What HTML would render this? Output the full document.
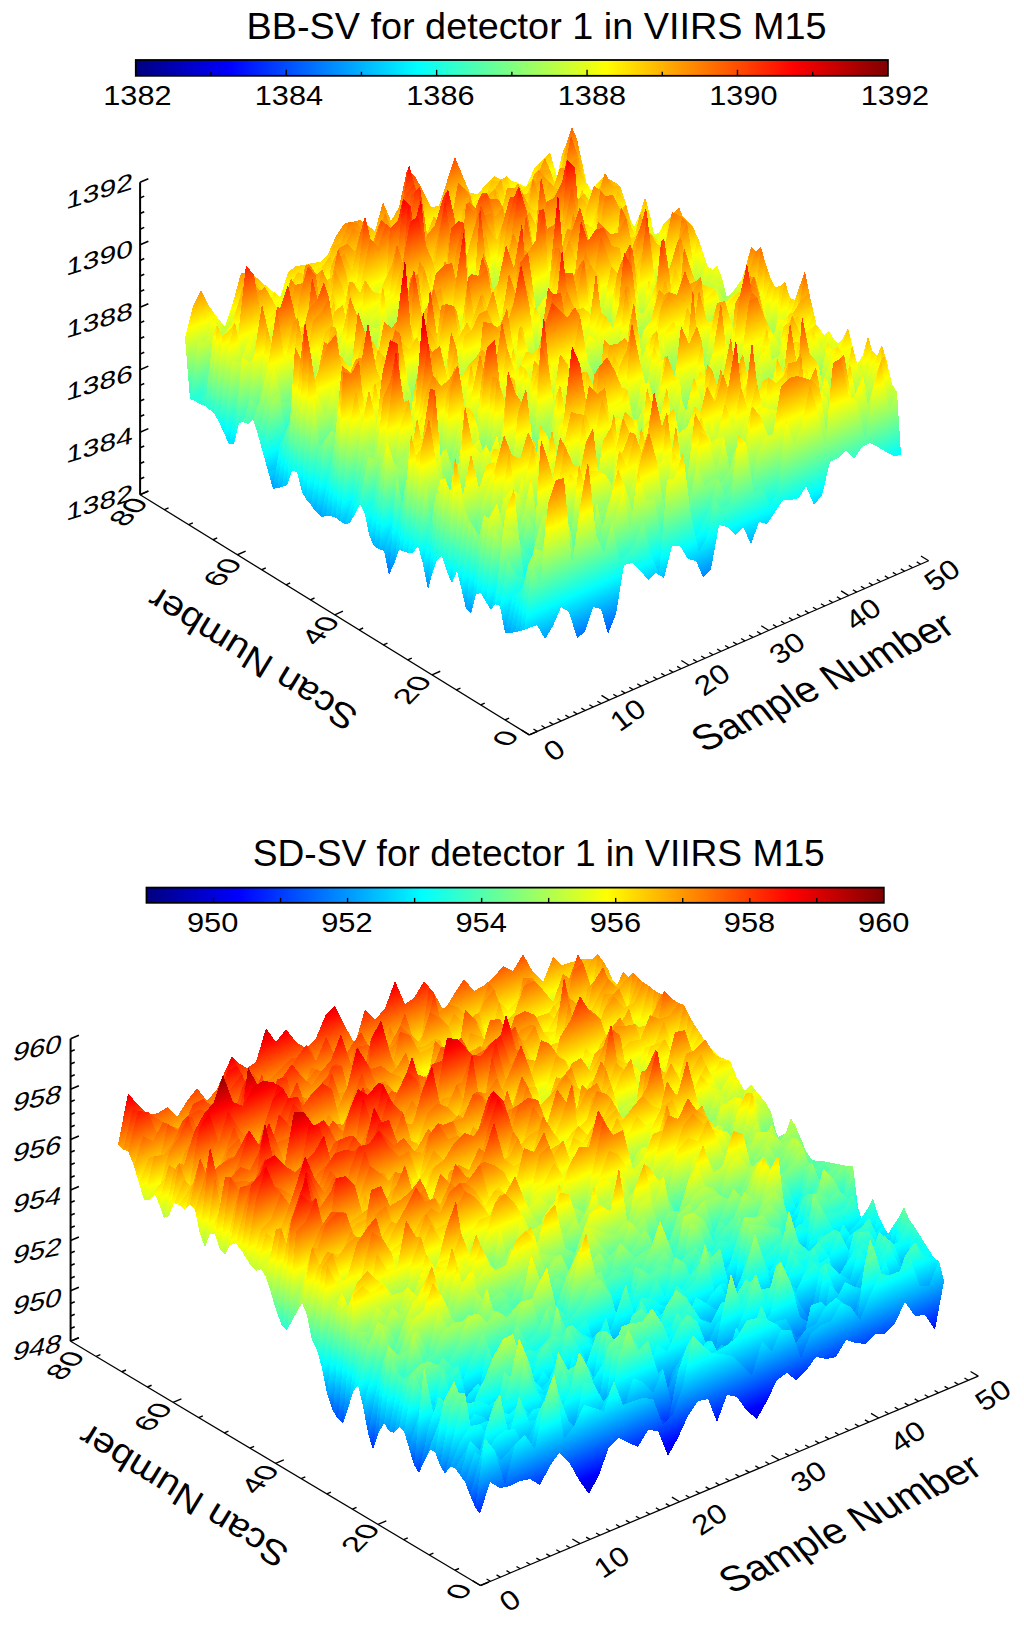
<!DOCTYPE html>
<html><head><meta charset="utf-8"><style>
html,body{margin:0;padding:0;background:#fff;overflow:hidden;width:1024px;height:1626px;}
svg{display:block;}
.s path{shape-rendering:crispEdges}
</style></head><body>
<svg width="1024" height="1626" viewBox="0 0 1024 1626">
<defs><linearGradient id="jetH1"><stop offset="0" stop-color="#000080"/><stop offset="0.125" stop-color="#0000ff"/><stop offset="0.375" stop-color="#00ffff"/><stop offset="0.625" stop-color="#ffff00"/><stop offset="0.875" stop-color="#ff0000"/><stop offset="1" stop-color="#800000"/></linearGradient>
<linearGradient id="jetH2"><stop offset="0" stop-color="#000080"/><stop offset="0.125" stop-color="#0000ff"/><stop offset="0.375" stop-color="#00ffff"/><stop offset="0.625" stop-color="#ffff00"/><stop offset="0.875" stop-color="#ff0000"/><stop offset="1" stop-color="#800000"/></linearGradient>
<linearGradient id="a70" gradientUnits="userSpaceOnUse" x1="187.8" y1="524.1" x2="73.3" y2="261.6"><stop offset="0" stop-color="#000080"/><stop offset="0.125" stop-color="#0000ff"/><stop offset="0.375" stop-color="#00ffff"/><stop offset="0.625" stop-color="#ffff00"/><stop offset="0.875" stop-color="#ff0000"/><stop offset="1" stop-color="#800000"/></linearGradient>
<linearGradient id="a69" gradientUnits="userSpaceOnUse" x1="192.6" y1="527.1" x2="78.2" y2="264.6"><stop offset="0" stop-color="#000080"/><stop offset="0.125" stop-color="#0000ff"/><stop offset="0.375" stop-color="#00ffff"/><stop offset="0.625" stop-color="#ffff00"/><stop offset="0.875" stop-color="#ff0000"/><stop offset="1" stop-color="#800000"/></linearGradient>
<linearGradient id="a68" gradientUnits="userSpaceOnUse" x1="197.5" y1="530.1" x2="83.0" y2="267.6"><stop offset="0" stop-color="#000080"/><stop offset="0.125" stop-color="#0000ff"/><stop offset="0.375" stop-color="#00ffff"/><stop offset="0.625" stop-color="#ffff00"/><stop offset="0.875" stop-color="#ff0000"/><stop offset="1" stop-color="#800000"/></linearGradient>
<linearGradient id="a67" gradientUnits="userSpaceOnUse" x1="202.3" y1="533.1" x2="87.8" y2="270.6"><stop offset="0" stop-color="#000080"/><stop offset="0.125" stop-color="#0000ff"/><stop offset="0.375" stop-color="#00ffff"/><stop offset="0.625" stop-color="#ffff00"/><stop offset="0.875" stop-color="#ff0000"/><stop offset="1" stop-color="#800000"/></linearGradient>
<linearGradient id="a66" gradientUnits="userSpaceOnUse" x1="207.1" y1="536.1" x2="92.7" y2="273.6"><stop offset="0" stop-color="#000080"/><stop offset="0.125" stop-color="#0000ff"/><stop offset="0.375" stop-color="#00ffff"/><stop offset="0.625" stop-color="#ffff00"/><stop offset="0.875" stop-color="#ff0000"/><stop offset="1" stop-color="#800000"/></linearGradient>
<linearGradient id="a65" gradientUnits="userSpaceOnUse" x1="212.0" y1="539.1" x2="97.5" y2="276.6"><stop offset="0" stop-color="#000080"/><stop offset="0.125" stop-color="#0000ff"/><stop offset="0.375" stop-color="#00ffff"/><stop offset="0.625" stop-color="#ffff00"/><stop offset="0.875" stop-color="#ff0000"/><stop offset="1" stop-color="#800000"/></linearGradient>
<linearGradient id="a64" gradientUnits="userSpaceOnUse" x1="216.8" y1="542.1" x2="102.4" y2="279.6"><stop offset="0" stop-color="#000080"/><stop offset="0.125" stop-color="#0000ff"/><stop offset="0.375" stop-color="#00ffff"/><stop offset="0.625" stop-color="#ffff00"/><stop offset="0.875" stop-color="#ff0000"/><stop offset="1" stop-color="#800000"/></linearGradient>
<linearGradient id="a63" gradientUnits="userSpaceOnUse" x1="221.7" y1="545.0" x2="107.2" y2="282.5"><stop offset="0" stop-color="#000080"/><stop offset="0.125" stop-color="#0000ff"/><stop offset="0.375" stop-color="#00ffff"/><stop offset="0.625" stop-color="#ffff00"/><stop offset="0.875" stop-color="#ff0000"/><stop offset="1" stop-color="#800000"/></linearGradient>
<linearGradient id="a62" gradientUnits="userSpaceOnUse" x1="226.5" y1="548.0" x2="112.1" y2="285.5"><stop offset="0" stop-color="#000080"/><stop offset="0.125" stop-color="#0000ff"/><stop offset="0.375" stop-color="#00ffff"/><stop offset="0.625" stop-color="#ffff00"/><stop offset="0.875" stop-color="#ff0000"/><stop offset="1" stop-color="#800000"/></linearGradient>
<linearGradient id="a61" gradientUnits="userSpaceOnUse" x1="231.4" y1="551.0" x2="116.9" y2="288.5"><stop offset="0" stop-color="#000080"/><stop offset="0.125" stop-color="#0000ff"/><stop offset="0.375" stop-color="#00ffff"/><stop offset="0.625" stop-color="#ffff00"/><stop offset="0.875" stop-color="#ff0000"/><stop offset="1" stop-color="#800000"/></linearGradient>
<linearGradient id="a60" gradientUnits="userSpaceOnUse" x1="236.2" y1="554.0" x2="121.8" y2="291.5"><stop offset="0" stop-color="#000080"/><stop offset="0.125" stop-color="#0000ff"/><stop offset="0.375" stop-color="#00ffff"/><stop offset="0.625" stop-color="#ffff00"/><stop offset="0.875" stop-color="#ff0000"/><stop offset="1" stop-color="#800000"/></linearGradient>
<linearGradient id="a59" gradientUnits="userSpaceOnUse" x1="241.1" y1="557.0" x2="126.6" y2="294.5"><stop offset="0" stop-color="#000080"/><stop offset="0.125" stop-color="#0000ff"/><stop offset="0.375" stop-color="#00ffff"/><stop offset="0.625" stop-color="#ffff00"/><stop offset="0.875" stop-color="#ff0000"/><stop offset="1" stop-color="#800000"/></linearGradient>
<linearGradient id="a58" gradientUnits="userSpaceOnUse" x1="245.9" y1="560.0" x2="131.4" y2="297.5"><stop offset="0" stop-color="#000080"/><stop offset="0.125" stop-color="#0000ff"/><stop offset="0.375" stop-color="#00ffff"/><stop offset="0.625" stop-color="#ffff00"/><stop offset="0.875" stop-color="#ff0000"/><stop offset="1" stop-color="#800000"/></linearGradient>
<linearGradient id="a57" gradientUnits="userSpaceOnUse" x1="250.7" y1="563.0" x2="136.3" y2="300.5"><stop offset="0" stop-color="#000080"/><stop offset="0.125" stop-color="#0000ff"/><stop offset="0.375" stop-color="#00ffff"/><stop offset="0.625" stop-color="#ffff00"/><stop offset="0.875" stop-color="#ff0000"/><stop offset="1" stop-color="#800000"/></linearGradient>
<linearGradient id="a56" gradientUnits="userSpaceOnUse" x1="255.6" y1="566.0" x2="141.1" y2="303.5"><stop offset="0" stop-color="#000080"/><stop offset="0.125" stop-color="#0000ff"/><stop offset="0.375" stop-color="#00ffff"/><stop offset="0.625" stop-color="#ffff00"/><stop offset="0.875" stop-color="#ff0000"/><stop offset="1" stop-color="#800000"/></linearGradient>
<linearGradient id="a55" gradientUnits="userSpaceOnUse" x1="260.4" y1="569.0" x2="146.0" y2="306.5"><stop offset="0" stop-color="#000080"/><stop offset="0.125" stop-color="#0000ff"/><stop offset="0.375" stop-color="#00ffff"/><stop offset="0.625" stop-color="#ffff00"/><stop offset="0.875" stop-color="#ff0000"/><stop offset="1" stop-color="#800000"/></linearGradient>
<linearGradient id="a54" gradientUnits="userSpaceOnUse" x1="265.3" y1="572.0" x2="150.8" y2="309.5"><stop offset="0" stop-color="#000080"/><stop offset="0.125" stop-color="#0000ff"/><stop offset="0.375" stop-color="#00ffff"/><stop offset="0.625" stop-color="#ffff00"/><stop offset="0.875" stop-color="#ff0000"/><stop offset="1" stop-color="#800000"/></linearGradient>
<linearGradient id="a53" gradientUnits="userSpaceOnUse" x1="270.1" y1="574.9" x2="155.7" y2="312.4"><stop offset="0" stop-color="#000080"/><stop offset="0.125" stop-color="#0000ff"/><stop offset="0.375" stop-color="#00ffff"/><stop offset="0.625" stop-color="#ffff00"/><stop offset="0.875" stop-color="#ff0000"/><stop offset="1" stop-color="#800000"/></linearGradient>
<linearGradient id="a52" gradientUnits="userSpaceOnUse" x1="275.0" y1="577.9" x2="160.5" y2="315.4"><stop offset="0" stop-color="#000080"/><stop offset="0.125" stop-color="#0000ff"/><stop offset="0.375" stop-color="#00ffff"/><stop offset="0.625" stop-color="#ffff00"/><stop offset="0.875" stop-color="#ff0000"/><stop offset="1" stop-color="#800000"/></linearGradient>
<linearGradient id="a51" gradientUnits="userSpaceOnUse" x1="279.8" y1="580.9" x2="165.4" y2="318.4"><stop offset="0" stop-color="#000080"/><stop offset="0.125" stop-color="#0000ff"/><stop offset="0.375" stop-color="#00ffff"/><stop offset="0.625" stop-color="#ffff00"/><stop offset="0.875" stop-color="#ff0000"/><stop offset="1" stop-color="#800000"/></linearGradient>
<linearGradient id="a50" gradientUnits="userSpaceOnUse" x1="284.7" y1="583.9" x2="170.2" y2="321.4"><stop offset="0" stop-color="#000080"/><stop offset="0.125" stop-color="#0000ff"/><stop offset="0.375" stop-color="#00ffff"/><stop offset="0.625" stop-color="#ffff00"/><stop offset="0.875" stop-color="#ff0000"/><stop offset="1" stop-color="#800000"/></linearGradient>
<linearGradient id="a49" gradientUnits="userSpaceOnUse" x1="289.5" y1="586.9" x2="175.0" y2="324.4"><stop offset="0" stop-color="#000080"/><stop offset="0.125" stop-color="#0000ff"/><stop offset="0.375" stop-color="#00ffff"/><stop offset="0.625" stop-color="#ffff00"/><stop offset="0.875" stop-color="#ff0000"/><stop offset="1" stop-color="#800000"/></linearGradient>
<linearGradient id="a48" gradientUnits="userSpaceOnUse" x1="294.3" y1="589.9" x2="179.9" y2="327.4"><stop offset="0" stop-color="#000080"/><stop offset="0.125" stop-color="#0000ff"/><stop offset="0.375" stop-color="#00ffff"/><stop offset="0.625" stop-color="#ffff00"/><stop offset="0.875" stop-color="#ff0000"/><stop offset="1" stop-color="#800000"/></linearGradient>
<linearGradient id="a47" gradientUnits="userSpaceOnUse" x1="299.2" y1="592.9" x2="184.7" y2="330.4"><stop offset="0" stop-color="#000080"/><stop offset="0.125" stop-color="#0000ff"/><stop offset="0.375" stop-color="#00ffff"/><stop offset="0.625" stop-color="#ffff00"/><stop offset="0.875" stop-color="#ff0000"/><stop offset="1" stop-color="#800000"/></linearGradient>
<linearGradient id="a46" gradientUnits="userSpaceOnUse" x1="304.0" y1="595.9" x2="189.6" y2="333.4"><stop offset="0" stop-color="#000080"/><stop offset="0.125" stop-color="#0000ff"/><stop offset="0.375" stop-color="#00ffff"/><stop offset="0.625" stop-color="#ffff00"/><stop offset="0.875" stop-color="#ff0000"/><stop offset="1" stop-color="#800000"/></linearGradient>
<linearGradient id="a45" gradientUnits="userSpaceOnUse" x1="308.9" y1="598.9" x2="194.4" y2="336.4"><stop offset="0" stop-color="#000080"/><stop offset="0.125" stop-color="#0000ff"/><stop offset="0.375" stop-color="#00ffff"/><stop offset="0.625" stop-color="#ffff00"/><stop offset="0.875" stop-color="#ff0000"/><stop offset="1" stop-color="#800000"/></linearGradient>
<linearGradient id="a44" gradientUnits="userSpaceOnUse" x1="313.7" y1="601.9" x2="199.3" y2="339.4"><stop offset="0" stop-color="#000080"/><stop offset="0.125" stop-color="#0000ff"/><stop offset="0.375" stop-color="#00ffff"/><stop offset="0.625" stop-color="#ffff00"/><stop offset="0.875" stop-color="#ff0000"/><stop offset="1" stop-color="#800000"/></linearGradient>
<linearGradient id="a43" gradientUnits="userSpaceOnUse" x1="318.6" y1="604.8" x2="204.1" y2="342.3"><stop offset="0" stop-color="#000080"/><stop offset="0.125" stop-color="#0000ff"/><stop offset="0.375" stop-color="#00ffff"/><stop offset="0.625" stop-color="#ffff00"/><stop offset="0.875" stop-color="#ff0000"/><stop offset="1" stop-color="#800000"/></linearGradient>
<linearGradient id="a42" gradientUnits="userSpaceOnUse" x1="323.4" y1="607.8" x2="209.0" y2="345.3"><stop offset="0" stop-color="#000080"/><stop offset="0.125" stop-color="#0000ff"/><stop offset="0.375" stop-color="#00ffff"/><stop offset="0.625" stop-color="#ffff00"/><stop offset="0.875" stop-color="#ff0000"/><stop offset="1" stop-color="#800000"/></linearGradient>
<linearGradient id="a41" gradientUnits="userSpaceOnUse" x1="328.3" y1="610.8" x2="213.8" y2="348.3"><stop offset="0" stop-color="#000080"/><stop offset="0.125" stop-color="#0000ff"/><stop offset="0.375" stop-color="#00ffff"/><stop offset="0.625" stop-color="#ffff00"/><stop offset="0.875" stop-color="#ff0000"/><stop offset="1" stop-color="#800000"/></linearGradient>
<linearGradient id="a40" gradientUnits="userSpaceOnUse" x1="333.1" y1="613.8" x2="218.6" y2="351.3"><stop offset="0" stop-color="#000080"/><stop offset="0.125" stop-color="#0000ff"/><stop offset="0.375" stop-color="#00ffff"/><stop offset="0.625" stop-color="#ffff00"/><stop offset="0.875" stop-color="#ff0000"/><stop offset="1" stop-color="#800000"/></linearGradient>
<linearGradient id="a39" gradientUnits="userSpaceOnUse" x1="337.9" y1="616.8" x2="223.5" y2="354.3"><stop offset="0" stop-color="#000080"/><stop offset="0.125" stop-color="#0000ff"/><stop offset="0.375" stop-color="#00ffff"/><stop offset="0.625" stop-color="#ffff00"/><stop offset="0.875" stop-color="#ff0000"/><stop offset="1" stop-color="#800000"/></linearGradient>
<linearGradient id="a38" gradientUnits="userSpaceOnUse" x1="342.8" y1="619.8" x2="228.3" y2="357.3"><stop offset="0" stop-color="#000080"/><stop offset="0.125" stop-color="#0000ff"/><stop offset="0.375" stop-color="#00ffff"/><stop offset="0.625" stop-color="#ffff00"/><stop offset="0.875" stop-color="#ff0000"/><stop offset="1" stop-color="#800000"/></linearGradient>
<linearGradient id="a37" gradientUnits="userSpaceOnUse" x1="347.6" y1="622.8" x2="233.2" y2="360.3"><stop offset="0" stop-color="#000080"/><stop offset="0.125" stop-color="#0000ff"/><stop offset="0.375" stop-color="#00ffff"/><stop offset="0.625" stop-color="#ffff00"/><stop offset="0.875" stop-color="#ff0000"/><stop offset="1" stop-color="#800000"/></linearGradient>
<linearGradient id="a36" gradientUnits="userSpaceOnUse" x1="352.5" y1="625.8" x2="238.0" y2="363.3"><stop offset="0" stop-color="#000080"/><stop offset="0.125" stop-color="#0000ff"/><stop offset="0.375" stop-color="#00ffff"/><stop offset="0.625" stop-color="#ffff00"/><stop offset="0.875" stop-color="#ff0000"/><stop offset="1" stop-color="#800000"/></linearGradient>
<linearGradient id="a35" gradientUnits="userSpaceOnUse" x1="357.3" y1="628.8" x2="242.9" y2="366.3"><stop offset="0" stop-color="#000080"/><stop offset="0.125" stop-color="#0000ff"/><stop offset="0.375" stop-color="#00ffff"/><stop offset="0.625" stop-color="#ffff00"/><stop offset="0.875" stop-color="#ff0000"/><stop offset="1" stop-color="#800000"/></linearGradient>
<linearGradient id="a34" gradientUnits="userSpaceOnUse" x1="362.2" y1="631.8" x2="247.7" y2="369.3"><stop offset="0" stop-color="#000080"/><stop offset="0.125" stop-color="#0000ff"/><stop offset="0.375" stop-color="#00ffff"/><stop offset="0.625" stop-color="#ffff00"/><stop offset="0.875" stop-color="#ff0000"/><stop offset="1" stop-color="#800000"/></linearGradient>
<linearGradient id="a33" gradientUnits="userSpaceOnUse" x1="367.0" y1="634.7" x2="252.6" y2="372.2"><stop offset="0" stop-color="#000080"/><stop offset="0.125" stop-color="#0000ff"/><stop offset="0.375" stop-color="#00ffff"/><stop offset="0.625" stop-color="#ffff00"/><stop offset="0.875" stop-color="#ff0000"/><stop offset="1" stop-color="#800000"/></linearGradient>
<linearGradient id="a32" gradientUnits="userSpaceOnUse" x1="371.9" y1="637.7" x2="257.4" y2="375.2"><stop offset="0" stop-color="#000080"/><stop offset="0.125" stop-color="#0000ff"/><stop offset="0.375" stop-color="#00ffff"/><stop offset="0.625" stop-color="#ffff00"/><stop offset="0.875" stop-color="#ff0000"/><stop offset="1" stop-color="#800000"/></linearGradient>
<linearGradient id="a31" gradientUnits="userSpaceOnUse" x1="376.7" y1="640.7" x2="262.2" y2="378.2"><stop offset="0" stop-color="#000080"/><stop offset="0.125" stop-color="#0000ff"/><stop offset="0.375" stop-color="#00ffff"/><stop offset="0.625" stop-color="#ffff00"/><stop offset="0.875" stop-color="#ff0000"/><stop offset="1" stop-color="#800000"/></linearGradient>
<linearGradient id="a30" gradientUnits="userSpaceOnUse" x1="381.5" y1="643.7" x2="267.1" y2="381.2"><stop offset="0" stop-color="#000080"/><stop offset="0.125" stop-color="#0000ff"/><stop offset="0.375" stop-color="#00ffff"/><stop offset="0.625" stop-color="#ffff00"/><stop offset="0.875" stop-color="#ff0000"/><stop offset="1" stop-color="#800000"/></linearGradient>
<linearGradient id="a29" gradientUnits="userSpaceOnUse" x1="386.4" y1="646.7" x2="271.9" y2="384.2"><stop offset="0" stop-color="#000080"/><stop offset="0.125" stop-color="#0000ff"/><stop offset="0.375" stop-color="#00ffff"/><stop offset="0.625" stop-color="#ffff00"/><stop offset="0.875" stop-color="#ff0000"/><stop offset="1" stop-color="#800000"/></linearGradient>
<linearGradient id="a28" gradientUnits="userSpaceOnUse" x1="391.2" y1="649.7" x2="276.8" y2="387.2"><stop offset="0" stop-color="#000080"/><stop offset="0.125" stop-color="#0000ff"/><stop offset="0.375" stop-color="#00ffff"/><stop offset="0.625" stop-color="#ffff00"/><stop offset="0.875" stop-color="#ff0000"/><stop offset="1" stop-color="#800000"/></linearGradient>
<linearGradient id="a27" gradientUnits="userSpaceOnUse" x1="396.1" y1="652.7" x2="281.6" y2="390.2"><stop offset="0" stop-color="#000080"/><stop offset="0.125" stop-color="#0000ff"/><stop offset="0.375" stop-color="#00ffff"/><stop offset="0.625" stop-color="#ffff00"/><stop offset="0.875" stop-color="#ff0000"/><stop offset="1" stop-color="#800000"/></linearGradient>
<linearGradient id="a26" gradientUnits="userSpaceOnUse" x1="400.9" y1="655.7" x2="286.5" y2="393.2"><stop offset="0" stop-color="#000080"/><stop offset="0.125" stop-color="#0000ff"/><stop offset="0.375" stop-color="#00ffff"/><stop offset="0.625" stop-color="#ffff00"/><stop offset="0.875" stop-color="#ff0000"/><stop offset="1" stop-color="#800000"/></linearGradient>
<linearGradient id="a25" gradientUnits="userSpaceOnUse" x1="405.8" y1="658.7" x2="291.3" y2="396.2"><stop offset="0" stop-color="#000080"/><stop offset="0.125" stop-color="#0000ff"/><stop offset="0.375" stop-color="#00ffff"/><stop offset="0.625" stop-color="#ffff00"/><stop offset="0.875" stop-color="#ff0000"/><stop offset="1" stop-color="#800000"/></linearGradient>
<linearGradient id="a24" gradientUnits="userSpaceOnUse" x1="410.6" y1="661.6" x2="296.2" y2="399.2"><stop offset="0" stop-color="#000080"/><stop offset="0.125" stop-color="#0000ff"/><stop offset="0.375" stop-color="#00ffff"/><stop offset="0.625" stop-color="#ffff00"/><stop offset="0.875" stop-color="#ff0000"/><stop offset="1" stop-color="#800000"/></linearGradient>
<linearGradient id="a23" gradientUnits="userSpaceOnUse" x1="415.5" y1="664.6" x2="301.0" y2="402.1"><stop offset="0" stop-color="#000080"/><stop offset="0.125" stop-color="#0000ff"/><stop offset="0.375" stop-color="#00ffff"/><stop offset="0.625" stop-color="#ffff00"/><stop offset="0.875" stop-color="#ff0000"/><stop offset="1" stop-color="#800000"/></linearGradient>
<linearGradient id="a22" gradientUnits="userSpaceOnUse" x1="420.3" y1="667.6" x2="305.8" y2="405.1"><stop offset="0" stop-color="#000080"/><stop offset="0.125" stop-color="#0000ff"/><stop offset="0.375" stop-color="#00ffff"/><stop offset="0.625" stop-color="#ffff00"/><stop offset="0.875" stop-color="#ff0000"/><stop offset="1" stop-color="#800000"/></linearGradient>
<linearGradient id="a21" gradientUnits="userSpaceOnUse" x1="425.1" y1="670.6" x2="310.7" y2="408.1"><stop offset="0" stop-color="#000080"/><stop offset="0.125" stop-color="#0000ff"/><stop offset="0.375" stop-color="#00ffff"/><stop offset="0.625" stop-color="#ffff00"/><stop offset="0.875" stop-color="#ff0000"/><stop offset="1" stop-color="#800000"/></linearGradient>
<linearGradient id="a20" gradientUnits="userSpaceOnUse" x1="430.0" y1="673.6" x2="315.5" y2="411.1"><stop offset="0" stop-color="#000080"/><stop offset="0.125" stop-color="#0000ff"/><stop offset="0.375" stop-color="#00ffff"/><stop offset="0.625" stop-color="#ffff00"/><stop offset="0.875" stop-color="#ff0000"/><stop offset="1" stop-color="#800000"/></linearGradient>
<linearGradient id="a19" gradientUnits="userSpaceOnUse" x1="434.8" y1="676.6" x2="320.4" y2="414.1"><stop offset="0" stop-color="#000080"/><stop offset="0.125" stop-color="#0000ff"/><stop offset="0.375" stop-color="#00ffff"/><stop offset="0.625" stop-color="#ffff00"/><stop offset="0.875" stop-color="#ff0000"/><stop offset="1" stop-color="#800000"/></linearGradient>
<linearGradient id="a18" gradientUnits="userSpaceOnUse" x1="439.7" y1="679.6" x2="325.2" y2="417.1"><stop offset="0" stop-color="#000080"/><stop offset="0.125" stop-color="#0000ff"/><stop offset="0.375" stop-color="#00ffff"/><stop offset="0.625" stop-color="#ffff00"/><stop offset="0.875" stop-color="#ff0000"/><stop offset="1" stop-color="#800000"/></linearGradient>
<linearGradient id="a17" gradientUnits="userSpaceOnUse" x1="444.5" y1="682.6" x2="330.1" y2="420.1"><stop offset="0" stop-color="#000080"/><stop offset="0.125" stop-color="#0000ff"/><stop offset="0.375" stop-color="#00ffff"/><stop offset="0.625" stop-color="#ffff00"/><stop offset="0.875" stop-color="#ff0000"/><stop offset="1" stop-color="#800000"/></linearGradient>
<linearGradient id="a16" gradientUnits="userSpaceOnUse" x1="449.4" y1="685.6" x2="334.9" y2="423.1"><stop offset="0" stop-color="#000080"/><stop offset="0.125" stop-color="#0000ff"/><stop offset="0.375" stop-color="#00ffff"/><stop offset="0.625" stop-color="#ffff00"/><stop offset="0.875" stop-color="#ff0000"/><stop offset="1" stop-color="#800000"/></linearGradient>
<linearGradient id="a15" gradientUnits="userSpaceOnUse" x1="454.2" y1="688.6" x2="339.8" y2="426.1"><stop offset="0" stop-color="#000080"/><stop offset="0.125" stop-color="#0000ff"/><stop offset="0.375" stop-color="#00ffff"/><stop offset="0.625" stop-color="#ffff00"/><stop offset="0.875" stop-color="#ff0000"/><stop offset="1" stop-color="#800000"/></linearGradient>
<linearGradient id="a14" gradientUnits="userSpaceOnUse" x1="459.1" y1="691.5" x2="344.6" y2="429.1"><stop offset="0" stop-color="#000080"/><stop offset="0.125" stop-color="#0000ff"/><stop offset="0.375" stop-color="#00ffff"/><stop offset="0.625" stop-color="#ffff00"/><stop offset="0.875" stop-color="#ff0000"/><stop offset="1" stop-color="#800000"/></linearGradient>
<linearGradient id="a13" gradientUnits="userSpaceOnUse" x1="463.9" y1="694.5" x2="349.4" y2="432.0"><stop offset="0" stop-color="#000080"/><stop offset="0.125" stop-color="#0000ff"/><stop offset="0.375" stop-color="#00ffff"/><stop offset="0.625" stop-color="#ffff00"/><stop offset="0.875" stop-color="#ff0000"/><stop offset="1" stop-color="#800000"/></linearGradient>
<linearGradient id="a12" gradientUnits="userSpaceOnUse" x1="468.7" y1="697.5" x2="354.3" y2="435.0"><stop offset="0" stop-color="#000080"/><stop offset="0.125" stop-color="#0000ff"/><stop offset="0.375" stop-color="#00ffff"/><stop offset="0.625" stop-color="#ffff00"/><stop offset="0.875" stop-color="#ff0000"/><stop offset="1" stop-color="#800000"/></linearGradient>
<linearGradient id="a11" gradientUnits="userSpaceOnUse" x1="473.6" y1="700.5" x2="359.1" y2="438.0"><stop offset="0" stop-color="#000080"/><stop offset="0.125" stop-color="#0000ff"/><stop offset="0.375" stop-color="#00ffff"/><stop offset="0.625" stop-color="#ffff00"/><stop offset="0.875" stop-color="#ff0000"/><stop offset="1" stop-color="#800000"/></linearGradient>
<linearGradient id="a10" gradientUnits="userSpaceOnUse" x1="478.4" y1="703.5" x2="364.0" y2="441.0"><stop offset="0" stop-color="#000080"/><stop offset="0.125" stop-color="#0000ff"/><stop offset="0.375" stop-color="#00ffff"/><stop offset="0.625" stop-color="#ffff00"/><stop offset="0.875" stop-color="#ff0000"/><stop offset="1" stop-color="#800000"/></linearGradient>
<linearGradient id="a9" gradientUnits="userSpaceOnUse" x1="483.3" y1="706.5" x2="368.8" y2="444.0"><stop offset="0" stop-color="#000080"/><stop offset="0.125" stop-color="#0000ff"/><stop offset="0.375" stop-color="#00ffff"/><stop offset="0.625" stop-color="#ffff00"/><stop offset="0.875" stop-color="#ff0000"/><stop offset="1" stop-color="#800000"/></linearGradient>
<linearGradient id="a8" gradientUnits="userSpaceOnUse" x1="488.1" y1="709.5" x2="373.7" y2="447.0"><stop offset="0" stop-color="#000080"/><stop offset="0.125" stop-color="#0000ff"/><stop offset="0.375" stop-color="#00ffff"/><stop offset="0.625" stop-color="#ffff00"/><stop offset="0.875" stop-color="#ff0000"/><stop offset="1" stop-color="#800000"/></linearGradient>
<linearGradient id="a7" gradientUnits="userSpaceOnUse" x1="493.0" y1="712.5" x2="378.5" y2="450.0"><stop offset="0" stop-color="#000080"/><stop offset="0.125" stop-color="#0000ff"/><stop offset="0.375" stop-color="#00ffff"/><stop offset="0.625" stop-color="#ffff00"/><stop offset="0.875" stop-color="#ff0000"/><stop offset="1" stop-color="#800000"/></linearGradient>
<linearGradient id="a6" gradientUnits="userSpaceOnUse" x1="497.8" y1="715.5" x2="383.4" y2="453.0"><stop offset="0" stop-color="#000080"/><stop offset="0.125" stop-color="#0000ff"/><stop offset="0.375" stop-color="#00ffff"/><stop offset="0.625" stop-color="#ffff00"/><stop offset="0.875" stop-color="#ff0000"/><stop offset="1" stop-color="#800000"/></linearGradient>
<linearGradient id="a5" gradientUnits="userSpaceOnUse" x1="502.7" y1="718.5" x2="388.2" y2="456.0"><stop offset="0" stop-color="#000080"/><stop offset="0.125" stop-color="#0000ff"/><stop offset="0.375" stop-color="#00ffff"/><stop offset="0.625" stop-color="#ffff00"/><stop offset="0.875" stop-color="#ff0000"/><stop offset="1" stop-color="#800000"/></linearGradient>
<linearGradient id="a4" gradientUnits="userSpaceOnUse" x1="507.5" y1="721.4" x2="393.0" y2="458.9"><stop offset="0" stop-color="#000080"/><stop offset="0.125" stop-color="#0000ff"/><stop offset="0.375" stop-color="#00ffff"/><stop offset="0.625" stop-color="#ffff00"/><stop offset="0.875" stop-color="#ff0000"/><stop offset="1" stop-color="#800000"/></linearGradient>
<linearGradient id="a3" gradientUnits="userSpaceOnUse" x1="512.3" y1="724.4" x2="397.9" y2="461.9"><stop offset="0" stop-color="#000080"/><stop offset="0.125" stop-color="#0000ff"/><stop offset="0.375" stop-color="#00ffff"/><stop offset="0.625" stop-color="#ffff00"/><stop offset="0.875" stop-color="#ff0000"/><stop offset="1" stop-color="#800000"/></linearGradient>
<linearGradient id="a2" gradientUnits="userSpaceOnUse" x1="517.2" y1="727.4" x2="402.7" y2="464.9"><stop offset="0" stop-color="#000080"/><stop offset="0.125" stop-color="#0000ff"/><stop offset="0.375" stop-color="#00ffff"/><stop offset="0.625" stop-color="#ffff00"/><stop offset="0.875" stop-color="#ff0000"/><stop offset="1" stop-color="#800000"/></linearGradient>
<linearGradient id="a1" gradientUnits="userSpaceOnUse" x1="522.0" y1="730.4" x2="407.6" y2="467.9"><stop offset="0" stop-color="#000080"/><stop offset="0.125" stop-color="#0000ff"/><stop offset="0.375" stop-color="#00ffff"/><stop offset="0.625" stop-color="#ffff00"/><stop offset="0.875" stop-color="#ff0000"/><stop offset="1" stop-color="#800000"/></linearGradient>
<linearGradient id="a0" gradientUnits="userSpaceOnUse" x1="526.9" y1="733.4" x2="412.4" y2="470.9"><stop offset="0" stop-color="#000080"/><stop offset="0.125" stop-color="#0000ff"/><stop offset="0.375" stop-color="#00ffff"/><stop offset="0.625" stop-color="#ffff00"/><stop offset="0.875" stop-color="#ff0000"/><stop offset="1" stop-color="#800000"/></linearGradient>
<linearGradient id="b70" gradientUnits="userSpaceOnUse" x1="120.8" y1="1345.9" x2="21.7" y2="1110.4"><stop offset="0" stop-color="#000080"/><stop offset="0.125" stop-color="#0000ff"/><stop offset="0.375" stop-color="#00ffff"/><stop offset="0.625" stop-color="#ffff00"/><stop offset="0.875" stop-color="#ff0000"/><stop offset="1" stop-color="#800000"/></linearGradient>
<linearGradient id="b69" gradientUnits="userSpaceOnUse" x1="125.9" y1="1349.0" x2="26.8" y2="1113.4"><stop offset="0" stop-color="#000080"/><stop offset="0.125" stop-color="#0000ff"/><stop offset="0.375" stop-color="#00ffff"/><stop offset="0.625" stop-color="#ffff00"/><stop offset="0.875" stop-color="#ff0000"/><stop offset="1" stop-color="#800000"/></linearGradient>
<linearGradient id="b68" gradientUnits="userSpaceOnUse" x1="131.0" y1="1352.0" x2="31.9" y2="1116.5"><stop offset="0" stop-color="#000080"/><stop offset="0.125" stop-color="#0000ff"/><stop offset="0.375" stop-color="#00ffff"/><stop offset="0.625" stop-color="#ffff00"/><stop offset="0.875" stop-color="#ff0000"/><stop offset="1" stop-color="#800000"/></linearGradient>
<linearGradient id="b67" gradientUnits="userSpaceOnUse" x1="136.1" y1="1355.0" x2="37.0" y2="1119.5"><stop offset="0" stop-color="#000080"/><stop offset="0.125" stop-color="#0000ff"/><stop offset="0.375" stop-color="#00ffff"/><stop offset="0.625" stop-color="#ffff00"/><stop offset="0.875" stop-color="#ff0000"/><stop offset="1" stop-color="#800000"/></linearGradient>
<linearGradient id="b66" gradientUnits="userSpaceOnUse" x1="141.2" y1="1358.1" x2="42.1" y2="1122.6"><stop offset="0" stop-color="#000080"/><stop offset="0.125" stop-color="#0000ff"/><stop offset="0.375" stop-color="#00ffff"/><stop offset="0.625" stop-color="#ffff00"/><stop offset="0.875" stop-color="#ff0000"/><stop offset="1" stop-color="#800000"/></linearGradient>
<linearGradient id="b65" gradientUnits="userSpaceOnUse" x1="146.3" y1="1361.1" x2="47.2" y2="1125.6"><stop offset="0" stop-color="#000080"/><stop offset="0.125" stop-color="#0000ff"/><stop offset="0.375" stop-color="#00ffff"/><stop offset="0.625" stop-color="#ffff00"/><stop offset="0.875" stop-color="#ff0000"/><stop offset="1" stop-color="#800000"/></linearGradient>
<linearGradient id="b64" gradientUnits="userSpaceOnUse" x1="151.4" y1="1364.2" x2="52.3" y2="1128.6"><stop offset="0" stop-color="#000080"/><stop offset="0.125" stop-color="#0000ff"/><stop offset="0.375" stop-color="#00ffff"/><stop offset="0.625" stop-color="#ffff00"/><stop offset="0.875" stop-color="#ff0000"/><stop offset="1" stop-color="#800000"/></linearGradient>
<linearGradient id="b63" gradientUnits="userSpaceOnUse" x1="156.5" y1="1367.2" x2="57.4" y2="1131.7"><stop offset="0" stop-color="#000080"/><stop offset="0.125" stop-color="#0000ff"/><stop offset="0.375" stop-color="#00ffff"/><stop offset="0.625" stop-color="#ffff00"/><stop offset="0.875" stop-color="#ff0000"/><stop offset="1" stop-color="#800000"/></linearGradient>
<linearGradient id="b62" gradientUnits="userSpaceOnUse" x1="161.6" y1="1370.2" x2="62.5" y2="1134.7"><stop offset="0" stop-color="#000080"/><stop offset="0.125" stop-color="#0000ff"/><stop offset="0.375" stop-color="#00ffff"/><stop offset="0.625" stop-color="#ffff00"/><stop offset="0.875" stop-color="#ff0000"/><stop offset="1" stop-color="#800000"/></linearGradient>
<linearGradient id="b61" gradientUnits="userSpaceOnUse" x1="166.7" y1="1373.3" x2="67.6" y2="1137.8"><stop offset="0" stop-color="#000080"/><stop offset="0.125" stop-color="#0000ff"/><stop offset="0.375" stop-color="#00ffff"/><stop offset="0.625" stop-color="#ffff00"/><stop offset="0.875" stop-color="#ff0000"/><stop offset="1" stop-color="#800000"/></linearGradient>
<linearGradient id="b60" gradientUnits="userSpaceOnUse" x1="171.8" y1="1376.3" x2="72.7" y2="1140.8"><stop offset="0" stop-color="#000080"/><stop offset="0.125" stop-color="#0000ff"/><stop offset="0.375" stop-color="#00ffff"/><stop offset="0.625" stop-color="#ffff00"/><stop offset="0.875" stop-color="#ff0000"/><stop offset="1" stop-color="#800000"/></linearGradient>
<linearGradient id="b59" gradientUnits="userSpaceOnUse" x1="176.9" y1="1379.4" x2="77.9" y2="1143.8"><stop offset="0" stop-color="#000080"/><stop offset="0.125" stop-color="#0000ff"/><stop offset="0.375" stop-color="#00ffff"/><stop offset="0.625" stop-color="#ffff00"/><stop offset="0.875" stop-color="#ff0000"/><stop offset="1" stop-color="#800000"/></linearGradient>
<linearGradient id="b58" gradientUnits="userSpaceOnUse" x1="182.0" y1="1382.4" x2="83.0" y2="1146.9"><stop offset="0" stop-color="#000080"/><stop offset="0.125" stop-color="#0000ff"/><stop offset="0.375" stop-color="#00ffff"/><stop offset="0.625" stop-color="#ffff00"/><stop offset="0.875" stop-color="#ff0000"/><stop offset="1" stop-color="#800000"/></linearGradient>
<linearGradient id="b57" gradientUnits="userSpaceOnUse" x1="187.1" y1="1385.5" x2="88.1" y2="1149.9"><stop offset="0" stop-color="#000080"/><stop offset="0.125" stop-color="#0000ff"/><stop offset="0.375" stop-color="#00ffff"/><stop offset="0.625" stop-color="#ffff00"/><stop offset="0.875" stop-color="#ff0000"/><stop offset="1" stop-color="#800000"/></linearGradient>
<linearGradient id="b56" gradientUnits="userSpaceOnUse" x1="192.2" y1="1388.5" x2="93.2" y2="1153.0"><stop offset="0" stop-color="#000080"/><stop offset="0.125" stop-color="#0000ff"/><stop offset="0.375" stop-color="#00ffff"/><stop offset="0.625" stop-color="#ffff00"/><stop offset="0.875" stop-color="#ff0000"/><stop offset="1" stop-color="#800000"/></linearGradient>
<linearGradient id="b55" gradientUnits="userSpaceOnUse" x1="197.3" y1="1391.5" x2="98.3" y2="1156.0"><stop offset="0" stop-color="#000080"/><stop offset="0.125" stop-color="#0000ff"/><stop offset="0.375" stop-color="#00ffff"/><stop offset="0.625" stop-color="#ffff00"/><stop offset="0.875" stop-color="#ff0000"/><stop offset="1" stop-color="#800000"/></linearGradient>
<linearGradient id="b54" gradientUnits="userSpaceOnUse" x1="202.4" y1="1394.6" x2="103.4" y2="1159.0"><stop offset="0" stop-color="#000080"/><stop offset="0.125" stop-color="#0000ff"/><stop offset="0.375" stop-color="#00ffff"/><stop offset="0.625" stop-color="#ffff00"/><stop offset="0.875" stop-color="#ff0000"/><stop offset="1" stop-color="#800000"/></linearGradient>
<linearGradient id="b53" gradientUnits="userSpaceOnUse" x1="207.5" y1="1397.6" x2="108.5" y2="1162.1"><stop offset="0" stop-color="#000080"/><stop offset="0.125" stop-color="#0000ff"/><stop offset="0.375" stop-color="#00ffff"/><stop offset="0.625" stop-color="#ffff00"/><stop offset="0.875" stop-color="#ff0000"/><stop offset="1" stop-color="#800000"/></linearGradient>
<linearGradient id="b52" gradientUnits="userSpaceOnUse" x1="212.6" y1="1400.7" x2="113.6" y2="1165.1"><stop offset="0" stop-color="#000080"/><stop offset="0.125" stop-color="#0000ff"/><stop offset="0.375" stop-color="#00ffff"/><stop offset="0.625" stop-color="#ffff00"/><stop offset="0.875" stop-color="#ff0000"/><stop offset="1" stop-color="#800000"/></linearGradient>
<linearGradient id="b51" gradientUnits="userSpaceOnUse" x1="217.7" y1="1403.7" x2="118.7" y2="1168.2"><stop offset="0" stop-color="#000080"/><stop offset="0.125" stop-color="#0000ff"/><stop offset="0.375" stop-color="#00ffff"/><stop offset="0.625" stop-color="#ffff00"/><stop offset="0.875" stop-color="#ff0000"/><stop offset="1" stop-color="#800000"/></linearGradient>
<linearGradient id="b50" gradientUnits="userSpaceOnUse" x1="222.8" y1="1406.7" x2="123.8" y2="1171.2"><stop offset="0" stop-color="#000080"/><stop offset="0.125" stop-color="#0000ff"/><stop offset="0.375" stop-color="#00ffff"/><stop offset="0.625" stop-color="#ffff00"/><stop offset="0.875" stop-color="#ff0000"/><stop offset="1" stop-color="#800000"/></linearGradient>
<linearGradient id="b49" gradientUnits="userSpaceOnUse" x1="227.9" y1="1409.8" x2="128.9" y2="1174.3"><stop offset="0" stop-color="#000080"/><stop offset="0.125" stop-color="#0000ff"/><stop offset="0.375" stop-color="#00ffff"/><stop offset="0.625" stop-color="#ffff00"/><stop offset="0.875" stop-color="#ff0000"/><stop offset="1" stop-color="#800000"/></linearGradient>
<linearGradient id="b48" gradientUnits="userSpaceOnUse" x1="233.0" y1="1412.8" x2="134.0" y2="1177.3"><stop offset="0" stop-color="#000080"/><stop offset="0.125" stop-color="#0000ff"/><stop offset="0.375" stop-color="#00ffff"/><stop offset="0.625" stop-color="#ffff00"/><stop offset="0.875" stop-color="#ff0000"/><stop offset="1" stop-color="#800000"/></linearGradient>
<linearGradient id="b47" gradientUnits="userSpaceOnUse" x1="238.2" y1="1415.9" x2="139.1" y2="1180.3"><stop offset="0" stop-color="#000080"/><stop offset="0.125" stop-color="#0000ff"/><stop offset="0.375" stop-color="#00ffff"/><stop offset="0.625" stop-color="#ffff00"/><stop offset="0.875" stop-color="#ff0000"/><stop offset="1" stop-color="#800000"/></linearGradient>
<linearGradient id="b46" gradientUnits="userSpaceOnUse" x1="243.3" y1="1418.9" x2="144.2" y2="1183.4"><stop offset="0" stop-color="#000080"/><stop offset="0.125" stop-color="#0000ff"/><stop offset="0.375" stop-color="#00ffff"/><stop offset="0.625" stop-color="#ffff00"/><stop offset="0.875" stop-color="#ff0000"/><stop offset="1" stop-color="#800000"/></linearGradient>
<linearGradient id="b45" gradientUnits="userSpaceOnUse" x1="248.4" y1="1421.9" x2="149.3" y2="1186.4"><stop offset="0" stop-color="#000080"/><stop offset="0.125" stop-color="#0000ff"/><stop offset="0.375" stop-color="#00ffff"/><stop offset="0.625" stop-color="#ffff00"/><stop offset="0.875" stop-color="#ff0000"/><stop offset="1" stop-color="#800000"/></linearGradient>
<linearGradient id="b44" gradientUnits="userSpaceOnUse" x1="253.5" y1="1425.0" x2="154.4" y2="1189.5"><stop offset="0" stop-color="#000080"/><stop offset="0.125" stop-color="#0000ff"/><stop offset="0.375" stop-color="#00ffff"/><stop offset="0.625" stop-color="#ffff00"/><stop offset="0.875" stop-color="#ff0000"/><stop offset="1" stop-color="#800000"/></linearGradient>
<linearGradient id="b43" gradientUnits="userSpaceOnUse" x1="258.6" y1="1428.0" x2="159.5" y2="1192.5"><stop offset="0" stop-color="#000080"/><stop offset="0.125" stop-color="#0000ff"/><stop offset="0.375" stop-color="#00ffff"/><stop offset="0.625" stop-color="#ffff00"/><stop offset="0.875" stop-color="#ff0000"/><stop offset="1" stop-color="#800000"/></linearGradient>
<linearGradient id="b42" gradientUnits="userSpaceOnUse" x1="263.7" y1="1431.1" x2="164.6" y2="1195.5"><stop offset="0" stop-color="#000080"/><stop offset="0.125" stop-color="#0000ff"/><stop offset="0.375" stop-color="#00ffff"/><stop offset="0.625" stop-color="#ffff00"/><stop offset="0.875" stop-color="#ff0000"/><stop offset="1" stop-color="#800000"/></linearGradient>
<linearGradient id="b41" gradientUnits="userSpaceOnUse" x1="268.8" y1="1434.1" x2="169.7" y2="1198.6"><stop offset="0" stop-color="#000080"/><stop offset="0.125" stop-color="#0000ff"/><stop offset="0.375" stop-color="#00ffff"/><stop offset="0.625" stop-color="#ffff00"/><stop offset="0.875" stop-color="#ff0000"/><stop offset="1" stop-color="#800000"/></linearGradient>
<linearGradient id="b40" gradientUnits="userSpaceOnUse" x1="273.9" y1="1437.1" x2="174.8" y2="1201.6"><stop offset="0" stop-color="#000080"/><stop offset="0.125" stop-color="#0000ff"/><stop offset="0.375" stop-color="#00ffff"/><stop offset="0.625" stop-color="#ffff00"/><stop offset="0.875" stop-color="#ff0000"/><stop offset="1" stop-color="#800000"/></linearGradient>
<linearGradient id="b39" gradientUnits="userSpaceOnUse" x1="279.0" y1="1440.2" x2="179.9" y2="1204.7"><stop offset="0" stop-color="#000080"/><stop offset="0.125" stop-color="#0000ff"/><stop offset="0.375" stop-color="#00ffff"/><stop offset="0.625" stop-color="#ffff00"/><stop offset="0.875" stop-color="#ff0000"/><stop offset="1" stop-color="#800000"/></linearGradient>
<linearGradient id="b38" gradientUnits="userSpaceOnUse" x1="284.1" y1="1443.2" x2="185.0" y2="1207.7"><stop offset="0" stop-color="#000080"/><stop offset="0.125" stop-color="#0000ff"/><stop offset="0.375" stop-color="#00ffff"/><stop offset="0.625" stop-color="#ffff00"/><stop offset="0.875" stop-color="#ff0000"/><stop offset="1" stop-color="#800000"/></linearGradient>
<linearGradient id="b37" gradientUnits="userSpaceOnUse" x1="289.2" y1="1446.3" x2="190.1" y2="1210.7"><stop offset="0" stop-color="#000080"/><stop offset="0.125" stop-color="#0000ff"/><stop offset="0.375" stop-color="#00ffff"/><stop offset="0.625" stop-color="#ffff00"/><stop offset="0.875" stop-color="#ff0000"/><stop offset="1" stop-color="#800000"/></linearGradient>
<linearGradient id="b36" gradientUnits="userSpaceOnUse" x1="294.3" y1="1449.3" x2="195.2" y2="1213.8"><stop offset="0" stop-color="#000080"/><stop offset="0.125" stop-color="#0000ff"/><stop offset="0.375" stop-color="#00ffff"/><stop offset="0.625" stop-color="#ffff00"/><stop offset="0.875" stop-color="#ff0000"/><stop offset="1" stop-color="#800000"/></linearGradient>
<linearGradient id="b35" gradientUnits="userSpaceOnUse" x1="299.4" y1="1452.3" x2="200.3" y2="1216.8"><stop offset="0" stop-color="#000080"/><stop offset="0.125" stop-color="#0000ff"/><stop offset="0.375" stop-color="#00ffff"/><stop offset="0.625" stop-color="#ffff00"/><stop offset="0.875" stop-color="#ff0000"/><stop offset="1" stop-color="#800000"/></linearGradient>
<linearGradient id="b34" gradientUnits="userSpaceOnUse" x1="304.5" y1="1455.4" x2="205.4" y2="1219.9"><stop offset="0" stop-color="#000080"/><stop offset="0.125" stop-color="#0000ff"/><stop offset="0.375" stop-color="#00ffff"/><stop offset="0.625" stop-color="#ffff00"/><stop offset="0.875" stop-color="#ff0000"/><stop offset="1" stop-color="#800000"/></linearGradient>
<linearGradient id="b33" gradientUnits="userSpaceOnUse" x1="309.6" y1="1458.4" x2="210.5" y2="1222.9"><stop offset="0" stop-color="#000080"/><stop offset="0.125" stop-color="#0000ff"/><stop offset="0.375" stop-color="#00ffff"/><stop offset="0.625" stop-color="#ffff00"/><stop offset="0.875" stop-color="#ff0000"/><stop offset="1" stop-color="#800000"/></linearGradient>
<linearGradient id="b32" gradientUnits="userSpaceOnUse" x1="314.7" y1="1461.5" x2="215.6" y2="1225.9"><stop offset="0" stop-color="#000080"/><stop offset="0.125" stop-color="#0000ff"/><stop offset="0.375" stop-color="#00ffff"/><stop offset="0.625" stop-color="#ffff00"/><stop offset="0.875" stop-color="#ff0000"/><stop offset="1" stop-color="#800000"/></linearGradient>
<linearGradient id="b31" gradientUnits="userSpaceOnUse" x1="319.8" y1="1464.5" x2="220.7" y2="1229.0"><stop offset="0" stop-color="#000080"/><stop offset="0.125" stop-color="#0000ff"/><stop offset="0.375" stop-color="#00ffff"/><stop offset="0.625" stop-color="#ffff00"/><stop offset="0.875" stop-color="#ff0000"/><stop offset="1" stop-color="#800000"/></linearGradient>
<linearGradient id="b30" gradientUnits="userSpaceOnUse" x1="324.9" y1="1467.6" x2="225.8" y2="1232.0"><stop offset="0" stop-color="#000080"/><stop offset="0.125" stop-color="#0000ff"/><stop offset="0.375" stop-color="#00ffff"/><stop offset="0.625" stop-color="#ffff00"/><stop offset="0.875" stop-color="#ff0000"/><stop offset="1" stop-color="#800000"/></linearGradient>
<linearGradient id="b29" gradientUnits="userSpaceOnUse" x1="330.0" y1="1470.6" x2="230.9" y2="1235.1"><stop offset="0" stop-color="#000080"/><stop offset="0.125" stop-color="#0000ff"/><stop offset="0.375" stop-color="#00ffff"/><stop offset="0.625" stop-color="#ffff00"/><stop offset="0.875" stop-color="#ff0000"/><stop offset="1" stop-color="#800000"/></linearGradient>
<linearGradient id="b28" gradientUnits="userSpaceOnUse" x1="335.1" y1="1473.6" x2="236.0" y2="1238.1"><stop offset="0" stop-color="#000080"/><stop offset="0.125" stop-color="#0000ff"/><stop offset="0.375" stop-color="#00ffff"/><stop offset="0.625" stop-color="#ffff00"/><stop offset="0.875" stop-color="#ff0000"/><stop offset="1" stop-color="#800000"/></linearGradient>
<linearGradient id="b27" gradientUnits="userSpaceOnUse" x1="340.2" y1="1476.7" x2="241.1" y2="1241.2"><stop offset="0" stop-color="#000080"/><stop offset="0.125" stop-color="#0000ff"/><stop offset="0.375" stop-color="#00ffff"/><stop offset="0.625" stop-color="#ffff00"/><stop offset="0.875" stop-color="#ff0000"/><stop offset="1" stop-color="#800000"/></linearGradient>
<linearGradient id="b26" gradientUnits="userSpaceOnUse" x1="345.3" y1="1479.7" x2="246.2" y2="1244.2"><stop offset="0" stop-color="#000080"/><stop offset="0.125" stop-color="#0000ff"/><stop offset="0.375" stop-color="#00ffff"/><stop offset="0.625" stop-color="#ffff00"/><stop offset="0.875" stop-color="#ff0000"/><stop offset="1" stop-color="#800000"/></linearGradient>
<linearGradient id="b25" gradientUnits="userSpaceOnUse" x1="350.4" y1="1482.8" x2="251.3" y2="1247.2"><stop offset="0" stop-color="#000080"/><stop offset="0.125" stop-color="#0000ff"/><stop offset="0.375" stop-color="#00ffff"/><stop offset="0.625" stop-color="#ffff00"/><stop offset="0.875" stop-color="#ff0000"/><stop offset="1" stop-color="#800000"/></linearGradient>
<linearGradient id="b24" gradientUnits="userSpaceOnUse" x1="355.5" y1="1485.8" x2="256.4" y2="1250.3"><stop offset="0" stop-color="#000080"/><stop offset="0.125" stop-color="#0000ff"/><stop offset="0.375" stop-color="#00ffff"/><stop offset="0.625" stop-color="#ffff00"/><stop offset="0.875" stop-color="#ff0000"/><stop offset="1" stop-color="#800000"/></linearGradient>
<linearGradient id="b23" gradientUnits="userSpaceOnUse" x1="360.6" y1="1488.8" x2="261.5" y2="1253.3"><stop offset="0" stop-color="#000080"/><stop offset="0.125" stop-color="#0000ff"/><stop offset="0.375" stop-color="#00ffff"/><stop offset="0.625" stop-color="#ffff00"/><stop offset="0.875" stop-color="#ff0000"/><stop offset="1" stop-color="#800000"/></linearGradient>
<linearGradient id="b22" gradientUnits="userSpaceOnUse" x1="365.7" y1="1491.9" x2="266.6" y2="1256.4"><stop offset="0" stop-color="#000080"/><stop offset="0.125" stop-color="#0000ff"/><stop offset="0.375" stop-color="#00ffff"/><stop offset="0.625" stop-color="#ffff00"/><stop offset="0.875" stop-color="#ff0000"/><stop offset="1" stop-color="#800000"/></linearGradient>
<linearGradient id="b21" gradientUnits="userSpaceOnUse" x1="370.8" y1="1494.9" x2="271.7" y2="1259.4"><stop offset="0" stop-color="#000080"/><stop offset="0.125" stop-color="#0000ff"/><stop offset="0.375" stop-color="#00ffff"/><stop offset="0.625" stop-color="#ffff00"/><stop offset="0.875" stop-color="#ff0000"/><stop offset="1" stop-color="#800000"/></linearGradient>
<linearGradient id="b20" gradientUnits="userSpaceOnUse" x1="375.9" y1="1498.0" x2="276.8" y2="1262.4"><stop offset="0" stop-color="#000080"/><stop offset="0.125" stop-color="#0000ff"/><stop offset="0.375" stop-color="#00ffff"/><stop offset="0.625" stop-color="#ffff00"/><stop offset="0.875" stop-color="#ff0000"/><stop offset="1" stop-color="#800000"/></linearGradient>
<linearGradient id="b19" gradientUnits="userSpaceOnUse" x1="381.0" y1="1501.0" x2="281.9" y2="1265.5"><stop offset="0" stop-color="#000080"/><stop offset="0.125" stop-color="#0000ff"/><stop offset="0.375" stop-color="#00ffff"/><stop offset="0.625" stop-color="#ffff00"/><stop offset="0.875" stop-color="#ff0000"/><stop offset="1" stop-color="#800000"/></linearGradient>
<linearGradient id="b18" gradientUnits="userSpaceOnUse" x1="386.1" y1="1504.0" x2="287.0" y2="1268.5"><stop offset="0" stop-color="#000080"/><stop offset="0.125" stop-color="#0000ff"/><stop offset="0.375" stop-color="#00ffff"/><stop offset="0.625" stop-color="#ffff00"/><stop offset="0.875" stop-color="#ff0000"/><stop offset="1" stop-color="#800000"/></linearGradient>
<linearGradient id="b17" gradientUnits="userSpaceOnUse" x1="391.2" y1="1507.1" x2="292.1" y2="1271.6"><stop offset="0" stop-color="#000080"/><stop offset="0.125" stop-color="#0000ff"/><stop offset="0.375" stop-color="#00ffff"/><stop offset="0.625" stop-color="#ffff00"/><stop offset="0.875" stop-color="#ff0000"/><stop offset="1" stop-color="#800000"/></linearGradient>
<linearGradient id="b16" gradientUnits="userSpaceOnUse" x1="396.3" y1="1510.1" x2="297.2" y2="1274.6"><stop offset="0" stop-color="#000080"/><stop offset="0.125" stop-color="#0000ff"/><stop offset="0.375" stop-color="#00ffff"/><stop offset="0.625" stop-color="#ffff00"/><stop offset="0.875" stop-color="#ff0000"/><stop offset="1" stop-color="#800000"/></linearGradient>
<linearGradient id="b15" gradientUnits="userSpaceOnUse" x1="401.4" y1="1513.2" x2="302.3" y2="1277.6"><stop offset="0" stop-color="#000080"/><stop offset="0.125" stop-color="#0000ff"/><stop offset="0.375" stop-color="#00ffff"/><stop offset="0.625" stop-color="#ffff00"/><stop offset="0.875" stop-color="#ff0000"/><stop offset="1" stop-color="#800000"/></linearGradient>
<linearGradient id="b14" gradientUnits="userSpaceOnUse" x1="406.5" y1="1516.2" x2="307.4" y2="1280.7"><stop offset="0" stop-color="#000080"/><stop offset="0.125" stop-color="#0000ff"/><stop offset="0.375" stop-color="#00ffff"/><stop offset="0.625" stop-color="#ffff00"/><stop offset="0.875" stop-color="#ff0000"/><stop offset="1" stop-color="#800000"/></linearGradient>
<linearGradient id="b13" gradientUnits="userSpaceOnUse" x1="411.6" y1="1519.2" x2="312.5" y2="1283.7"><stop offset="0" stop-color="#000080"/><stop offset="0.125" stop-color="#0000ff"/><stop offset="0.375" stop-color="#00ffff"/><stop offset="0.625" stop-color="#ffff00"/><stop offset="0.875" stop-color="#ff0000"/><stop offset="1" stop-color="#800000"/></linearGradient>
<linearGradient id="b12" gradientUnits="userSpaceOnUse" x1="416.7" y1="1522.3" x2="317.7" y2="1286.8"><stop offset="0" stop-color="#000080"/><stop offset="0.125" stop-color="#0000ff"/><stop offset="0.375" stop-color="#00ffff"/><stop offset="0.625" stop-color="#ffff00"/><stop offset="0.875" stop-color="#ff0000"/><stop offset="1" stop-color="#800000"/></linearGradient>
<linearGradient id="b11" gradientUnits="userSpaceOnUse" x1="421.8" y1="1525.3" x2="322.8" y2="1289.8"><stop offset="0" stop-color="#000080"/><stop offset="0.125" stop-color="#0000ff"/><stop offset="0.375" stop-color="#00ffff"/><stop offset="0.625" stop-color="#ffff00"/><stop offset="0.875" stop-color="#ff0000"/><stop offset="1" stop-color="#800000"/></linearGradient>
<linearGradient id="b10" gradientUnits="userSpaceOnUse" x1="426.9" y1="1528.4" x2="327.9" y2="1292.8"><stop offset="0" stop-color="#000080"/><stop offset="0.125" stop-color="#0000ff"/><stop offset="0.375" stop-color="#00ffff"/><stop offset="0.625" stop-color="#ffff00"/><stop offset="0.875" stop-color="#ff0000"/><stop offset="1" stop-color="#800000"/></linearGradient>
<linearGradient id="b9" gradientUnits="userSpaceOnUse" x1="432.0" y1="1531.4" x2="333.0" y2="1295.9"><stop offset="0" stop-color="#000080"/><stop offset="0.125" stop-color="#0000ff"/><stop offset="0.375" stop-color="#00ffff"/><stop offset="0.625" stop-color="#ffff00"/><stop offset="0.875" stop-color="#ff0000"/><stop offset="1" stop-color="#800000"/></linearGradient>
<linearGradient id="b8" gradientUnits="userSpaceOnUse" x1="437.1" y1="1534.5" x2="338.1" y2="1298.9"><stop offset="0" stop-color="#000080"/><stop offset="0.125" stop-color="#0000ff"/><stop offset="0.375" stop-color="#00ffff"/><stop offset="0.625" stop-color="#ffff00"/><stop offset="0.875" stop-color="#ff0000"/><stop offset="1" stop-color="#800000"/></linearGradient>
<linearGradient id="b7" gradientUnits="userSpaceOnUse" x1="442.2" y1="1537.5" x2="343.2" y2="1302.0"><stop offset="0" stop-color="#000080"/><stop offset="0.125" stop-color="#0000ff"/><stop offset="0.375" stop-color="#00ffff"/><stop offset="0.625" stop-color="#ffff00"/><stop offset="0.875" stop-color="#ff0000"/><stop offset="1" stop-color="#800000"/></linearGradient>
<linearGradient id="b6" gradientUnits="userSpaceOnUse" x1="447.3" y1="1540.5" x2="348.3" y2="1305.0"><stop offset="0" stop-color="#000080"/><stop offset="0.125" stop-color="#0000ff"/><stop offset="0.375" stop-color="#00ffff"/><stop offset="0.625" stop-color="#ffff00"/><stop offset="0.875" stop-color="#ff0000"/><stop offset="1" stop-color="#800000"/></linearGradient>
<linearGradient id="b5" gradientUnits="userSpaceOnUse" x1="452.4" y1="1543.6" x2="353.4" y2="1308.1"><stop offset="0" stop-color="#000080"/><stop offset="0.125" stop-color="#0000ff"/><stop offset="0.375" stop-color="#00ffff"/><stop offset="0.625" stop-color="#ffff00"/><stop offset="0.875" stop-color="#ff0000"/><stop offset="1" stop-color="#800000"/></linearGradient>
<linearGradient id="b4" gradientUnits="userSpaceOnUse" x1="457.5" y1="1546.6" x2="358.5" y2="1311.1"><stop offset="0" stop-color="#000080"/><stop offset="0.125" stop-color="#0000ff"/><stop offset="0.375" stop-color="#00ffff"/><stop offset="0.625" stop-color="#ffff00"/><stop offset="0.875" stop-color="#ff0000"/><stop offset="1" stop-color="#800000"/></linearGradient>
<linearGradient id="b3" gradientUnits="userSpaceOnUse" x1="462.6" y1="1549.7" x2="363.6" y2="1314.1"><stop offset="0" stop-color="#000080"/><stop offset="0.125" stop-color="#0000ff"/><stop offset="0.375" stop-color="#00ffff"/><stop offset="0.625" stop-color="#ffff00"/><stop offset="0.875" stop-color="#ff0000"/><stop offset="1" stop-color="#800000"/></linearGradient>
<linearGradient id="b2" gradientUnits="userSpaceOnUse" x1="467.7" y1="1552.7" x2="368.7" y2="1317.2"><stop offset="0" stop-color="#000080"/><stop offset="0.125" stop-color="#0000ff"/><stop offset="0.375" stop-color="#00ffff"/><stop offset="0.625" stop-color="#ffff00"/><stop offset="0.875" stop-color="#ff0000"/><stop offset="1" stop-color="#800000"/></linearGradient>
<linearGradient id="b1" gradientUnits="userSpaceOnUse" x1="472.8" y1="1555.7" x2="373.8" y2="1320.2"><stop offset="0" stop-color="#000080"/><stop offset="0.125" stop-color="#0000ff"/><stop offset="0.375" stop-color="#00ffff"/><stop offset="0.625" stop-color="#ffff00"/><stop offset="0.875" stop-color="#ff0000"/><stop offset="1" stop-color="#800000"/></linearGradient>
<linearGradient id="b0" gradientUnits="userSpaceOnUse" x1="477.9" y1="1558.8" x2="378.9" y2="1323.3"><stop offset="0" stop-color="#000080"/><stop offset="0.125" stop-color="#0000ff"/><stop offset="0.375" stop-color="#00ffff"/><stop offset="0.625" stop-color="#ffff00"/><stop offset="0.875" stop-color="#ff0000"/><stop offset="1" stop-color="#800000"/></linearGradient></defs>
<g class="s"><path fill="url(#a70)" d="M554 201l3-24 5-23zM554 201l-4-49 7 25zM547 184l3-32 4 49zM547 184l-5-24 8-8zM539 163l3-3 5 24zM539 163l3-3-8 9zM531 224l3-55 5-6zM531 224l-5-37 8-18zM523 223l3-36 5 37zM523 223l-5-40 8 4zM515 244l3-61 5 40zM515 244l-5-64 8 3zM507 176l3 4 5 64zM507 176l3 4-8 0zM499 181l8-5-5 4zM499 181l-5-5 8 4zM491 181l3-5 5 5zM491 181l-5 3 8-8zM483 210l3-26 5-3zM483 210l-5-16 8-10zM475 201l3-7 5 16zM475 201l-5-8 8 1zM467 224l3-31 5 8zM467 224l-5-50 8 19zM459 244l3-70 5 50zM459 244l-4-87 7 17zM451 215l4-58 4 87zM451 215l-4-34 8-24zM444 244l3-63 4 34zM444 244l-5-38 8-25zM436 227l3-21 5 38zM436 227l-5-20 8-1zM428 223l3-16 5 20zM428 223l-5-32 8 16zM420 251l3-60 5 32zM420 251l-5-75 8 15zM412 296l3-120 5 75zM412 296l-5-126 8 6zM404 235l3-65 5 126zM404 235l-5-28 8-37zM396 268l3-61 5 28zM396 268l-5-47 8-14zM388 267l3-46 5 47zM388 267l-5-65 8 19zM380 226l3-24 5 65zM380 226l-5 5 8-29zM372 259l3-28 5-5zM372 259l-5-34 8 6zM364 230l3-5 5 34zM364 230l-4-10 7 5zM356 223l4-3 4 10zM356 223l-4-1 8-2zM349 222l3 0 4 1zM349 222l3 0-8 2zM341 243l3-19 5-2zM341 243l-5-7 8-12zM333 246l3-10 5 7zM333 246l-5 8 8-18zM325 276l3-22 5-8zM325 276l-5-14 8-8zM317 269l3-7 5 14zM317 269l-5-6 8-1zM309 298l3-35 5 6zM309 298l-5-33 8-2zM301 304l3-39 5 33zM301 304l-5-38 8-1zM293 286l3-20 5 38zM293 286l-5-14 8-6zM285 301l3-29 5 14zM285 301l-5-3 8-26zM277 330l3-32 5 3zM277 330l-5-39 8 7zM269 300l3-9 5 39zM269 300l-4-15 7 6zM261 289l4-4 4 15zM261 289l-4-11 8 7zM254 281l3-3 4 11zM254 281l-5-9 8 6zM246 319l3-47 5 9zM246 319l-5-46 8-1zM238 303l3-30 5 46zM238 303l-5-1 8-29zM230 330l3-28 5 1zM230 330l-5-3 8-25zM222 344l3-17 5 3zM222 344l-5-27 8 10zM214 316l3 1 5 27zM214 316l-5-10 8 11zM206 342l3-36 5 10zM206 342l-5-52 8 16zM198 341l3-51 5 52zM198 341l-5-35 8-16zM190 399l3-93 5 35zM190 399l-5-61 8-32z"/>
<path fill="url(#a69)" d="M559 178l3-24 5-12zM559 178l-5 23 8-47zM551 175l8 3-5 23zM551 175l3 26-7-17zM543 192l8-17-4 9zM543 192l-4-29 8 21zM536 211l3-48 4 29zM536 211l-5 13 8-61zM528 193l8 18-5 13zM528 193l3 31-8-1zM520 185l8 8-5 30zM520 185l3 38-8 21zM512 195l8-10-5 59zM512 195l3 49-8-68zM504 188l3-12 5 19zM504 188l-5-7 8-5zM496 197l3-16 5 7zM496 197l-5-16 8 0zM488 191l3-10 5 16zM488 191l3-10-8 29zM480 199l8-8-5 19zM480 199l3 11-8-9zM472 238l3-37 5-2zM472 238l-5-14 8-23zM464 188l8 50-5-14zM464 188l3 36-8 20zM456 258l8-70-5 56zM456 258l-5-43 8 29zM448 279l3-64 5 43zM448 279l-4-35 7-29zM440 211l4 33 4 35zM440 211l4 33-8-17zM433 261l3-34 4-16zM433 261l-5-38 8 4zM425 263l3-40 5 38zM425 263l-5-12 8-28zM417 204l8 59-5-12zM417 204l3 47-8 45zM409 164l8 40-5 92zM409 164l3 132-8-61zM401 211l8-47-5 71zM401 211l3 24-8 33zM393 231l8-20-5 57zM393 231l3 37-8-1zM385 213l8 18-5 36zM385 213l3 54-8-41zM377 245l3-19 5-13zM377 245l-5 14 8-33zM369 254l8-9-5 14zM369 254l-5-24 8 29zM361 233l3-3 5 24zM361 233l-5-10 8 7zM353 228l3-5 5 10zM353 228l-4-6 7 1zM345 246l4-24 4 6zM345 246l-4-3 8-21zM338 272l3-29 4 3zM338 272l-5-26 8-3zM330 256l3-10 5 26zM330 256l3-10-8 30zM322 267l8-11-5 20zM322 267l3 9-8-7zM314 326l3-57 5-2zM314 326l-5-28 8-29zM306 275l8 51-5-28zM306 275l3 23-8 6zM298 272l8 3-5 29zM298 272l3 32-8-18zM290 285l8-13-5 14zM290 285l3 1-8 15zM282 299l8-14-5 16zM282 299l3 2-8 29zM274 292l8 7-5 31zM274 292l3 38-8-30zM266 320l3-20 5-8zM266 320l-5-31 8 11zM258 352l3-63 5 31zM258 352l-4-71 7 8zM250 289l4-8 4 71zM250 289l4-8-8 38zM243 286l7 3-4 30zM243 286l3 33-8-16zM235 323l3-20 5-17zM235 323l-5 7 8-27zM227 332l8-9-5 7zM227 332l3-2-8 14zM219 338l8-6-5 12zM219 338l-5-22 8 28zM211 361l3-45 5 22zM211 361l-5-19 8-26zM203 392l3-50 5 19zM203 392l-5-51 8 1zM195 401l3-60 5 51zM195 401l-5-2 8-58z"/>
<path fill="url(#a68)" d="M564 156l3-14 5-15zM564 156l-5 22 8-36zM556 199l3-21 5-22zM556 199l-5-24 8 3zM548 168l3 7 5 24zM548 168l3 7-8 17zM540 186l8-18-5 24zM540 186l3 6-7 19zM532 180l8 6-4 25zM532 180l4 31-8-18zM525 188l7-8-4 13zM525 188l3 5-8-8zM517 195l3-10 5 3zM517 195l-5 0 8-10zM509 216l3-21 5 0zM509 216l-5-28 8 7zM501 179l3 9 5 28zM501 179l3 9-8 9zM493 192l8-13-5 18zM493 192l3 5-8-6zM485 199l3-8 5 1zM485 199l-5 0 8-8zM477 217l3-18 5 0zM477 217l-5 21 8-39zM469 192l8 25-5 21zM469 192l3 46-8-50zM461 218l3-30 5 4zM461 218l-5 40 8-70zM453 211l8 7-5 40zM453 211l3 47-8 21zM445 209l8 2-5 68zM445 209l3 70-8-68zM437 272l3-61 5-2zM437 272l-4-11 7-50zM430 234l7 38-4-11zM430 234l3 27-8 2zM422 230l8 4-5 29zM422 230l3 33-8-59zM414 183l8 47-5-26zM414 183l3 21-8-40zM406 194l3-30 5 19zM406 194l-5 17 8-47zM398 236l3-25 5-17zM398 236l-5-5 8-20zM390 258l3-27 5 5zM390 258l-5-45 8 18zM382 236l3-23 5 45zM382 236l-5 9 8-32zM374 258l3-13 5-9zM374 258l-5-4 8-9zM366 265l3-11 5 4zM366 265l-5-32 8 21zM358 257l3-24 5 32zM358 257l-5-29 8 5zM350 277l3-49 5 29zM350 277l-5-31 8-18zM342 278l3-32 5 31zM342 278l-4-6 7-26zM334 301l4-29 4 6zM334 301l-4-45 8 16zM327 296l3-40 4 45zM327 296l-5-29 8-11zM319 307l3-40 5 29zM319 307l-5 19 8-59zM311 351l3-25 5-19zM311 351l-5-76 8 51zM303 328l3-53 5 76zM303 328l-5-56 8 3zM295 290l3-18 5 56zM295 290l-5-5 8-13zM287 293l3-8 5 5zM287 293l-5 6 8-14zM279 304l3-5 5-6zM279 304l-5-12 8 7zM271 337l3-45 5 12zM271 337l-5-17 8-28zM263 345l3-25 5 17zM263 345l-5 7 8-32zM255 291l8 54-5 7zM255 291l3 61-8-63zM247 291l3-2 5 2zM247 291l-4-5 7 3zM239 301l4-15 4 5zM239 301l4-15-8 37zM232 323l7-22-4 22zM232 323l3 0-8 9zM224 334l8-11-5 9zM224 334l3-2-8 6zM216 366l3-28 5-4zM216 366l-5-5 8-23zM208 389l3-28 5 5zM208 389l-5 3 8-31zM200 404l3-12 5-3zM200 404l-5-3 8-9z"/>
<path fill="url(#a67)" d="M569 212l3-85 5 12zM569 212l-5-56 8-29zM561 185l3-29 5 56zM561 185l-5 14 8-43zM553 203l8-18-5 14zM553 203l-5-35 8 31zM545 158l3 10 5 35zM545 158l3 10-8 18zM537 175l8-17-5 28zM537 175l3 11-8-6zM529 202l3-22 5-5zM529 202l-4-14 7-8zM521 194l4-6 4 14zM521 194l-4 1 8-7zM514 224l3-29 4-1zM514 224l-5-8 8-21zM506 221l3-5 5 8zM506 221l-5-42 8 37zM498 193l3-14 5 42zM498 193l-5-1 8-13zM490 193l3-1 5 1zM490 193l3-1-8 7zM482 206l3-7 5-6zM482 206l-5 11 8-18zM474 242l3-25 5-11zM474 242l-5-50 8 25zM466 191l3 1 5 50zM466 191l3 1-8 26zM458 183l8 8-5 27zM458 183l3 35-8-7zM450 229l3-18 5-28zM450 229l-5-20 8 2zM442 225l3-16 5 20zM442 225l3-16-8 63zM434 216l8 9-5 47zM434 216l3 56-7-38zM426 236l8-20-4 18zM426 236l-4-6 8 4zM419 199l7 37-4-6zM419 199l3 31-8-47zM411 196l3-13 5 16zM411 196l-5-2 8-11zM403 266l3-72 5 2zM403 266l-5-30 8-42zM395 294l3-58 5 30zM395 294l-5-36 8-22zM387 320l3-62 5 36zM387 320l-5-84 8 22zM379 291l3-55 5 84zM379 291l-5-33 8-22zM371 301l3-43 5 33zM371 301l-5-36 8-7zM363 259l3 6 5 36zM363 259l3 6-8-8zM355 252l8 7-5-2zM355 252l3 5-8 20zM347 244l8 8-5 25zM347 244l3 33-8 1zM339 248l8-4-5 34zM339 248l3 30-8 23zM331 266l8-18-5 53zM331 266l3 35-7-5zM323 336l4-40 4-30zM323 336l-4-29 8-11zM316 343l3-36 4 29zM316 343l-5 8 8-44zM308 371l3-20 5-8zM308 371l-5-43 8 23zM300 298l8 73-5-43zM300 298l3 30-8-38zM292 280l8 18-5-8zM292 280l3 10-8 3zM284 330l3-37 5-13zM284 330l-5-26 8-11zM276 307l3-3 5 26zM276 307l3-3-8 33zM268 300l8 7-5 30zM268 300l3 37-8 8zM260 291l8 9-5 45zM260 291l3 54-8-54zM252 282l8 9-5 0zM252 282l3 9-8 0zM244 338l3-47 5-9zM244 338l-5-37 8-10zM236 380l3-79 5 37zM236 380l-4-57 7-22zM228 407l4-84 4 57zM228 407l-4-73 8-11zM221 404l3-70 4 73zM221 404l-5-38 8-32zM213 336l8 68-5-38zM213 336l3 30-8 23zM205 406l8-70-5 53zM205 406l-5-2 8-15z"/>
<path fill="url(#a66)" d="M574 163l3-24 5 23zM574 163l3-24-8 73zM566 174l8-11-5 49zM566 174l3 38-8-27zM558 192l3-7 5-11zM558 192l-5 11 8-18zM550 170l8 22-5 11zM550 170l3 33-8-45zM542 170l3-12 5 12zM542 170l-5 5 8-17zM534 174l8-4-5 5zM534 174l3 1-8 27zM526 199l8-25-5 28zM518 183l8 16-5-5zM518 183l3 11-7 30zM510 221l8-38-4 41zM510 221l4 3-8-3zM503 226l3-5 4 0zM503 226l-5-33 8 28zM495 189l3 4 5 33zM495 189l3 4-8 0zM487 246l3-53 5-4zM487 246l-5-40 8-13zM479 254l3-48 5 40zM479 254l-5-12 8-36zM471 197l8 57-5-12zM471 197l3 45-8-51zM463 210l3-19 5 6zM463 210l-5-27 8 8zM455 251l3-68 5 27zM455 251l-5-22 8-46zM447 208l8 43-5-22zM447 208l3 21-8-4zM439 229l8-21-5 17zM439 229l-5-13 8 9zM431 239l3-23 5 13zM431 239l-5-3 8-20zM423 244l3-8 5 3zM423 244l-4-45 7 37zM415 191l4 8 4 45zM415 191l4 8-8-3zM408 234l3-38 4-5zM408 234l-5 32 8-70zM400 253l8-19-5 32zM400 253l3 13-8 28zM392 325l3-31 5-41zM392 325l-5-5 8-26zM384 281l8 44-5-5zM384 281l3 39-8-29zM376 233l8 48-5 10zM376 233l3 58-8 10zM368 260l8-27-5 68zM368 260l3 41-8-42zM360 234l8 26-5-1zM360 234l3 25-8-7zM352 271l3-19 5-18zM352 271l-5-27 8 8zM344 253l3-9 5 27zM344 253l-5-5 8-4zM336 263l3-15 5 5zM336 263l-5 3 8-18zM328 320l3-54 5-3zM328 320l-5 16 8-70zM320 287l8 33-5 16zM320 287l3 49-7 7zM313 352l7-65-4 56zM313 352l3-9-8 28zM305 266l8 86-5 19zM305 266l3 105-8-73zM297 322l3-24 5-32zM297 322l-5-42 8 18zM289 403l3-123 5 42zM289 403l-5-73 8-50zM281 349l3-19 5 73zM281 349l-5-42 8 23zM273 301l3 6 5 42zM273 301l3 6-8-7zM265 287l8 14-5-1zM265 287l3 13-8-9zM257 293l8-6-5 4zM257 293l-5-11 8 9zM249 314l3-32 5 11zM249 314l-5 24 8-56zM241 339l8-25-5 24zM241 339l3-1-8 42zM233 412l3-32 5-41zM233 412l-5-5 8-27zM225 376l8 36-5-5zM225 376l3 31-7-3zM217 325l8 51-4 28zM217 325l4 79-8-68zM210 410l3-74 4-11zM210 410l-5-4 8-70z"/>
<path fill="url(#a65)" d="M579 160l3 2 5 23zM579 160l3 2-8 1zM571 135l8 25-5 3zM571 135l3 28-8 11zM563 177l8-42-5 39zM563 177l3-3-8 18zM555 193l8-16-5 15zM555 193l-5-23 8 22zM547 184l3-14 5 23zM547 184l-5-14 8 0zM539 170l3 0 5 14zM539 170l3 0-8 4zM531 193l3-19 5-4zM531 193l-5 6 8-25zM523 194l8-1-5 6zM523 194l-5-11 8 16zM515 188l3-5 5 11zM515 188l3-5-8 38zM507 188l8 0-5 33zM507 188l3 33-7 5zM499 223l8-35-4 38zM499 223l-4-34 8 37zM492 245l3-56 4 34zM492 245l-5 1 8-57zM484 259l3-13 5-1zM484 259l-5-5 8-8zM476 260l3-6 5 5zM476 260l-5-63 8 57zM468 245l3-48 5 63zM468 245l-5-35 8-13zM460 255l3-45 5 35zM460 255l-5-4 8-41zM452 286l3-35 5 4zM452 286l-5-78 8 43zM444 285l3-77 5 78zM444 285l-5-56 8-21zM436 293l3-64 5 56zM436 293l-5-54 8-10zM428 241l3-2 5 54zM428 241l-5 3 8-5zM420 187l8 54-5 3zM420 187l3 57-8-53zM412 282l3-91 5-4zM412 282l-4-48 7-43zM404 247l4-13 4 48zM404 247l-4 6 8-19zM397 293l3-40 4-6zM397 293l-5 32 8-72zM389 269l8 24-5 32zM389 269l3 56-8-44zM381 220l8 49-5 12zM381 220l3 61-8-48zM373 249l3-16 5-13zM373 249l-5 11 8-27zM365 216l8 33-5 11zM365 216l3 44-8-26zM357 282l3-48 5-18zM357 282l-5-11 8-37zM349 284l3-13 5 11zM349 284l-5-31 8 18zM341 267l3-14 5 31zM341 267l-5-4 8-10zM333 277l3-14 5 4zM333 277l3-14-8 57zM325 281l8-4-5 43zM325 281l3 39-8-33zM317 275l8 6-5 6zM317 275l3 12-7 65zM309 264l8 11-4 77zM309 264l4 88-8-86zM302 325l3-59 4-2zM302 325l-5-3 8-56zM294 324l3-2 5 3zM294 324l3-2-8 81zM286 323l8 1-5 79zM286 323l3 80-8-54zM278 310l8 13-5 26zM278 310l3 39-8-48zM270 317l3-16 5 9zM270 317l-5-30 8 14zM262 322l3-35 5 30zM262 322l-5-29 8-6zM254 275l8 47-5-29zM254 275l3 18-8 21zM246 265l8 10-5 39zM246 265l3 49-8 25zM238 337l8-72-5 74zM238 337l3 2-8 73zM230 330l8 7-5 75zM230 330l3 82-8-36zM222 336l8-6-5 46zM222 336l3 40-8-51zM214 413l3-88 5 11zM214 413l-4-3 7-85z"/>
<path fill="url(#a64)" d="M583 177l8 13-4-5zM583 177l-4-17 8 25zM576 158l3 2 4 17zM576 158l-5-23 8 25zM568 168l3-33 5 23zM568 168l-5 9 8-42zM560 168l8 0-5 9zM560 168l3 9-8 16zM552 192l8-24-5 25zM552 192l-5-8 8 9zM544 176l8 16-5-8zM544 176l3 8-8-14zM536 183l3-13 5 6zM536 183l-5 10 8-23zM528 199l-5-5 8-1zM520 248l3-54 5 5zM520 248l-5-60 8 6zM512 197l3-9 5 60zM512 197l-5-9 8 0zM504 249l3-61 5 9zM504 249l-5-26 8-35zM496 284l3-61 5 26zM496 284l-4-39 7-22zM488 312l4-67 4 39zM488 312l-4-53 8-14zM481 292l3-33 4 53zM481 292l-5-32 8-1zM473 255l3 5 5 32zM473 255l-5-10 8 15zM465 284l3-39 5 10zM465 284l-5-29 8-10zM457 299l3-44 5 29zM457 299l-5-13 8-31zM449 251l8 48-5-13zM449 251l3 35-8-1zM441 280l8-29-5 34zM441 280l3 5-8 8zM433 260l8 20-5 13zM433 260l3 33-8-52zM425 255l3-14 5 19zM425 255l-5-68 8 54zM417 256l3-69 5 68zM417 256l-5 26 8-95zM409 299l3-17 5-26zM409 299l-5-52 8 35zM401 260l3-13 5 52zM401 260l3-13-7 46zM393 240l8 20-4 33zM393 240l4 53-8-24zM386 224l7 16-4 29zM386 224l3 45-8-49zM378 247l3-27 5 4zM378 247l-5 2 8-29zM370 238l8 9-5 2zM370 238l-5-22 8 33zM362 279l3-63 5 22zM362 279l-5 3 8-66zM354 328l3-46 5-3zM354 328l-5-44 8-2zM346 272l3 12 5 44zM346 272l3 12-8-17zM338 249l8 23-5-5zM338 249l3 18-8 10zM330 287l8-38-5 28zM330 287l-5-6 8-4zM322 269l8 18-5-6zM322 269l3 12-8-6zM314 306l3-31 5-6zM314 306l-5-42 8 11zM306 335l3-71 5 42zM306 335l-4-10 7-61zM298 298l8 37-4-10zM298 298l4 27-8-1zM291 278l7 20-4 26zM291 278l3 46-8-1zM283 307l8-29-5 45zM283 307l3 16-8-13zM275 333l3-23 5-3zM275 333l-5-16 8-7zM267 344l3-27 5 16zM267 344l-5-22 8-5zM259 359l3-37 5 22zM259 359l-5-84 8 47zM251 333l3-58 5 84zM251 333l-5-68 8 10zM243 364l3-99 5 68zM243 364l-5-27 8-72zM235 322l3 15 5 27zM235 322l3 15-8-7zM227 353l3-23 5-8zM227 353l-5-17 8-6zM219 422l3-86 5 17zM219 422l-5-9 8-77z"/>
<path fill="url(#a63)" d="M588 213l3-23 5-5zM588 213l-5-36 8 13zM580 195l3-18 5 36zM580 195l-4-37 7 19zM572 239l4-81 4 37zM572 239l-4-71 8-10zM565 200l3-32 4 71zM565 200l-5-32 8 0zM557 189l3-21 5 32zM557 189l-5 3 8-24zM549 182l8 7-5 3zM549 182l3 10-8-16zM541 203l3-27 5 6zM541 203l-5-20 8-7zM533 178l3 5 5 20zM533 178l3 5-8 16zM525 229l3-30 5-21zM525 229l-5 19 8-49zM517 230l8-1-5 19zM517 230l-5-33 8 51zM509 258l3-61 5 33zM509 258l-5-9 8-52zM501 291l3-42 5 9zM501 291l-5-7 8-35zM493 291l3-7 5 7zM493 291l3-7-8 28zM485 235l8 56-5 21zM485 235l3 77-7-20zM477 210l8 25-4 57zM477 210l4 82-8-37zM470 202l7 8-4 45zM470 202l3 53-8 29zM462 262l8-60-5 82zM462 262l3 22-8 15zM454 265l8-3-5 37zM454 265l3 34-8-48zM446 249l3 2 5 14zM446 249l3 2-8 29zM438 262l8-13-5 31zM438 262l3 18-8-20zM430 282l3-22 5 2zM430 282l-5-27 8 5zM422 243l3 12 5 27zM422 243l3 12-8 1zM414 279l3-23 5-13zM414 279l-5 20 8-43zM406 239l8 40-5 20zM406 239l3 60-8-39zM398 220l8 19-5 21zM398 220l3 40-8-20zM390 228l8-8-5 20zM390 228l3 12-7-16zM382 339l4-115 4 4zM382 339l-4-92 8-23zM375 317l3-70 4 92zM375 317l-5-79 8 9zM367 304l3-66 5 79zM367 304l-5-25 8-41zM359 345l3-66 5 25zM359 345l-5-17 8-49zM351 356l3-28 5 17zM351 356l-5-84 8 56zM343 287l3-15 5 84zM343 287l-5-38 8 23zM335 270l3-21 5 38zM335 270l-5 17 8-38zM327 330l3-43 5-17zM327 330l-5-61 8 18zM319 321l3-52 5 61zM319 321l-5-15 8-37zM311 320l3-14 5 15zM311 320l-5 15 8-29zM303 283l8 37-5 15zM303 283l3 52-8-37zM295 285l8-2-5 15zM295 285l3 13-7-20zM287 321l4-43 4 7zM287 321l-4-14 8-29zM280 329l3-22 4 14zM280 329l-5 4 8-26zM272 352l3-19 5-4zM272 352l-5-8 8-11zM264 346l3-2 5 8zM264 346l3-2-8 15zM256 356l8-10-5 13zM256 356l-5-23 8 26zM248 342l3-9 5 23zM248 342l3-9-8 31zM240 362l8-20-5 22zM240 362l-5-40 8 42zM232 361l3-39 5 40zM232 361l-5-8 8-31zM224 433l3-80 5 8zM224 433l-5-11 8-69z"/>
<path fill="url(#a62)" d="M593 201l3-16 5-6zM593 201l-5 12 8-28zM585 200l8 1-5 12zM585 200l3 13-8-18zM577 229l3-34 5 5zM577 229l-5 10 8-44zM569 235l8-6-5 10zM569 235l-4-35 7 39zM562 190l3 10 4 35zM562 190l3 10-8-11zM554 194l3-5 5 1zM554 194l-5-12 8 7zM546 206l3-24 5 12zM546 206l-5-3 8-21zM538 212l3-9 5 3zM538 212l-5-34 8 25zM530 208l3-30 5 34zM530 208l-5 21 8-51zM522 192l8 16-5 21zM522 192l3 37-8 1zM514 229l8-37-5 38zM514 229l3 1-8 28zM506 219l8 10-5 29zM506 219l3 39-8 33zM498 199l8 20-5 72zM498 199l3 92-8 0zM490 199l8 0-5 92zM490 199l3 92-8-56zM482 193l8 6-5 36zM482 193l3 42-8-25zM474 212l8-19-5 17zM474 212l-4-10 7 8zM466 204l4-2 4 10zM466 204l4-2-8 60zM459 273l7-69-4 58zM459 273l-5-8 8-3zM451 235l8 38-5-8zM451 235l3 30-8-16zM443 198l8 37-5 14zM443 198l3 51-8 13zM435 225l8-27-5 64zM435 225l3 37-8 20zM427 235l8-10-5 57zM427 235l3 47-8-39zM419 305l3-62 5-8zM419 305l-5-26 8-36zM411 206l8 99-5-26zM411 206l3 73-8-40zM403 199l8 7-5 33zM403 199l3 40-8-19zM395 282l3-62 5-21zM395 282l-5-54 8-8zM387 333l3-105 5 54zM387 333l-5 6 8-111zM379 291l8 42-5 6zM379 291l3 48-7-22zM371 302l8-11-4 26zM371 302l4 15-8-13zM364 299l7 3-4 2zM364 299l3 5-8 41zM356 295l8 4-5 46zM356 295l3 50-8 11zM348 313l8-18-5 61zM348 313l3 43-8-69zM340 312l3-25 5 26zM340 312l-5-42 8 17zM332 292l3-22 5 42zM332 292l3-22-8 60zM324 333l8-41-5 38zM324 333l-5-12 8 9zM316 276l8 57-5-12zM316 276l3 45-8-1zM308 266l8 10-5 44zM308 266l3 54-8-37zM300 294l3-11 5-17zM300 294l-5-9 8-2zM292 350l3-65 5 9zM292 350l-5-29 8-36zM284 361l3-40 5 29zM284 361l-4-32 7-8zM276 360l4-31 4 32zM276 360l-4-8 8-23zM269 391l3-39 4 8zM269 391l-5-45 8 6zM261 371l3-25 5 45zM261 371l-5-15 8-10zM253 389l3-33 5 15zM253 389l-5-47 8 14zM245 377l3-35 5 47zM245 377l-5-15 8-20zM237 399l3-37 5 15zM237 399l-5-38 8 1zM229 444l3-83 5 38zM229 444l-5-11 8-72z"/>
<path fill="url(#a61)" d="M598 208l3-29 5-2zM598 208l-5-7 8-22zM590 209l3-8 5 7zM590 209l-5-9 8 1zM582 189l8 20-5-9zM582 189l3 11-8 29zM574 218l8-29-5 40zM574 218l3 11-8 6zM566 225l8-7-5 17zM566 225l-4-35 7 45zM558 209l4-19 4 35zM558 209l-4-15 8-4zM551 258l3-64 4 15zM551 258l-5-52 8-12zM543 240l3-34 5 52zM543 240l-5-28 8-6zM535 248l3-36 5 28zM535 248l-5-40 8 4zM527 208l3 0 5 40zM527 208l-5-16 8 16zM519 255l3-63 5 16zM519 255l-5-26 8-37zM511 280l3-51 5 26zM511 280l-5-61 8 10zM503 207l3 12 5 61zM503 207l3 12-8-20zM495 217l3-18 5 8zM495 217l-5-18 8 0zM487 193l3 6 5 18zM487 193l3 6-8-6zM479 199l3-6 5 0zM479 199l3-6-8 19zM471 251l3-39 5-13zM471 251l-5-47 8 8zM463 293l3-89 5 47zM463 293l-4-20 7-69zM455 220l8 73-4-20zM455 220l4 53-8-38zM448 189l7 31-4 15zM448 189l3 46-8-37zM440 226l3-28 5-9zM440 226l-5-1 8-27zM432 262l3-37 5 1zM432 262l-5-27 8-10zM424 304l3-69 5 27zM424 304l-5 1 8-70zM416 267l8 37-5 1zM416 267l3 38-8-99zM408 205l3 1 5 61zM408 205l-5-6 8 7zM400 302l3-103 5 6zM400 302l-5-20 8-83zM392 265l8 37-5-20zM392 265l3 17-8 51zM384 282l8-17-5 68zM384 282l3 51-8-42zM376 308l3-17 5-9zM376 308l-5-6 8-11zM368 307l3-5 5 6zM368 307l-4-8 7 3zM360 293l4 6 4 8zM360 293l4 6-8-4zM353 282l7 11-4 2zM353 282l3 13-8 18zM345 305l8-23-5 31zM345 305l3 8-8-1zM337 326l3-14 5-7zM337 326l-5-34 8 20zM329 319l3-27 5 34zM329 319l-5 14 8-41zM321 322l8-3-5 14zM321 322l-5-46 8 57zM313 282l3-6 5 46zM313 282l-5-16 8 10zM305 383l3-117 5 16zM305 383l-5-89 8-28zM297 420l3-126 5 89zM297 420l-5-70 8-56zM289 387l3-37 5 70zM289 387l-5-26 8-11zM281 317l8 70-5-26zM281 317l3 44-8-1zM273 341l8-24-5 43zM273 341l3 19-7 31zM265 369l8-28-4 50zM265 369l4 22-8-20zM258 388l3-17 4-2zM258 388l-5 1 8-18zM250 362l8 26-5 1zM250 362l3 27-8-12zM242 358l8 4-5 15zM242 358l3 19-8 22zM234 444l3-45 5-41zM234 444l-5 0 8-45z"/>
<path fill="url(#a60)" d="M603 216l3-39 5 3zM603 216l-5-8 8-31zM595 282l3-74 5 8zM595 282l-5-73 8-1zM587 231l3-22 5 73zM587 231l-5-42 8 20zM579 235l3-46 5 42zM579 235l-5-17 8-29zM571 266l3-48 5 17zM571 266l-5-41 8-7zM563 230l3-5 5 41zM563 230l-5-21 8 16zM555 229l3-20 5 21zM555 229l3-20-7 49zM547 224l8 5-4 29zM547 224l4 34-8-18zM540 223l7 1-4 16zM540 223l3 17-8 8zM532 254l8-31-5 25zM532 254l-5-46 8 40zM524 268l3-60 5 46zM524 268l-5-13 8-47zM516 278l3-23 5 13zM516 278l-5 2 8-25zM508 266l8 12-5 2zM508 266l-5-59 8 73zM500 296l3-89 5 59zM500 296l-5-79 8-10zM492 213l3 4 5 79zM492 213l-5-20 8 24zM484 216l3-23 5 20zM484 216l-5-17 8-6zM476 252l3-53 5 17zM476 252l-5-1 8-52zM468 263l3-12 5 1zM468 263l3-12-8 42zM460 306l8-43-5 30zM460 306l-5-86 8 73zM452 245l3-25 5 86zM452 245l-4-56 7 31zM445 200l3-11 4 56zM445 200l3-11-8 37zM437 249l3-23 5-26zM437 249l-5 13 8-36zM429 287l3-25 5-13zM429 287l-5 17 8-42zM421 199l8 88-5 17zM421 199l3 105-8-37zM413 229l8-30-5 68zM413 229l3 38-8-62zM405 270l3-65 5 24zM405 270l-5 32 8-97zM397 244l8 26-5 32zM397 244l3 58-8-37zM389 297l3-32 5-21zM389 297l-5-15 8-17zM381 294l3-12 5 15zM381 294l-5 14 8-26zM373 292l8 2-5 14zM373 292l3 16-8-1zM365 280l8 12-5 15zM365 280l3 27-8-14zM357 359l3-66 5-13zM357 359l-4-77 7 11zM349 282l4 0 4 77zM349 282l4 0-8 23zM342 352l3-47 4-23zM342 352l-5-26 8-21zM334 301l8 51-5-26zM334 301l3 25-8-7zM326 325l8-24-5 18zM326 325l-5-3 8-3zM318 372l3-50 5 3zM318 372l-5-90 8 40zM310 355l3-73 5 90zM310 355l-5 28 8-101zM302 389l8-34-5 28zM302 389l3-6-8 37zM294 345l8 44-5 31zM294 345l3 75-8-33zM286 326l8 19-5 42zM286 326l3 61-8-70zM278 349l3-32 5 9zM278 349l-5-8 8-24zM270 340l3 1 5 8zM270 340l3 1-8 28zM262 304l8 36-5 29zM262 304l3 65-7 19zM254 356l8-52-4 84zM254 356l4 32-8-26zM247 415l3-53 4-6zM247 415l-5-57 8 4zM239 423l3-65 5 57zM239 423l-5 21 8-86z"/>
<path fill="url(#a59)" d="M608 180l3 0 5 3zM608 180l3 0-8 36zM600 187l8-7-5 36zM600 187l3 29-8 66zM592 205l8-18-5 95zM592 205l3 77-8-51zM584 193l8 12-5 26zM584 193l3 38-8 4zM576 209l8-16-5 42zM576 209l3 26-8 31zM568 208l8 1-5 57zM568 208l3 58-8-36zM560 189l8 19-5 22zM560 189l3 41-8-1zM552 264l3-35 5-40zM552 264l-5-40 8 5zM544 281l3-57 5 40zM544 281l-4-58 7 1zM536 225l4-2 4 58zM536 225l4-2-8 31zM529 211l7 14-4 29zM529 211l3 43-8 14zM521 243l8-32-5 57zM521 243l3 25-8 10zM513 279l8-36-5 35zM513 279l-5-13 8 12zM505 252l8 27-5-13zM505 252l3 14-8 30zM497 241l8 11-5 44zM497 241l3 55-8-83zM489 228l3-15 5 28zM489 228l-5-12 8-3zM481 205l8 23-5-12zM481 205l3 11-8 36zM473 232l8-27-5 47zM473 232l3 20-8 11zM465 262l8-30-5 31zM465 262l3 1-8 43zM457 328l8-66-5 44zM457 328l-5-83 8 61zM449 237l3 8 5 83zM449 237l-4-37 7 45zM441 313l4-113 4 37zM441 313l-4-64 8-49zM434 264l3-15 4 64zM434 264l-5 23 8-38zM426 246l8 18-5 23zM426 246l3 41-8-88zM418 216l3-17 5 47zM418 216l-5 13 8-30zM410 222l8-6-5 13zM410 222l3 7-8 41zM402 266l8-44-5 48zM402 266l-5-22 8 26zM394 296l3-52 5 22zM394 296l-5 1 8-53zM386 305l3-8 5-1zM386 305l-5-11 8 3zM378 311l3-17 5 11zM378 311l-5-19 8 2zM370 316l3-24 5 19zM370 316l-5-36 8 12zM362 437l3-157 5 36zM362 437l-5-78 8-79zM354 394l3-35 5 78zM354 394l-5-112 8 77zM346 363l3-81 5 112zM346 363l-4-11 7-70zM338 357l4-5 4 11zM338 357l-4-56 8 51zM331 321l3-20 4 56zM331 321l-5 4 8-24zM323 358l3-33 5-4zM323 358l-5 14 8-47zM315 330l8 28-5 14zM315 330l3 42-8-17zM307 326l8 4-5 25zM307 326l3 29-8 34zM299 328l8-2-5 63zM299 328l3 61-8-44zM291 330l8-2-5 17zM291 330l3 15-8-19zM283 329l3-3 5 4zM283 329l3-3-8 23zM275 357l8-28-5 20zM275 357l-5-17 8 9zM267 326l8 31-5-17zM267 326l3 14-8-36zM259 407l3-103 5 22zM259 407l-5-51 8-52zM251 398l3-42 5 51zM251 398l-4 17 7-59zM243 422l8-24-4 17zM243 422l-4 1 8-8z"/>
<path fill="url(#a58)" d="M613 186l3-3 4 3zM613 186l-5-6 8 3zM605 173l8 13-5-6zM605 173l3 7-8 7zM597 201l3-14 5-14zM597 201l-5 4 8-18zM589 207l8-6-5 4zM589 207l-5-14 8 12zM581 197l3-4 5 14zM581 197l3-4-8 16zM573 203l8-6-5 12zM573 203l3 6-8-1zM565 241l3-33 5-5zM565 241l-5-52 8 19zM557 269l3-80 5 52zM557 269l-5-5 8-75zM549 234l8 35-5-5zM549 234l3 30-8 17zM541 176l8 58-5 47zM541 176l3 105-8-56zM533 280l3-55 5-49zM533 280l-4-69 7 14zM525 289l4-78 4 69zM525 289l-4-46 8-32zM518 256l3-13 4 46zM518 256l3-13-8 36zM510 197l8 59-5 23zM510 197l3 82-8-27zM502 226l8-29-5 55zM502 226l3 26-8-11zM494 278l3-37 5-15zM494 278l-5-50 8 13zM486 234l3-6 5 50zM486 234l-5-29 8 23zM478 248l3-43 5 29zM478 248l-5-16 8-27zM470 310l3-78 5 16zM470 310l-5-48 8-30zM462 296l3-34 5 48zM462 296l-5 32 8-66zM454 246l8 50-5 32zM454 246l3 82-8-91zM446 287l3-50 5 9zM446 287l-5 26 8-76zM438 308l8-21-5 26zM438 308l-4-44 7 49zM430 271l4-7 4 44zM430 271l-4-25 8 18zM423 343l3-97 4 25zM423 343l-5-127 8 30zM415 323l3-107 5 127zM415 323l-5-101 8-6zM407 317l3-95 5 101zM407 317l-5-51 8-44zM399 379l3-113 5 51zM399 379l-5-83 8-30zM391 362l3-66 5 83zM391 362l-5-57 8-9zM383 286l3 19 5 57zM383 286l3 19-8 6zM375 358l3-47 5-25zM375 358l-5-42 8-5zM367 348l3-32 5 42zM367 348l3-32-8 121zM359 393l8-45-5 89zM359 393l3 44-8-43zM351 358l8 35-5 1zM351 358l3 36-8-31zM343 305l8 53-5 5zM343 305l3 58-8-6zM335 311l8-6-5 52zM335 311l3 46-7-36zM328 328l7-17-4 10zM328 328l3-7-8 37zM320 309l8 19-5 30zM320 309l3 49-8-28zM312 277l8 32-5 21zM312 277l3 53-8-4zM304 368l3-42 5-49zM304 368l-5-40 8-2zM296 319l3 9 5 40zM296 319l3 9-8 2zM288 285l8 34-5 11zM288 285l3 45-8-1zM280 308l8-23-5 44zM280 308l3 21-8 28zM272 403l3-46 5-49zM272 403l-5-77 8 31zM264 397l3-71 5 77zM264 397l-5 10 8-81zM256 415l3-8 5-10zM256 415l-5-17 8 9zM248 424l3-26 5 17zM248 424l-5-2 8-24z"/>
<path fill="url(#a57)" d="M617 190l3-4 5 14zM617 190l-4-4 7 0zM609 271l4-85 4 4zM609 271l-4-98 8 13zM602 191l3-18 4 98zM602 191l-5 10 8-28zM594 186l8 5-5 10zM594 186l3 15-8 6zM586 210l8-24-5 21zM586 210l-5-13 8 10zM578 256l3-59 5 13zM578 256l-5-53 8-6zM570 267l3-64 5 53zM570 267l-5-26 8-38zM562 182l8 85-5-26zM562 182l3 59-8 28zM554 198l8-16-5 87zM554 198l3 71-8-35zM546 202l8-4-5 36zM546 202l3 32-8-58zM538 281l3-105 5 26zM538 281l-5-1 8-104zM530 270l8 11-5-1zM530 270l3 10-8 9zM522 199l8 71-5 19zM522 199l3 90-7-33zM514 197l8 2-4 57zM514 197l4 59-8-59zM507 224l3-27 4 0zM507 224l-5 2 8-29zM499 277l3-51 5-2zM499 277l-5 1 8-52zM491 291l3-13 5-1zM491 291l-5-57 8 44zM483 301l3-67 5 57zM483 301l-5-53 8-14zM475 308l3-60 5 53zM475 308l-5 2 8-62zM467 346l3-36 5-2zM467 346l-5-50 8 14zM459 221l8 125-5-50zM459 221l3 75-8-50zM451 228l8-7-5 25zM451 228l3 18-8 41zM443 310l8-82-5 59zM443 310l-5-2 8-21zM435 331l3-23 5 2zM435 331l-5-60 8 37zM427 352l3-81 5 60zM427 352l-4-9 7-72zM419 261l8 91-4-9zM419 261l4 82-8-20zM412 352l7-91-4 62zM412 352l-5-35 8 6zM404 357l3-40 5 35zM404 357l-5 22 8-62zM396 345l8 12-5 22zM396 345l3 34-8-17zM388 324l8 21-5 17zM388 324l3 38-8-76zM380 329l3-43 5 38zM380 329l-5 29 8-72zM372 327l8 2-5 29zM372 327l3 31-8-10zM364 352l8-25-5 21zM364 352l3-4-8 45zM356 327l8 25-5 41zM356 327l3 66-8-35zM348 333l8-6-5 31zM348 333l3 25-8-53zM340 345l3-40 5 28zM340 345l-5-34 8-6zM332 338l3-27 5 34zM332 338l-4-10 7-17zM324 282l8 56-4-10zM324 282l4 46-8-19zM317 300l7-18-4 27zM317 300l-5-23 8 32zM309 308l3-31 5 23zM309 308l3-31-8 91zM301 337l8-29-5 60zM301 337l3 31-8-49zM293 322l3-3 5 18zM293 322l-5-37 8 34zM285 363l3-78 5 37zM285 363l-5-55 8-23zM277 307l3 1 5 55zM277 307l3 1-8 95zM269 359l8-52-5 96zM269 359l3 44-8-6zM261 397l8-38-5 38zM261 397l3 0-8 18zM253 419l8-22-5 18zM253 419l-5 5 8-9z"/>
<path fill="url(#a56)" d="M622 206l3-6 5 18zM622 206l-5-16 8 10zM614 224l3-34 5 16zM614 224l-5 47 8-81zM606 200l8 24-5 47zM606 200l3 71-7-80zM598 205l4-14 4 9zM598 205l-4-19 8 5zM591 231l3-45 4 19zM591 231l-5-21 8-24zM583 265l3-55 5 21zM583 265l-5-9 8-46zM575 168l8 97-5-9zM575 168l3 88-8 11zM567 159l8 9-5 99zM567 159l3 108-8-85zM559 268l3-86 5-23zM559 268l-5-70 8-16zM551 243l3-45 5 70zM551 243l-5-41 8-4zM543 261l3-59 5 41zM543 261l-5 20 8-79zM535 256l8 5-5 20zM535 256l3 25-8-11zM527 212l8 44-5 14zM527 212l3 58-8-71zM519 186l8 26-5-13zM519 186l3 13-8-2zM511 238l3-41 5-11zM511 238l-4-14 7-27zM503 276l4-52 4 14zM503 276l-4 1 8-53zM496 299l3-22 4-1zM496 299l-5-8 8-14zM488 278l8 21-5-8zM488 278l3 13-8 10zM480 206l8 72-5 23zM480 206l3 95-8 7zM472 323l8-117-5 102zM472 323l-5 23 8-38zM464 223l8 100-5 23zM464 223l3 123-8-125zM456 252l3-31 5 2zM456 252l-5-24 8-7zM448 316l3-88 5 24zM448 316l-5-6 8-82zM440 294l8 22-5-6zM440 294l3 16-8 21zM432 295l8-1-5 37zM432 295l3 36-8 21zM424 268l8 27-5 57zM424 268l3 84-8-91zM416 336l3-75 5 7zM416 336l-4 16 7-91zM408 307l8 29-4 16zM408 307l4 45-8 5zM401 320l7-13-4 50zM401 320l3 37-8-12zM393 379l3-34 5-25zM393 379l-5-55 8 21zM385 341l3-17 5 55zM385 341l-5-12 8-5zM377 370l3-41 5 12zM377 370l-5-43 8 2zM369 360l3-33 5 43zM369 360l-5-8 8-25zM361 389l3-37 5 8zM361 389l-5-62 8 25zM353 324l3 3 5 62zM353 324l3 3-8 6zM345 321l8 3-5 9zM345 321l3 12-8 12zM337 360l3-15 5-24zM337 360l-5-22 8 7zM329 298l8 62-5-22zM329 298l3 40-8-56zM321 313l3-31 5 16zM321 313l-4-13 7-18zM313 320l4-20 4 13zM313 320l-4-12 8-8zM306 359l3-51 4 12zM306 359l-5-22 8-29zM298 318l8 41-5-22zM298 318l3 19-8-15zM290 402l3-80 5-4zM290 402l-5-39 8-41zM282 402l3-39 5 39zM282 402l-5-95 8 56zM274 366l3-59 5 95zM274 366l-5-7 8-52zM266 401l3-42 5 7zM266 401l-5-4 8-38zM258 435l3-38 5 4zM258 435l-5-16 8-22z"/>
<path fill="url(#a55)" d="M627 231l3-13 5 12zM627 231l-5-25 8 12zM619 204l3 2 5 25zM619 204l3 2-8 18zM611 269l3-45 5-20zM611 269l-5-69 8 24zM603 212l3-12 5 69zM603 212l-5-7 8-5zM595 230l3-25 5 7zM595 230l-4 1 7-26zM587 224l8 6-4 1zM587 224l4 7-8 34zM580 229l7-5-4 41zM580 229l-5-61 8 97zM572 186l3-18 5 61zM572 186l-5-27 8 9zM564 227l3-68 5 27zM564 227l-5 41 8-109zM556 265l8-38-5 41zM556 265l-5-22 8 25zM548 297l3-54 5 22zM548 297l-5-36 8-18zM540 298l3-37 5 36zM540 298l-5-42 8 5zM532 296l3-40 5 42zM532 296l-5-84 8 44zM524 271l3-59 5 84zM524 271l-5-85 8 26zM516 239l3-53 5 85zM516 239l-5-1 8-52zM508 269l3-31 5 1zM508 269l-5 7 8-38zM500 272l8-3-5 7zM500 272l3 4-7 23zM492 317l8-45-4 27zM492 317l-4-39 8 21zM485 289l3-11 4 39zM485 289l-5-83 8 72zM477 344l3-138 5 83zM477 344l-5-21 8-117zM469 308l8 36-5-21zM469 308l-5-85 8 100zM461 316l3-93 5 85zM461 316l-5-64 8-29zM453 309l3-57 5 64zM453 309l-5 7 8-64zM445 259l8 50-5 7zM445 259l3 57-8-22zM437 322l3-28 5-35zM437 322l-5-27 8-1zM429 344l3-49 5 27zM429 344l-5-76 8 27zM421 311l3-43 5 76zM421 311l-5 25 8-68zM413 316l8-5-5 25zM413 316l3 20-8-29zM405 319l3-12 5 9zM405 319l-4 1 7-13zM397 340l4-20 4-1zM397 340l4-20-8 59zM390 350l7-10-4 39zM390 350l3 29-8-38zM382 318l8 32-5-9zM382 318l3 23-8 29zM374 382l8-64-5 52zM374 382l-5-22 8 10zM366 352l3 8 5 22zM366 352l3 8-8 29zM358 318l8 34-5 37zM358 318l3 71-8-65zM350 297l8 21-5 6zM350 297l3 27-8-3zM342 383l3-62 5-24zM342 383l-5-23 8-39zM334 330l8 53-5-23zM334 330l3 30-8-62zM326 331l3-33 5 32zM326 331l-5-18 8-15zM318 355l3-42 5 18zM318 355l-5-35 8-7zM310 453l3-133 5 35zM310 453l-4-94 7-39zM302 436l4-77 4 94zM302 436l-4-118 8 41zM295 450l3-132 4 118zM295 450l-5-48 8-84zM287 442l3-40 5 48zM287 442l-5-40 8 0zM279 393l3 9 5 40zM279 393l-5-27 8 36zM271 401l3-35 5 27zM271 401l-5 0 8-35zM263 453l3-52 5 0zM263 453l-5-18 8-34z"/>
<path fill="url(#a54)" d="M632 231l8-17-5 16zM632 231l-5 0 8-1zM624 229l8 2-5 0zM624 229l-5-25 8 27zM616 265l3-61 5 25zM616 265l-5 4 8-65zM608 210l8 55-5 4zM608 210l3 59-8-57zM600 191l8 19-5 2zM600 191l3 21-8 18zM592 282l3-52 5-39zM592 282l-5-58 8 6zM584 264l3-40 5 58zM584 264l-4-35 7-5zM577 236l3-7 4 35zM577 236l-5-50 8 43zM569 236l3-50 5 50zM569 236l-5-9 8-41zM561 265l3-38 5 9zM561 265l-5 0 8-38zM553 289l3-24 5 0zM553 289l-5 8 8-32zM545 234l8 55-5 8zM545 234l3 63-8 1zM537 337l3-39 5-64zM537 337l-5-41 8 2zM529 352l3-56 5 41zM529 352l-5-81 8 25zM521 251l3 20 5 81zM521 251l3 20-8-32zM513 233l3 6 5 12zM513 233l3 6-8 30zM505 268l8-35-5 36zM505 268l3 1-8 3zM497 329l3-57 5-4zM497 329l-5-12 8-45zM489 302l8 27-5-12zM489 302l3 15-7-28zM481 371l4-82 4 13zM481 371l-4-27 8-55zM474 315l7 56-4-27zM474 315l3 29-8-36zM466 315l3-7 5 7zM466 315l-5 1 8-8zM458 343l3-27 5-1zM458 343l-5-34 8 7zM450 313l3-4 5 34zM450 313l-5-54 8 50zM442 305l3-46 5 54zM442 305l-5 17 8-63zM434 353l3-31 5-17zM434 353l-5-9 8-22zM426 334l8 19-5-9zM426 334l-5-23 8 33zM418 274l8 60-5-23zM418 274l3 37-8 5zM410 278l8-4-5 42zM410 278l3 38-8 3zM402 346l3-27 5-41zM402 346l-5-6 8-21zM394 326l8 20-5-6zM394 326l3 14-7 10zM386 334l8-8-4 24zM379 335l3-17 4 16zM379 335l3-17-8 64zM371 372l8-37-5 47zM371 372l-5-20 8 30zM363 396l3-44 5 20zM363 396l-5-78 8 34zM355 337l3-19 5 78zM355 337l-5-40 8 21zM347 428l3-131 5 40zM347 428l-5-45 8-86zM339 360l3 23 5 45zM339 360l3 23-8-53zM331 326l3 4 5 30zM331 326l3 4-8 1zM323 384l3-53 5-5zM323 384l-5-29 8-24zM315 431l3-76 5 29zM315 431l-5 22 8-98zM307 436l8-5-5 22zM307 436l3 17-8-17zM299 454l3-18 5 0zM299 454l-4-4 7-14zM291 448l4 2 4 4zM291 448l-4-6 8 8zM284 447l3-5 4 6zM284 447l-5-54 8 49zM276 470l3-77 5 54zM276 470l-5-69 8-8zM268 471l3-70 5 69zM268 471l-5-18 8-52z"/>
<path fill="url(#a53)" d="M637 234l3-20 5-17zM637 234l-5-3 8-17zM629 220l8 14-5-3zM629 220l3 11-8-2zM621 211l8 9-5 9zM621 211l3 18-8 36zM613 195l8 16-5 54zM613 195l3 70-8-55zM605 196l8-1-5 15zM605 196l3 14-8-19zM597 247l3-56 5 5zM597 247l-5 35 8-91zM589 291l8-44-5 35zM589 291l-5-27 8 18zM581 246l8 45-5-27zM581 246l3 18-7-28zM573 213l8 33-4-10zM573 213l4 23-8 0zM566 269l3-33 4-23zM566 269l-5-4 8-29zM558 269l3-4 5 4zM558 269l3-4-8 24zM550 230l8 39-5 20zM550 230l3 59-8-55zM542 246l3-12 5-4zM542 246l3-12-8 103zM534 255l8-9-5 91zM534 255l3 82-8 15zM526 214l8 41-5 97zM526 214l3 138-8-101zM518 322l3-71 5-37zM518 322l-5-89 8 18zM510 299l3-66 5 89zM510 299l-5-31 8-35zM502 273l3-5 5 31zM502 273l3-5-8 61zM494 303l8-30-5 56zM494 303l3 26-8-27zM486 272l8 31-5-1zM486 272l3 30-8 69zM478 336l8-64-5 99zM478 336l3 35-7-56zM470 357l4-42 4 21zM470 357l-4-42 8 0zM463 326l3-11 4 42zM463 326l-5 17 8-28zM455 308l8 18-5 17zM455 308l3 35-8-30zM447 273l8 35-5 5zM447 273l3 40-8-8zM439 296l8-23-5 32zM439 296l3 9-8 48zM431 334l8-38-5 57zM431 334l3 19-8-19zM423 342l3-8 5 0zM423 342l-5-68 8 60zM415 298l3-24 5 68zM415 298l-5-20 8-4zM407 319l3-41 5 20zM407 319l-5 27 8-68zM399 385l3-39 5-27zM399 385l-5-59 8 20zM391 358l3-32 5 59zM391 358l-5-24 8-8zM383 338l3-4 5 24zM383 338l-4-3 7-1zM375 386l4-51 4 3zM375 386l-4-14 8-37zM368 337l7 49-4-14zM368 337l3 35-8 24zM360 332l8 5-5 59zM360 332l3 64-8-59zM352 391l3-54 5-5zM352 391l-5 37 8-91zM344 382l8 9-5 37zM344 382l3 46-8-68zM336 328l8 54-5-22zM336 328l3 32-8-34zM328 343l3-17 5 2zM328 343l3-17-8 58zM320 403l8-60-5 41zM320 403l-5 28 8-47zM312 423l8-20-5 28zM312 423l3 8-8 5zM304 452l3-16 5-13zM304 452l-5 2 8-18zM296 387l8 65-5 2zM296 387l3 67-8-6zM288 430l8-43-5 61zM288 430l3 18-7-1zM280 444l8-14-4 17zM280 444l4 3-8 23zM273 489l7-45-4 26zM273 489l-5-18 8-1z"/>
<path fill="url(#a52)" d="M642 210l3-13 5 18zM642 210l3-13-8 37zM634 234l8-24-5 24zM634 234l-5-14 8 14zM626 204l8 30-5-14zM626 204l3 16-8-9zM618 226l3-15 5-7zM618 226l-5-31 8 16zM610 241l3-46 5 31zM610 241l-5-45 8-1zM602 229l3-33 5 45zM602 229l-5 18 8-51zM594 257l8-28-5 18zM594 257l3-10-8 44zM586 272l8-15-5 34zM586 272l3 19-8-45zM578 227l8 45-5-26zM578 227l3 19-8-33zM570 265l3-52 5 14zM570 265l-4 4 7-56zM562 271l8-6-4 4zM562 271l-4-2 8 0zM555 224l7 47-4-2zM555 224l3 45-8-39zM547 229l8-5-5 6zM547 229l3 1-8 16zM539 210l8 19-5 17zM539 210l3 36-8 9zM531 305l3-50 5-45zM531 305l-5-91 8 41zM523 256l3-42 5 91zM523 256l-5 66 8-108zM515 288l8-32-5 66zM515 288l3 34-8-23zM507 251l8 37-5 11zM507 251l3 48-8-26zM499 317l3-44 5-22zM499 317l-5-14 8-30zM491 310l3-7 5 14zM491 310l-5-38 8 31zM483 253l3 19 5 38zM483 253l3 19-8 64zM475 357l8-104-5 83zM475 357l-5 0 8-21zM467 308l8 49-5 0zM467 308l3 49-7-31zM460 326l7-18-4 18zM460 326l-5-18 8 18zM452 263l8 63-5-18zM452 263l3 45-8-35zM444 265l8-2-5 10zM444 265l3 8-8 23zM436 273l8-8-5 31zM436 273l3 23-8 38zM428 313l8-40-5 61zM428 313l3 21-8 8zM420 359l8-46-5 29zM420 359l-5-61 8 44zM412 347l3-49 5 61zM412 347l-5-28 8-21zM404 372l3-53 5 28zM404 372l-5 13 8-66zM396 337l8 35-5 13zM396 337l3 48-8-27zM388 354l8-17-5 21zM388 354l-5-16 8 20zM380 340l3-2 5 16zM380 340l3-2-8 48zM372 378l8-38-5 46zM372 378l-4-41 7 49zM364 405l4-68 4 41zM364 405l-4-73 8 5zM357 412l3-80 4 73zM357 412l-5-21 8-59zM349 381l3 10 5 21zM349 381l3 10-8-9zM341 371l8 10-5 1zM341 371l-5-43 8 54zM333 348l3-20 5 43zM333 348l-5-5 8-15zM325 385l3-42 5 5zM325 385l-5 18 8-60zM317 370l8 15-5 18zM317 370l3 33-8 20zM309 420l8-50-5 53zM309 420l3 3-8 29zM301 425l8-5-5 32zM301 425l3 27-8-65zM293 445l3-58 5 38zM293 445l-5-15 8-43zM285 434l3-4 5 15zM285 434l3-4-8 14zM277 488l3-44 5-10zM277 488l-4 1 7-45z"/>
<path fill="url(#a51)" d="M646 241l4-26 4 19zM646 241l-4-31 8 5zM639 234l3-24 4 31zM639 234l-5 0 8-24zM631 228l8 6-5 0zM631 228l-5-24 8 30zM623 257l3-53 5 24zM623 257l-5-31 8-22zM615 290l3-64 5 31zM615 290l-5-49 8-15zM607 269l3-28 5 49zM607 269l-5-40 8 12zM599 275l3-46 5 40zM599 275l-5-18 8-28zM591 269l3-12 5 18zM591 269l-5 3 8-15zM583 261l8 8-5 3zM583 261l-5-34 8 45zM575 261l3-34 5 34zM575 261l-5 4 8-38zM567 229l8 32-5 4zM567 229l3 36-8 6zM559 257l8-28-5 42zM559 257l-4-33 7 47zM551 312l4-88 4 33zM551 312l-4-83 8-5zM544 209l3 20 4 83zM544 209l3 20-8-19zM536 240l3-30 5-1zM536 240l3-30-8 95zM528 252l8-12-5 65zM528 252l3 53-8-49zM520 248l8 4-5 4zM520 248l3 8-8 32zM512 304l8-56-5 40zM512 304l-5-53 8 37zM504 363l3-112 5 53zM504 363l-5-46 8-66zM496 304l3 13 5 46zM496 304l3 13-8-7zM488 266l8 38-5 6zM488 266l3 44-8-57zM480 351l3-98 5 13zM480 351l-5 6 8-104zM472 352l8-1-5 6zM472 352l-5-44 8 49zM464 230l8 122-5-44zM464 230l3 78-7 18zM456 280l8-50-4 96zM456 280l4 46-8-63zM449 340l3-77 4 17zM449 340l-5-75 8-2zM441 288l3-23 5 75zM441 288l-5-15 8-8zM433 295l3-22 5 15zM433 295l-5 18 8-40zM425 328l3-15 5-18zM425 328l3-15-8 46zM417 317l8 11-5 31zM417 317l3 42-8-12zM409 289l8 28-5 30zM409 289l3 58-8 25zM401 407l8-118-5 83zM401 407l-5-70 8 35zM393 398l3-61 5 70zM393 398l-5-44 8-17zM385 345l3 9 5 44zM385 345l3 9-8-14zM377 380l3-40 5 5zM377 380l-5-2 8-38zM369 408l3-30 5 2zM369 408l-5-3 8-27zM361 366l8 42-5-3zM361 366l3 39-7 7zM353 383l8-17-4 46zM353 383l4 29-8-31zM346 394l3-13 4 2zM346 394l-5-23 8 10zM338 427l3-56 5 23zM338 427l-5-79 8 23zM330 422l3-74 5 79zM330 422l-5-37 8-37zM322 368l3 17 5 37zM322 368l3 17-8-15zM314 386l3-16 5-2zM314 386l3-16-8 50zM306 348l8 38-5 34zM306 348l3 72-8 5zM298 464l8-116-5 77zM298 464l-5-19 8-20zM290 421l8 43-5-19zM290 421l3 24-8-11zM282 487l3-53 5-13zM282 487l-5 1 8-54z"/>
<path fill="url(#a50)" d="M651 284l3-50 5-1zM651 284l-5-43 8-7zM643 220l3 21 5 43zM643 220l3 21-7-7zM635 235l8-15-4 14zM635 235l-4-7 8 6zM628 220l7 15-4-7zM628 220l3 8-8 29zM620 208l8 12-5 37zM620 208l3 49-8 33zM612 322l8-114-5 82zM612 322l-5-53 8 21zM604 287l3-18 5 53zM604 287l-5-12 8-6zM596 268l3 7 5 12zM596 268l3 7-8-6zM588 237l8 31-5 1zM588 237l3 32-8-8zM580 207l8 30-5 24zM580 207l3 54-8 0zM572 230l8-23-5 54zM572 230l3 31-8-32zM564 297l3-68 5 1zM564 297l-5-40 8-28zM556 289l3-32 5 40zM556 289l-5 23 8-55zM548 293l8-4-5 23zM548 293l-4-84 7 103zM540 343l4-134 4 84zM540 343l-4-103 8-31zM533 321l3-81 4 103zM533 321l-5-69 8-12zM525 274l3-22 5 69zM525 274l-5-26 8 4zM517 260l3-12 5 26zM517 260l3-12-8 56zM509 338l3-34 5-44zM509 338l-5 25 8-59zM501 278l8 60-5 25zM501 278l3 85-8-59zM493 292l8-14-5 26zM493 292l-5-26 8 38zM485 341l3-75 5 26zM485 341l-5 10 8-85zM477 338l8 3-5 10zM477 338l3 13-8 1zM469 315l8 23-5 14zM469 315l-5-85 8 122zM461 352l3-122 5 85zM461 352l-5-72 8-50zM453 357l3-77 5 72zM453 357l-4-17 7-60zM445 316l8 41-4-17zM445 316l-4-28 8 52zM438 325l3-37 4 28zM438 325l-5-30 8-7zM430 315l3-20 5 30zM430 315l-5 13 8-33zM422 315l8 0-5 13zM422 315l3 13-8-11zM414 269l8 46-5 2zM414 269l3 48-8-28zM406 420l3-131 5-20zM406 420l-5-13 8-118zM398 417l3-10 5 13zM398 417l-5-19 8 9zM390 423l3-25 5 19zM390 423l-5-78 8 53zM382 376l3-31 5 78zM382 376l-5 4 8-35zM374 343l8 33-5 4zM374 343l3 37-8 28zM366 336l8 7-5 65zM366 336l3 72-8-42zM358 311l8 25-5 30zM358 311l3 55-8 17zM350 379l8-68-5 72zM350 379l3 4-7 11zM343 385l7-6-4 15zM343 385l3 9-8 33zM335 372l8 13-5 42zM335 372l3 55-8-5zM327 414l8-42-5 50zM327 414l-5-46 8 54zM319 378l3-10 5 46zM319 378l-5 8 8-18zM311 389l8-11-5 8zM311 389l-5-41 8 38zM303 363l3-15 5 41zM303 363l3-15-8 116zM295 347l8 16-5 101zM295 347l3 117-8-43zM287 485l3-64 5-74zM287 485l-5 2 8-66z"/>
<path fill="url(#a49)" d="M656 246l3-13 5-10zM656 246l3-13-8 51zM648 233l8 13-5 38zM648 233l3 51-8-64zM640 213l3 7 5 13zM640 213l3 7-8 15zM632 253l3-18 5-22zM632 253l-4-33 7 15zM624 224l4-4 4 33zM624 224l-4-16 8 12zM617 248l3-40 4 16zM617 248l3-40-8 114zM609 282l8-34-5 74zM609 282l3 40-8-35zM601 314l3-27 5-5zM601 314l-5-46 8 19zM593 264l3 4 5 46zM593 264l-5-27 8 31zM585 238l3-1 5 27zM585 238l-5-31 8 30zM577 263l3-56 5 31zM577 263l-5-33 8-23zM569 240l3-10 5 33zM569 240l3-10-8 67zM561 264l8-24-5 57zM561 264l3 33-8-8zM553 282l8-18-5 25zM553 282l3 7-8 4zM545 385l3-92 5-11zM545 385l-5-42 8-50zM537 366l3-23 5 42zM537 366l-4-45 7 22zM529 321l4 0 4 45zM529 321l-4-47 8 47zM522 222l7 99-4-47zM522 222l3 52-8-14zM514 268l8-46-5 38zM514 268l3-8-8 78zM506 245l8 23-5 70zM506 245l3 93-8-60zM498 283l8-38-5 33zM498 283l3-5-8 14zM490 339l3-47 5-9zM490 339l-5 2 8-49zM482 257l8 82-5 2zM482 257l3 84-8-3zM474 299l8-42-5 81zM474 299l3 39-8-23zM466 338l3-23 5-16zM466 338l-5 14 8-37zM458 346l8-8-5 14zM458 346l3 6-8 5zM450 373l3-16 5-11zM450 373l-5-57 8 41zM442 318l3-2 5 57zM442 318l3-2-7 9zM434 288l8 30-4 7zM434 288l4 37-8-10zM427 307l7-19-4 27zM427 307l3 8-8 0zM419 328l3-13 5-8zM419 328l-5-59 8 46zM411 357l3-88 5 59zM411 357l-5 63 8-151zM403 397l8-40-5 63zM403 397l3 23-8-3zM395 394l8 3-5 20zM395 394l3 23-8 6zM387 356l8 38-5 29zM387 356l3 67-8-47zM379 352l8 4-5 20zM379 352l3 24-8-33zM371 340l3 3 5 9zM371 340l3 3-8-7zM363 339l3-3 5 4zM363 339l-5-28 8 25zM355 368l3-57 5 28zM355 368l-5 11 8-68zM347 364l8 4-5 11zM347 364l3 15-7 6zM339 354l8 10-4 21zM339 354l4 31-8-13zM332 414l3-42 4-18zM332 414l-5 0 8-42zM324 342l8 72-5 0zM324 342l3 72-8-36zM316 383l8-41-5 36zM316 383l-5 6 8-11zM308 404l3-15 5-6zM308 404l-5-41 8 26zM300 364l3-1 5 41zM300 364l-5-17 8 16zM292 471l3-124 5 17zM292 471l-5 14 8-138z"/>
<path fill="url(#a48)" d="M661 263l3-40 5-5zM661 263l-5-17 8-23zM653 239l3 7 5 17zM653 239l3 7-8-13zM645 278l3-45 5 6zM645 278l-5-65 8 20zM637 235l3-22 5 65zM637 235l-5 18 8-40zM629 240l8-5-5 18zM629 240l3 13-8-29zM621 207l8 33-5-16zM621 207l3 17-7 24zM613 271l8-64-4 41zM613 271l-4 11 8-34zM606 249l7 22-4 11zM606 249l3 33-8 32zM598 221l8 28-5 65zM598 221l3 93-8-50zM590 263l8-42-5 43zM590 263l-5-25 8 26zM582 281l3-43 5 25zM582 281l-5-18 8-25zM574 316l3-53 5 18zM574 316l-5-76 8 23zM566 288l3-48 5 76zM566 288l-5-24 8-24zM558 192l8 96-5-24zM558 192l3 72-8 18zM550 276l8-84-5 90zM550 276l3 6-8 103zM542 359l8-83-5 109zM542 359l3 26-8-19zM534 401l3-35 5-7zM534 401l-5-80 8 45zM526 274l3 47 5 80zM526 274l3 47-7-99zM518 261l4-39 4 52zM518 261l-4 7 8-46zM511 328l3-60 4-7zM511 328l-5-83 8 23zM503 297l3-52 5 83zM503 297l-5-14 8-38zM495 313l3-30 5 14zM495 313l-5 26 8-56zM487 268l8 45-5 26zM487 268l3 71-8-82zM479 276l3-19 5 11zM479 276l-5 23 8-42zM471 274l8 2-5 23zM471 274l3 25-8 39zM463 317l8-43-5 64zM463 317l3 21-8 8zM455 356l8-39-5 29zM455 356l3-10-8 27zM447 360l8-4-5 17zM447 360l-5-42 8 55zM439 370l3-52 5 42zM439 370l-5-82 8 30zM431 365l3-77 5 82zM431 365l-4-58 7-19zM423 354l4-47 4 58zM423 354l-4-26 8-21zM416 348l3-20 4 26zM416 348l-5 9 8-29zM408 315l8 33-5 9zM408 315l3 42-8 40zM400 334l8-19-5 82zM400 334l3 63-8-3zM392 328l8 6-5 60zM392 328l3 66-8-38zM384 322l8 6-5 28zM384 322l3 34-8-4zM376 366l8-44-5 30zM376 366l-5-26 8 12zM368 382l3-42 5 26zM368 382l-5-43 8 1zM360 410l3-71 5 43zM360 410l-5-42 8-29zM352 406l3-38 5 42zM352 406l-5-42 8 4zM344 381l3-17 5 42zM344 381l-5-27 8 10zM336 334l8 47-5-27zM336 334l3 20-7 60zM328 344l8-10-4 80zM328 344l4 70-8-72zM321 363l3-21 4 2zM321 363l-5 20 8-41zM313 386l8-23-5 20zM313 386l3-3-8 21zM305 321l8 65-5 18zM305 321l3 83-8-40zM297 472l3-108 5-43zM297 472l-5-1 8-107z"/>
<path fill="url(#a47)" d="M666 270l3-52 5-5zM666 270l-5-7 8-45zM658 241l8 29-5-7zM658 241l3 22-8-24zM650 232l8 9-5-2zM650 232l3 7-8 39zM642 240l8-8-5 46zM642 240l3 38-8-43zM634 253l3-18 5 5zM634 253l-5-13 8-5zM626 217l8 36-5-13zM626 217l3 23-8-33zM618 233l3-26 5 10zM618 233l-5 38 8-64zM610 234l8-1-5 38zM610 234l3 37-7-22zM602 226l8 8-4 15zM602 226l4 23-8-28zM595 278l3-57 4 5zM595 278l-5-15 8-42zM587 289l3-26 5 15zM587 289l-5-8 8-18zM579 310l3-29 5 8zM579 310l-5 6 8-35zM571 319l8-9-5 6zM571 319l-5-31 8 28zM563 300l3-12 5 31zM563 300l-5-108 8 96zM555 248l3-56 5 108zM555 248l-5 28 8-84zM547 300l3-24 5-28zM547 300l3-24-8 83zM539 347l8-47-5 59zM539 347l3 12-8 42zM531 297l8 50-5 54zM531 297l3 104-8-127zM523 341l3-67 5 23zM523 341l-5-80 8 13zM515 314l3-53 5 80zM515 314l-4 14 7-67zM507 319l8-5-4 14zM507 319l-4-22 8 31zM500 329l3-32 4 22zM500 329l-5-16 8-16zM492 326l3-13 5 16zM492 326l-5-58 8 45zM484 297l3-29 5 58zM484 297l-5-21 8-8zM476 329l3-53 5 21zM476 329l-5-55 8 2zM468 277l3-3 5 55zM468 277l3-3-8 43zM460 384l3-67 5-40zM460 384l-5-28 8-39zM452 349l3 7 5 28zM452 349l3 7-8 4zM444 330l8 19-5 11zM444 330l3 30-8 10zM436 384l8-54-5 40zM436 384l-5-19 8 5zM428 411l3-46 5 19zM428 411l-5-57 8 11zM420 380l3-26 5 57zM420 380l-4-32 7 6zM412 343l4 5 4 32zM412 343l-4-28 8 33zM405 258l7 85-4-28zM405 258l3 57-8 19zM397 321l8-63-5 76zM397 321l3 13-8-6zM389 351l3-23 5-7zM389 351l-5-29 8 6zM381 370l3-48 5 29zM381 370l-5-4 8-44zM373 376l3-10 5 4zM373 376l-5 6 8-16zM365 372l8 4-5 6zM365 372l3 10-8 28zM357 413l8-41-5 38zM357 413l-5-7 8 4zM349 454l3-48 5 7zM349 454l-5-73 8 25zM341 413l3-32 5 73zM341 413l-5-79 8 47zM333 387l3-53 5 79zM333 387l-5-43 8-10zM325 416l3-72 5 43zM325 416l-4-53 7-19zM317 394l4-31 4 53zM317 394l-4-8 8-23zM310 350l7 44-4-8zM310 350l3 36-8-65zM302 492l3-171 5 29zM302 492l-5-20 8-151z"/>
<path fill="url(#a46)" d="M671 218l3-5 5-6zM671 218l3-5-8 57zM663 251l8-33-5 52zM663 251l3 19-8-29zM655 262l3-21 5 10zM655 262l-5-30 8 9zM647 259l3-27 5 30zM647 259l-5-19 8-8zM639 233l3 7 5 19zM639 233l3 7-8 13zM631 271l3-18 5-20zM631 271l-5-54 8 36zM623 322l3-105 5 54zM623 322l-5-89 8-16zM615 281l3-48 5 89zM615 281l-5-47 8-1zM607 248l3-14 5 47zM607 248l-5-22 8 8zM599 283l3-57 5 22zM599 283l-4-5 7-52zM592 322l3-44 4 5zM592 322l-5-33 8-11zM584 283l3 6 5 33zM584 283l3 6-8 21zM576 321l8-38-5 27zM576 321l-5-2 8-9zM568 306l8 15-5-2zM568 306l3 13-8-19zM560 248l8 58-5-6zM560 248l3 52-8-52zM552 287l3-39 5 0zM552 287l-5 13 8-52zM544 298l8-11-5 13zM544 298l3 2-8 47zM536 310l8-12-5 49zM536 310l3 37-8-50zM528 252l8 58-5-13zM528 252l3 45-8 44zM520 263l8-11-5 89zM520 263l3 78-8-27zM512 322l8-59-5 51zM512 322l-5-3 8-5zM504 305l8 17-5-3zM504 305l3 14-7 10zM496 348l8-43-4 24zM496 348l-4-22 8 3zM489 340l3-14 4 22zM489 340l-5-43 8 29zM481 294l3 3 5 43zM481 294l3 3-8 32zM473 319l8-25-5 35zM473 319l-5-42 8 52zM465 354l3-77 5 42zM465 354l-5 30 8-107zM457 312l8 42-5 30zM457 312l3 72-8-35zM449 328l8-16-5 37zM449 328l3 21-8-19zM441 306l8 22-5 2zM441 306l3 24-8 54zM433 369l8-63-5 78zM433 369l3 15-8 27zM425 360l8 9-5 42zM425 360l3 51-8-31zM417 337l8 23-5 20zM417 337l3 43-8-37zM409 350l3-7 5-6zM409 350l-4-92 7 85zM401 341l4-83 4 92zM401 341l-4-20 8-63zM394 422l3-101 4 20zM394 422l-5-71 8-30zM386 412l3-61 5 71zM386 412l-5-42 8-19zM378 349l3 21 5 42zM378 349l3 21-8 6zM370 384l8-35-5 27zM370 384l-5-12 8 4zM362 364l8 20-5-12zM362 364l3 8-8 41zM354 401l8-37-5 49zM354 401l3 12-8 41zM346 388l8 13-5 53zM346 388l3 66-8-41zM338 399l8-11-5 25zM338 399l3 14-8-26zM330 440l3-53 5 12zM330 440l-5-24 8-29zM322 466l3-50 5 24zM322 466l-5-72 8 22zM314 398l3-4 5 72zM314 398l-4-48 7 44zM306 499l4-149 4 48zM306 499l-4-7 8-142z"/>
<path fill="url(#a45)" d="M676 231l3-24 4 10zM676 231l-5-13 8-11zM668 262l3-44 5 13zM668 262l-5-11 8-33zM660 278l3-27 5 11zM660 278l-5-16 8-11zM652 235l8 43-5-16zM652 235l3 27-8-3zM644 228l8 7-5 24zM644 228l3 31-8-26zM636 288l3-55 5-5zM636 288l-5-17 8-38zM628 312l3-41 5 17zM628 312l-5 10 8-51zM620 248l8 64-5 10zM620 248l3 74-8-41zM612 246l8 2-5 33zM612 246l3 35-8-33zM604 228l8 18-5 2zM604 228l3 20-8 35zM596 229l8-1-5 55zM596 229l3 54-7 39zM588 241l8-12-4 93zM588 241l4 81-8-39zM581 220l7 21-4 42zM581 220l3 63-8 38zM573 291l8-71-5 101zM573 291l3 30-8-15zM565 290l8 1-5 15zM565 290l-5-42 8 58zM557 326l3-78 5 42zM557 326l-5-39 8-39zM549 317l3-30 5 39zM549 317l-5-19 8-11zM541 338l3-40 5 19zM541 338l-5-28 8-12zM533 303l3 7 5 28zM533 303l-5-51 8 58zM525 284l3-32 5 51zM525 284l-5-21 8-11zM517 298l3-35 5 21zM517 298l-5 24 8-59zM509 273l8 25-5 24zM509 273l3 49-8-17zM501 323l8-50-5 32zM501 323l-5 25 8-43zM493 290l8 33-5 25zM493 290l3 58-7-8zM485 315l8-25-4 50zM485 315l4 25-8-46zM478 341l3-47 4 21zM478 341l-5-22 8-25zM470 328l3-9 5 22zM470 328l3-9-8 35zM462 360l8-32-5 26zM462 360l-5-48 8 42zM454 306l3 6 5 48zM454 306l3 6-8 16zM446 304l8 2-5 22zM446 304l3 24-8-22zM438 343l3-37 5-2zM438 343l-5 26 8-63zM430 288l8 55-5 26zM430 288l3 81-8-9zM422 369l8-81-5 72zM422 369l-5-32 8 23zM414 435l3-98 5 32zM414 435l-5-85 8-13zM406 364l3-14 5 85zM406 364l-5-23 8 9zM398 395l3-54 5 23zM398 395l-4 27 7-81zM390 375l8 20-4 27zM390 375l4 47-8-10zM383 356l7 19-4 37zM383 356l3 56-8-63zM375 376l3-27 5 7zM375 376l-5 8 8-35zM367 393l3-9 5-8zM367 393l-5-29 8 20zM359 364l3 0 5 29zM359 364l3 0-8 37zM351 370l8-6-5 37zM351 370l3 31-8-13zM343 406l3-18 5-18zM343 406l-5-7 8-11zM335 491l3-92 5 7zM335 491l-5-51 8-41zM327 439l3 1 5 51zM327 439l3 1-8 26zM319 448l8-9-5 27zM319 448l-5-50 8 68zM311 505l3-107 5 50zM311 505l-5-6 8-101z"/>
<path fill="url(#a44)" d="M680 216l3 1 5 5zM680 216l3 1-7 14zM672 212l8 4-4 15zM672 212l4 19-8 31zM665 247l7-35-4 50zM665 247l3 15-8 16zM657 244l8 3-5 31zM657 244l3 34-8-43zM649 233l3 2 5 9zM649 233l-5-5 8 7zM641 225l3 3-8 60zM633 245l8-20-5 63zM633 245l3 43-8 24zM625 301l8-56-5 67zM625 301l-5-53 8 64zM617 279l3-31 5 53zM617 279l-5-33 8 2zM609 260l3-14 5 33zM609 260l-5-32 8 18zM601 235l3-7 5 32zM601 235l-5-6 8-1zM593 280l3-51 5 6zM593 280l-5-39 8-12zM585 251l3-10 5 39zM585 251l-4-31 7 21zM577 340l4-120 4 31zM577 340l-4-49 8-71zM570 323l3-32 4 49zM570 323l-5-33 8 1zM562 287l3 3 5 33zM562 287l3 3-8 36zM554 310l8-23-5 39zM554 310l3 16-8-9zM546 356l3-39 5-7zM546 356l-5-18 8-21zM538 371l3-33 5 18zM538 371l-5-68 8 35zM530 325l3-22 5 68zM530 325l-5-41 8 19zM522 311l3-27 5 41zM522 311l-5-13 8-14zM514 311l3-13 5 13zM514 311l-5-38 8 25zM506 312l3-39 5 38zM506 312l-5 11 8-50zM498 327l8-15-5 11zM498 327l-5-37 8 33zM490 347l3-57 5 37zM490 347l-5-32 8-25zM482 394l3-79 5 32zM482 394l-4-53 7-26zM475 387l3-46 4 53zM475 387l-5-59 8 13zM467 322l3 6 5 59zM467 322l3 6-8 32zM459 337l8-15-5 38zM459 337l3 23-8-54zM451 344l3-38 5 31zM451 344l-5-40 8 2zM443 356l3-52 5 40zM443 356l-5-13 8-39zM435 341l3 2 5 13zM435 341l-5-53 8 55zM427 325l3-37 5 53zM427 325l-5 44 8-81zM419 378l8-53-5 44zM419 378l3-9-8 66zM411 446l8-68-5 57zM411 446l-5-82 8 71zM403 425l3-61 5 82zM403 425l-5-30 8-31zM395 330l8 95-5-30zM395 330l3 65-8-20zM387 360l8-30-5 45zM387 360l3 15-7-19zM379 417l4-61 4 4zM379 417l-4-41 8-20zM372 392l3-16 4 41zM372 392l-5 1 8-17zM364 357l8 35-5 1zM364 357l3 36-8-29zM356 359l8-2-5 7zM356 359l3 5-8 6zM348 393l3-23 5-11zM348 393l-5 13 8-36zM340 461l3-55 5-13zM340 461l-5 30 8-85zM332 430l8 31-5 30zM332 430l3 61-8-52zM324 441l8-11-5 9zM324 441l3-2-8 9zM316 512l3-64 5-7zM316 512l-5-7 8-57z"/>
<path fill="url(#a43)" d="M685 220l3 2 5 5zM685 220l-5-4 8 6zM677 248l3-32 5 4zM677 248l-5-36 8 4zM669 271l3-59 5 36zM669 271l-4-24 7-35zM661 323l4-76 4 24zM661 323l-4-79 8 3zM654 270l3-26 4 79zM654 270l-5-37 8 11zM646 207l8 63-5-37zM646 207l3 26-8-8zM638 235l8-28-5 18zM638 235l-5 10 8-20zM630 285l3-40 5-10zM630 285l-5 16 8-56zM622 302l8-17-5 16zM622 302l-5-23 8 22zM614 284l3-5 5 23zM614 284l-5-24 8 19zM606 322l3-62 5 24zM606 322l-5-87 8 25zM598 276l3-41 5 87zM598 276l-5 4 8-45zM590 264l8 12-5 4zM590 264l3 16-8-29zM582 283l3-32 5 13zM582 283l3-32-8 89zM574 275l8 8-5 57zM574 275l3 65-7-17zM566 281l8-6-4 48zM566 281l4 42-8-36zM559 323l3-36 4-6zM559 323l-5-13 8-23zM551 333l3-23 5 13zM551 333l-5 23 8-46zM543 343l8-10-5 23zM543 343l3 13-8 15zM535 306l8 37-5 28zM535 306l3 65-8-46zM527 362l3-37 5-19zM527 362l-5-51 8 14zM519 377l3-66 5 51zM519 377l-5-66 8 0zM511 309l3 2 5 66zM511 309l3 2-8 1zM503 369l3-57 5-3zM503 369l-5-42 8-15zM495 329l3-2 5 42zM495 329l3-2-8 20zM487 310l8 19-5 18zM487 310l3 37-8 47zM479 314l8-4-5 84zM479 314l3 80-7-7zM471 331l8-17-4 73zM471 331l4 56-8-65zM464 336l3-14 4 9zM464 336l-5 1 8-15zM456 411l3-74 5-1zM456 411l-5-67 8-7zM448 384l3-40 5 67zM448 384l-5-28 8-12zM440 393l3-37 5 28zM440 393l-5-52 8 15zM432 391l3-50 5 52zM432 391l-5-66 8 16zM424 355l3-30 5 66zM424 355l-5 23 8-53zM416 433l3-55 5-23zM416 433l-5 13 8-68zM408 383l8 50-5 13zM408 383l3 63-8-21zM400 333l8 50-5 42zM400 333l3 92-8-95zM392 415l3-85 5 3zM392 415l-5-55 8-30zM384 441l3-81 5 55zM384 441l-5-24 8-57zM376 368l8 73-5-24zM376 368l3 49-7-25zM368 322l8 46-4 24zM368 322l4 70-8-35zM361 364l7-42-4 35zM361 364l-5-5 8-2zM353 408l3-49 5 5zM353 408l-5-15 8-34zM345 454l3-61 5 15zM345 454l-5 7 8-68zM337 436l8 18-5 7zM337 436l3 25-8-31zM329 473l3-43 5 6zM329 473l-5-32 8-11zM321 517l3-76 5 32zM321 517l-5-5 8-71z"/>
<path fill="url(#a42)" d="M690 270l3-43 5 11zM690 270l-5-50 8 7zM682 218l3 2 5 50zM682 218l3 2-8 28zM674 276l3-28 5-30zM674 276l-5-5 8-23zM666 316l3-45 5 5zM666 316l-5 7 8-52zM658 292l8 24-5 7zM658 292l3 31-7-53zM650 286l4-16 4 22zM650 286l-4-79 8 63zM643 252l3-45 4 79zM643 252l-5-17 8-28zM635 269l3-34 5 17zM635 269l-5 16 8-50zM627 281l8-12-5 16zM627 281l3 4-8 17zM619 274l8 7-5 21zM619 274l3 28-8-18zM611 267l8 7-5 10zM611 267l3 17-8 38zM603 309l8-42-5 55zM603 309l-5-33 8 46zM595 314l3-38 5 33zM595 314l-5-50 8 12zM587 279l3-15 5 50zM587 279l-5 4 8-19zM579 266l8 13-5 4zM579 266l3 17-8-8zM571 299l3-24 5-9zM571 299l-5-18 8-6zM563 281l3 0 5 18zM563 281l3 0-7 42zM555 326l8-45-4 42zM555 326l4-3-8 10zM548 350l3-17 4-7zM548 350l-5-7 8-10zM540 316l8 34-5-7zM540 316l3 27-8-37zM532 385l3-79 5 10zM532 385l-5-23 8-56zM524 349l3 13 5 23zM524 349l3 13-8 15zM516 299l8 50-5 28zM516 299l3 78-8-68zM508 326l3-17 5-10zM508 326l3-17-8 60zM500 373l8-47-5 43zM500 373l-5-44 8 40zM492 365l3-36 5 44zM492 365l-5-55 8 19zM484 336l3-26 5 55zM484 336l-5-22 8-4zM476 370l3-56 5 22zM476 370l-5-39 8-17zM468 384l3-53 5 39zM468 384l-4-48 7-5zM460 382l4-46 4 48zM460 382l-4 29 8-75zM453 385l7-3-4 29zM453 385l3 26-8-27zM445 396l3-12 5 1zM445 396l-5-3 8-9zM437 354l8 42-5-3zM437 354l3 39-8-2zM429 390l8-36-5 37zM429 390l-5-35 8 36zM421 403l3-48 5 35zM421 403l-5 30 8-78zM413 401l8 2-5 30zM413 401l3 32-8-50zM405 446l3-63 5 18zM405 446l-5-113 8 50zM397 443l3-110 5 113zM397 443l-5-28 8-82zM389 437l3-22 5 28zM389 437l-5 4 8-26zM381 380l8 57-5 4zM381 380l3 61-8-73zM373 385l3-17 5 12zM373 385l-5-63 8 46zM365 416l3-94 5 63zM365 416l-4-52 7-42zM358 397l3-33 4 52zM358 397l-5 11 8-44zM350 372l8 25-5 11zM350 372l3 36-8 46zM342 366l8 6-5 82zM342 366l3 88-8-18zM334 448l8-82-5 70zM334 448l3-12-8 37zM326 516l3-43 5-25zM326 516l-5 1 8-44z"/>
<path fill="url(#a41)" d="M695 275l3-37 5 14zM695 275l-5-5 8-32zM687 223l8 52-5-5zM687 223l3 47-8-52zM679 239l3-21 5 5zM679 239l3-21-8 58zM671 290l8-51-5 37zM671 290l3-14-8 40zM663 323l8-33-5 26zM663 323l-5-31 8 24zM655 281l3 11 5 31zM655 281l3 11-8-6zM647 214l8 67-5 5zM647 214l3 72-7-34zM639 281l8-67-4 38zM639 281l-4-12 8-17zM632 253l7 28-4-12zM632 253l3 16-8 12zM624 306l3-25 5-28zM624 306l-5-32 8 7zM616 317l3-43 5 32zM616 317l-5-50 8 7zM608 347l3-80 5 50zM608 347l-5-38 8-42zM600 418l3-109 5 38zM600 418l-5-104 8-5zM592 331l3-17 5 104zM592 331l-5-52 8 35zM584 259l3 20 5 52zM584 259l3 20-8-13zM576 299l3-33 5-7zM576 299l-5 0 8-33zM568 275l8 24-5 0zM568 275l3 24-8-18zM560 296l3-15 5-6zM560 296l3-15-8 45zM552 355l3-29 5-30zM552 355l-4-5 7-24zM544 378l4-28 4 5zM544 378l-4-62 8 34zM537 366l3-50 4 62zM537 366l-5 19 8-69zM529 303l8 63-5 19zM529 303l3 82-8-36zM521 264l8 39-5 46zM521 264l3 85-8-50zM513 306l8-42-5 35zM513 306l3-7-8 27zM505 330l8-24-5 20zM505 330l3-4-8 47zM497 352l8-22-5 43zM497 352l3 21-8-8zM489 331l8 21-5 13zM489 331l3 34-8-29zM481 394l3-58 5-5zM481 394l-5-24 8-34zM473 446l3-76 5 24zM473 446l-5-62 8-14zM465 424l3-40 5 62zM465 424l-5-42 8 2zM457 418l3-36 5 42zM457 418l-4-33 7-3zM449 424l4-39 4 33zM449 424l-4-28 8-11zM442 403l3-7 4 28zM442 403l-5-49 8 42zM434 415l3-61 5 49zM434 415l-5-25 8-36zM426 384l3 6 5 25zM426 384l3 6-8 13zM418 428l3-25 5-19zM418 428l-5-27 8 2zM410 486l3-85 5 27zM410 486l-5-40 8-45zM402 470l3-24 5 40zM402 470l-5-27 8 3zM394 392l8 78-5-27zM394 392l3 51-8-6zM386 466l3-29 5-45zM386 466l-5-86 8 57zM378 448l3-68 5 86zM378 448l-5-63 8-5zM370 423l3-38 5 63zM370 423l-5-7 8-31zM362 391l8 32-5-7zM362 391l3 25-7-19zM354 378l8 13-4 6zM354 378l4 19-8-25zM347 373l3-1 4 6zM347 373l-5-7 8 6zM339 419l3-53 5 7zM339 419l-5 29 8-82zM331 516l3-68 5-29zM331 516l-5 0 8-68z"/>
<path fill="url(#a40)" d="M700 281l3-29 5 15zM700 281l-5-6 8-23zM692 316l3-41 5 6zM692 316l-5-93 8 52zM684 291l3-68 5 93zM684 291l-5-52 8-16zM676 262l3-23 5 52zM676 262l-5 28 8-51zM668 338l3-48 5-28zM668 338l-5-15 8-33zM660 349l3-26 5 15zM660 349l-5-68 8 42zM652 293l3-12 5 68zM652 293l-5-79 8 67zM644 295l3-81 5 79zM644 295l-5-14 8-67zM636 307l3-26 5 14zM636 307l-4-54 7 28zM628 324l4-71 4 54zM628 324l-4-18 8-53zM621 263l7 61-4-18zM621 263l3 43-8 11zM613 297l8-34-5 54zM613 297l3 20-8 30zM605 378l3-31 5-50zM605 378l-5 40 8-71zM597 306l8 72-5 40zM597 306l3 112-8-87zM589 325l8-19-5 25zM589 325l-5-66 8 72zM581 315l3-56 5 66zM581 315l-5-16 8-40zM573 273l8 42-5-16zM573 273l3 26-8-24zM565 273l8 0-5 2zM565 273l3 2-8 21zM557 295l8-22-5 23zM557 295l3 1-8 59zM549 346l8-51-5 60zM549 346l3 9-8 23zM541 430l3-52 5-32zM541 430l-4-64 7 12zM533 388l4-22 4 64zM533 388l-4-85 8 63zM526 403l3-100 4 85zM526 403l-5-139 8 39zM518 339l3-75 5 139zM518 339l-5-33 8-42zM510 353l3-47 5 33zM510 353l-5-23 8-24zM502 324l3 6 5 23zM502 324l3 6-8 22zM494 329l8-5-5 28zM494 329l3 23-8-21zM486 379l3-48 5-2zM486 379l-5 15 8-63zM478 416l3-22 5-15zM478 416l-5 30 8-52zM470 427l8-11-5 30zM470 427l3 19-8-22zM462 422l8 5-5-3zM462 422l-5-4 8 6zM454 378l8 44-5-4zM454 378l3 40-8 6zM446 371l8 7-5 46zM446 371l3 53-7-21zM438 394l8-23-4 32zM438 394l4 9-8 12zM431 388l7 6-4 21zM431 388l3 27-8-31zM423 356l8 32-5-4zM423 356l3 28-8 44zM415 447l8-91-5 72zM415 447l3-19-8 58zM407 513l3-27 5-39zM407 513l-5-43 8 16zM399 398l8 115-5-43zM399 398l3 72-8-78zM391 450l3-58 5 6zM391 450l-5 16 8-74zM383 421l8 29-5 16zM383 421l3 45-8-18zM375 381l8 40-5 27zM375 381l3 67-8-25zM367 439l8-58-5 42zM367 439l-5-48 8 32zM359 360l8 79-5-48zM359 360l3 31-8-13zM351 374l8-14-5 18zM351 374l3 4-7-5zM343 372l4 1-8 46zM336 518l3-99 4-47zM336 518l-5-2 8-97z"/>
<path fill="url(#a39)" d="M705 265l8 5-5-3zM705 265l3 2-8 14zM697 320l3-39 5-16zM697 320l-5-4 8-35zM689 279l8 41-5-4zM689 279l3 37-8-25zM681 237l8 42-5 12zM681 237l3 54-8-29zM673 303l3-41 5-25zM673 303l-5 35 8-76zM665 319l8-16-5 35zM665 319l3 19-8 11zM657 341l8-22-5 30zM657 341l-5-48 8 56zM649 279l3 14 5 48zM649 279l3 14-8 2zM641 322l3-27 5-16zM641 322l-5-15 8-12zM633 251l8 71-5-15zM633 251l3 56-8 17zM625 254l8-3-5 73zM625 254l3 70-7-61zM617 274l4-11 4-9zM617 274l4-11-8 34zM610 359l3-62 4-23zM610 359l-5 19 8-81zM602 325l8 34-5 19zM602 325l3 53-8-72zM594 369l3-63 5 19zM594 369l-5-44 8-19zM586 391l3-66 5 44zM586 391l-5-76 8 10zM578 322l3-7 5 76zM578 322l-5-49 8 42zM570 338l3-65 5 49zM570 338l-5-65 8 0zM562 248l3 25 5 65zM562 248l3 25-8 22zM554 339l3-44 5-47zM554 339l-5 7 8-51zM546 354l3-8 5-7zM546 354l3-8-8 84zM538 362l8-8-5 76zM538 362l3 68-8-42zM530 363l8-1-5 26zM530 363l3 25-7 15zM522 326l8 37-4 40zM522 326l4 77-8-64zM515 361l3-22 4-13zM515 361l-5-8 8-14zM507 308l8 53-5-8zM507 308l3 45-8-29zM499 329l8-21-5 16zM499 329l-5 0 8-5zM491 323l8 6-5 0zM491 323l3 6-8 50zM483 322l8 1-5 56zM483 322l3 57-8 37zM475 407l8-85-5 94zM475 407l3 9-8 11zM467 421l8-14-5 20zM467 421l3 6-8-5zM459 385l8 36-5 1zM459 385l3 37-8-44zM451 332l8 53-5-7zM451 332l3 46-8-7zM443 423l3-52 5-39zM443 423l-5-29 8-23zM435 380l3 14 5 29zM435 380l3 14-7-6zM427 341l8 39-4 8zM427 341l4 47-8-32zM420 387l3-31 4-15zM420 387l3-31-8 91zM412 414l8-27-5 60zM412 414l3 33-8 66zM404 435l8-21-5 99zM404 435l3 78-8-115zM396 399l3-1 5 37zM396 399l3-1-8 52zM388 482l3-32 5-51zM388 482l-5-61 8 29zM380 455l3-34 5 61zM380 455l-5-74 8 40zM372 448l3-67 5 74zM372 448l-5-9 8-58zM364 435l3 4 5 9zM364 435l-5-75 8 79zM356 390l3-30 5 75zM356 390l-5-16 8-14zM348 435l3-61 5 16zM348 435l-5-63 8 2zM340 521l3-149 5 63zM340 521l-4-3 7-146z"/>
<path fill="url(#a38)" d="M709 284l4-14 4-5zM709 284l-4-19 8 5zM702 306l3-41 4 19zM702 306l-5 14 8-55zM694 329l3-9 5-14zM694 329l-5-50 8 41zM686 312l3-33 5 50zM686 312l-5-75 8 42zM678 240l3-3 5 75zM678 240l3-3-8 66zM670 267l8-27-5 63zM670 267l3 36-8 16zM662 289l8-22-5 52zM662 289l3 30-8 22zM654 303l8-14-5 52zM654 303l3 38-8-62zM646 315l3-36 5 24zM646 315l-5 7 8-43zM638 340l3-18 5-7zM638 340l-5-89 8 71zM630 244l3 7 5 89zM630 244l3 7-8 3zM622 340l3-86 5-10zM622 340l-5-66 8-20zM614 348l3-74 5 66zM614 348l-4 11 7-85zM607 322l7 26-4 11zM607 322l3 37-8-34zM599 308l8 14-5 3zM599 308l3 17-8 44zM591 314l8-6-5 61zM591 314l3 55-8 22zM583 308l8 6-5 77zM583 308l3 83-8-69zM575 310l8-2-5 14zM575 310l3 12-8 16zM567 291l8 19-5 28zM567 291l3 47-8-90zM559 318l3-70 5 43zM559 318l-5 21 8-91zM551 337l8-19-5 21zM551 337l3 2-8 15zM543 336l8 1-5 17zM543 336l3 18-8 8zM535 391l3-29 5-26zM535 391l-5-28 8-1zM527 347l3 16 5 28zM527 347l3 16-8-37zM519 328l3-2 5 21zM519 328l3-2-7 35zM511 420l4-59 4-33zM511 420l-4-112 8 53zM504 461l3-153 4 112zM504 461l-5-132 8-21zM496 369l3-40 5 132zM496 369l-5-46 8 6zM488 374l3-51 5 46zM488 374l-5-52 8 1zM480 387l3-65 5 52zM480 387l-5 20 8-85zM472 377l8 10-5 20zM472 377l3 30-8 14zM464 421l8-44-5 44zM464 421l-5-36 8 36zM456 346l8 75-5-36zM456 346l3 39-8-53zM448 381l3-49 5 14zM448 381l-5 42 8-91zM440 346l8 35-5 42zM440 346l3 77-8-43zM432 352l8-6-5 34zM432 352l3 28-8-39zM424 415l3-74 5 11zM424 415l-4-28 7-46zM416 419l4-32 4 28zM416 419l-4-5 8-27zM409 436l3-22 4 5zM409 436l-5-1 8-21zM401 454l3-19 5 1zM401 454l-5-55 8 36zM393 480l3-81 5 55zM393 480l-5 2 8-83zM385 423l8 57-5 2zM385 423l3 59-8-27zM377 424l8-1-5 32zM377 424l3 31-8-7zM369 390l8 34-5 24zM369 390l3 58-8-13zM361 429l8-39-5 45zM361 429l-5-39 8 45zM353 498l3-108 5 39zM353 498l-5-63 8-45zM345 524l3-89 5 63zM345 524l-5-3 8-86z"/>
<path fill="url(#a37)" d="M714 284l3-19 5 13zM714 284l-5 0 8-19zM706 330l3-46 5 0zM706 330l-4-24 7-22zM698 341l4-35 4 24zM698 341l-4-12 8-23zM691 385l3-56 4 12zM691 385l-5-73 8 17zM683 288l3 24 5 73zM683 288l-5-48 8 72zM675 268l3-28 5 48zM675 268l-5-1 8-27zM667 302l3-35 5 1zM667 302l-5-13 8-22zM659 275l8 27-5-13zM659 275l3 14-8 14zM651 298l8-23-5 28zM651 298l3 5-8 12zM643 314l8-16-5 17zM643 314l3 1-8 25zM635 311l8 3-5 26zM635 311l-5-67 8 96zM627 273l3-29 5 67zM627 273l3-29-8 96zM619 323l8-50-5 67zM619 323l3 17-8 8zM611 346l8-23-5 25zM611 346l-4-24 7 26zM603 327l4-5 4 24zM603 327l-4-19 8 14zM596 272l7 55-4-19zM596 272l3 36-8 6zM588 335l8-63-5 42zM588 335l-5-27 8 6zM580 330l3-22 5 27zM580 330l-5-20 8-2zM572 308l3 2 5 20zM572 308l-5-17 8 19zM564 329l3-38 5 17zM564 329l-5-11 8-27zM556 300l8 29-5-11zM556 300l3 18-8 19zM548 287l8 13-5 37zM548 287l3 50-8-1zM540 350l8-63-5 49zM540 350l3-14-8 55zM532 363l8-13-5 41zM532 363l3 28-8-44zM524 366l3-19 5 16zM524 366l-5-38 8 19zM516 413l3-85 5 38zM516 413l-5 7 8-92zM508 447l3-27 5-7zM508 447l-4 14 7-41zM500 387l8 60-4 14zM500 387l4 74-8-92zM493 357l3 12 4 18zM493 357l3 12-8 5zM485 379l8-22-5 17zM485 379l-5 8 8-13zM477 356l8 23-5 8zM477 356l3 31-8-10zM469 364l8-8-5 21zM469 364l3 13-8 44zM461 379l8-15-5 57zM461 379l3 42-8-75zM453 417l3-71 5 33zM453 417l-5-36 8-35zM445 420l3-39 5 36zM445 420l-5-74 8 35zM437 373l3-27 5 74zM437 373l-5-21 8-6zM429 395l3-43 5 21zM429 395l-5 20 8-63zM421 356l8 39-5 20zM421 356l3 59-8 4zM413 397l8-41-5 63zM413 397l3 22-7 17zM405 464l8-67-4 39zM405 464l-4-10 8-18zM398 344l7 120-4-10zM398 344l3 110-8 26zM390 340l8 4-5 136zM390 340l3 140-8-57zM382 375l8-35-5 83zM382 375l3 48-8 1zM374 452l8-77-5 49zM374 452l-5-62 8 34zM366 449l3-59 5 62zM366 449l-5-20 8-39zM358 490l3-61 5 20zM358 490l-5 8 8-69zM350 523l3-25 5-8zM350 523l-5 1 8-26z"/>
<path fill="url(#a36)" d="M719 307l3-29 5 20zM719 307l-5-23 8-6zM711 338l3-54 5 23zM711 338l-5-8 8-46zM703 293l8 45-5-8zM703 293l3 37-8 11zM695 295l8-2-5 48zM695 295l3 46-7 44zM687 298l8-3-4 90zM687 298l4 87-8-97zM680 290l3-2 4 10zM680 290l-5-22 8 20zM672 323l3-55 5 22zM672 323l-5-21 8-34zM664 238l8 85-5-21zM664 238l3 64-8-27zM656 290l8-52-5 37zM656 290l-5 8 8-23zM648 347l3-49 5-8zM648 347l-5-33 8-16zM640 338l3-24 5 33zM640 338l-5-27 8 3zM632 267l8 71-5-27zM632 267l3 44-8-38zM624 252l8 15-5 6zM624 252l3 21-8 50zM616 332l8-80-5 71zM616 332l-5 14 8-23zM608 347l8-15-5 14zM608 347l-5-20 8 19zM600 312l8 35-5-20zM600 312l-4-40 7 55zM592 337l4-65 4 40zM592 337l-4-2 8-63zM585 348l3-13 4 2zM585 348l-5-18 8 5zM577 322l3 8 5 18zM577 322l-5-14 8 22zM569 341l3-33 5 14zM569 341l-5-12 8-21zM561 293l8 48-5-12zM561 293l3 36-8-29zM553 294l8-1-5 7zM553 294l3 6-8-13zM545 330l3-43 5 7zM545 330l-5 20 8-63zM537 391l3-41 5-20zM537 391l-5-28 8-13zM529 372l3-9 5 28zM529 372l-5-6 8-3zM521 397l3-31 5 6zM521 397l-5 16 8-47zM513 347l8 50-5 16zM513 347l3 66-8 34zM505 408l8-61-5 100zM505 408l3 39-8-60zM497 390l3-3 5 21zM497 390l-4-33 7 30zM490 360l3-3 4 33zM490 360l3-3-8 22zM482 349l8 11-5 19zM482 349l3 30-8-23zM474 380l3-24 5-7zM474 380l-5-16 8-8zM466 393l3-29 5 16zM466 393l-5-14 8-15zM458 405l3-26 5 14zM458 405l-5 12 8-38zM450 392l8 13-5 12zM450 392l3 25-8 3zM442 409l8-17-5 28zM442 409l-5-36 8 47zM434 413l3-40 5 36zM434 413l-5-18 8-22zM426 410l3-15 5 18zM426 410l-5-54 8 39zM418 406l3-50 5 54zM418 406l-5-9 8-41zM410 443l3-46 5 9zM410 443l-5 21 8-67zM402 460l8-17-5 21zM402 460l-4-116 7 120zM394 455l4-111 4 116zM394 455l-4-115 8 4zM387 414l3-74 4 115zM387 414l-5-39 8-35zM379 443l3-68 5 39zM379 443l-5 9 8-77zM371 463l3-11 5-9zM371 463l-5-14 8 3zM363 481l3-32 5 14zM363 481l-5 9 8-41zM355 514l3-24 5-9zM355 514l-5 9 8-33z"/>
<path fill="url(#a35)" d="M724 299l8-6-5 5zM724 299l3-1-8 9zM716 288l8 11-5 8zM716 288l3 19-8 31zM708 305l8-17-5 50zM708 305l3 33-8-45zM700 291l3 2 5 12zM700 291l3 2-8 2zM692 273l8 18-5 4zM692 273l3 22-8 3zM684 247l8 26-5 25zM684 247l3 51-7-8zM676 354l4-64 4-43zM676 354l-4-31 8-33zM669 271l7 83-4-31zM669 271l3 52-8-85zM661 242l3-4 5 33zM661 242l3-4-8 52zM653 334l3-44 5-48zM653 334l-5 13 8-57zM645 359l3-12 5-13zM645 359l-5-21 8 9zM637 333l3 5 5 21zM637 333l-5-66 8 71zM629 287l3-20 5 66zM629 287l-5-35 8 15zM621 298l3-46 5 35zM621 298l-5 34 8-80zM613 328l8-30-5 34zM613 328l3 4-8 15zM605 315l8 13-5 19zM605 315l3 32-8-35zM597 341l3-29 5 3zM597 341l-5-4 8-25zM589 335l3 2 5 4zM589 335l3 2-7 11zM581 351l8-16-4 13zM581 351l-4-29 8 26zM574 413l3-91 4 29zM574 413l-5-72 8-19zM566 389l3-48 5 72zM566 389l-5-96 8 48zM558 315l3-22 5 96zM558 315l-5-21 8-1zM550 379l3-85 5 21zM550 379l-5-49 8-36zM542 390l3-60 5 49zM542 390l-5 1 8-61zM534 353l8 37-5 1zM534 353l3 38-8-19zM526 352l8 1-5 19zM526 352l3 20-8 25zM518 371l8-19-5 45zM518 371l3 26-8-50zM510 370l3-23 5 24zM510 370l-5 38 8-61zM502 321l8 49-5 38zM502 321l3 87-8-18zM494 376l8-55-5 69zM494 376l3 14-7-30zM486 431l4-71 4 16zM486 431l-4-82 8 11zM479 403l3-54 4 82zM479 403l-5-23 8-31zM471 364l8 39-5-23zM471 364l3 16-8 13zM463 417l3-24 5-29zM463 417l-5-12 8-12zM455 366l8 51-5-12zM455 366l3 39-8-13zM447 394l8-28-5 26zM447 394l3-2-8 17zM439 464l3-55 5-15zM439 464l-5-51 8-4zM431 393l3 20 5 51zM431 393l3 20-8-3zM423 310l8 83-5 17zM423 310l3 100-8-4zM415 409l8-99-5 96zM415 409l3-3-8 37zM407 461l8-52-5 34zM407 461l-5-1 8-17zM399 454l8 7-5-1zM399 454l3 6-8-5zM391 379l8 75-5 1zM391 379l3 76-7-41zM383 398l8-19-4 35zM383 398l4 16-8 29zM376 459l7-61-4 45zM376 459l-5 4 8-20zM368 457l8 2-5 4zM368 457l3 6-8 18zM360 504l3-23 5-24zM360 504l-5 10 8-33z"/>
<path fill="url(#a34)" d="M729 355l3-62 5-7zM729 355l-5-56 8-6zM721 340l3-41 5 56zM721 340l-5-52 8 11zM713 313l3-25 5 52zM713 313l-5-8 8-17zM705 288l8 25-5-8zM705 288l3 17-8-14zM697 307l3-16 5-3zM697 307l-5-34 8 18zM689 300l3-27 5 34zM689 300l-5-53 8 26zM681 318l3-71 5 53zM681 318l-5 36 8-107zM673 306l8 12-5 36zM673 306l3 48-7-83zM665 280l4-9 4 35zM665 280l-4-38 8 29zM658 309l3-67 4 38zM658 309l-5 25 8-92zM650 358l3-24 5-25zM650 358l-5 1 8-25zM642 339l8 19-5 1zM642 339l3 20-8-26zM634 337l3-4 5 6zM634 337l-5-50 8 46zM626 286l3 1 5 50zM626 286l3 1-8 11zM618 357l3-59 5-12zM618 357l-5-29 8-30zM610 341l3-13 5 29zM610 341l-5-26 8 13zM602 372l3-57 5 26zM602 372l-5-31 8-26zM594 387l3-46 5 31zM594 387l-5-52 8 6zM586 388l3-53 5 52zM586 388l-5-37 8-16zM578 395l3-44 5 37zM578 395l-4 18 7-62zM570 374l8 21-4 18zM570 374l4 39-8-24zM563 387l7-13-4 15zM563 387l-5-72 8 74zM555 361l3-46 5 72zM555 361l-5 18 8-64zM547 367l8-6-5 18zM547 367l3 12-8 11zM539 347l8 20-5 23zM539 347l3 43-8-37zM531 378l3-25 5-6zM531 378l-5-26 8 1zM523 367l3-15 5 26zM523 367l-5 4 8-19zM515 373l8-6-5 4zM515 373l-5-3 8 1zM507 347l8 26-5-3zM507 347l3 23-8-49zM499 403l3-82 5 26zM499 403l-5-27 8-55zM491 450l3-74 5 27zM491 450l-5-19 8-55zM483 411l8 39-5-19zM483 411l3 20-7-28zM475 392l8 19-4-8zM475 392l-4-28 8 39zM468 399l3-35 4 28zM468 399l-5 18 8-53zM460 416l8-17-5 18zM460 416l-5-50 8 51zM452 426l3-60 5 50zM452 426l-5-32 8-28zM444 433l3-39 5 32zM444 433l-5 31 8-70zM436 423l8 10-5 31zM436 423l3 41-8-71zM428 340l8 83-5-30zM428 340l3 53-8-83zM420 407l3-97 5 30zM420 407l-5 2 8-99zM412 452l3-43 5-2zM412 452l-5 9 8-52zM404 402l8 50-5 9zM404 402l3 59-8-7zM396 350l8 52-5 52zM396 350l3 104-8-75zM388 423l3-44 5-29zM388 423l-5-25 8-19zM380 461l3-63 5 25zM380 461l-4-2 7-61zM373 504l3-45 4 2zM373 504l-5-47 8 2zM365 514l3-57 5 47zM365 514l-5-10 8-47z"/>
<path fill="url(#a33)" d="M734 336l3-50 5-7zM734 336l-5 19 8-69zM726 380l3-25 5-19zM726 380l-5-40 8 15zM718 325l3 15 5 40zM718 325l3 15-8-27zM710 288l8 37-5-12zM710 288l3 25-8-25zM702 284l8 4-5 0zM702 284l3 4-8 19zM694 302l8-18-5 23zM694 302l3 5-8-7zM686 337l3-37 5 2zM686 337l-5-19 8-18zM678 373l3-55 5 19zM678 373l-5-67 8 12zM670 357l3-51 5 67zM670 357l-5-77 8 26zM662 323l3-43 5 77zM662 323l-4-14 7-29zM654 356l4-47 4 14zM654 356l-4 2 8-49zM647 345l7 11-4 2zM647 345l3 13-8-19zM639 349l3-10 5 6zM639 349l-5-12 8 2zM631 372l3-35 5 12zM631 372l-5-86 8 51zM623 365l3-79 5 86zM623 365l-5-8 8-71zM615 368l3-11 5 8zM615 368l-5-27 8 16zM607 396l3-55 5 27zM607 396l-5-24 8-31zM599 383l3-11 5 24zM599 383l-5 4 8-15zM591 419l3-32 5-4zM591 419l-5-31 8-1zM583 361l8 58-5-31zM583 361l3 27-8 7zM575 307l8 54-5 34zM575 307l3 88-8-21zM567 318l8-11-5 67zM567 318l3 56-7 13zM559 310l8 8-4 69zM559 310l4 77-8-26zM552 303l7 7-4 51zM552 303l3 58-8 6zM544 326l8-23-5 64zM544 326l3 41-8-20zM536 394l3-47 5-21zM536 394l-5-16 8-31zM528 412l3-34 5 16zM528 412l-5-45 8 11zM520 365l3 2 5 45zM520 365l3 2-8 6zM512 406l3-33 5-8zM512 406l-5-59 8 26zM504 437l3-90 5 59zM504 437l-5-34 8-56zM496 451l3-48 5 34zM496 451l-5-1 8-47zM488 388l8 63-5-1zM488 388l3 62-8-39zM480 354l8 34-5 23zM480 354l3 57-8-19zM472 393l8-39-5 38zM472 393l3-1-7 7zM464 414l4-15 4-6zM464 414l-4 2 8-17zM457 381l7 33-4 2zM457 381l3 35-8 10zM449 380l8 1-5 45zM449 380l3 46-8 7zM441 386l8-6-5 53zM441 386l3 47-8-10zM433 375l8 11-5 37zM433 375l3 48-8-83zM425 396l3-56 5 35zM425 396l-5 11 8-67zM417 467l3-60 5-11zM417 467l-5-15 8-45zM409 400l8 67-5-15zM409 400l3 52-8-50zM401 423l3-21 5-2zM401 423l-5-73 8 52zM393 473l3-123 5 73zM393 473l-5-50 8-73zM385 518l3-95 5 50zM385 518l-5-57 8-38zM377 492l3-31 5 57zM377 492l-4 12 7-43zM369 535l4-31 4-12zM369 535l-4-21 8-10z"/>
<path fill="url(#a32)" d="M739 296l3-17 4-13zM739 296l3-17-8 57zM731 358l8-62-5 40zM731 358l-5 22 8-44zM723 348l8 10-5 22zM723 348l3 32-8-55zM715 289l8 59-5-23zM715 289l3 36-8-37zM707 298l3-10 5 1zM707 298l-5-14 8 4zM699 303l3-19 5 14zM699 303l-5-1 8-18zM691 322l3-20 5 1zM691 322l-5 15 8-35zM683 379l3-42 5-15zM683 379l-5-6 8-36zM675 362l8 17-5-6zM675 362l3 11-8-16zM667 323l8 39-5-5zM667 323l3 34-8-34zM659 289l8 34-5 0zM659 289l3 34-8 33zM651 320l8-31-5 67zM651 320l3 36-7-11zM643 331l8-11-4 25zM643 331l4 14-8 4zM636 399l3-50 4-18zM636 399l-5-27 8-23zM628 372l3 0 5 27zM628 372l-5-7 8 7zM620 343l8 29-5-7zM620 343l3 22-8 3zM612 384l3-16 5-25zM612 384l-5 12 8-28zM604 356l8 28-5 12zM604 356l3 40-8-13zM596 379l8-23-5 27zM596 379l3 4-8 36zM588 362l8 17-5 40zM588 362l3 57-8-58zM580 316l8 46-5-1zM580 316l3 45-8-54zM572 361l3-54 5 9zM572 361l-5-43 8-11zM564 358l3-40 5 43zM564 358l-5-48 8 8zM556 376l3-66 5 48zM556 376l-4-73 7 7zM548 360l4-57 4 73zM548 360l-4-34 8-23zM541 361l3-35 4 34zM541 361l-5 33 8-68zM533 385l8-24-5 33zM533 385l3 9-8 18zM525 368l8 17-5 27zM525 368l3 44-8-47zM517 422l3-57 5 3zM517 422l-5-16 8-41zM509 421l3-15 5 16zM509 421l-5 16 8-31zM501 445l8-24-5 16zM501 445l-5 6 8-14zM493 401l8 44-5 6zM493 401l3 50-8-63zM485 396l3-8 5 13zM485 396l-5-42 8 34zM477 445l3-91 5 42zM477 445l-5-52 8-39zM469 435l3-42 5 52zM469 435l-5-21 8-21zM461 445l3-31 5 21zM461 445l-4-64 7 33zM453 373l4 8 4 64zM453 373l4 8-8-1zM446 397l3-17 4-7zM446 397l-5-11 8-6zM438 491l3-105 5 11zM438 491l-5-116 8 11zM430 445l3-70 5 116zM430 445l-5-49 8-21zM422 416l3-20 5 49zM422 416l3-20-8 71zM414 432l8-16-5 51zM414 432l3 35-8-67zM406 456l3-56 5 32zM406 456l-5-33 8-23zM398 462l3-39 5 33zM398 462l-5 11 8-50zM390 494l3-21 5-11zM390 494l-5 24 8-45zM382 465l8 29-5 24zM382 465l3 53-8-26zM374 546l3-54 5-27zM374 546l-5-11 8-43z"/>
<path fill="url(#a31)" d="M743 292l3-26 5-19zM743 292l-4 4 7-30zM735 309l4-13 4-4zM735 309l4-13-8 62zM728 353l7-44-4 49zM728 353l3 5-8-10zM720 301l8 52-5-5zM720 301l3 47-8-59zM712 323l3-34 5 12zM712 323l-5-25 8-9zM704 325l3-27 5 25zM704 325l-5-22 8-5zM696 281l8 44-5-22zM696 281l3 22-8 19zM688 285l8-4-5 41zM688 285l3 37-8 57zM680 328l8-43-5 94zM680 328l3 51-8-17zM672 346l8-18-5 34zM672 346l3 16-8-39zM664 295l8 51-5-23zM664 295l3 28-8-34zM656 326l3-37 5 6zM656 326l-5-6 8-31zM648 332l3-12 5 6zM648 332l-5-1 8-11zM640 379l3-48 5 1zM640 379l-4 20 7-68zM632 379l8 0-4 20zM632 379l4 20-8-27zM625 360l7 19-4-7zM625 360l3 12-8-29zM617 403l3-60 5 17zM617 403l-5-19 8-41zM609 361l8 42-5-19zM609 361l3 23-8-28zM601 364l3-8 5 5zM601 364l3-8-8 23zM593 415l3-36 5-15zM593 415l-5-53 8 17zM585 389l3-27 5 53zM585 389l-5-73 8 46zM577 394l3-78 5 73zM577 394l-5-33 8-45zM569 428l3-67 5 33zM569 428l-5-70 8 3zM561 389l3-31 5 70zM561 389l-5-13 8-18zM553 377l3-1 5 13zM553 377l-5-17 8 16zM545 361l3-1 5 17zM545 361l-4 0 7-1zM537 370l4-9 4 0zM537 370l4-9-8 24zM530 400l3-15 4-15zM530 400l-5-32 8 17zM522 456l3-88 5 32zM522 456l-5-34 8-54zM514 418l3 4 5 34zM514 418l3 4-8-1zM506 412l8 6-5 3zM506 412l3 9-8 24zM498 405l8 7-5 33zM498 405l3 40-8-44zM490 384l8 21-5-4zM490 384l3 17-8-5zM482 377l8 7-5 12zM482 377l3 19-8 49zM474 449l8-72-5 68zM474 449l-5-14 8 10zM466 414l8 35-5-14zM466 414l3 21-8 10zM458 365l8 49-5 31zM458 365l3 80-8-72zM450 389l3-16 5-8zM450 389l-4 8 7-24zM442 492l4-95 4-8zM442 492l-4-1 8-94zM435 426l7 66-4-1zM435 426l3 65-8-46zM427 448l8-22-5 19zM427 448l-5-32 8 29zM419 505l3-89 5 32zM419 505l-5-73 8-16zM411 446l3-14 5 73zM411 446l-5 10 8-24zM403 469l3-13 5-10zM403 469l-5-7 8-6zM395 466l3-4 5 7zM395 466l3-4-8 32zM387 441l8 25-5 28zM387 441l3 53-8-29zM379 549l3-84 5-24zM379 549l-5-3 8-81z"/>
<path fill="url(#a30)" d="M748 275l3-28 5 4zM748 275l-5 17 8-45zM740 312l3-20 5-17zM740 312l-5-3 8-17zM732 295l8 17-5-3zM732 295l3 14-7 44zM724 305l8-10-4 58zM724 305l4 48-8-52zM717 310l3-9 4 4zM717 310l-5 13 8-22zM709 345l3-22 5-13zM709 345l-5-20 8-2zM701 277l8 68-5-20zM701 277l3 48-8-44zM693 292l3-11 5-4zM693 292l-5-7 8-4zM685 271l8 21-5-7zM685 271l3 14-8 43zM677 295l8-24-5 57zM677 295l3 33-8 18zM669 292l8 3-5 51zM669 292l3 54-8-51zM661 307l3-12 5-3zM661 307l-5 19 8-31zM653 358l3-32 5-19zM653 358l-5-26 8-6zM645 361l3-29 5 26zM645 361l-5 18 8-47zM637 403l3-24 5-18zM637 403l-5-24 8 0zM629 327l8 76-5-24zM629 327l3 52-7-19zM622 400l3-40 4-33zM622 400l-5 3 8-43zM614 420l3-17 5-3zM614 420l-5-59 8 42zM606 380l3-19 5 59zM606 380l-5-16 8-3zM598 421l3-57 5 16zM598 421l-5-6 8-51zM590 450l3-35 5 6zM590 450l-5-61 8 26zM582 418l3-29 5 61zM582 418l-5-24 8-5zM574 406l3-12 5 24zM574 406l3-12-8 34zM566 409l8-3-5 22zM566 409l3 19-8-39zM558 412l3-23 5 20zM558 412l-5-35 8 12zM550 399l3-22 5 35zM550 399l-5-38 8 16zM542 414l3-53 5 38zM542 414l-5-44 8-9zM534 361l3 9 5 44zM534 361l3 9-7 30zM526 417l8-56-4 39zM526 417l4-17-8 56zM519 401l7 16-4 39zM519 401l3 55-8-38zM511 376l8 25-5 17zM511 376l3 42-8-6zM503 413l8-37-5 36zM503 413l-5-8 8 7zM495 340l8 73-5-8zM495 340l3 65-8-21zM487 347l8-7-5 44zM487 347l3 37-8-7zM479 427l3-50 5-30zM479 427l-5 22 8-72zM471 434l8-7-5 22zM471 434l3 15-8-35zM463 406l3 8 5 20zM463 406l-5-41 8 49zM455 443l3-78 5 41zM455 443l-5-54 8-24zM447 474l3-85 5 54zM447 474l-5 18 8-103zM439 496l8-22-5 18zM439 496l-4-70 7 66zM431 504l4-78 4 70zM431 504l-4-56 8-22zM424 489l3-41 4 56zM424 489l-5 16 8-57zM416 514l8-25-5 16zM416 514l-5-68 8 59zM408 478l3-32 5 68zM408 478l-5-9 8-23zM400 542l3-73 5 9zM400 542l-5-76 8 3zM392 526l3-60 5 76zM392 526l-5-85 8 25zM384 551l3-110 5 85zM384 551l-5-2 8-108z"/>
<path fill="url(#a29)" d="M753 317l3-66 5-4zM753 317l-5-42 8-24zM745 289l3-14 5 42zM745 289l-5 23 8-37zM737 293l8-4-5 23zM737 293l3 19-8-17zM729 302l3-7 5-2zM729 302l-5 3 8-10zM721 317l3-12 5-3zM721 317l-4-7 7-5zM713 347l4-37 4 7zM713 347l-4-2 8-35zM706 349l3-4 4 2zM706 349l-5-72 8 68zM698 357l3-80 5 72zM698 357l-5-65 8-15zM690 350l3-58 5 65zM690 350l-5-79 8 21zM682 346l3-75 5 79zM682 346l-5-51 8-24zM674 321l3-26 5 51zM674 321l-5-29 8 3zM666 331l3-39 5 29zM666 331l-5-24 8-15zM658 348l3-41 5 24zM658 348l-5 10 8-51zM650 401l3-43 5-10zM650 401l-5-40 8-3zM642 359l3 2 5 40zM642 359l3 2-8 42zM634 302l8 57-5 44zM634 302l3 101-8-76zM626 358l3-31 5-25zM626 358l3-31-7 73zM618 412l8-54-4 42zM618 412l-4 8 8-20zM611 395l7 17-4 8zM611 395l3 25-8-40zM603 370l8 25-5-15zM603 370l3 10-8 41zM595 422l8-52-5 51zM595 422l3-1-8 29zM587 466l8-44-5 28zM587 466l-5-48 8 32zM579 446l3-28 5 48zM579 446l-5-40 8 12zM571 388l3 18 5 40zM571 388l3 18-8 3zM563 384l8 4-5 21zM563 384l3 25-8 3zM555 417l8-33-5 28zM555 417l-5-18 8 13zM547 432l3-33 5 18zM547 432l-5-18 8-15zM539 365l8 67-5-18zM539 365l3 49-8-53zM531 391l3-30 5 4zM531 391l-5 26 8-56zM523 452l3-35 5-26zM523 452l-4-51 7 16zM515 381l4 20 4 51zM515 381l4 20-8-25zM508 456l3-80 4 5zM508 456l-5-43 8-37zM500 392l3 21 5 43zM500 392l-5-52 8 73zM492 377l3-37 5 52zM492 377l-5-30 8-7zM484 470l3-123 5 30zM484 470l-5-43 8-80zM476 468l3-41 5 43zM476 468l-5-34 8-7zM468 408l8 60-5-34zM468 408l3 26-8-28zM460 433l3-27 5 2zM460 433l-5 10 8-37zM452 488l3-45 5-10zM452 488l-5-14 8-31zM444 447l8 41-5-14zM444 447l3 27-8 22zM436 482l8-35-5 49zM436 482l3 14-8 8zM428 481l8 1-5 22zM428 481l3 23-7-15zM420 465l8 16-4 8zM420 465l4 24-8 25zM413 452l7 13-4 49zM413 452l3 62-8-36zM405 551l3-73 5-26zM405 551l-5-9 8-64zM397 475l8 76-5-9zM397 475l3 67-8-16zM389 575l3-49 5-51zM389 575l-5-24 8-25z"/>
<path fill="url(#a28)" d="M758 343l3-96 5 18zM758 343l-5-26 8-70zM750 339l3-22 5 26zM750 339l-5-50 8 28zM742 319l3-30 5 50zM742 319l-5-26 8-4zM734 357l3-64 5 26zM734 357l-5-55 8-9zM726 442l3-140 5 55zM726 442l-5-125 8-15zM718 437l3-120 5 125zM718 437l-5-90 8-30zM710 430l3-83 5 90zM710 430l-4-81 7-2zM702 404l4-55 4 81zM702 404l-4-47 8-8zM695 322l3 35 4 47zM695 322l3 35-8-7zM687 307l8 15-5 28zM687 307l3 43-8-4zM679 350l8-43-5 39zM679 350l-5-29 8 25zM671 379l3-58 5 29zM671 379l-5-48 8-10zM663 339l3-8 5 48zM663 339l-5 9 8-17zM655 404l3-56 5-9zM655 404l-5-3 8-53zM647 344l8 60-5-3zM647 344l3 57-8-42zM639 365l8-21-5 15zM639 365l-5-63 8 57zM631 329l3-27 5 63zM631 329l-5 29 8-56zM623 367l8-38-5 29zM623 367l3-9-8 54zM615 354l8 13-5 45zM615 354l3 58-7-17zM607 359l8-5-4 41zM607 359l4 36-8-25zM600 382l3-12 4-11zM600 382l3-12-8 52zM592 419l8-37-5 40zM592 419l3 3-8 44zM584 475l8-56-5 47zM584 475l-5-29 8 20zM576 425l8 50-5-29zM576 425l-5-37 8 58zM568 365l8 60-5-37zM568 365l3 23-8-4zM560 354l8 11-5 19zM560 354l3 30-8 33zM552 409l8-55-5 63zM552 409l3 8-8 15zM544 315l8 94-5 23zM544 315l3 117-8-67zM536 404l3-39 5-50zM536 404l-5-13 8-26zM528 457l3-66 5 13zM528 457l-5-5 8-61zM520 459l3-7 5 5zM520 459l-5-78 8 71zM512 388l3-7 5 78zM512 388l3-7-7 75zM505 402l7-14-4 68zM505 402l3 54-8-64zM497 377l8 25-5-10zM497 377l3 15-8-15zM489 475l3-98 5 0zM489 475l-5-5 8-93zM481 463l8 12-5-5zM481 463l3 7-8-2zM473 412l8 51-5 5zM473 412l3 56-8-60zM465 434l3-26 5 4zM465 434l-5-1 8-25zM457 470l3-37 5 1zM457 470l-5 18 8-55zM449 494l8-24-5 18zM449 494l-5-47 8 41zM441 477l3-30 5 47zM441 477l-5 5 8-35zM433 493l3-11 5-5zM433 493l-5-12 8 1zM425 456l8 37-5-12zM425 456l3 25-8-16zM417 418l8 38-5 9zM417 418l3 47-7-13zM409 466l8-48-4 34zM409 466l4-14-8 99zM402 504l7-38-4 85zM402 504l3 47-8-76zM394 564l3-89 5 29zM394 564l-5 11 8-100z"/>
<path fill="url(#a27)" d="M763 304l3-39 5 14zM763 304l-5 39 8-78zM755 277l8 27-5 39zM755 277l3 66-8-4zM747 276l8 1-5 62zM747 276l3 63-8-20zM739 353l3-34 5-43zM739 353l-5 4 8-38zM731 385l3-28 5-4zM731 385l3-28-8 85zM723 420l8-35-5 57zM723 420l3 22-8-5zM715 395l8 25-5 17zM715 395l3 42-8-7zM707 321l8 74-5 35zM707 321l3 109-8-26zM699 290l8 31-5 83zM699 290l3 114-7-82zM691 343l8-53-4 32zM691 343l-4-36 8 15zM684 376l3-69 4 36zM684 376l-5-26 8-43zM676 422l3-72 5 26zM676 422l-5-43 8-29zM668 417l3-38 5 43zM668 417l-5-78 8 40zM660 374l3-35 5 78zM660 374l-5 30 8-65zM652 336l8 38-5 30zM652 336l3 68-8-60zM644 369l3-25 5-8zM644 369l-5-4 8-21zM636 410l3-45 5 4zM636 410l-5-81 8 36zM628 398l3-69 5 81zM628 398l-5-31 8-38zM620 359l3 8 5 31zM620 359l3 8-8-13zM612 408l3-54 5 5zM612 408l-5-49 8-5zM604 339l3 20 5 49zM604 339l3 20-7 23zM596 420l8-81-4 43zM596 420l-4-1 8-37zM589 442l3-23 4 1zM589 442l-5 33 8-56zM581 402l8 40-5 33zM581 402l3 73-8-50zM573 408l8-6-5 23zM573 408l-5-43 8 60zM565 402l3-37 5 43zM565 402l-5-48 8 11zM557 422l3-68 5 48zM557 422l-5-13 8-55zM549 370l8 52-5-13zM549 370l3 39-8-94zM541 342l3-27 5 55zM541 342l3-27-8 89zM533 464l3-60 5-62zM533 464l-5-7 8-53zM525 463l3-6 5 7zM525 463l-5-4 8-2zM517 486l3-27 5 4zM517 486l-5-98 8 71zM509 452l3-64 5 98zM509 452l-4-50 7-14zM501 446l4-44 4 50zM501 446l-4-69 8 25zM494 483l3-106 4 69zM494 483l-5-8 8-98zM486 501l3-26 5 8zM486 501l-5-38 8 12zM478 427l8 74-5-38zM478 427l3 36-8-51zM470 474l3-62 5 15zM470 474l-5-40 8-22zM462 474l3-40 5 40zM462 474l-5-4 8-36zM454 472l3-2 5 4zM454 472l3-2-8 24zM446 448l8 24-5 22zM446 448l3 46-8-17zM438 458l8-10-5 29zM438 458l3 19-8 16zM430 389l8 69-5 35zM430 389l3 104-8-37zM422 442l8-53-5 67zM422 442l-5-24 8 38zM414 447l3-29 5 24zM414 447l-5 19 8-48zM406 485l3-19 5-19zM406 485l-4 19 7-38zM399 550l3-46 4-19zM399 550l-5 14 8-60z"/>
<path fill="url(#a26)" d="M768 317l3-38 4 8zM768 317l-5-13 8-25zM760 300l3 4 5 13zM760 300l-5-23 8 27zM752 279l3-2 5 23zM752 279l-5-3 8 1zM744 314l3-38 5 3zM744 314l-5 39 8-77zM736 327l8-13-5 39zM736 327l3 26-8 32zM728 343l8-16-5 58zM728 343l3 42-8 35zM720 328l8 15-5 77zM720 328l3 92-8-25zM712 322l8 6-5 67zM712 322l3 73-8-74zM704 364l3-43 5 1zM704 364l-5-74 8 31zM696 380l3-90 5 74zM696 380l-5-37 8-53zM688 370l3-27 5 37zM688 370l-4 6 7-33zM680 378l8-8-4 6zM680 378l4-2-8 46zM673 413l7-35-4 44zM673 413l3 9-8-5zM665 384l8 29-5 4zM665 384l3 33-8-43zM657 330l8 54-5-10zM657 330l3 44-8-38zM649 388l3-52 5-6zM649 388l-5-19 8-33zM641 415l3-46 5 19zM641 415l-5-5 8-41zM633 350l8 65-5-5zM633 350l3 60-8-12zM625 338l8 12-5 48zM625 338l3 60-8-39zM617 344l8-6-5 21zM617 344l3 15-8 49zM609 345l8-1-5 64zM609 345l3 63-8-69zM601 428l3-89 5 6zM601 428l-5-8 8-81zM593 400l8 28-5-8zM593 400l3 20-7 22zM585 410l8-10-4 42zM585 410l4 32-8-40zM578 398l3 4 4 8zM578 398l3 4-8 6zM570 428l3-20 5-10zM570 428l-5-26 8 6zM562 392l3 10 5 26zM562 392l3 10-8 20zM554 412l8-20-5 30zM554 412l-5-42 8 52zM546 433l3-63 5 42zM546 433l-5-91 8 28zM538 471l3-129 5 91zM538 471l-5-7 8-122zM530 450l8 21-5-7zM530 450l3 14-8-1zM522 480l3-17 5-13zM522 480l-5 6 8-23zM514 457l8 23-5 6zM514 457l3 29-8-34zM506 497l3-45 5 5zM506 497l-5-51 8 6zM498 482l3-36 5 51zM498 482l-4 1 7-37zM490 459l8 23-4 1zM490 459l4 24-8 18zM483 473l7-14-4 42zM483 473l3 28-8-74zM475 507l3-80 5 46zM475 507l-5-33 8-47zM467 512l3-38 5 33zM467 512l-5-38 8 0zM459 547l3-73 5 38zM459 547l-5-75 8 2zM451 504l3-32 5 75zM451 504l-5-56 8 24zM443 486l3-38 5 56zM443 486l-5-28 8-10zM435 390l8 96-5-28zM435 390l3 68-8-69zM427 476l3-87 5 1zM427 476l-5-34 8-53zM419 500l3-58 5 34zM419 500l-5-53 8-5zM411 434l3 13 5 53zM411 434l3 13-8 38zM403 551l3-66 5-51zM403 551l-4-1 7-65z"/>
<path fill="url(#a25)" d="M772 364l3-77 5-1zM772 364l-4-47 7-30zM765 321l3-4 4 47zM765 321l-5-21 8 17zM757 310l3-10 5 21zM757 310l-5-31 8 21zM749 290l3-11 5 31zM749 290l3-11-8 35zM741 325l8-35-5 24zM741 325l-5 2 8-13zM733 329l3-2 5-2zM733 329l3-2-8 16zM725 301l8 28-5 14zM725 301l3 42-8-15zM717 303l8-2-5 27zM717 303l3 25-8-6zM709 343l3-21 5-19zM709 343l-5 21 8-42zM701 391l3-27 5-21zM701 391l-5-11 8-16zM693 287l8 104-5-11zM693 287l3 93-8-10zM685 374l8-87-5 83zM685 374l-5 4 8-8zM677 397l3-19 5-4zM677 397l-4 16 7-35zM669 432l4-19 4-16zM669 432l-4-48 8 29zM662 369l3 15 4 48zM662 369l-5-39 8 54zM654 345l3-15 5 39zM654 345l3-15-8 58zM646 388l8-43-5 43zM646 388l3 0-8 27zM638 379l8 9-5 27zM638 379l3 36-8-65zM630 416l3-66 5 29zM630 416l-5-78 8 12zM622 380l3-42 5 78zM622 380l-5-36 8-6zM614 355l3-11 5 36zM614 355l-5-10 8-1zM606 391l3-46 5 10zM606 391l-5 37 8-83zM598 393l8-2-5 37zM598 393l3 35-8-28zM590 394l8-1-5 7zM590 394l3 6-8 10zM582 372l8 22-5 16zM582 372l3 38-7-12zM574 415l8-43-4 26zM574 415l-4 13 8-30zM567 424l7-9-4 13zM567 424l-5-32 8 36zM559 417l3-25 5 32zM559 417l-5-5 8-20zM551 493l3-81 5 5zM551 493l-5-60 8-21zM543 484l3-51 5 60zM543 484l-5-13 8-38zM535 489l3-18 5 13zM535 489l-5-39 8 21zM527 432l3 18 5 39zM527 432l3 18-8 30zM519 464l8-32-5 48zM519 464l3 16-8-23zM511 430l8 34-5-7zM511 430l3 27-8 40zM503 425l8 5-5 67zM503 425l3 72-8-15zM495 473l8-48-5 57zM495 473l3 9-8-23zM487 461l3-2 5 14zM487 461l3-2-7 14zM479 439l8 22-4 12zM479 439l4 34-8 34zM472 447l7-8-4 68zM472 447l3 60-8 5zM464 469l8-22-5 65zM464 469l3 43-8 35zM456 481l8-12-5 78zM456 481l3 66-8-43zM448 513l8-32-5 23zM448 513l-5-27 8 18zM440 457l8 56-5-27zM440 457l-5-67 8 96zM432 466l3-76 5 67zM432 466l-5 10 8-86zM424 526l3-50 5-10zM424 526l-5-26 8-24zM416 456l8 70-5-26zM416 456l3 44-8-66zM408 553l3-119 5 22zM408 553l-5-2 8-117z"/>
<path fill="url(#a24)" d="M777 321l3-35 5-5zM777 321l-5 43 8-78zM769 357l8-36-5 43zM769 357l-4-36 7 43zM761 336l4-15 4 36zM761 336l-4-26 8 11zM754 276l7 60-4-26zM754 276l3 34-8-20zM746 298l8-22-5 14zM746 298l3-8-8 35zM738 327l8-29-5 27zM738 327l-5 2 8-4zM730 355l3-26 5-2zM730 355l-5-54 8 28zM722 363l3-62 5 54zM722 363l-5-60 8-2zM714 344l3-41 5 60zM714 344l-5-1 8-40zM706 380l3-37 5 1zM706 380l-5 11 8-48zM698 414l3-23 5-11zM698 414l-5-127 8 104zM690 368l3-81 5 127zM690 368l-5 6 8-87zM682 385l3-11 5-6zM682 385l-5 12 8-23zM674 388l8-3-5 12zM674 388l3 9-8 35zM666 360l8 28-5 44zM666 360l3 72-7-63zM658 360l8 0-4 9zM658 360l-4-15 8 24zM651 423l3-78 4 15zM651 423l-5-35 8-43zM643 448l3-60 5 35zM643 448l-5-69 8 9zM635 414l3-35 5 69zM635 414l-5 2 8-37zM627 350l8 64-5 2zM627 350l3 66-8-36zM619 367l8-17-5 30zM619 367l3 13-8-25zM611 439l3-84 5 12zM611 439l-5-48 8-36zM603 434l3-43 5 48zM603 434l-5-41 8-2zM595 390l3 3 5 41zM595 390l3 3-8 1zM587 372l8 18-5 4zM587 372l3 22-8-22zM579 440l3-68 5 0zM579 440l-5-25 8-43zM571 478l3-63 5 25zM571 478l-4-54 7-9zM563 464l4-40 4 54zM563 464l-4-47 8 7zM556 397l3 20 4 47zM556 397l3 20-8 76zM548 452l8-55-5 96zM548 452l3 41-8-9zM540 469l8-17-5 32zM540 469l3 15-8 5zM532 469l8 0-5 20zM532 469l-5-37 8 57zM524 406l8 63-5-37zM524 406l3 26-8 32zM516 394l8 12-5 58zM516 394l3 70-8-34zM508 370l8 24-5 36zM508 370l3 60-8-5zM500 480l3-55 5-55zM500 480l-5-7 8-48zM492 511l3-38 5 7zM492 511l-5-50 8 12zM484 485l3-24 5 50zM484 485l-5-46 8 22zM476 464l3-25 5 46zM476 464l-4-17 7-8zM468 463l4-16 4 17zM468 463l-4 6 8-22zM461 446l7 17-4 6zM461 446l3 23-8 12zM453 500l8-54-5 35zM453 500l-5 13 8-32zM445 491l8 9-5 13zM445 491l3 22-8-56zM437 467l3-10 5 34zM437 467l-5-1 8-9zM429 418l8 49-5-1zM429 418l3 48-8 60zM421 449l8-31-5 108zM421 449l3 77-8-70zM413 553l3-97 5-7zM413 553l-5 0 8-97z"/>
<path fill="url(#a23)" d="M782 339l3-58 5 17zM782 339l-5-18 8-40zM774 352l3-31 5 18zM774 352l-5 5 8-36zM766 322l8 30-5 5zM766 322l3 35-8-21zM758 290l8 32-5 14zM758 290l3 46-7-60zM750 284l4-8 4 14zM750 284l4-8-8 22zM743 289l7-5-4 14zM743 289l3 9-8 29zM735 304l8-15-5 38zM735 304l3 23-8 28zM727 403l3-48 5-51zM727 403l-5-40 8-8zM719 449l3-86 5 40zM719 449l-5-105 8 19zM711 390l3-46 5 105zM711 390l-5-10 8-36zM703 414l3-34 5 10zM703 414l-5 0 8-34zM695 390l8 24-5 0zM695 390l3 24-8-46zM687 386l3-18 5 22zM687 386l-5-1 8-17zM679 368l8 18-5-1zM679 368l3 17-8 3zM671 403l3-15 5-20zM671 403l-5-43 8 28zM663 384l3-24 5 43zM663 384l-5-24 8 0zM655 438l3-78 5 24zM655 438l-4-15 7-63zM648 394l7 44-4-15zM648 394l3 29-8 25zM640 362l8 32-5 54zM640 362l3 86-8-34zM632 322l8 40-5 52zM632 322l3 92-8-64zM624 410l3-60 5-28zM624 410l-5-43 8-17zM616 404l3-37 5 43zM616 404l-5 35 8-72zM608 439l8-35-5 35zM608 439l-5-5 8 5zM600 445l3-11 5 5zM600 445l-5-55 8 44zM592 385l3 5 5 55zM592 385l-5-13 8 18zM584 435l3-63 5 13zM584 435l-5 5 8-68zM576 468l3-28 5-5zM576 468l-5 10 8-38zM568 424l8 44-5 10zM568 424l3 54-8-14zM560 385l8 39-5 40zM560 385l3 79-7-67zM552 443l4-46 4-12zM552 443l-4 9 8-55zM545 471l3-19 4-9zM545 471l-5-2 8-17zM537 482l3-13 5 2zM537 482l-5-13 8 0zM529 481l3-12 5 13zM529 481l-5-75 8 63zM521 434l3-28 5 75zM521 434l-5-40 8 12zM513 457l3-63 5 40zM513 457l-5-87 8 24zM505 489l3-119 5 87zM505 489l-5-9 8-110zM497 435l8 54-5-9zM497 435l3 45-8 31zM489 455l8-20-5 76zM489 455l3 56-8-26zM481 454l8 1-5 30zM481 454l3 31-8-21zM473 446l8 8-5 10zM473 446l3 18-8-1zM465 405l8 41-5 17zM465 405l3 58-7-17zM457 521l4-75 4-41zM457 521l-4-21 8-54zM450 528l3-28 4 21zM450 528l-5-37 8 9zM442 541l3-50 5 37zM442 541l-5-74 8 24zM434 559l3-92 5 74zM434 559l-5-141 8 49zM426 480l3-62 5 141zM426 480l-5-31 8-31zM418 546l3-97 5 31zM418 546l-5 7 8-104z"/>
<path fill="url(#a22)" d="M787 327l3-29 5 2zM787 327l-5 12 8-41zM779 319l8 8-5 12zM779 319l3 20-8 13zM771 343l8-24-5 33zM771 343l-5-21 8 30zM763 389l3-67 5 21zM763 389l-5-99 8 32zM755 344l3-54 5 99zM755 344l-5-60 8 6zM747 263l3 21 5 60zM747 263l3 21-7 5zM739 300l8-37-4 26zM739 300l-4 4 8-15zM732 356l3-52 4-4zM732 356l-5 47 8-99zM724 337l8 19-5 47zM724 337l3 66-8 46zM716 380l8-43-5 112zM716 380l3 69-8-59zM708 383l8-3-5 10zM708 383l3 7-8 24zM700 376l8 7-5 31zM700 376l3 38-8-24zM692 397l8-21-5 14zM692 397l-5-11 8 4zM684 351l8 46-5-11zM684 351l3 35-8-18zM676 389l3-21 5-17zM676 389l-5 14 8-35zM668 404l8-15-5 14zM668 404l-5-20 8 19zM660 380l3 4 5 20zM660 380l3 4-8 54zM652 406l8-26-5 58zM652 406l3 32-7-44zM644 385l4 9 4 12zM644 385l-4-23 8 32zM637 408l3-46 4 23zM637 408l-5-86 8 40zM629 412l3-90 5 86zM629 412l-5-2 8-88zM621 442l3-32 5 2zM621 442l-5-38 8 6zM613 516l3-112 5 38zM613 516l-5-77 8-35zM605 438l3 1 5 77zM605 438l3 1-8 6zM597 440l8-2-5 7zM597 440l-5-55 8 60zM589 421l3-36 5 55zM589 421l-5 14 8-50zM581 475l3-40 5-14zM581 475l-5-7 8-33zM573 438l8 37-5-7zM573 438l3 30-8-44zM565 478l3-54 5 14zM565 478l-5-93 8 39zM557 422l3-37 5 93zM557 422l-5 21 8-58zM549 448l8-26-5 21zM549 448l3-5-7 28zM541 472l8-24-4 23zM541 472l4-1-8 11zM534 452l7 20-4 10zM534 452l3 30-8-1zM526 388l8 64-5 29zM526 388l3 93-8-47zM518 413l8-25-5 46zM518 413l3 21-8 23zM510 495l3-38 5-44zM510 495l-5-6 8-32zM502 457l8 38-5-6zM502 457l3 32-8-54zM494 463l3-28 5 22zM494 463l-5-8 8-20zM486 444l8 19-5-8zM486 444l3 11-8-1zM478 481l3-27 5-10zM478 481l-5-35 8 8zM470 475l3-29 5 35zM470 475l-5-70 8 41zM462 493l3-88 5 70zM462 493l-5 28 8-116zM454 520l8-27-5 28zM454 520l3 1-7 7zM446 551l4-23 4-8zM446 551l-4-10 8-13zM439 555l3-14 4 10zM439 555l-5 4 8-18zM431 525l8 30-5 4zM431 525l3 34-8-79zM423 564l3-84 5 45zM423 564l-5-18 8-66z"/>
<path fill="url(#a21)" d="M792 359l3-59 5-15zM792 359l-5-32 8-27zM784 320l3 7 5 32zM784 320l3 7-8-8zM776 354l3-35 5 1zM776 354l-5-11 8-24zM768 365l3-22 5 11zM768 365l-5 24 8-46zM760 379l8-14-5 24zM760 379l-5-35 8 45zM752 293l8 86-5-35zM752 293l3 51-8-81zM744 369l3-106 5 30zM744 369l-5-69 8-37zM736 350l3-50 5 69zM736 350l-4 6 7-56zM728 368l4-12 4-6zM728 368l-4-31 8 19zM721 302l7 66-4-31zM721 302l3 35-8 43zM713 352l8-50-5 78zM713 352l3 28-8 3zM705 377l8-25-5 31zM705 377l3 6-8-7zM697 326l8 51-5-1zM697 326l3 50-8 21zM689 344l8-18-5 71zM689 344l3 53-8-46zM681 326l8 18-5 7zM681 326l3 25-8 38zM673 392l8-66-5 63zM673 392l3-3-8 15zM665 354l8 38-5 12zM665 354l3 50-8-24zM657 412l3-32 5-26zM657 412l-5-6 8-26zM649 382l8 30-5-6zM649 382l3 24-8-21zM641 384l8-2-5 3zM641 384l3 1-7 23zM633 432l-4-20 8-4zM626 505l3-93 4 20zM626 505l-5-63 8-30zM618 440l3 2 5 63zM618 440l3 2-8 74zM610 394l8 46-5 76zM610 394l3 122-8-78zM602 396l8-2-5 44zM602 396l3 42-8 2zM594 375l8 21-5 44zM594 375l3 65-8-19zM586 478l3-57 5-46zM586 478l-5-3 8-54zM578 469l8 9-5-3zM578 469l-5-31 8 37zM570 499l3-61 5 31zM570 499l-5-21 8-40zM562 432l8 67-5-21zM562 432l3 46-8-56zM554 461l3-39 5 10zM554 461l-5-13 8-26zM546 507l3-59 5 13zM546 507l-5-35 8-24zM538 457l3 15 5 35zM538 457l3 15-7-20zM531 500l3-48 4 5zM531 500l-5-112 8 64zM523 499l3-111 5 112zM523 499l-5-86 8-25zM515 512l3-99 5 86zM515 512l-5-17 8-82zM507 492l3 3 5 17zM507 492l-5-35 8 38zM499 465l3-8 5 35zM499 465l-5-2 8-6zM491 473l3-10 5 2zM491 473l-5-29 8 19zM483 540l3-96 5 29zM483 540l-5-59 8-37zM475 554l3-73 5 59zM475 554l-5-79 8 6zM467 522l3-47 5 79zM467 522l-5-29 8-18zM459 517l3-24 5 29zM459 517l-5 3 8-27zM451 490l8 27-5 3zM451 490l3 30-8 31zM443 545l8-55-5 61zM443 545l3 6-7 4zM435 498l8 47-4 10zM435 498l4 57-8-30zM428 590l3-65 4-27zM428 590l-5-26 8-39z"/>
<path fill="url(#a20)" d="M797 319l3-34 5-14zM797 319l-5 40 8-74zM789 314l8 5-5 40zM789 314l3 45-8-39zM781 347l3-27 5-6zM781 347l-5 7 8-34zM773 334l8 13-5 7zM773 334l3 20-8 11zM765 318l8 16-5 31zM765 318l3 47-8 14zM757 297l8 21-5 61zM757 297l3 82-8-86zM749 301l3-8 5 4zM749 301l3-8-8 76zM741 361l8-60-5 68zM741 361l3 8-8-19zM733 358l3-8 5 11zM733 358l-5 10 8-18zM725 353l8 5-5 10zM725 353l-4-51 7 66zM717 393l4-91 4 51zM717 393l-4-41 8-50zM710 420l3-68 4 41zM710 420l-5-43 8-25zM702 342l8 78-5-43zM702 342l3 35-8-51zM694 382l3-56 5 16zM694 382l-5-38 8-18zM686 424l3-80 5 38zM686 424l-5-98 8 18zM678 459l3-133 5 98zM678 459l-5-67 8-66zM670 390l3 2 5 67zM670 390l-5-36 8 38zM662 381l3-27 5 36zM662 381l-5 31 8-58zM654 411l8-30-5 31zM654 411l-5-29 8 30zM646 388l3-6 5 29zM646 388l-5-4 8-2zM638 424l3-40 5 4zM638 424l-5 8 8-48zM630 448l3-16 5-8zM630 448l3-16-7 73zM622 388l8 60-4 57zM622 388l4 117-8-65zM615 371l7 17-4 52zM615 371l3 69-8-46zM607 357l8 14-5 23zM607 357l3 37-8 2zM599 367l8-10-5 39zM599 367l3 29-8-21zM591 445l3-70 5-8zM591 445l-5 33 8-103zM583 430l8 15-5 33zM583 430l3 48-8-9zM575 391l8 39-5 39zM575 391l3 78-8 30zM567 440l8-49-5 108zM567 440l3 59-8-67zM559 425l8 15-5-8zM559 425l3 7-8 29zM551 474l8-49-5 36zM551 474l3-13-8 46zM543 480l8-6-5 33zM543 480l3 27-8-50zM535 482l3-25 5 23zM535 482l-4 18 7-43zM527 530l4-30 4-18zM527 530l-4-31 8 1zM520 538l3-39 4 31zM520 538l-5-26 8-13zM512 471l8 67-5-26zM512 471l3 41-8-20zM504 462l8 9-5 21zM504 462l3 30-8-27zM496 463l8-1-5 3zM496 463l3 2-8 8zM488 533l3-60 5-10zM488 533l-5 7 8-67zM480 527l8 6-5 7zM480 527l3 13-8 14zM472 563l8-36-5 27zM472 563l-5-41 8 32zM464 525l3-3 5 41zM464 525l-5-8 8 5zM456 503l8 22-5-8zM456 503l3 14-8-27zM448 539l3-49 5 13zM448 539l-5 6 8-55zM440 480l8 59-5 6zM440 480l3 65-8-47zM432 574l3-76 5-18zM432 574l-4 16 7-92z"/>
<path fill="url(#a19)" d="M801 300l4-29 4 21zM801 300l-4 19 8-48zM794 312l7-12-4 19zM794 312l3 7-8-5zM786 337l3-23 5-2zM786 337l-5 10 8-33zM778 380l3-33 5-10zM778 380l-5-46 8 13zM770 356l3-22 5 46zM770 356l-5-38 8 16zM762 342l3-24 5 38zM762 342l-5-45 8 21zM754 351l3-54 5 45zM754 351l-5-50 8-4zM746 425l3-124 5 50zM746 425l-5-64 8-60zM738 385l3-24 5 64zM738 385l-5-27 8 3zM730 356l3 2 5 27zM730 356l3 2-8-5zM722 403l3-50 5 3zM722 403l-5-10 8-40zM714 387l3 6-7 27zM706 380l8 7-4 33zM706 380l4 40-8-78zM699 415l3-73 4 38zM699 415l-5-33 8-40zM691 426l3-44 5 33zM691 426l-5-2 8-42zM683 454l3-30 5 2zM683 454l-5 5 8-35zM675 376l8 78-5 5zM675 376l3 83-8-69zM667 355l8 21-5 14zM667 355l3 35-8-9zM659 393l8-38-5 26zM659 393l-5 18 8-30zM651 414l8-21-5 18zM651 414l-5-26 8 23zM643 425l3-37 5 26zM643 425l-5-1 8-36zM635 428l3-4 5 1zM635 428l3-4-8 24zM627 389l8 39-5 20zM627 389l3 59-8-60zM619 406l3-18 5 1zM619 406l-4-35 7 17zM611 408l4-37 4 35zM611 408l-4-51 8 14zM604 474l3-117 4 51zM604 474l-5-107 8-10zM596 469l3-102 5 107zM596 469l-5-24 8-78zM588 414l8 55-5-24zM588 414l3 31-8-15zM580 364l8 50-5 16zM580 364l3 66-8-39zM572 346l8 18-5 27zM572 346l3 45-8 49zM564 417l8-71-5 94zM564 417l3 23-8-15zM556 475l3-50 5-8zM556 475l-5-1 8-49zM548 437l8 38-5-1zM548 437l3 37-8 6zM540 425l8 12-5 43zM540 425l3 55-8 2zM532 501l8-76-5 57zM532 501l-5 29 8-48zM524 490l8 11-5 29zM524 490l3 40-7 8zM516 531l8-41-4 48zM516 531l-4-60 8 67zM509 488l3-17 4 60zM509 488l-5-26 8 9zM501 450l3 12 5 26zM501 450l3 12-8 1zM493 449l8 1-5 13zM493 449l3 14-8 70zM485 501l8-52-5 84zM485 501l3 32-8-6zM477 521l8-20-5 26zM477 521l3 6-8 36zM469 501l8 20-5 42zM469 501l3 62-8-38zM461 523l8-22-5 24zM461 523l-5-20 8 22zM453 499l3 4 5 20zM453 499l3 4-8 36zM445 478l8 21-5 40zM445 478l3 61-8-59zM437 560l3-80 5-2zM437 560l-5 14 8-94z"/>
<path fill="url(#a18)" d="M806 330l3-38 5 22zM806 330l-5-30 8-8zM798 316l3-16 5 30zM798 316l-4-4 7-12zM790 322l4-10 4 4zM790 322l4-10-8 25zM783 327l7-5-4 15zM783 327l3 10-8 43zM775 388l8-61-5 53zM775 388l-5-32 8 24zM767 328l8 60-5-32zM767 328l3 28-8-14zM759 363l3-21 5-14zM759 363l-5-12 8-9zM751 433l3-82 5 12zM751 433l-5-8 8-74zM743 408l8 25-5-8zM743 408l3 17-8-40zM735 405l3-20 5 23zM735 405l-5-49 8 29zM727 404l3-48 5 49zM727 404l-5-1 8-47zM719 392l8 12-5-1zM719 392l3 11-8-16zM711 381l8 11-5-5zM711 381l3 6-8-7zM703 446l3-66 5 1zM703 446l-4-31 7-35zM695 403l4 12 4 31zM695 403l4 12-8 11zM688 454l3-28 4-23zM688 454l-5 0 8-28zM680 381l8 73-5 0zM680 381l3 73-8-78zM672 402l3-26 5 5zM672 402l-5-47 8 21zM664 459l3-104 5 47zM664 459l-5-66 8-38zM656 400l3-7 5 66zM656 400l3-7-8 21zM648 397l8 3-5 14zM648 397l3 17-8 11zM640 415l8-18-5 28zM640 415l3 10-8 3zM632 431l8-16-5 13zM632 431l-5-42 8 39zM624 428l3-39 5 42zM624 428l-5-22 8-17zM616 461l3-55 5 22zM616 461l-5-53 8-2zM608 506l3-98 5 53zM608 506l-4-32 7-66zM600 423l8 83-4-32zM600 423l4 51-8-5zM593 433l7-10-4 46zM593 433l3 36-8-55zM585 481l3-67 5 19zM585 481l-5-117 8 50zM577 432l3-68 5 117zM577 432l-5-86 8 18zM569 458l3-112 5 86zM569 458l-5-41 8-71zM561 453l3-36 5 41zM561 453l-5 22 8-58zM553 482l8-29-5 22zM553 482l-5-45 8 38zM545 439l3-2 5 45zM545 439l-5-14 8 12zM537 499l3-74 5 14zM537 499l-5 2 8-76zM529 524l3-23 5-2zM529 524l-5-34 8 11zM521 565l3-75 5 34zM521 565l-5-34 8-41zM513 487l8 78-5-34zM513 487l3 44-7-43zM505 466l8 21-4 1zM505 466l4 22-8-38zM498 462l3-12 4 16zM498 462l-5-13 8 1zM490 515l3-66 5 13zM490 515l-5-14 8-52zM482 538l3-37 5 14zM482 538l-5-17 8-20zM474 511l3 10 5 17zM474 511l3 10-8-20zM466 479l8 32-5-10zM466 479l3 22-8 22zM458 527l8-48-5 44zM458 527l-5-28 8 24zM450 493l3 6 5 28zM450 493l-5-15 8 21zM442 556l3-78 5 15zM442 556l-5 4 8-82z"/>
<path fill="url(#a17)" d="M811 328l3-14 5 21zM811 328l-5 2 8-16zM803 335l3-5 5-2zM803 335l-5-19 8 14zM795 341l3-25 5 19zM795 341l-5-19 8-6zM787 332l3-10 5 19zM787 332l-4-5 7-5zM780 355l3-28 4 5zM780 355l-5 33 8-61zM772 360l8-5-5 33zM772 360l3 28-8-60zM764 347l3-19 5 32zM764 347l-5 16 8-35zM756 365l8-18-5 16zM756 365l3-2-8 70zM748 453l8-88-5 68zM748 453l-5-45 8 25zM740 470l3-62 5 45zM740 470l-5-65 8 3zM732 394l3 11 5 65zM732 394l3 11-8-1zM724 399l8-5-5 10zM724 399l3 5-8-12zM716 391l3 1 5 7zM716 391l-5-10 8 11zM708 377l3 4 5 10zM708 377l3 4-8 65zM700 372l8 5-5 69zM700 372l3 74-8-43zM692 391l8-19-5 31zM692 391l3 12-7 51zM684 418l8-27-4 63zM684 418l-4-37 8 73zM677 462l3-81 4 37zM677 462l-5-60 8-21zM669 471l3-69 5 60zM669 471l-5-12 8-57zM661 474l3-15 5 12zM661 474l-5-74 8 59zM653 394l3 6 5 74zM653 394l3 6-8-3zM645 433l3-36 5-3zM645 433l-5-18 8-18zM637 437l3-22 5 18zM637 437l-5-6 8-16zM629 460l3-29 5 6zM629 460l-5-32 8 3zM621 481l3-53 5 32zM621 481l-5-20 8-33zM613 445l8 36-5-20zM613 445l3 16-8 45zM605 388l8 57-5 61zM605 388l3 118-8-83zM597 394l8-6-5 35zM597 394l3 29-7 10zM589 385l8 9-4 39zM589 385l4 48-8 48zM582 425l7-40-4 96zM582 425l3 56-8-49zM574 431l8-6-5 7zM574 431l3 1-8 26zM566 456l8-25-5 27zM566 456l3 2-8-5zM558 514l3-61 5 3zM558 514l-5-32 8-29zM550 525l3-43 5 32zM550 525l-5-86 8 43zM542 514l3-75 5 86zM542 514l-5-15 8-60zM534 438l8 76-5-15zM534 438l3 61-8 25zM526 495l8-57-5 86zM526 495l3 29-8 41zM518 510l8-15-5 70zM518 510l3 55-8-78zM510 530l3-43 5 23zM510 530l-5-64 8 21zM502 510l3-44 5 64zM502 510l-4-48 7 4zM494 462l4 0 4 48zM494 462l4 0-8 53zM487 465l7-3-4 53zM487 465l3 50-8 23zM479 488l8-23-5 73zM479 488l3 50-8-27zM471 454l8 34-5 23zM471 454l3 57-8-32zM463 495l3-16 5-25zM463 495l3-16-8 48zM455 457l8 38-5 32zM455 457l3 70-8-34zM447 572l3-79 5-36zM447 572l-5-16 8-63z"/>
<path fill="url(#a16)" d="M816 324l8 11-5 0zM816 324l3 11-8-7zM808 332l3-4 5-4zM808 332l-5 3 8-7zM800 333l8-1-5 3zM800 333l3 2-8 6zM792 315l8 18-5 8zM792 315l3 26-8-9zM784 359l3-27 5-17zM784 359l-4-4 7-23zM776 402l4-47 4 4zM776 402l-4-42 8-5zM769 404l3-44 4 42zM769 404l-5-57 8 13zM761 368l3-21 5 57zM761 368l-5-3 8-18zM753 399l3-34 5 3zM753 399l-5 54 8-88zM745 419l8-20-5 54zM745 419l3 34-8 17zM737 382l8 37-5 51zM737 382l3 88-8-76zM729 455l3-61 5-12zM729 455l-5-56 8-5zM721 411l3-12 5 56zM721 411l-5-20 8 8zM713 378l8 33-5-20zM713 378l3 13-8-14zM705 419l3-42 5 1zM705 419l-5-47 8 5zM697 489l3-117 5 47zM697 489l-5-98 8-19zM689 441l3-50 5 98zM689 441l-5-23 8-27zM681 398l8 43-5-23zM681 398l3 20-7 44zM673 438l8-40-4 64zM673 438l4 24-8 9zM666 492l7-54-4 33zM666 492l-5-18 8-3zM658 406l8 86-5-18zM658 406l3 68-8-80zM650 400l3-6 5 12zM650 400l3-6-8 39zM642 438l8-38-5 33zM642 438l-5-1 8-4zM634 456l3-19 5 1zM634 456l-5 4 8-23zM626 429l8 27-5 4zM626 429l3 31-8 21zM618 416l8 13-5 52zM618 416l3 65-8-36zM610 422l8-6-5 29zM610 422l3 23-8-57zM602 399l3-11 5 34zM602 399l-5-5 8-6zM594 441l3-47 5 5zM594 441l-5-56 8 9zM586 415l3-30 5 56zM586 415l-4 10 7-40zM578 414l8 1-4 10zM578 414l4 11-8 6zM571 412l7 2-4 17zM571 412l3 19-8 25zM563 448l8-36-5 44zM563 448l3 8-8 58zM555 511l8-63-5 66zM555 511l3 3-8 11zM547 527l8-16-5 14zM547 527l-5-13 8 11zM539 465l8 62-5-13zM539 465l3 49-8-76zM531 460l3-22 5 27zM531 460l-5 35 8-57zM523 452l8 8-5 35zM523 452l3 43-8 15zM515 525l8-73-5 58zM515 525l-5 5 8-20zM507 521l8 4-5 5zM507 521l3 9-8-20zM499 479l8 42-5-11zM499 479l3 31-8-48zM491 478l3-16 5 17zM491 478l-4-13 7-3zM483 500l4-35 4 13zM483 500l-4-12 8-23zM476 535l3-47 4 12zM476 535l-5-81 8 34zM468 523l3-69 5 81zM468 523l-5-28 8-41zM460 488l3 7 5 28zM460 488l-5-31 8 38zM452 583l3-126 5 31zM452 583l-5-11 8-115z"/>
<path fill="url(#a15)" d="M821 350l3-15 5-4zM821 350l-5-26 8 11zM813 329l3-5 5 26zM813 329l-5 3 8-8zM805 377l3-45 5-3zM805 377l-5-44 8-1zM797 363l3-30 5 44zM797 363l-5-48 8 18zM789 351l3-36 5 48zM789 351l-5 8 8-44zM781 399l3-40 5-8zM781 399l-5 3 8-43zM773 385l8 14-5 3zM773 385l3 17-7 2zM765 386l8-1-4 19zM758 381l3-13 4 18zM758 381l-5 18 8-31zM750 373l8 8-5 18zM750 373l3 26-8 20zM742 369l8 4-5 46zM742 369l3 50-8-37zM734 373l8-4-5 13zM734 373l3 9-8 73zM726 425l8-52-5 82zM726 425l3 30-8-44zM718 433l3-22 5 14zM718 433l-5-55 8 33zM710 451l3-73 5 55zM710 451l-5-32 8-41zM702 403l3 16 5 32zM702 403l3 16-8 70zM694 377l8 26-5 86zM694 377l3 112-8-48zM686 411l8-34-5 64zM686 411l3 30-8-43zM678 445l3-47 5 13zM678 445l-5-7 8-40zM670 449l3-11 5 7zM670 449l3-11-7 54zM663 448l7 1-4 43zM663 448l3 44-8-86zM655 431l3-25 5 42zM655 431l-5-31 8 6zM647 387l3 13 5 31zM647 387l3 13-8 38zM639 461l8-74-5 51zM639 461l-5-5 8-18zM631 445l8 16-5-5zM631 445l3 11-8-27zM623 422l3 7 5 16zM623 422l3 7-8-13zM615 465l3-49 5 6zM615 465l-5-43 8-6zM607 449l3-27 5 43zM607 449l-5-50 8 23zM599 462l3-63 5 50zM599 462l-5-21 8-42zM591 477l3-36 5 21zM591 477l-5-62 8 26zM583 415l3 0 5 62zM583 415l-5-1 8 1zM575 489l3-75 5 1zM575 489l-4-77 7 2zM567 442l4-30 4 77zM567 442l-4 6 8-36zM560 478l3-30 4-6zM560 478l-5 33 8-63zM552 429l8 49-5 33zM552 429l3 82-8 16zM544 479l8-50-5 98zM544 479l3 48-8-62zM536 449l8 30-5-14zM536 449l3 16-8-5zM528 432l8 17-5 11zM528 432l3 28-8-8zM520 459l8-27-5 20zM520 459l3-7-8 73zM512 455l8 4-5 66zM512 455l3 70-8-4zM504 435l8 20-5 66zM504 435l3 86-8-42zM496 465l8-30-5 44zM496 465l3 14-8-1zM488 534l3-56 5-13zM488 534l-5-34 8-22zM480 559l3-59 5 34zM480 559l-4-24 7-35zM472 547l4-12 4 24zM472 547l-4-24 8 12zM465 510l3 13 4 24zM465 510l-5-22 8 35zM457 571l3-83 5 22zM457 571l-5 12 8-95z"/>
<path fill="url(#a14)" d="M826 369l3-38 5 8zM826 369l-5-19 8-19zM818 394l3-44 5 19zM818 394l-5-65 8 21zM810 416l3-87 5 65zM810 416l-5-39 8-48zM802 397l3-20 5 39zM802 397l-5-34 8 14zM794 342l8 55-5-34zM794 342l3 21-8-12zM786 395l3-44 5-9zM786 395l-5 4 8-48zM778 420l3-21 5-4zM778 420l-5-35 8 14zM770 381l3 4 5 35zM770 381l3 4-8 1zM762 390l3-4 5-5zM762 390l-4-9 7 5zM754 425l4-44 4 9zM754 425l-4-52 8 8zM747 436l3-63 4 52zM747 436l-5-67 8 4zM739 412l3-43 5 67zM739 412l-5-39 8-4zM731 337l8 75-5-39zM731 337l3 36-8 52zM723 377l8-40-5 88zM723 377l3 48-8 8zM715 429l8-52-5 56zM715 429l3 4-8 18zM707 365l8 64-5 22zM707 365l3 86-8-48zM699 446l3-43 5-38zM699 446l-5-69 8 26zM691 444l3-67 5 69zM691 444l-5-33 8-34zM683 454l3-43 5 33zM683 454l-5-9 8-34zM675 446l3-1 5 9zM675 446l3-1-8 4zM667 387l8 59-5 3zM667 387l3 62-7-1zM659 420l8-33-4 61zM659 420l4 28-8-17zM652 407l7 13-4 11zM652 407l3 24-8-44zM644 456l3-69 5 20zM644 456l-5 5 8-74zM636 418l8 38-5 5zM636 418l3 43-8-16zM628 434l8-16-5 27zM628 434l3 11-8-23zM620 459l3-37 5 12zM620 459l-5 6 8-43zM612 439l8 20-5 6zM612 439l3 26-8-16zM604 457l3-8 5-10zM604 457l-5 5 8-13zM596 474l3-12 5-5zM596 474l-5 3 8-15zM588 447l8 27-5 3zM588 447l3 30-8-62zM580 454l3-39 5 32zM580 454l-5 35 8-74zM572 528l3-39 5-35zM572 528l-5-86 8 47zM564 459l3-17 5 86zM564 459l-4 19 7-36zM556 469l8-10-4 19zM556 469l-4-40 8 49zM549 465l3-36 4 40zM549 465l-5 14 8-50zM541 497l3-18 5-14zM541 497l-5-48 8 30zM533 444l3 5 5 48zM533 444l-5-12 8 17zM525 481l3-49 5 12zM525 481l-5-22 8-27zM517 505l3-46 5 22zM517 505l-5-50 8 4zM509 451l3 4 5 50zM509 451l-5-16 8 20zM501 508l3-73 5 16zM501 508l-5-43 8-30zM493 532l3-67 5 43zM493 532l-5 2 8-69zM485 581l3-47 5-2zM485 581l-5-22 8-25zM477 533l8 48-5-22zM477 533l3 26-8-12zM469 520l8 13-5 14zM469 520l3 27-7-37zM461 587l4-77 4 10zM461 587l-4-16 8-61z"/>
<path fill="url(#a13)" d="M831 368l3-29 4 5zM831 368l-5 1 8-30zM823 408l3-39 5-1zM823 408l-5-14 8-25zM815 377l8 31-5-14zM815 377l3 17-8 22zM807 351l8 26-5 39zM807 351l3 65-8-19zM799 342l8 9-5 46zM799 342l3 55-8-55zM791 371l3-29 5 0zM791 371l-5 24 8-53zM783 407l8-36-5 24zM783 407l-5 13 8-25zM775 373l8 34-5 13zM775 373l3 47-8-39zM767 405l3-24 5-8zM767 405l-5-15 8-9zM759 404l3-14 5 15zM759 404l-5 21 8-35zM751 396l8 8-5 21zM751 396l3 29-7 11zM743 354l8 42-4 40zM743 354l4 82-8-24zM736 382l7-28-4 58zM736 382l3 30-8-75zM728 400l3-63 5 45zM728 400l-5-23 8-40zM720 409l3-32 5 23zM720 409l-5 20 8-52zM712 369l8 40-5 20zM712 369l3 60-8-64zM704 407l3-42 5 4zM704 407l-5 39 8-81zM696 439l8-32-5 39zM696 439l3 7-8-2zM688 485l3-41 5-5zM688 485l-5-31 8-10zM680 496l3-42 5 31zM680 496l-5-50 8 8zM672 425l3 21 5 50zM672 425l-5-38 8 59zM664 443l3-56 5 38zM664 443l-5-23 8-33zM656 455l3-35 5 23zM656 455l-4-48 7 13zM648 456l4-49 4 48zM648 456l-4 0 8-49zM641 450l7 6-4 0zM641 450l-5-32 8 38zM633 419l3-1 5 32zM633 419l3-1-8 16zM625 412l8 7-5 15zM625 412l3 22-8 25zM617 435l8-23-5 47zM617 435l3 24-8-20zM609 450l3-11 5-4zM609 450l-5 7 8-18zM601 492l3-35 5-7zM601 492l-5-18 8-17zM593 440l8 52-5-18zM593 440l3 34-8-27zM585 471l3-24 5-7zM585 471l-5-17 8-7zM577 519l3-65 5 17zM577 519l-5 9 8-74zM569 497l8 22-5 9zM569 497l3 31-8-69zM561 472l3-13 5 38zM561 472l-5-3 8-10zM553 512l3-43 5 3zM553 512l-4-47 7 4zM546 530l3-65 4 47zM546 530l-5-33 8-32zM538 517l3-20 5 33zM538 517l-5-73 8 53zM530 554l3-110 5 73zM530 554l-5-73 8-37zM522 476l3 5 5 73zM522 476l3 5-8 24zM514 519l8-43-5 29zM514 519l-5-68 8 54zM506 562l3-111 5 68zM506 562l-5-54 8-57zM498 579l3-71 5 54zM498 579l-5-47 8-24zM490 524l3 8 5 47zM490 524l3 8-8 49zM482 556l8-32-5 57zM482 556l3 25-8-48zM474 527l3 6 5 23zM474 527l3 6-8-13zM466 609l3-89 5 7zM466 609l-5-22 8-67z"/>
<path fill="url(#a12)" d="M835 356l3-12 5-6zM835 356l-4 12 7-24zM827 342l8 14-4 12zM827 342l4 26-8 40zM820 383l7-41-4 66zM820 383l3 25-8-31zM812 389l3-12 5 6zM812 389l-5-38 8 26zM804 356l3-5 5 38zM804 356l-5-14 8 9zM796 363l3-21 5 14zM796 363l-5 8 8-29zM788 347l8 16-5 8zM788 347l3 24-8 36zM780 392l8-45-5 60zM780 392l3 15-8-34zM772 387l3-14 5 19zM772 387l-5 18 8-32zM764 408l8-21-5 18zM764 408l-5-4 8 1zM756 423l3-19 5 4zM756 423l-5-27 8 8zM748 421l3-25 5 27zM748 421l-5-67 8 42zM740 360l3-6 5 67zM740 360l3-6-7 28zM732 405l4-23 4-22zM732 405l-4-5 8-18zM725 401l3-1 4 5zM725 401l3-1-8 9zM717 386l8 15-5 8zM717 386l3 23-8-40zM709 414l3-45 5 17zM709 414l-5-7 8-38zM701 488l3-81 5 7zM701 488l-5-49 8-32zM693 445l3-6 5 49zM693 445l3-6-8 46zM685 486l8-41-5 40zM685 486l3-1-8 11zM677 438l8 48-5 10zM677 438l3 58-8-71zM669 462l3-37 5 13zM669 462l-5-19 8-18zM661 481l3-38 5 19zM661 481l-5-26 8-12zM653 413l8 68-5-26zM653 413l3 42-8 1zM645 425l8-12-5 43zM645 425l3 31-7-6zM637 474l8-49-4 25zM637 474l-4-55 8 31zM630 484l3-65 4 55zM630 484l-5-72 8 7zM622 494l3-82 5 72zM622 494l-5-59 8-23zM614 413l3 22 5 59zM614 413l3 22-8 15zM606 494l3-44 5-37zM606 494l-5-2 8-42zM598 484l8 10-5-2zM598 484l-5-44 8 52zM590 523l3-83 5 44zM590 523l-5-52 8-31zM582 501l3-30 5 52zM582 501l-5 18 8-48zM574 473l8 28-5 18zM574 473l3 46-8-22zM566 451l8 22-5 24zM566 451l3 46-8-25zM558 484l8-33-5 21zM558 484l3-12-8 40zM550 556l3-44 5-28zM550 556l-4-26 7-18zM542 583l4-53 4 26zM542 583l-4-66 8 13zM535 554l3-37 4 66zM535 554l-5 0 8-37zM527 530l8 24-5 0zM527 530l-5-54 8 78zM519 494l3-18 5 54zM519 494l-5 25 8-43zM511 489l8 5-5 25zM511 489l3 30-8 43zM503 500l8-11-5 73zM503 500l3 62-8 17zM495 543l8-43-5 79zM495 543l3 36-8-55zM487 562l3-38 5 19zM487 562l-5-6 8-32zM479 536l8 26-5-6zM479 536l3 20-8-29zM471 614l3-87 5 9zM471 614l-5-5 8-82z"/>
<path fill="url(#a11)" d="M840 350l3-12 5-10zM840 350l-5 6 8-18zM832 350l8 0-5 6zM832 350l3 6-8-14zM824 390l3-48 5 8zM824 390l-4-7 7-41zM816 422l4-39 4 7zM816 422l-4-33 8-6zM809 430l3-41 4 33zM809 430l-5-74 8 33zM801 423l3-67 5 74zM801 423l-5-60 8-7zM793 404l3-41 5 60zM793 404l-5-57 8 16zM785 377l3-30 5 57zM785 377l-5 15 8-45zM777 358l8 19-5 15zM777 358l3 34-8-5zM769 471l3-84 5-29zM769 471l-5-63 8-21zM761 435l3-27 5 63zM761 435l-5-12 8-15zM753 406l8 29-5-12zM753 406l3 17-8-2zM745 404l8 2-5 15zM745 404l-5-44 8 61zM737 430l3-70 5 44zM737 430l-5-25 8-45zM729 411l3-6 5 25zM729 411l-4-10 7 4zM721 368l8 43-4-10zM721 368l4 33-8-15zM714 400l3-14 4-18zM714 400l-5 14 8-28zM706 438l3-24 5-14zM706 438l3-24-8 74zM698 445l8-7-5 50zM698 445l3 43-8-43zM690 427l8 18-5 0zM690 427l3 18-8 41zM682 461l8-34-5 59zM682 461l3 25-8-48zM674 408l8 53-5-23zM674 408l3 30-8 24zM666 418l8-10-5 54zM666 418l3 44-8 19zM658 489l8-71-5 63zM658 489l-5-76 8 68zM650 527l3-114 5 76zM650 527l-5-102 8-12zM642 523l3-98 5 102zM642 523l-5-49 8-49zM634 509l3-35 5 49zM634 509l-4-25 7-10zM626 447l8 62-4-25zM626 447l4 37-8 10zM619 459l7-12-4 47zM619 459l3 35-8-81zM611 427l3-14 5 46zM611 427l3-14-8 81zM603 441l8-14-5 67zM603 441l3 53-8-10zM595 493l8-52-5 43zM595 493l3-9-8 39zM587 479l8 14-5 30zM587 479l3 44-8-22zM579 510l8-31-5 22zM579 510l-5-37 8 28zM571 508l3-35 5 37zM571 508l-5-57 8 22zM563 530l3-79 5 57zM563 530l-5-46 8-33zM555 465l3 19 5 46zM555 465l3 19-8 72zM547 527l8-62-5 91zM547 527l3 29-8 27zM539 535l8-8-5 56zM539 535l3 48-7-29zM531 476l8 59-4 19zM531 476l4 78-8-24zM524 512l7-36-4 54zM524 512l3 18-8-36zM516 537l3-43 5 18zM516 537l-5-48 8 5zM508 504l3-15 5 48zM508 504l-5-4 8-11zM500 565l3-65 5 4zM500 565l-5-22 8-43zM492 564l3-21 5 22zM492 564l-5-2 8-19zM484 515l8 49-5-2zM484 515l3 47-8-26zM476 594l3-58 5-21zM476 594l-5 20 8-78z"/>
<path fill="url(#a10)" d="M845 354l3-26 5 20zM845 354l-5-4 8-22zM837 347l8 7-5-4zM837 347l3 3-8 0zM829 365l3-15 5-3zM821 385l8-20-5 25zM821 385l3 5-8 32zM813 442l8-57-5 37zM813 442l-4-12 7-8zM805 378l8 64-4-12zM805 378l4 52-8-7zM798 371l7 7-4 45zM798 371l3 52-8-19zM790 322l8 49-5 33zM790 322l3 82-8-27zM782 387l8-65-5 55zM782 387l-5-29 8 19zM774 424l3-66 5 29zM774 424l-5 47 8-113zM766 413l8 11-5 47zM766 413l3 58-8-36zM758 405l8 8-5 22zM758 405l3 30-8-29zM750 403l8 2-5 1zM750 403l3 3-8-2zM742 398l8 5-5 1zM742 398l3 6-8 26zM734 446l8-48-5 32zM734 446l-5-35 8 19zM726 462l3-51 5 35zM726 462l-5-94 8 43zM718 427l3-59 5 94zM718 427l-4-27 7-32zM710 442l4-42 4 27zM710 442l-4-4 8-38zM703 415l7 27-4-4zM703 415l3 23-8 7zM695 406l8 9-5 30zM695 406l3 39-8-18zM687 427l8-21-5 21zM687 427l3 0-8 34zM679 433l8-6-5 34zM679 433l3 28-8-53zM671 423l3-15 5 25zM671 423l-5-5 8-10zM663 535l3-117 5 5zM663 535l-5-46 8-71zM655 551l3-62 5 46zM655 551l-5-24 8-38zM647 567l3-40 5 24zM647 567l-5-44 8 4zM639 508l3 15 5 44zM639 508l3 15-8-14zM631 436l8 72-5 1zM631 436l3 73-8-62zM623 418l8 18-5 11zM623 418l3 29-7 12zM615 453l8-35-4 41zM615 453l-4-26 8 32zM608 531l3-104 4 26zM608 531l-5-90 8-14zM600 511l3-70 5 90zM600 511l-5-18 8-52zM592 541l3-48 5 18zM592 541l-5-62 8 14zM584 525l3-46 5 62zM584 525l-5-15 8-31zM576 572l3-62 5 15zM576 572l-5-64 8 2zM568 512l3-4 5 64zM568 512l3-4-8 22zM560 437l8 75-5 18zM560 437l3 93-8-65zM552 480l8-43-5 28zM552 480l3-15-8 62zM544 537l8-57-5 47zM544 537l-5-2 8-8zM536 532l8 5-5-2zM536 532l-5-56 8 59zM528 516l3-40 5 56zM528 516l-4-4 7-36zM520 549l4-37 4 4zM520 549l-4-12 8-25zM513 525l7 24-4-12zM513 525l-5-21 8 33zM505 536l3-32 5 21zM505 536l-5 29 8-61zM497 503l8 33-5 29zM497 503l3 62-8-1zM489 518l8-15-5 61zM489 518l3 46-8-49zM481 593l3-78 5 3zM481 593l-5 1 8-79z"/>
<path fill="url(#a9)" d="M850 389l3-41 5 19zM850 389l-5-35 8-6zM842 354l3 0 5 35zM842 354l-5-7 8 7zM834 395l3-48 5 7zM834 395l-5-30 8-18zM826 404l3-39 5 30zM826 404l-5-19 8-20zM818 362l8 42-5-19zM818 362l3 23-8 57zM810 355l8 7-5 80zM810 355l3 87-8-64zM802 315l8 40-5 23zM802 315l3 63-7-7zM795 424l3-53 4-56zM795 424l-5-102 8 49zM787 446l3-124 5 102zM787 446l-5-59 8-65zM779 406l3-19 5 59zM779 406l-5 18 8-37zM771 379l8 27-5 18zM771 379l3 45-8-11zM763 381l8-2-5 34zM763 381l3 32-8-8zM755 403l8-22-5 24zM755 403l3 2-8-2zM747 383l8 20-5 0zM747 383l3 20-8-5zM739 454l3-56 5-15zM739 454l-5-8 8-48zM731 444l3 2 5 8zM731 444l3 2-8 16zM723 373l8 71-5 18zM723 373l3 89-8-35zM715 402l8-29-5 54zM715 402l3 25-8 15zM707 386l8 16-5 40zM707 386l3 56-7-27zM699 418l8-32-4 29zM699 418l-4-12 8 9zM692 438l3-32 4 12zM692 438l-5-11 8-21zM684 456l3-29 5 11zM684 456l-5-23 8-6zM676 510l3-77 5 23zM676 510l-5-87 8 10zM668 456l3-33 5 87zM668 456l3-33-8 112zM660 474l8-18-5 79zM660 474l3 61-8 16zM652 522l8-48-5 77zM652 522l3 29-8 16zM644 467l8 55-5 45zM644 467l3 100-8-59zM636 478l8-11-5 41zM636 478l3 30-8-72zM628 488l3-52 5 42zM628 488l-5-70 8 18zM620 514l3-96 5 70zM620 514l-5-61 8-35zM612 489l3-36 5 61zM612 489l-4 42 7-78zM604 529l8-40-4 42zM604 529l-4-18 8 20zM597 562l3-51 4 18zM597 562l-5-21 8-30zM589 493l8 69-5-21zM589 493l3 48-8-16zM581 467l8 26-5 32zM581 467l3 58-8 47zM573 464l8 3-5 105zM573 464l3 108-8-60zM565 446l8 18-5 48zM565 446l3 66-8-75zM557 493l3-56 5 9zM557 493l-5-13 8-43zM549 464l8 29-5-13zM549 464l3 16-8 57zM541 439l8 25-5 73zM541 439l3 98-8-5zM533 558l8-119-5 93zM533 558l-5-42 8 16zM525 552l3-36 5 42zM525 552l-5-3 8-33zM517 538l8 14-5-3zM517 538l3 11-7-24zM509 504l8 34-4-13zM509 504l4 21-8 11zM502 542l7-38-4 32zM502 542l-5-39 8 33zM494 529l3-26 5 39zM494 529l-5-11 8-15zM486 602l3-84 5 11zM486 602l-5-9 8-75z"/>
<path fill="url(#a8)" d="M855 368l8-13-5 12zM855 368l3-1-8 22zM847 371l8-3-5 21zM847 371l3 18-8-35zM839 360l3-6 5 17zM839 360l3-6-8 41zM831 431l3-36 5-35zM831 431l-5-27 8-9zM823 408l3-4 5 27zM823 408l-5-46 8 42zM815 440l3-78 5 46zM815 440l-5-85 8 7zM807 367l3-12 5 85zM807 367l-5-52 8 40zM799 411l3-96 5 52zM799 411l-4 13 7-109zM791 411l8 0-4 13zM791 411l4 13-8 22zM784 376l7 35-4 35zM784 376l3 70-8-40zM776 383l8-7-5 30zM776 383l3 23-8-27zM768 378l3 1 5 4zM768 378l3 1-8 2zM760 468l3-87 5-3zM760 468l-5-65 8-22zM752 341l8 127-5-65zM752 341l3 62-8-20zM744 420l3-37 5-42zM744 420l-5 34 8-71zM736 339l8 81-5 34zM736 339l3 115-8-10zM728 389l8-50-5 105zM728 389l3 55-8-71zM720 441l3-68 5 16zM720 441l-5-39 8-29zM712 421l3-19 5 39zM712 421l-5-35 8 16zM704 450l3-64 5 35zM704 450l-5-32 8-32zM696 476l3-58 5 32zM696 476l-4-38 7-20zM688 462l4-24 4 38zM688 462l-4-6 8-18zM681 459l3-3 4 6zM681 459l3-3-8 54zM673 471l8-12-5 51zM673 471l3 39-8-54zM665 492l3-36 5 15zM665 492l-5-18 8-18zM657 433l8 59-5-18zM657 433l3 41-8 48zM649 456l8-23-5 89zM649 456l3 66-8-55zM641 427l8 29-5 11zM641 427l3 40-8 11zM633 493l8-66-5 51zM633 493l-5-5 8-10zM625 447l8 46-5-5zM625 447l3 41-8 26zM617 461l8-14-5 67zM617 461l3 53-8-25zM609 497l8-36-5 28zM609 497l3-8-8 40zM601 508l8-11-5 32zM601 508l3 21-7 33zM593 428l8 80-4 54zM593 428l4 134-8-69zM586 442l7-14-4 65zM586 442l3 51-8-26zM578 484l3-17 5-25zM578 484l-5-20 8 3zM570 473l3-9 5 20zM570 473l-5-27 8 18zM562 506l3-60 5 27zM562 506l-5-13 8-47zM554 516l3-23 5 13zM554 516l-5-52 8 29zM546 513l3-49 5 52zM546 513l-5-74 8 25zM538 531l3-92 5 74zM538 531l-5 27 8-119zM530 601l3-43 5-27zM530 601l-5-49 8 6zM522 618l3-66 5 49zM522 618l-5-80 8 14zM514 489l8 129-5-80zM514 489l3 49-8-34zM506 510l8-21-5 15zM506 510l3-6-7 38zM498 581l4-39 4-32zM498 581l-4-52 8 13zM491 610l3-81 4 52zM491 610l-5-8 8-73z"/>
<path fill="url(#a7)" d="M860 374l3-19 5-19zM860 374l-5-6 8-13zM852 345l8 29-5-6zM852 345l3 23-8 3zM844 391l3-20 5-26zM844 391l-5-31 8 11zM836 440l3-80 5 31zM836 440l-5-9 8-71zM828 436l3-5 5 9zM828 436l-5-28 8 23zM820 417l3-9 5 28zM820 417l3-9-8 32zM812 423l8-6-5 23zM812 423l-5-56 8 73zM804 399l3-32 5 56zM804 399l-5 12 8-44zM796 362l8 37-5 12zM796 362l3 49-8 0zM788 363l8-1-5 49zM788 363l3 48-7-35zM780 480l4-104 4-13zM780 480l-4-97 8-7zM773 428l3-45 4 97zM773 428l-5-50 8 5zM765 418l3-40 5 50zM765 418l-5 50 8-90zM757 383l8 35-5 50zM757 383l3 85-8-127zM749 413l3-72 5 42zM749 413l-5 7 8-79zM741 387l8 26-5 7zM741 387l3 33-8-81zM733 429l3-90 5 48zM733 429l-5-40 8-50zM725 403l3-14 5 40zM725 403l3-14-8 52zM717 437l8-34-5 38zM717 437l-5-16 8 20zM709 444l3-23 5 16zM709 444l-5 6 8-29zM701 416l8 28-5 6zM701 416l3 34-8 26zM693 470l8-54-5 60zM693 470l3 6-8-14zM685 470l3-8 5 8zM685 470l-4-11 7 3zM678 479l3-20 4 11zM678 479l-5-8 8-12zM670 473l3-2 5 8zM670 473l3-2-8 21zM662 427l8 46-5 19zM662 427l3 65-8-59zM654 391l8 36-5 6zM654 391l3 42-8 23zM646 445l8-54-5 65zM646 445l3 11-8-29zM638 484l3-57 5 18zM638 484l-5 9 8-66zM630 432l8 52-5 9zM630 432l3 61-8-46zM622 454l8-22-5 15zM622 454l-5 7 8-14zM614 489l3-28 5-7zM614 489l-5 8 8-36zM606 475l8 14-5 8zM606 475l3 22-8 11zM598 471l8 4-5 33zM598 471l3 37-8-80zM590 471l3-43 5 43zM590 471l-4-29 7-14zM582 509l4-67 4 29zM582 509l-4-25 8-42zM575 522l3-38 4 25zM575 522l-5-49 8 11zM567 578l3-105 5 49zM567 578l-5-72 8-33zM559 570l3-64 5 72zM559 570l-5-54 8-10zM551 517l3-1 5 54zM551 517l-5-4 8 3zM543 515l3-2 5 4zM543 515l3-2-8 18zM535 568l3-37 5-16zM535 568l-5 33 8-70zM527 625l3-24 5-33zM527 625l-5-7 8-17zM519 536l8 89-5-7zM519 536l3 82-8-129zM511 531l3-42 5 47zM511 531l-5-21 8-21zM503 530l3-20 5 21zM503 530l3-20-8 71zM495 604l8-74-5 51zM495 604l-4 6 7-29z"/>
<path fill="url(#a6)" d="M864 388l4-52 4 14zM864 388l-4-14 8-38zM857 386l3-12 4 14zM857 386l-5-41 8 29zM849 444l3-99 5 41zM849 444l-5-53 8-46zM841 420l3-29 5 53zM841 420l-5 20 8-49zM833 395l8 25-5 20zM833 395l3 45-8-4zM825 375l8 20-5 41zM825 375l3 61-8-19zM817 406l8-31-5 42zM817 406l3 11-8 6zM809 437l3-14 5-17zM809 437l-5-38 8 24zM801 353l8 84-5-38zM801 353l3 46-8-37zM793 445l3-83 5-9zM793 445l-5-82 8-1zM785 459l3-96 5 82zM785 459l-5 21 8-117zM777 410l8 49-5 21zM777 410l3 70-7-52zM769 409l8 1-4 18zM769 409l4 19-8-10zM762 406l7 3-4 9zM762 406l-5-23 8 35zM754 431l3-48 5 23zM754 431l-5-18 8-30zM746 419l3-6 5 18zM746 419l-5-32 8 26zM738 445l3-58 5 32zM738 445l-5-16 8-42zM730 457l3-28 5 16zM730 457l-5-54 8 26zM722 455l3-52 5 54zM722 455l-5-18 8-34zM714 446l3-9 5 18zM714 446l-5-2 8-7zM706 432l8 14-5-2zM706 432l3 12-8-28zM698 483l3-67 5 16zM698 483l-5-13 8-54zM690 467l3 3 5 13zM690 467l3 3-8 0zM682 490l3-20 5-3zM682 490l-4-11 7-9zM674 466l8 24-4-11zM674 466l4 13-8-6zM667 411l7 55-4 7zM667 411l3 62-8-46zM659 494l3-67 5-16zM659 494l-5-103 8 36zM651 451l3-60 5 103zM651 451l-5-6 8-54zM643 456l3-11 5 6zM643 456l3-11-8 39zM635 434l8 22-5 28zM635 434l3 50-8-52zM627 467l3-35 5 2zM627 467l-5-13 8-22zM619 451l3 3 5 13zM619 451l3 3-8 35zM611 500l8-49-5 38zM611 500l-5-25 8 14zM603 510l3-35 5 25zM603 510l-5-39 8 4zM595 514l3-43 5 39zM595 514l-5-43 8 0zM587 571l3-100 5 43zM587 571l-5-62 8-38zM579 464l8 107-5-62zM579 464l3 45-7 13zM571 535l8-71-4 58zM571 535l4-13-8 56zM564 503l7 32-4 43zM564 503l3 75-8-8zM556 513l8-10-5 67zM556 513l3 57-8-53zM548 551l3-34 5-4zM548 551l-5-36 8 2zM540 527l3-12 5 36zM540 527l3-12-8 53zM532 619l3-51 5-41zM532 619l-5 6 8-57zM524 577l8 42-5 6zM524 577l3 48-8-89zM516 575l3-39 5 41zM516 575l-5-44 8 5zM508 559l3-28 5 44zM508 559l-5-29 8 1zM500 606l3-76 5 29zM500 606l-5-2 8-74z"/>
<path fill="url(#a5)" d="M869 385l3-35 5 6zM869 385l-5 3 8-38zM861 392l3-4 5-3zM861 392l-4-6 7 2zM853 410l4-24 4 6zM853 410l4-24-8 58zM846 375l7 35-4 34zM846 375l3 69-8-24zM838 366l8 9-5 45zM838 366l3 54-8-25zM830 432l3-37 5-29zM830 432l-5-57 8 20zM822 425l3-50 5 57zM822 425l-5-19 8-31zM814 387l8 38-5-19zM814 387l3 19-8 31zM806 443l8-56-5 50zM806 443l-5-90 8 84zM798 473l3-120 5 90zM798 473l-5-28 8-92zM790 473l3-28 5 28zM790 473l-5-14 8-14zM782 492l3-33 5 14zM782 492l-5-82 8 49zM774 453l3-43 5 82zM774 453l-5-44 8 1zM766 473l3-64 5 44zM766 473l-4-67 7 3zM758 498l4-92 4 67zM758 498l-4-67 8-25zM751 452l3-21 4 67zM751 452l-5-33 8 12zM743 474l3-55 5 33zM743 474l-5-29 8-26zM735 524l3-79 5 29zM735 524l-5-67 8-12zM727 476l3-19 5 67zM727 476l-5-21 8 2zM719 438l8 38-5-21zM719 438l3 17-8-9zM711 442l8-4-5 8zM711 442l-5-10 8 14zM703 428l3 4 5 10zM703 428l3 4-8 51zM695 413l8 15-5 55zM695 413l3 70-8-16zM687 481l8-68-5 54zM687 481l-5 9 8-23zM679 524l3-34 5-9zM679 524l-5-58 8 24zM671 456l3 10 5 58zM671 456l-4-45 7 55zM663 461l4-50 4 45zM663 461l-4 33 8-83zM656 465l7-4-4 33zM656 465l3 29-8-43zM648 433l8 32-5-14zM648 433l3 18-8 5zM640 456l8-23-5 23zM640 456l-5-22 8 22zM632 485l3-51 5 22zM632 485l-5-18 8-33zM624 515l3-48 5 18zM624 515l-5-64 8 16zM616 542l3-91 5 64zM616 542l-5-42 8-49zM608 530l3-30 5 42zM608 530l-5-20 8-10zM600 521l3-11 5 20zM600 521l-5-7 8-4zM592 564l3-50 5 7zM592 564l-5 7 8-57zM584 484l8 80-5 7zM584 484l3 87-8-107zM576 563l3-99 5 20zM576 563l-5-28 8-71zM568 550l3-15 5 28zM568 550l-4-47 7 32zM561 544l3-41 4 47zM561 544l-5-31 8-10zM553 546l3-33 5 31zM553 546l-5 5 8-38zM545 547l8-1-5 5zM545 547l-5-20 8 24zM537 536l3-9 5 20zM537 536l3-9-8 92zM529 572l8-36-5 83zM529 572l3 47-8-42zM521 590l3-13 5-5zM521 590l-5-15 8 2zM513 595l3-20 5 15zM513 595l-5-36 8 16zM505 633l3-74 5 36zM505 633l-5-27 8-47z"/>
<path fill="url(#a4)" d="M874 440l3-84 5-11zM874 440l-5-55 8-29zM866 424l3-39 5 55zM866 424l-5-32 8-7zM858 407l3-15 5 32zM858 407l-5 3 8-18zM850 364l8 43-5 3zM850 364l3 46-7-35zM842 410l4-35 4-11zM842 410l-4-44 8 9zM835 434l3-68 4 44zM835 434l-5-2 8-66zM827 399l8 35-5-2zM827 399l3 33-8-7zM819 389l8 10-5 26zM819 389l3 36-8-38zM811 491l3-104 5 2zM811 491l-5-48 8-56zM803 427l3 16 5 48zM803 427l3 16-8 30zM795 430l8-3-5 46zM795 430l3 43-8 0zM787 483l8-53-5 43zM787 483l-5 9 8-19zM779 495l8-12-5 9zM779 495l-5-42 8 39zM771 499l3-46 5 42zM771 499l-5-26 8-20zM763 467l3 6 5 26zM763 467l3 6-8 25zM755 420l8 47-5 31zM755 420l3 78-7-46zM747 427l8-7-4 32zM747 427l4 25-8 22zM740 525l3-51 4-47zM740 525l-5-1 8-50zM732 483l8 42-5-1zM732 483l3 41-8-48zM724 437l8 46-5-7zM724 437l3 39-8-38zM716 470l3-32 5-1zM716 470l-5-28 8-4zM708 437l3 5 5 28zM708 437l-5-9 8 14zM700 432l3-4 5 9zM700 432l-5-19 8 15zM692 492l3-79 5 19zM692 492l-5-11 8-68zM684 482l3-1 5 11zM684 482l3-1-8 43zM676 425l8 57-5 42zM676 425l3 99-8-68zM668 478l3-22 5-31zM668 478l-5-17 8-5zM660 515l3-54 5 17zM660 515l-4-50 7-4zM652 485l4-20 4 50zM652 485l-4-52 8 32zM645 521l3-88 4 52zM645 521l-5-65 8-23zM637 526l3-70 5 65zM637 526l-5-41 8-29zM629 503l3-18 5 41zM629 503l-5 12 8-30zM621 505l8-2-5 12zM621 505l3 10-8 27zM613 507l8-2-5 37zM613 507l3 35-8-12zM605 549l3-19 5-23zM605 549l-5-28 8 9zM597 501l8 48-5-28zM597 501l3 20-8 43zM589 571l8-70-5 63zM589 571l-5-87 8 80zM581 613l3-129 5 87zM581 613l-5-50 8-79zM573 545l3 18 5 50zM573 545l3 18-8-13zM565 552l8-7-5 5zM565 552l-4-8 7 6zM557 526l8 26-4-8zM557 526l4 18-8 2zM550 550l7-24-4 20zM550 550l-5-3 8-1zM542 552l3-5 5 3zM542 552l-5-16 8 11zM534 548l3-12 5 16zM534 548l3-12-8 36zM526 602l3-30 5-24zM526 602l-5-12 8-18zM518 593l3-3 5 12zM518 593l-5 2 8-5zM510 633l3-38 5-2zM510 633l-5 0 8-38z"/>
<path fill="url(#a3)" d="M879 384l3-39 5 17zM879 384l-5 56 8-95zM871 441l8-57-5 56zM871 441l-5-17 8 16zM863 374l8 67-5-17zM863 374l3 50-8-17zM855 398l8-24-5 33zM855 398l-5-34 8 43zM847 401l3-37 5 34zM847 401l-5 9 8-46zM839 394l8 7-5 9zM839 394l3 16-7 24zM831 440l8-46-4 40zM831 440l-4-41 8 35zM824 463l3-64 4 41zM824 463l-5-74 8 10zM816 367l3 22 5 74zM816 367l3 22-8 102zM808 384l8-17-5 124zM808 384l3 107-8-64zM800 393l8-9-5 43zM800 393l3 34-8 3zM792 447l8-54-5 37zM792 447l3-17-8 53zM784 384l8 63-5 36zM784 384l3 99-8 12zM776 476l8-92-5 111zM776 476l3 19-8 4zM768 435l8 41-5 23zM768 435l3 64-8-32zM760 416l8 19-5 32zM760 416l3 51-8-47zM752 406l8 10-5 4zM752 406l3 14-8 7zM744 476l3-49 5-21zM744 476l-4 49 7-98zM736 449l8 27-4 49zM736 449l4 76-8-42zM729 471l7-22-4 34zM729 471l-5-34 8 46zM721 483l3-46 5 34zM721 483l-5-13 8-33zM713 478l3-8 5 13zM713 478l-5-41 8 33zM705 487l3-50 5 41zM705 487l-5-55 8 5zM697 466l3-34 5 55zM697 466l-5 26 8-60zM689 502l8-36-5 26zM689 502l-5-20 8 10zM681 462l8 40-5-20zM681 462l-5-37 8 57zM673 453l3-28 5 37zM673 453l-5 25 8-53zM665 516l3-38 5-25zM665 516l-5-1 8-37zM657 462l8 54-5-1zM657 462l3 53-8-30zM649 432l8 30-5 23zM649 432l3 53-7 36zM641 458l8-26-4 89zM641 458l4 63-8 5zM634 517l7-59-4 68zM634 517l3 9-8-23zM626 490l8 27-5-14zM626 490l3 13-8 2zM618 469l8 21-5 15zM618 469l3 36-8 2zM610 500l8-31-5 38zM610 500l3 7-8 42zM602 527l8-27-5 49zM602 527l3 22-8-48zM594 579l3-78 5 26zM594 579l-5-8 8-70zM586 560l8 19-5-8zM586 560l3 11-8 42zM578 594l8-34-5 53zM578 594l-5-49 8 68zM570 528l3 17 5 49zM570 528l3 17-8 7zM562 504l8 24-5 24zM562 504l3 48-8-26zM554 544l3-18 5-22zM554 544l-4 6 7-24zM546 530l8 14-4 6zM546 530l4 20-8 2zM539 575l3-23 4-22zM539 575l-5-27 8 4zM531 606l3-58 5 27zM531 606l-5-4 8-54zM523 586l8 20-5-4zM523 586l3 16-8-9zM515 632l3-39 5-7zM515 632l-5 1 8-40z"/>
<path fill="url(#a2)" d="M884 356l3 6 5 22zM884 356l3 6-8 22zM876 376l8-20-5 28zM876 376l3 8-8 57zM868 405l8-29-5 65zM868 405l3 36-8-67zM860 382l3-8 5 31zM860 382l3-8-8 24zM852 402l8-20-5 16zM852 402l-5-1 8-3zM844 354l8 48-5-1zM844 354l3 47-8-7zM836 403l8-49-5 40zM836 403l3-9-8 46zM828 445l8-42-5 37zM828 445l3-5-7 23zM820 390l8 55-4 18zM820 390l4 73-8-96zM813 381l3-14 4 23zM813 381l-5 3 8-17zM805 378l8 3-5 3zM805 378l3 6-8 9zM797 376l8 2-5 15zM797 376l3 17-8 54zM789 378l8-2-5 71zM789 378l3 69-8-63zM781 386l8-8-5 6zM781 386l3-2-8 92zM773 434l8-48-5 90zM773 434l3 42-8-41zM765 437l3-2 5-1zM765 437l-5-21 8 19zM757 454l3-38 5 21zM757 454l-5-48 8 10zM749 505l3-99 5 48zM749 505l-5-29 8-70zM741 503l3-27 5 29zM741 503l-5-54 8 27zM733 482l3-33 5 54zM733 482l-4-11 7-22zM725 495l4-24 4 11zM725 495l-4-12 8-12zM718 478l3 5 4 12zM718 478l3 5-8-5zM710 508l3-30 5 0zM710 508l-5-21 8-9zM702 525l3-38 5 21zM702 525l-5-59 8 21zM694 540l3-74 5 59zM694 540l-5-38 8-36zM686 500l3 2 5 38zM686 500l-5-38 8 40zM678 472l3-10 5 38zM678 472l-5-19 8 9zM670 518l3-65 5 19zM670 518l-5-2 8-63zM662 538l3-22 5 2zM662 538l-5-76 8 54zM654 499l3-37 5 76zM654 499l-5-67 8 30zM646 501l3-69 5 67zM646 501l-5-43 8-26zM638 470l3-12 5 43zM638 470l3-12-7 59zM630 529l8-59-4 47zM630 529l-4-39 8 27zM623 487l3 3 4 39zM623 487l-5-18 8 21zM615 520l3-51 5 18zM615 520l-5-20 8-31zM607 570l3-70 5 20zM607 570l-5-43 8-27zM599 579l3-52 5 43zM599 579l-5 0 8-52zM591 536l8 43-5 0zM591 536l3 43-8-19zM583 488l8 48-5 24zM583 488l3 72-8 34zM575 572l8-84-5 106zM575 572l-5-44 8 66zM567 549l3-21 5 44zM567 549l-5-45 8 24zM559 524l3-20 5 45zM559 524l-5 20 8-40zM551 522l8 2-5 20zM551 522l3 22-8-14zM543 551l3-21 5-8zM543 551l-4 24 7-45zM535 549l8 2-4 24zM535 549l4 26-8 31zM528 565l7-16-4 57zM528 565l3 41-8-20zM520 631l3-45 5-21zM520 631l-5 1 8-46z"/>
<path fill="url(#a1)" d="M889 409l3-25 5 8zM889 409l-5-53 8 28zM881 361l3-5 5 53zM881 361l3-5-8 20zM873 389l3-13 5-15zM873 389l-5 16 8-29zM865 439l3-34 5-16zM865 439l-5-57 8 23zM857 401l3-19 5 57zM857 401l-5 1 8-20zM849 396l8 5-5 1zM849 396l-5-42 8 48zM841 358l3-4 5 42zM841 358l3-4-8 49zM833 363l8-5-5 45zM833 363l3 40-8 42zM825 445l8-82-5 82zM825 445l-5-55 8 55zM817 409l3-19 5 55zM817 409l-4-28 7 9zM810 384l3-3 4 28zM810 384l-5-6 8 3zM802 425l3-47 5 6zM802 425l-5-49 8 2zM794 444l3-68 5 49zM794 444l-5-66 8-2zM786 418l3-40 5 66zM786 418l-5-32 8-8zM778 491l3-105 5 32zM778 491l-5-57 8-48zM770 506l3-72 5 57zM770 506l-5-69 8-3zM762 487l3-50 5 69zM762 487l-5-33 8-17zM754 493l3-39 5 33zM754 493l-5 12 8-51zM746 443l8 50-5 12zM746 443l3 62-8-2zM738 434l8 9-5 60zM738 434l3 69-8-21zM730 504l8-70-5 48zM730 504l-5-9 8-13zM722 509l3-14 5 9zM722 509l-4-31 7 17zM714 499l4-21 4 31zM714 499l-4 9 8-30zM707 537l3-29 4-9zM707 537l-5-12 8-17zM699 552l3-27 5 12zM699 552l-5-12 8-15zM691 516l8 36-5-12zM691 516l3 24-8-40zM683 452l8 64-5-16zM683 452l3 48-8-28zM675 478l8-26-5 20zM675 478l3-6-8 46zM667 480l8-2-5 40zM667 480l3 38-8 20zM659 574l3-36 5-58zM659 574l-5-75 8 39zM651 555l3-56 5 75zM651 555l-5-54 8-2zM643 521l3-20 5 54zM643 521l-5-51 8 31zM635 543l3-73 5 51zM635 543l-5-14 8-59zM627 555l3-26 5 14zM627 555l-4-68 7 42zM619 561l4-74 4 68zM619 561l-4-41 8-33zM612 521l3-1 4 41zM612 521l3-1-8 50zM604 552l8-31-5 49zM604 552l3 18-8 9zM596 535l8 17-5 27zM596 535l3 44-8-43zM588 461l8 74-5 1zM588 461l3 75-8-48zM580 507l3-19 5-27zM580 507l3-19-8 84zM572 564l8-57-5 65zM572 564l-5-15 8 23zM564 478l8 86-5-15zM564 478l3 71-8-25zM556 480l8-2-5 46zM556 480l3 44-8-2zM548 504l8-24-5 42zM548 504l3 18-8 29zM540 585l3-34 5-47zM540 585l-5-36 8 2zM532 564l3-15 5 36zM532 564l-4 1 7-16zM524 630l4-65 4-1zM524 630l-4 1 8-66z"/>
<path fill="url(#a0)" d="M894 456l3-64 4 63zM894 456l-5-47 8-17zM886 452l3-43 5 47zM886 452l-5-91 8 48zM878 447l3-86 5 91zM878 447l-5-58 8-28zM870 443l3-54 5 58zM870 443l-5-4 8-50zM862 447l3-8 5 4zM862 447l-5-46 8 38zM854 459l3-58 5 46zM854 459l-5-63 8 5zM846 450l3-54 5 63zM846 450l-5-92 8 38zM838 458l3-100 5 92zM838 458l-5-95 8-5zM830 462l3-99 5 95zM830 462l-5-17 8-82zM822 495l3-50 5 17zM822 495l-5-86 8 36zM814 505l3-96 5 86zM814 505l-4-121 7 25zM806 486l4-102 4 121zM806 486l-4-61 8-41zM799 498l3-73 4 61zM799 498l-5-54 8-19zM791 500l3-56 5 54zM791 500l-5-82 8 26zM783 500l3-82 5 82zM783 500l-5-9 8-73zM775 512l3-21 5 9zM775 512l-5-6 8-15zM767 524l3-18 5 6zM767 524l-5-37 8 19zM759 522l3-35 5 37zM759 522l-5-29 8-6zM751 544l3-51 5 29zM751 544l-5-101 8 50zM743 527l3-84 5 101zM743 527l-5-93 8 9zM735 535l3-101 5 93zM735 535l-5-31 8-70zM727 527l3-23 5 31zM727 527l-5-18 8-5zM719 525l3-16 5 18zM719 525l-5-26 8 10zM711 569l3-70 5 26zM711 569l-4-32 7-38zM703 577l4-40 4 32zM703 577l-4-25 8-15zM696 561l3-9 4 25zM696 561l-5-45 8 36zM688 559l3-43 5 45zM688 559l-5-107 8 64zM680 546l3-94 5 107zM680 546l-5-68 8-26zM672 546l3-68 5 68zM672 546l-5-66 8-2zM664 578l3-98 5 66zM664 578l-5-4 8-94zM656 573l3 1 5 4zM656 573l-5-18 8 19zM648 580l3-25 5 18zM648 580l-5-59 8 34zM640 570l3-49 5 59zM640 570l-5-27 8-22zM632 563l3-20 5 27zM632 563l-5-8 8-12zM624 565l3-10 5 8zM624 565l-5-4 8-6zM616 614l3-53 5 4zM616 614l-4-93 7 40zM608 634l4-113 4 93zM608 634l-4-82 8-31zM601 609l3-57 4 82zM601 609l-5-74 8 17zM593 607l3-72 5 74zM593 607l-5-146 8 74zM585 632l3-171 5 146zM585 632l-5-125 8-46zM577 638l3-131 5 125zM577 638l-5-74 8-57zM569 612l3-48 5 74zM569 612l-5-134 8 86zM561 607l3-129 5 134zM561 607l-5-127 8-2zM553 626l3-146 5 127zM553 626l-5-122 8-24zM545 639l3-135 5 122zM545 639l-5-54 8-81zM537 625l3-40 5 54zM537 625l-5-61 8 21zM529 628l3-64 5 61zM529 628l-5 2 8-66z"/>
<path fill="url(#b70)" d="M577 969l5-10 5 0zM577 969l-5-7 10-3zM568 978l4-16 5 7zM568 978l-6-13 10-3zM558 1018l4-53 6 13zM558 1018l-5-61 9 8zM548 1012l5-55 5 61zM548 1012l-5-30 10-25zM538 996l5-14 5 30zM538 996l-5-24 10 10zM528 1003l5-31 5 24zM528 1003l-5-49 10 18zM518 1000l5-46 5 49zM518 1000l-5-29 10-17zM508 1011l5-40 5 29zM508 1011l-5-45 10 5zM498 1001l5-35 5 45zM498 1001l-5-23 10-12zM489 983l4-5 5 23zM489 983l-6 3 10-8zM479 1012l4-26 6-3zM479 1012l-5-21 9-5zM469 1020l5-29 5 21zM469 1020l-5-41 10 12zM459 1008l5-29 5 41zM459 1008l-5-14 10-15zM449 1004l5-10 5 14zM449 1004l-5 7 10-17zM439 1012l10-8-5 7zM439 1012l-5-19 10 18zM429 988l5 5 5 19zM429 988l-5-7 10 12zM419 1055l5-74 5 7zM419 1055l-5-57 10-17zM410 1059l4-61 5 57zM410 1059l-5-55 9-6zM400 1050l5-46 5 55zM400 1050l-5-69 10 23zM390 1026l5-45 5 69zM390 1026l-5-18 10-27zM380 1067l5-59 5 18zM380 1067l-5-47 10-12zM370 1100l5-80 5 47zM370 1100l-5-91 10 11zM360 1096l5-87 5 91zM360 1096l-5-52 10-35zM350 1069l5-25 5 52zM350 1069l-5-43 10 18zM341 1050l4-24 5 43zM341 1050l-6-44 10 20zM331 1099l4-93 6 44zM331 1099l-5-85 9-8zM321 1107l5-93 5 85zM321 1107l-5-69 10-24zM311 1050l5-12 5 69zM311 1050l-5-2 10-10zM301 1058l5-10 5 2zM301 1058l-5-16 10 6zM291 1058l5-16 5 16zM291 1058l-5-29 10 13zM281 1068l5-39 5 29zM281 1068l-5-26 10-13zM271 1079l5-37 5 26zM271 1079l-5-51 10 14zM262 1082l4-54 5 51zM262 1082l-6-20 10-34zM252 1073l4-11 6 20zM252 1073l-5-5 9-6zM242 1095l5-27 5 5zM242 1095l-5-33 10 6zM232 1056l5 6 5 33zM232 1056l5 6-10 5zM222 1091l5-24 5-11zM222 1091l-5-2 10-22zM212 1104l5-15 5 2zM212 1104l-5-3 10-12zM202 1104l5-3 5 3zM202 1104l-5-16 10 13zM192 1142l5-54 5 16zM192 1142l-5-41 10-13zM183 1148l4-47 5 41zM183 1148l-6-31 10-16zM173 1128l4-11 6 31zM173 1128l-5-21 9 10zM163 1122l5-15 5 21zM163 1122l-5-9 10-6zM153 1116l5-3 5 9zM153 1116l-5-1 10-2zM143 1125l5-10 5 1zM143 1125l-5-20 10 10zM133 1109l5-4 5 20zM133 1109l-5-16 10 12zM123 1150l5-57 5 16zM123 1150l-5-5 10-52z"/>
<path fill="url(#b69)" d="M583 977l4-18 5 0zM583 977l-6-8 10-10zM573 987l4-18 6 8zM573 987l-5-9 9-9zM563 1021l5-43 5 9zM563 1021l-5-3 10-40zM553 1040l5-22 5 3zM553 1040l-5-28 10 6zM543 1000l5 12 5 28zM543 1000l5 12-10-16zM533 978l10 22-5-4zM533 978l5 18-10 7zM523 978l10 0-5 25zM523 978l5 25-10-3zM513 1056l5-56 5-22zM513 1056l-5-45 10-11zM504 1043l4-32 5 45zM504 1043l-6-42 10 10zM494 989l4 12 6 42zM494 989l4 12-9-18zM484 1002l5-19 5 6zM484 1002l-5 10 10-29zM474 1039l5-27 5-10zM474 1039l-5-19 10-8zM464 1023l5-3 5 19zM464 1023l-5-15 10 12zM454 1014l5-6 5 15zM454 1014l-5-10 10 4zM444 1035l5-31 5 10zM444 1035l-5-23 10-8zM434 993l5 19 5 23zM434 993l5 19-10-24zM425 1033l4-45 5 5zM425 1033l-6 22 10-67zM415 1045l10-12-6 22zM415 1045l4 10-9 4zM405 1013l10 32-5 14zM405 1013l5 46-10-9zM395 1068l10-55-5 37zM395 1068l-5-42 10 24zM385 1077l5-51 5 42zM385 1077l-5-10 10-41zM375 1090l5-23 5 10zM375 1090l-5 10 10-33zM365 1075l10 15-5 10zM365 1075l5 25-10-4zM355 1053l10 22-5 21zM355 1053l5 43-10-27zM346 1080l9-27-5 16zM346 1080l-5-30 9 19zM336 1058l5-8 5 30zM336 1058l5-8-10 49zM326 1037l10 21-5 41zM326 1037l5 62-10 8zM316 1061l10-24-5 70zM316 1061l5 46-10-57zM306 1045l5 5 5 11zM306 1045l5 5-10 8zM296 1059l10-14-5 13zM296 1059l-5-1 10 0zM286 1077l5-19 5 1zM286 1077l-5-9 10-10zM277 1101l4-33 5 9zM277 1101l-6-22 10-11zM267 1116l4-37 6 22zM267 1116l-5-34 9-3zM257 1113l5-31 5 34zM257 1113l-5-40 10 9zM247 1095l5-22 5 40zM247 1095l-5 0 10-22zM237 1066l10 29-5 0zM237 1066l5 29-10-39zM227 1071l5-15 5 10zM227 1071l5-15-10 35zM217 1109l10-38-5 20zM217 1109l-5-5 10-13zM207 1129l5-25 5 5zM207 1129l-5-25 10 0zM198 1113l4-9 5 25zM198 1113l4-9-10 38zM188 1118l10-5-6 29zM188 1118l4 24-9 6zM178 1128l10-10-5 30zM178 1128l5 20-10-20zM168 1125l10 3-5 0zM158 1136l5-14 5 3zM158 1136l-5-20 10 6zM148 1112l5 4 5 20zM148 1112l5 4-10 9zM138 1111l10 1-5 13zM138 1111l5 14-10-16zM128 1151l5-42 5 2zM128 1151l-5-1 10-41z"/>
<path fill="url(#b68)" d="M588 1013l4-54 6-5zM588 1013l-5-36 9-18zM578 973l5 4 5 36zM578 973l5 4-10 10zM568 1001l5-14-10 34zM558 1031l10-30-5 20zM558 1031l-5 9 10-19zM548 996l10 35-5 9zM548 996l5 44-10-40zM538 995l10 1-5 4zM538 995l-5-17 10 22zM528 980l5-2 5 17zM528 980l-5-2 10 0zM519 1008l4-30 5 2zM519 1008l4-30-10 78zM509 1030l10-22-6 48zM509 1030l4 26-9-13zM499 1002l10 28-5 13zM499 1002l5 41-10-54zM489 1047l5-58 5 13zM489 1047l-5-45 10-13zM479 1013l5-11 5 45zM479 1013l5-11-10 37zM469 1027l10-14-5 26zM469 1027l5 12-10-16zM459 1059l5-36 5 4zM459 1059l-5-45 10 9zM449 1027l5-13 5 45zM449 1027l-5 8 10-21zM440 1018l9 9-5 8zM440 1018l4 17-10-42zM430 1012l4-19 6 25zM430 1012l-5 21 9-40zM420 1044l10-32-5 21zM420 1044l-5 1 10-12zM410 1034l10 10-5 1zM410 1034l-5-21 10 32zM400 1026l5-13 5 21zM400 1026l5-13-10 55zM390 1045l10-19-5 42zM390 1045l5 23-10 9zM380 1047l10-2-5 32zM380 1047l5 30-10 13zM370 1049l10-2-5 43zM370 1049l5 41-10-15zM361 1032l9 17-5 26zM361 1032l4 43-10-22zM351 1046l10-14-6 21zM351 1046l4 7-9 27zM341 1064l10-18-5 34zM341 1064l5 16-10-22zM331 1068l5-10 5 6zM331 1068l-5-31 10 21zM321 1078l5-41 5 31zM321 1078l-5-17 10-24zM311 1068l5-7 5 17zM311 1068l-5-23 10 16zM301 1100l5-55 5 23zM301 1100l-5-41 10-14zM291 1067l5-8 5 41zM291 1067l5-8-10 18zM282 1112l4-35 5-10zM282 1112l-5-11 9-24zM272 1115l5-14 5 11zM272 1115l-5 1 10-15zM262 1074l10 41-5 1zM262 1074l5 42-10-3zM252 1098l10-24-5 39zM252 1098l5 15-10-18zM242 1074l10 24-5-3zM242 1074l5 21-10-29zM232 1087l5-21 5 8zM232 1087l-5-16 10-5zM222 1098l5-27 5 16zM222 1098l-5 11 10-38zM213 1107l9-9-5 11zM213 1107l4 2-10 20zM203 1099l10 8-6 22zM203 1099l4 30-9-16zM193 1104l10-5-5 14zM193 1104l5 9-10 5zM183 1148l5-30 5-14zM183 1148l-5-20 10-10zM173 1143l5-15 5 20zM173 1143l-5-18 10 3zM163 1122l5 3 5 18zM163 1122l5 3-10 11zM153 1141l10-19-5 14zM153 1141l-5-29 10 24zM143 1136l5-24 5 29zM143 1136l-5-25 10 1zM134 1166l4-55 5 25zM134 1166l-6-15 10-40z"/>
<path fill="url(#b67)" d="M593 1001l5-47 5 7zM593 1001l-5 12 10-59zM583 964l10 37-5 12zM583 964l5 49-10-40zM573 981l10-17-5 9zM573 981l5-8-10 28zM563 974l10 7-5 20zM563 974l5 27-10 30zM553 1002l10-28-5 57zM553 1002l5 29-10-35zM543 990l5 6-10-1zM534 981l9 9-5 5zM534 981l4 14-10-15zM524 986l4-6 6 1zM524 986l4-6-9 28zM514 1014l10-28-5 22zM514 1014l5-6-10 22zM504 1024l10-10-5 16zM504 1024l-5-22 10 28zM494 1065l5-63 5 22zM494 1065l-5-18 10-45zM484 1033l5 14 5 18zM484 1033l-5-20 10 34zM474 1015l5-2 5 20zM474 1015l5-2-10 14zM464 1052l5-25 5-12zM464 1052l-5 7 10-32zM455 1046l9 6-5 7zM455 1046l4 13-10-32zM445 1054l4-27 6 19zM445 1054l-5-36 9 9zM435 1039l5-21 5 36zM435 1039l-5-27 10 6zM425 1046l5-34 5 27zM425 1046l-5-2 10-32zM415 1048l5-4 5 2zM415 1048l-5-14 10 10zM405 1033l5 1 5 14zM405 1033l-5-7 10 8zM395 1043l5-17 5 7zM395 1043l-5 2 10-19zM385 1055l5-10 5-2zM385 1055l-5-8 10-2zM376 1053l4-6 5 8zM376 1053l-6-4 10-2zM366 1045l10 8-6-4zM366 1045l-5-13 9 17zM356 1047l5-15 5 13zM356 1047l-5-1 10-14zM346 1091l5-45 5 1zM346 1091l-5-27 10-18zM336 1101l5-37 5 27zM336 1101l-5-33 10-4zM326 1074l5-6 5 33zM326 1074l-5 4 10-10zM316 1069l10 5-5 4zM316 1069l5 9-10-10zM306 1083l5-15 5 1zM306 1083l5-15-10 32zM297 1081l9 2-5 17zM297 1081l4 19-10-33zM287 1097l4-30 6 14zM287 1097l-5 15 9-45zM277 1117l10-20-5 15zM277 1117l-5-2 10-3zM267 1098l10 19-5-2zM267 1098l-5-24 10 41zM257 1101l5-27 5 24zM257 1101l-5-3 10-24zM247 1103l5-5 5 3zM247 1103l-5-29 10 24zM237 1107l5-33 5 29zM237 1107l-5-20 10-13zM228 1093l4-6 5 20zM228 1093l-6 5 10-11zM218 1100l10-7-6 5zM218 1100l4-2-9 9zM208 1111l10-11-5 7zM208 1111l-5-12 10 8zM198 1110l5-11 5 12zM198 1110l-5-6 10-5zM188 1116l5-12 5 6zM188 1116l5-12-10 44zM178 1130l10-14-5 32zM178 1130l5 18-10-5zM168 1124l10 6-5 13zM168 1124l5 19-10-21zM158 1166l5-44 5 2zM158 1166l-5-25 10-19zM149 1158l4-17 5 25zM149 1158l-6-22 10 5zM139 1183l4-47 6 22zM139 1183l-5-17 9-30z"/>
<path fill="url(#b66)" d="M598 1011l5-50 5 8zM598 1011l-5-10 10-40zM588 993l5 8 5 10zM588 993l-5-29 10 37zM578 954l5 10 5 29zM578 954l5 10-10 17zM568 982l10-28-5 27zM568 982l-5-8 10 7zM558 1002l5-28 5 8zM558 1002l-5 0 10-28zM548 1016l5-14 5 0zM548 1016l-5-26 10 12zM539 1033l4-43 5 26zM539 1033l-5-52 9 9zM529 1017l5-36 5 52zM529 1017l-5-31 10-5zM519 1014l5-28 5 31zM519 1014l-5 0 10-28zM509 1018l5-4 5 0zM509 1018l5-4-10 10zM499 1034l5-10 5-6zM499 1034l5-10-10 41zM489 1068l10-34-5 31zM489 1068l-5-35 10 32zM479 1048l5-15 5 35zM479 1048l-5-33 10 18zM470 1069l4-54 5 33zM470 1069l-6-17 10-37zM460 1049l4 3 6 17zM460 1049l4 3-9-6zM450 1065l5-19 5 3zM450 1065l-5-11 10-8zM440 1040l10 25-5-11zM440 1040l5 14-10-15zM430 1048l5-9 5 1zM430 1048l-5-2 10-7zM420 1053l5-7 5 2zM420 1053l-5-5 10-2zM410 1035l10 18-5-5zM410 1035l5 13-10-15zM400 1032l5 1 5 2zM400 1032l5 1-10 10zM391 1072l4-29 5-11zM391 1072l-6-17 10-12zM381 1076l4-21 6 17zM381 1076l-5-23 9 2zM371 1046l5 7 5 23zM371 1046l5 7-10-8zM361 1093l5-48 5 1zM361 1093l-5-46 10-2zM351 1064l5-17 5 46zM351 1064l5-17-10 44zM341 1034l10 30-5 27zM341 1034l5 57-10 10zM331 1060l10-26-5 67zM331 1060l5 41-10-27zM321 1072l10-12-5 14zM321 1072l-5-3 10 5zM312 1085l4-16 5 3zM312 1085l-6-2 10-14zM302 1077l10 8-6-2zM302 1077l4 6-9-2zM292 1064l10 13-5 4zM292 1064l5 17-10 16zM282 1078l10-14-5 33zM282 1078l5 19-10 20zM272 1098l10-20-5 39zM272 1098l5 19-10-19zM262 1098l5 0-10 3zM252 1098l10 0-5 3zM252 1098l5 3-10 2zM242 1088l10 10-5 5zM242 1088l5 15-10 4zM233 1117l9-29-5 19zM233 1117l-5-24 9 14zM223 1110l5-17 5 24zM223 1110l-5-10 10-7zM213 1131l5-31 5 10zM213 1131l-5-20 10-11zM203 1151l5-40 5 20zM203 1151l-5-41 10 1zM193 1118l5-8 5 41zM193 1118l-5-2 10-6zM183 1120l5-4 5 2zM183 1120l5-4-10 14zM173 1143l5-13 5-10zM173 1143l-5-19 10 6zM164 1155l4-31 5 19zM164 1155l-6 11 10-42zM154 1156l10-1-6 11zM154 1156l4 10-9-8zM144 1200l5-42 5-2zM144 1200l-5-17 10-25z"/>
<path fill="url(#b65)" d="M603 1011l5-42 5 12zM603 1011l-5 0 10-42zM593 992l10 19-5 0zM593 992l5 19-10-18zM583 963l10 29-5 1zM583 963l5 30-10-39zM573 970l5-16 5 9zM573 970l-5 12 10-28zM563 1022l5-40 5-12zM563 1022l-5-20 10-20zM554 1005l4-3 5 20zM554 1005l4-3-10 14zM544 1035l4-19 6-11zM544 1035l-5-2 9-17zM534 1034l5-1 5 2zM534 1034l-5-17 10 16zM524 1037l5-20 5 17zM524 1037l-5-23 10 3zM514 1030l5-16 5 23zM514 1030l-5-12 10-4zM504 1060l5-42 5 12zM504 1060l-5-26 10-16zM494 1051l5-17 5 26zM484 1039l10 12-5 17zM484 1039l5 29-10-20zM475 1019l9 20-5 9zM475 1019l4 29-9 21zM465 1010l10 9-5 50zM465 1010l5 59-10-20zM455 1072l10-62-5 39zM455 1072l-5-7 10-16zM445 1059l5 6 5 7zM445 1059l-5-19 10 25zM435 1070l5-30 5 19zM435 1070l-5-22 10-8zM425 1074l5-26 5 22zM425 1074l-5-21 10-5zM415 1067l5-14 5 21zM415 1067l-5-32 10 18zM406 1063l4-28 5 32zM406 1063l-6-31 10 3zM396 1065l4-33 6 31zM396 1065l-5 7 9-40zM386 1068l10-3-5 7zM386 1068l5 4-10 4zM376 1035l10 33-5 8zM376 1035l5 41-10-30zM366 1062l5-16 5-11zM366 1062l5-16-10 47zM356 1102l10-40-5 31zM356 1102l-5-38 10 29zM346 1091l5-27 5 38zM346 1091l-5-57 10 30zM336 1064l5-30 5 57zM336 1064l-5-4 10-26zM327 1086l4-26 5 4zM327 1086l-6-14 10-12zM317 1092l4-20 6 14zM317 1092l-5-7 9-13zM307 1130l5-45 5 7zM307 1130l-5-53 10 8zM297 1127l5-50 5 53zM297 1127l-5-63 10 13zM287 1077l5-13 5 63zM287 1077l-5 1 10-14zM277 1079l5-1-10 20zM267 1159l5-61 5-19zM267 1159l-5-61 10 0zM257 1122l5-24 5 61zM257 1122l-5-24 10 0zM248 1076l9 46-5-24zM248 1076l4 22-10-10zM238 1111l4-23 6-12zM238 1111l-5 6 9-29zM228 1105l10 6-5 6zM228 1105l5 12-10-7zM218 1169l5-59 5-5zM218 1169l-5-38 10-21zM208 1159l5-28 5 38zM208 1159l-5-8 10-20zM198 1144l5 7 5 8zM198 1144l-5-26 10 33zM188 1116l5 2 5 26zM188 1116l5 2-10 2zM178 1138l5-18 5-4zM178 1138l-5 5 10-23zM169 1152l4-9 5-5zM169 1152l-5 3 9-12zM159 1190l5-35 5-3zM159 1190l-5-34 10-1zM149 1200l5-44 5 34zM149 1200l-5 0 10-44z"/>
<path fill="url(#b64)" d="M608 1021l5-40 5 4zM608 1021l-5-10 10-30zM598 979l10 42-5-10zM598 979l5 32-10-19zM588 987l10-8-5 13zM588 987l-5-24 10 29zM578 1031l5-68 5 24zM578 1031l-5-61 10-7zM569 1040l4-70 5 61zM569 1040l-6-18 10-52zM559 1025l4-3 6 18zM559 1025l-5-20 9 17zM549 1013l5-8 5 20zM549 1013l5-8-10 30zM539 1016l10-3-5 22zM539 1016l5 19-10-1zM529 1020l10-4-5 18zM529 1020l5 14-10 3zM519 1028l10-8-5 17zM519 1028l5 9-10-7zM509 1056l5-26 5-2zM509 1056l-5 4 10-30zM499 1074l5-14 5-4zM499 1074l-5-23 10 9zM490 1044l4 7 5 23zM490 1044l4 7-10-12zM480 1036l4 3 6 5zM480 1036l-5-17 9 20zM470 1033l5-14 5 17zM470 1033l-5-23 10 9zM460 1083l5-73 5 23zM460 1083l-5-11 10-62zM450 1072l5 0 5 11zM450 1072l-5-13 10 13zM440 1062l5-3 5 13zM440 1062l5-3-10 11zM430 1093l5-23 5-8zM430 1093l-5-19 10-4zM420 1107l5-33 5 19zM420 1107l-5-40 10 7zM411 1093l4-26 5 40zM411 1093l-5-30 9 4zM401 1094l5-31 5 30zM401 1094l-5-29 10-2zM391 1056l5 9 5 29zM391 1056l5 9-10 3zM381 1020l10 36-5 12zM381 1020l5 48-10-33zM371 1039l10-19-5 15zM371 1039l5-4-10 27zM361 1136l5-74 5-23zM361 1136l-5-34 10-40zM351 1103l5-1 5 34zM351 1103l-5-12 10 11zM342 1066l9 37-5-12zM342 1066l4 25-10-27zM332 1066l4-2 6 2zM332 1066l4-2-9 22zM322 1093l10-27-5 20zM322 1093l-5-1 10-6zM312 1100l5-8 5 1zM312 1100l5-8-10 38zM302 1097l10 3-5 30zM302 1097l5 33-10-3zM292 1109l10-12-5 30zM292 1109l-5-32 10 50zM282 1108l5-31 5 32zM282 1108l-5-29 10-2zM272 1120l5-41 5 29zM272 1120l-5 39 10-80zM263 1125l9-5-5 39zM263 1125l4 34-10-37zM253 1108l10 17-6-3zM253 1108l-5-32 9 46zM243 1133l5-57 5 32zM243 1133l-5-22 10-35zM233 1152l5-41 5 22zM233 1152l-5-47 10 6zM223 1150l5-45 5 47zM223 1150l-5 19 10-64zM213 1138l10 12-5 19zM213 1138l5 31-10-10zM203 1136l10 2-5 21zM203 1136l5 23-10-15zM193 1139l10-3-5 8zM193 1139l-5-23 10 28zM184 1154l4-38 5 23zM184 1154l-6-16 10-22zM174 1187l4-49 6 16zM174 1187l-5-35 9-14zM164 1179l5-27 5 35zM164 1179l-5 11 10-38zM154 1192l10-13-5 11zM154 1192l5-2-10 10z"/>
<path fill="url(#b63)" d="M613 994l10-22-5 13zM613 994l5-9-10 36zM603 967l10 27-5 27zM603 967l5 54-10-42zM593 983l10-16-5 12zM584 1021l4-34 5-4zM584 1021l-6 10 10-44zM574 1021l10 0-6 10zM574 1021l4 10-9 9zM564 997l10 24-5 19zM564 997l5 43-10-15zM554 1019l10-22-5 28zM544 1040l5-27 5 6zM544 1040l-5-24 10-3zM534 1022l5-6 5 24zM534 1022l-5-2 10-4zM524 1055l5-35 5 2zM524 1055l-5-27 10-8zM514 1044l5-16 5 27zM514 1044l-5 12 10-28zM505 1045l9-1-5 12zM505 1045l4 11-10 18zM495 1060l10-15-6 29zM495 1060l4 14-9-30zM485 1043l5 1 5 16zM485 1043l-5-7 10 8zM475 1059l5-23 5 7zM475 1059l-5-26 10 3zM465 1093l5-60 5 26zM465 1093l-5-10 10-50zM455 1058l10 35-5-10zM455 1058l5 25-10-11zM445 1050l10 8-5 14zM445 1050l5 22-10-10zM435 1041l10 9-5 12zM435 1041l5 21-10 31zM426 1087l9-46-5 52zM426 1087l4 6-10 14zM416 1085l10 2-6 20zM416 1085l4 22-9-14zM406 1052l10 33-5 8zM406 1052l5 41-10 1zM396 1069l10-17-5 42zM396 1069l5 25-10-38zM386 1081l5-25 5 13zM386 1081l-5-61 10 36zM376 1070l5-50 5 61zM376 1070l-5-31 10-19zM366 1134l5-95 5 31zM366 1134l-5 2 10-97zM356 1129l10 5-5 2zM356 1129l-5-26 10 33zM347 1092l4 11 5 26zM347 1092l-5-26 9 37zM337 1093l5-27 5 26zM337 1093l-5-27 10 0zM327 1077l5-11 5 27zM327 1077l5-11-10 27zM317 1089l10-12-5 16zM317 1089l5 4-10 7zM307 1109l10-20-5 11zM307 1109l-5-12 10 3zM297 1082l10 27-5-12zM297 1082l5 15-10 12zM287 1104l10-22-5 27zM287 1104l5 5-10-1zM278 1095l9 9-5 4zM278 1095l4 13-10 12zM268 1107l10-12-6 25zM268 1107l4 13-9 5zM258 1086l10 21-5 18zM258 1086l5 39-10-17zM248 1067l10 19-5 22zM248 1067l5 41-10 25zM238 1146l10-79-5 66zM238 1146l-5 6 10-19zM228 1107l10 39-5 6zM228 1107l5 45-10-2zM218 1106l10 1-5 43zM218 1106l5 44-10-12zM208 1119l10-13-5 32zM208 1119l5 19-10-2zM199 1135l9-16-5 17zM199 1135l4 1-10 3zM189 1160l4-21 6-4zM189 1160l-5-6 9-15zM179 1171l5-17 5 6zM179 1171l-5 16 10-33zM169 1165l10 6-5 16zM169 1165l5 22-10-8zM159 1204l5-25 5-14zM159 1204l-5-12 10-13z"/>
<path fill="url(#b62)" d="M618 989l5-17 5 5zM618 989l-5 5 10-22zM608 978l10 11-5 5zM608 978l5 16-10-27zM599 995l4-28 5 11zM599 995l-6-12 10-16zM589 1015l4-32 6 12zM589 1015l-5 6 9-38zM579 1005l10 10-5 6zM579 1005l5 16-10 0zM569 998l10 7-5 16zM569 998l5 23-10-24zM559 1031l5-34 5 1zM559 1031l-5-12 10-22zM549 1032l5-13 5 12zM549 1032l-5 8 10-21zM539 1032l10 0-5 8zM539 1032l-5-10 10 18zM529 1030l5-8 5 10zM529 1030l5-8-10 33zM520 1039l9-9-5 25zM520 1039l4 16-10-11zM510 1040l10-1-6 5zM510 1040l4 4-9 1zM500 1019l10 21-5 5zM500 1019l5 26-10 15zM490 1020l10-1-5 41zM490 1020l5 40-10-17zM480 1054l10-34-5 23zM480 1054l-5 5 10-16zM470 1080l5-21 5-5zM470 1080l-5 13 10-34zM460 1080l10 0-5 13zM460 1080l-5-22 10 35zM450 1053l5 5 5 22zM450 1053l5 5-10-8zM441 1062l4-12 5 3zM441 1062l-6-21 10 9zM431 1076l4-35 6 21zM431 1076l-5 11 9-46zM421 1086l10-10-5 11zM411 1102l5-17 5 1zM411 1102l-5-50 10 33zM401 1077l5-25 5 50zM401 1077l-5-8 10-17zM391 1073l5-4 5 8zM391 1073l5-4-10 12zM381 1066l10 7-5 8zM381 1066l5 15-10-11zM371 1069l10-3-5 4zM371 1069l5 1-10 64zM362 1072l9-3-5 65zM362 1072l4 62-10-5zM352 1106l10-34-6 57zM352 1106l4 23-9-37zM342 1103l5-11 5 14zM342 1103l-5-10 10-1zM332 1073l10 30-5-10zM332 1073l5 20-10-16zM322 1106l5-29 5-4zM322 1106l-5-17 10-12zM312 1118l5-29 5 17zM312 1118l-5-9 10-20zM302 1099l10 19-5-9zM302 1099l-5-17 10 27zM292 1159l5-77 5 17zM292 1159l-5-55 10-22zM283 1103l4 1 5 55zM283 1103l-5-8 9 9zM273 1082l10 21-5-8zM273 1082l5 13-10 12zM263 1081l10 1-5 25zM263 1081l5 26-10-21zM253 1087l10-6-5 5zM253 1087l-5-20 10 19zM243 1106l5-39 5 20zM243 1106l5-39-10 79zM233 1102l10 4-5 40zM233 1102l5 44-10-39zM223 1075l10 27-5 5zM223 1075l5 32-10-1zM214 1102l9-27-5 31zM214 1102l4 4-10 13zM204 1114l10-12-6 17zM204 1114l4 5-9 16zM194 1132l10-18-5 21zM194 1132l5 3-10 25zM184 1165l10-33-5 28zM184 1165l5-5-10 11zM174 1171l10-6-5 6zM174 1171l-5-6 10 6zM164 1218l5-53 5 6zM164 1218l-5-14 10-39z"/>
<path fill="url(#b61)" d="M623 1043l5-66 5-5zM623 1043l-5-54 10-12zM613 994l5-5 5 54zM613 994l-5-16 10 11zM604 994l4-16 5 16zM604 994l-5 1 9-17zM594 1030l5-35 5-1zM594 1030l-5-15 10-20zM584 1035l5-20 5 15zM584 1035l-5-30 10 10zM574 1027l5-22 5 30zM574 1027l-5-29 10 7zM564 977l5 21 5 29zM564 977l5 21-10 33zM554 1045l10-68-5 54zM554 1045l-5-13 10-1zM544 1033l5-1 5 13zM544 1033l-5-1 10 0zM535 1015l9 18-5-1zM535 1015l4 17-10-2zM525 1011l10 4-6 15zM525 1011l4 19-9 9zM515 1016l10-5-5 28zM515 1016l5 23-10 1zM505 1046l10-30-5 24zM505 1046l-5-27 10 21zM495 1049l5-30 5 27zM495 1049l-5-29 10-1zM485 1048l5-28 5 29zM485 1048l-5 6 10-34zM475 1049l10-1-5 6zM475 1049l5 5-10 26zM465 1054l10-5-5 31zM465 1054l5 26-10 0zM456 1048l9 6-5 26zM456 1048l4 32-10-27zM446 1056l10-8-6 5zM446 1056l4-3-9 9zM436 1090l5-28 5-6zM436 1090l-5-14 10-14zM426 1076l5 0 5 14zM426 1076l5 0-10 10zM416 1079l10-3-5 10zM416 1079l5 7-10 16zM406 1086l10-7-5 23zM406 1086l5 16-10-25zM396 1095l5-18 5 9zM396 1095l-5-22 10 4zM386 1081l5-8 5 22zM386 1081l-5-15 10 7zM377 1086l4-20 5 15zM377 1086l-6-17 10-3zM367 1063l4 6 6 17zM367 1063l4 6-9 3zM357 1047l10 16-5 9zM357 1047l5 25-10 34zM347 1088l10-41-5 59zM347 1088l5 18-10-3zM337 1109l10-21-5 15zM337 1109l-5-36 10 30zM327 1124l5-51 5 36zM327 1124l-5-18 10-33zM317 1094l5 12 5 18zM317 1094l5 12-10 12zM307 1112l10-18-5 24zM307 1112l-5-13 10 19zM298 1114l4-15 5 13zM298 1114l4-15-10 60zM288 1108l10 6-6 45zM288 1108l4 51-9-56zM278 1085l10 23-5-5zM278 1085l5 18-10-21zM268 1115l5-33 5 3zM268 1115l-5-34 10 1zM258 1142l5-61 5 34zM258 1142l-5-55 10-6zM248 1141l5-54 5 55zM248 1141l-5-35 10-19zM238 1127l5-21 5 35zM238 1127l-5-25 10 4zM228 1111l5-9 5 25zM228 1111l-5-36 10 27zM219 1142l4-67 5 36zM219 1142l-5-40 9-27zM209 1112l5-10 5 40zM209 1112l-5 2 10-12zM199 1128l5-14 5-2zM199 1128l-5 4 10-18zM189 1189l5-57 5-4zM189 1189l-5-24 10-33zM179 1163l5 2 5 24zM179 1163l5 2-10 6zM169 1216l5-45 5-8zM169 1216l-5 2 10-47z"/>
<path fill="url(#b60)" d="M628 1009l5-37 5 6zM628 1009l-5 34 10-71zM619 988l9 21-5 34zM619 988l4 55-10-49zM609 998l-5-4 9 0zM599 1025l5-31 5 4zM599 1025l-5 5 10-36zM589 1047l5-17 5-5zM589 1047l-5-12 10-5zM579 1044l5-9 5 12zM579 1044l-5-17 10 8zM569 1002l10 42-5-17zM559 1058l5-81 5 25zM559 1058l-5-13 10-68zM549 1055l5-10 5 13zM549 1055l-5-22 10 12zM540 1051l4-18 5 22zM540 1051l-5-36 9 18zM530 1025l5-10 5 36zM530 1025l-5-14 10 4zM520 1030l5-19 5 14zM520 1030l-5-14 10-5zM510 1073l5-57 5 14zM510 1073l-5-27 10-30zM500 1072l5-26 5 27zM500 1072l-5-23 10-3zM490 1079l5-30 5 23zM490 1079l-5-31 10 1zM480 1046l5 2 5 31zM480 1046l5 2-10 1zM471 1057l4-8 5-3zM471 1057l-6-3 10-5zM461 1037l10 20-6-3zM461 1037l4 17-9-6zM451 1047l10-10-5 11zM451 1047l5 1-10 8zM441 1047l10 0-5 9zM441 1047l5 9-10 34zM431 1073l10-26-5 43zM431 1073l5 17-10-14zM421 1089l5-13 5-3zM421 1089l-5-10 10-3zM411 1082l5-3 5 10zM411 1082l5-3-10 7zM401 1085l10-3-5 4zM401 1085l5 1-10 9zM392 1099l9-14-5 10zM392 1099l-6-18 10 14zM382 1082l4-1 6 18zM382 1082l4-1-9 5zM372 1103l5-17 5-4zM372 1103l-5-40 10 23zM362 1073l5-10 5 40zM362 1073l-5-26 10 16zM352 1099l5-52 5 26zM352 1099l-5-11 10-41zM342 1129l5-41 5 11zM342 1129l-5-20 10-21zM332 1089l5 20-10 15zM322 1083l10 6-5 35zM322 1083l5 41-10-30zM313 1092l9-9-5 11zM313 1092l4 2-10 18zM303 1106l10-14-6 20zM303 1106l4 6-9 2zM293 1106l10 0-5 8zM293 1106l5 8-10-6zM283 1088l10 18-5 2zM283 1088l5 20-10-23zM273 1099l5-14 5 3zM273 1099l5-14-10 30zM263 1128l10-29-5 16zM263 1128l5-13-10 27zM253 1162l5-20 5-14zM253 1162l-5-21 10 1zM243 1153l5-12 5 21zM243 1153l-5-26 10 14zM234 1127l4 0 5 26zM234 1127l-6-16 10 16zM224 1155l4-44 6 16zM224 1155l-5-13 9-31zM214 1178l5-36 5 13zM214 1178l-5-66 10 30zM204 1165l5-53 5 66zM204 1165l-5-37 10-16zM194 1189l5-61 5 37zM194 1189l-5 0 10-61zM184 1180l10 9-5 0zM184 1180l-5-17 10 26zM174 1203l5-40 5 17zM174 1203l-5 13 10-53z"/>
<path fill="url(#b59)" d="M634 1003l4-25 5 4zM634 1003l-6 6 10-31zM624 1008l10-5-6 6zM624 1008l-5-20 9 21zM614 996l5-8 5 20zM614 996l-5 2 10-10zM604 1010l5-12 5-2zM604 1010l5-12-10 27zM594 1051l5-26 5-15zM594 1051l-5-4 10-22zM584 1073l5-26 5 4zM584 1073l-5-29 10 3zM574 1053l5-9 5 29zM574 1053l-5-51 10 42zM564 1055l5-53 5 51zM564 1055l-5 3 10-56zM555 1063l4-5 5-3zM555 1063l-6-8 10 3zM545 1057l4-2 6 8zM545 1057l-5-6 9 4zM535 1025l10 32-5-6zM535 1025l5 26-10-26zM525 1041l5-16 5 0zM525 1041l-5-11 10-5zM515 1073l5-43 5 11zM515 1073l-5 0 10-43zM505 1076l5-3 5 0zM505 1076l-5-4 10 1zM495 1106l5-34 5 4zM495 1106l-5-27 10-7zM485 1056l5 23 5 27zM485 1056l5 23-10-33zM476 1069l4-23 5 10zM476 1069l-5-12 9-11zM466 1046l5 11 5 12zM466 1046l5 11-10-20zM456 1076l5-39 5 9zM456 1076l-5-29 10-10zM446 1079l5-32 5 29zM446 1079l-5-32 10 0zM436 1088l5-41 5 32zM436 1088l-5-15 10-26zM426 1110l5-37 5 15zM426 1110l-5-21 10-16zM416 1075l5 14 5 21zM416 1075l5 14-10-7zM407 1091l4-9 5-7zM407 1091l-6-6 10-3zM397 1095l4-10 6 6zM397 1095l-5 4 9-14zM387 1085l10 10-5 4zM387 1085l5 14-10-17zM377 1114l5-32 5 3zM377 1114l-5-11 10-21zM367 1088l10 26-5-11zM357 1095l5-22 5 15zM357 1095l-5 4 10-26zM347 1124l5-25 5-4zM347 1124l-5 5 10-30zM337 1125l10-1-5 5zM337 1125l-5-36 10 40zM328 1114l4-25 5 36zM328 1114l-6-31 10 6zM318 1148l4-65 6 31zM318 1148l-5-56 9-9zM308 1127l5-35 5 56zM308 1127l-5-21 10-14zM298 1097l5 9 5 21zM298 1097l5 9-10 0zM288 1098l10-1-5 9zM288 1098l-5-10 10 18zM278 1121l5-33 5 10zM278 1121l-5-22 10-11zM268 1149l5-50 5 22zM268 1149l-5-21 10-29zM258 1150l5-22 5 21zM258 1150l-5 12 10-34zM249 1164l9-14-5 12zM249 1164l-6-11 10 9zM239 1138l10 26-6-11zM239 1138l4 15-9-26zM229 1148l5-21 5 11zM229 1148l-5 7 10-28zM219 1173l5-18 5-7zM219 1173l-5 5 10-23zM209 1180l10-7-5 5zM209 1180l-5-15 10 13zM199 1199l5-34 5 15zM199 1199l-5-10 10-24zM189 1190l5-1 5 10zM189 1190l-5-10 10 9zM179 1205l5-25 5 10zM179 1205l-5-2 10-23z"/>
<path fill="url(#b58)" d="M639 1024l4-42 6 4zM639 1024l-5-21 9-21zM629 1043l5-40 5 21zM629 1043l-5-35 10-5zM619 1041l5-33 5 35zM619 1041l-5-45 10 12zM609 1036l5-40 5 45zM609 1036l-5-26 10-14zM599 1027l5-17 5 26zM599 1027l5-17-10 41zM589 1056l10-29-5 24zM589 1056l5-5-10 22zM579 1051l10 5-5 17zM579 1051l5 22-10-20zM570 1045l9 6-5 2zM570 1045l4 8-10 2zM560 1042l10 3-6 10zM560 1042l4 13-9 8zM550 1045l10-3-5 21zM550 1045l5 18-10-6zM540 1070l5-13 5-12zM540 1070l-5-45 10 32zM530 1058l5-33 5 45zM530 1058l-5-17 10-16zM520 1038l5 3 5 17zM520 1038l5 3-10 32zM510 1051l10-13-5 35zM510 1051l5 22-10 3zM500 1043l10 8-5 25zM500 1043l5 33-10 30zM491 1042l9 1-5 63zM491 1042l4 64-10-50zM481 1054l10-12-6 14zM481 1054l4 2-9 13zM471 1070l10-16-5 15zM471 1070l-5-24 10 23zM461 1048l5-2 5 24zM461 1048l5-2-10 30zM451 1079l10-31-5 28zM451 1079l-5 0 10-3zM441 1111l5-32 5 0zM441 1111l-5-23 10-9zM431 1104l5-16 5 23zM431 1104l-5 6 10-22zM421 1088l10 16-5 6zM421 1088l5 22-10-35zM412 1107l4-32 5 13zM412 1107l-5-16 9-16zM402 1090l5 1 5 16zM402 1090l5 1-10 4zM392 1106l5-11 5-5zM392 1106l-5-21 10 10zM382 1129l5-44 5 21zM382 1129l-5-15 10-29zM372 1093l10 36-5-15zM372 1093l5 21-10-26zM362 1116l5-28 5 5zM362 1116l-5-21 10-7zM352 1129l5-34 5 21zM352 1129l-5-5 10-29zM343 1155l4-31 5 5zM343 1155l-6-30 10-1zM333 1166l4-41 6 30zM333 1166l-5-52 9 11zM323 1143l5-29 5 52zM323 1143l-5 5 10-34zM313 1139l10 4-5 5zM313 1139l-5-12 10 21zM303 1114l10 25-5-12zM303 1114l-5-17 10 30zM293 1104l5-7 5 17zM293 1104l-5-6 10-1zM283 1133l5-35 5 6zM283 1133l-5-12 10-23zM273 1137l5-16 5 12zM273 1137l-5 12 10-28zM264 1128l9 9-5 12zM264 1128l4 21-10 1zM254 1161l10-33-6 22zM254 1161l-5 3 9-14zM244 1168l5-4 5-3zM244 1168l-5-30 10 26zM234 1166l5-28 5 30zM234 1166l-5-18 10-10zM224 1173l5-25 5 18zM224 1173l-5 0 10-25zM214 1200l5-27 5 0zM214 1200l-5-20 10-7zM204 1181l5-1 5 20zM204 1181l5-1-10 19zM194 1181l10 0-5 18zM194 1181l5 18-10-9zM185 1210l4-20 5-9zM185 1210l-6-5 10-15z"/>
<path fill="url(#b57)" d="M644 1089l5-103 5 4zM644 1089l-5-65 10-38zM634 1076l5-52 5 65zM634 1076l-5-33 10-19zM624 1062l5-19 5 33zM624 1062l-5-21 10 2zM614 1058l5-17 5 21zM614 1058l-5-22 10 5zM604 1030l5 6 5 22zM604 1030l5 6-10-9zM594 1013l10 17-5-3zM594 1013l5 14-10 29zM585 1006l9 7-5 43zM585 1006l4 50-10-5zM575 1009l10-3-6 45zM575 1009l4 42-9-6zM565 1036l10-27-5 36zM565 1036l5 9-10-3zM555 1070l5-28 5-6zM555 1070l-5-25 10-3zM545 1083l5-38 5 25zM545 1083l-5-13 10-25zM535 1082l5-12 5 13zM535 1082l-5-24 10 12zM525 1073l5-15 5 24zM525 1073l-5-35 10 20zM515 1026l5 12 5 35zM515 1026l5 12-10 13zM506 1048l9-22-5 25zM506 1048l-6-5 10 8zM496 1055l4-12 6 5zM496 1055l-5-13 9 1zM486 1049l5-7 5 13zM486 1049l-5 5 10-12zM476 1055l10-6-5 5zM476 1055l5-1-10 16zM466 1083l10-28-5 15zM466 1083l-5-35 10 22zM456 1097l5-49 5 35zM456 1097l-5-18 10-31zM446 1110l5-31 5 18zM446 1110l-5 1 10-32zM436 1090l10 20-5 1zM436 1090l5 21-10-7zM427 1078l9 12-5 14zM427 1078l4 26-10-16zM417 1074l10 4-6 10zM417 1074l4 14-9 19zM407 1098l10-24-5 33zM407 1098l5 9-10-17zM397 1102l5-12 5 8zM397 1102l-5 4 10-16zM387 1121l5-15 5-4zM387 1121l-5 8 10-23zM377 1089l10 32-5 8zM377 1089l5 40-10-36zM367 1114l5-21 5-4zM367 1114l-5 2 10-23zM357 1098l10 16-5 2zM357 1098l5 18-10 13zM348 1144l9-46-5 31zM348 1144l-5 11 9-26zM338 1133l10 11-5 11zM338 1133l5 22-10 11zM328 1139l10-6-5 33zM328 1139l5 27-10-23zM318 1136l10 3-5 4zM318 1136l5 7-10-4zM308 1123l10 13-5 3zM308 1123l5 16-10-25zM298 1135l5-21 5 9zM298 1135l-5-31 10 10zM288 1124l5-20 5 31zM288 1124l-5 9 10-29zM279 1114l9 10-5 9zM279 1114l4 19-10 4zM269 1157l4-20 6-23zM269 1157l-5-29 9 9zM259 1192l5-64 5 29zM259 1192l-5-31 10-33zM249 1157l5 4 5 31zM249 1157l5 4-10 7zM239 1155l10 2-5 11zM239 1155l5 13-10-2zM229 1158l10-3-5 11zM229 1158l5 8-10 7zM219 1168l10-10-5 15zM219 1168l5 5-10 27zM209 1181l10-13-5 32zM209 1181l5 19-10-19zM200 1158l9 23-5 0zM200 1158l4 23-10 0zM190 1204l4-23 6-23zM190 1204l-5 6 9-29z"/>
<path fill="url(#b56)" d="M649 1043l5-53 5 3zM649 1043l-5 46 10-99zM639 1080l10-37-5 46zM639 1080l5 9-10-13zM629 1008l10 72-5-4zM629 1008l5 68-10-14zM619 1027l10-19-5 54zM619 1027l5 35-10-4zM609 1044l10-17-5 31zM600 1018l9 26-5-14zM600 1018l4 12-10-17zM590 1012l4 1 6 5zM590 1012l-5-6 9 7zM580 996l10 16-5-6zM580 996l5 10-10 3zM570 1021l10-25-5 13zM570 1021l5-12-10 27zM560 1037l10-16-5 15zM560 1037l5-1-10 34zM550 1083l10-46-5 33zM550 1083l-5 0 10-13zM540 1093l5-10 5 0zM540 1093l-5-11 10 1zM530 1063l10 30-5-11zM530 1063l5 19-10-9zM521 1064l9-1-5 10zM521 1064l-6-38 10 47zM511 1030l4-4 6 38zM511 1030l4-4-9 22zM501 1043l10-13-5 18zM501 1043l5 5-10 7zM491 1088l5-33 5-12zM491 1088l-5-39 10 6zM481 1113l5-64 5 39zM481 1113l-5-58 10-6zM471 1120l5-65 5 58zM471 1120l-5-37 10-28zM461 1098l5-15 5 37zM461 1098l-5-1 10-14zM451 1064l10 34-5-1zM451 1064l5 33-10 13zM442 1061l9 3-5 46zM442 1061l4 49-10-20zM432 1064l10-3-6 29zM432 1064l4 26-9-12zM422 1089l10-25-5 14zM422 1089l-5-15 10 4zM412 1056l10 33-5-15zM412 1056l5 18-10 24zM402 1097l10-41-5 42zM402 1097l5 1-10 4zM392 1091l10 6-5 5zM392 1091l5 11-10 19zM382 1100l10-9-5 30zM382 1100l5 21-10-32zM372 1107l5-18 5 11zM372 1107l-5 7 10-25zM363 1087l9 20-5 7zM363 1087l4 27-10-16zM353 1106l4-8 6-11zM353 1106l4-8-9 46zM343 1125l10-19-5 38zM343 1125l5 19-10-11zM333 1123l10 2-5 8zM333 1123l5 10-10 6zM323 1133l10-10-5 16zM323 1133l5 6-10-3zM313 1129l10 4-5 3zM313 1129l5 7-10-13zM303 1152l5-29 5 6zM303 1152l-5-17 10-12zM293 1135l5 0 5 17zM293 1135l-5-11 10 11zM284 1140l4-16 5 11zM284 1140l-5-26 9 10zM274 1143l5-29 5 26zM274 1143l-5 14 10-43zM264 1197l5-40 5-14zM264 1197l-5-5 10-35zM254 1158l10 39-5-5zM254 1158l5 34-10-35zM244 1139l10 19-5-1zM244 1139l5 18-10-2zM234 1158l10-19-5 16zM234 1158l-5 0 10-3zM224 1162l5-4 5 0zM224 1162l5-4-10 10zM215 1169l9-7-5 6zM215 1169l4-1-10 13zM205 1177l10-8-6 12zM205 1177l-5-19 9 23zM195 1210l5-52 5 19zM195 1210l-5-6 10-46z"/>
<path fill="url(#b55)" d="M654 1011l5-18 5 2zM654 1011l5-18-10 50zM644 1034l10-23-5 32zM644 1034l5 9-10 37zM634 1025l10 9-5 46zM634 1025l5 55-10-72zM624 1039l5-31 5 17zM624 1039l-5-12 10-19zM614 1044l5-17 5 12zM614 1044l-5 0 10-17zM605 1038l9 6-5 0zM605 1038l-5-20 9 26zM595 1058l5-40 5 20zM595 1058l-5-46 10 6zM585 1048l5-36 5 46zM585 1048l-5-52 10 16zM575 1100l5-104 5 52zM575 1100l-5-79 10-25zM565 1061l5-40 5 79zM565 1061l-5-24 10-16zM555 1084l5-47 5 24zM555 1084l-5-1 10-46zM545 1048l10 36-5-1zM545 1048l5 35-10 10zM536 1061l9-13-5 45zM536 1061l4 32-10-30zM526 1059l10 2-6 2zM526 1059l4 4-9 1zM516 1051l10 8-5 5zM516 1051l-5-21 10 34zM506 1014l5 16 5 21zM506 1014l5 16-10 13zM496 1054l10-40-5 29zM496 1054l5-11-10 45zM486 1108l10-54-5 34zM486 1108l-5 5 10-25zM476 1100l10 8-5 5zM476 1100l5 13-10 7zM466 1048l10 52-5 20zM466 1048l5 72-10-22zM457 1039l9 9-5 50zM457 1039l4 59-10-34zM447 1038l10 1-6 25zM447 1038l4 26-9-3zM437 1093l5-32 5-23zM437 1093l-5-29 10-3zM427 1115l5-51 5 29zM427 1115l-5-26 10-25zM417 1079l5 10 5 26zM417 1079l-5-23 10 33zM407 1072l5-16 5 23zM407 1072l5-16-10 41zM397 1093l10-21-5 25zM397 1093l5 4-10-6zM387 1121l5-30 5 2zM387 1121l-5-21 10-9zM378 1137l4-37 5 21zM378 1137l-6-30 10-7zM368 1135l4-28 6 30zM368 1135l-5-48 9 20zM358 1128l5-41 5 48zM358 1128l-5-22 10-19zM348 1132l5-26 5 22zM348 1132l-5-7 10-19zM338 1171l5-46 5 7zM338 1171l-5-48 10 2zM328 1139l5-16 5 48zM328 1139l-5-6 10-10zM318 1123l10 16-5-6zM318 1123l5 10-10-4zM308 1163l5-34 5-6zM308 1163l-5-11 10-23zM299 1164l4-12 5 11zM299 1164l-6-29 10 17zM289 1174l4-39 6 29zM289 1174l-5-34 9-5zM279 1148l5-8 5 34zM279 1148l-5-5 10-3zM269 1123l10 25-5-5zM269 1123l5 20-10 54zM259 1145l10-22-5 74zM259 1145l5 52-10-39zM249 1130l10 15-5 13zM249 1130l5 28-10-19zM239 1163l5-24 5-9zM239 1163l-5-5 10-19zM229 1182l5-24 5 5zM229 1182l-5-20 10-4zM220 1188l4-26 5 20zM220 1188l-5-19 9-7zM210 1147l10 41-5-19zM210 1147l5 22-10 8zM200 1234l5-57 5-30zM200 1234l-5-24 10-33z"/>
<path fill="url(#b54)" d="M659 1000l5-5 5 3zM659 1000l5-5-10 16zM649 1025l5-14 5-11zM649 1025l-5 9 10-23zM639 1027l10-2-5 9zM639 1027l5 7-10-9zM629 1044l5-19 5 2zM629 1044l-5-5 10-14zM620 1017l9 27-5-5zM620 1017l4 22-10 5zM610 1030l10-13-6 27zM610 1030l4 14-9-6zM600 1045l10-15-5 8zM600 1045l5-7-10 20zM590 1086l5-28 5-13zM590 1086l-5-38 10 10zM580 1082l5-34 5 38zM580 1082l-5 18 10-52zM570 1068l10 14-5 18zM570 1068l5 32-10-39zM560 1058l5 3 5 7zM560 1058l5 3-10 23zM550 1044l10 14-5 26zM550 1044l5 40-10-36zM541 1040l9 4-5 4zM541 1040l4 8-9 13zM531 1077l10-37-5 21zM531 1077l-5-18 10 2zM521 1049l5 10 5 18zM521 1049l5 10-10-8zM511 1065l5-14 5-2zM511 1065l-5-51 10 37zM501 1035l5-21 5 51zM501 1035l-5 19 10-40zM491 1043l10-8-5 19zM491 1043l5 11-10 54zM481 1056l10-13-5 65zM481 1056l5 52-10-8zM472 1055l9 1-5 44zM472 1055l4 45-10-52zM462 1082l4-34 6 7zM462 1082l-5-43 9 9zM452 1096l5-57 5 43zM452 1096l-5-58 10 1zM442 1099l5-61 5 58zM442 1099l-5-6 10-55zM432 1119l5-26 5 6zM432 1119l-5-4 10-22zM422 1113l5 2 5 4zM422 1113l-5-34 10 36zM412 1100l5-21 5 34zM412 1100l-5-28 10 7zM402 1119l5-47 5 28zM402 1119l-5-26 10-21zM393 1117l4-24 5 26zM393 1117l-6 4 10-28zM383 1137l4-16 6-4zM383 1137l-5 0 9-16zM373 1112l10 25-5 0zM373 1112l5 25-10-2zM363 1127l10-15-5 23zM363 1127l5 8-10-7zM353 1101l10 26-5 1zM353 1101l5 27-10 4zM343 1132l10-31-5 31zM343 1132l5 0-10 39zM333 1120l10 12-5 39zM333 1120l5 51-10-32zM323 1167l5-28 5-19zM323 1167l-5-44 10 16zM314 1143l4-20 5 44zM314 1143l-6 20 10-40zM304 1161l10-18-6 20zM304 1161l4 2-9 1zM294 1166l10-5-5 3zM294 1166l5-2-10 10zM284 1202l5-28 5-8zM284 1202l-5-54 10 26zM274 1149l5-1 5 54zM274 1149l-5-26 10 25zM264 1157l5-34 5 26zM264 1157l-5-12 10-22zM254 1180l5-35 5 12zM254 1180l-5-50 10 15zM244 1173l5-43 5 50zM244 1173l-5-10 10-33zM235 1188l4-25 5 10zM235 1188l-6-6 10-19zM225 1227l4-45 6 6zM225 1227l-5-39 9-6zM215 1177l5 11 5 39zM215 1177l-5-30 10 41zM205 1247l5-100 5 30zM205 1247l-5-13 10-87z"/>
<path fill="url(#b53)" d="M664 991l10 9-5-2zM664 991l5 7-10 2zM654 1041l5-41 5-9zM654 1041l-5-16 10-25zM644 1048l5-23 5 16zM644 1048l-5-21 10-2zM635 1024l4 3 5 21zM635 1024l4 3-10 17zM625 1026l10-2-6 20zM625 1026l4 18-9-27zM615 1026l5-9 5 9zM615 1026l-5 4 10-13zM605 1057l5-27 5-4zM605 1057l-5-12 10-15zM595 1111l5-66 5 12zM595 1111l-5-25 10-41zM585 1132l5-46 5 25zM585 1132l-5-50 10 4zM575 1086l5-4 5 50zM575 1086l-5-18 10 14zM565 1060l5 8 5 18zM565 1060l5 8-10-10zM556 1056l9 4-5-2zM556 1056l-6-12 10 14zM546 1090l4-46 6 12zM546 1090l-5-50 9 4zM536 1097l5-57 5 50zM536 1097l-5-20 10-37zM526 1075l5 2 5 20zM526 1075l-5-26 10 28zM516 1066l5-17 5 26zM516 1066l-5-1 10-16zM506 1081l5-16 5 1zM506 1081l-5-46 10 30zM496 1042l5-7 5 46zM496 1042l-5 1 10-8zM486 1091l5-48 5-1zM486 1091l-5-35 10-13zM477 1127l4-71 5 35zM477 1127l-5-72 9 1zM467 1109l5-54 5 72zM467 1109l-5-27 10-27zM457 1084l5-2 5 27zM457 1084l5-2-10 14zM447 1107l10-23-5 12zM447 1107l-5-8 10-3zM437 1114l5-15 5 8zM437 1114l-5 5 10-20zM427 1117l10-3-5 5zM427 1117l-5-4 10 6zM417 1114l5-1 5 4zM417 1114l-5-14 10 13zM408 1131l4-31 5 14zM408 1131l-6-12 10-19zM398 1123l4-4 6 12zM398 1123l-5-6 9 2zM388 1133l5-16 5 6zM388 1133l-5 4 10-20zM378 1083l10 50-5 4zM378 1083l5 54-10-25zM368 1095l10-12-5 29zM368 1095l5 17-10 15zM358 1089l10 6-5 32zM358 1089l5 38-10-26zM348 1114l5-13 5-12zM348 1114l5-13-10 31zM338 1157l5-25 5-18zM338 1157l-5-37 10 12zM329 1127l4-7 5 37zM329 1127l4-7-10 47zM319 1135l10-8-6 40zM319 1135l4 32-9-24zM309 1120l10 15-5 8zM309 1120l5 23-10 18zM299 1159l10-39-5 41zM299 1159l5 2-10 5zM289 1188l5-22 5-7zM289 1188l-5 14 10-36zM279 1172l10 16-5 14zM279 1172l5 30-10-53zM269 1162l5-13 5 23zM269 1162l-5-5 10-8zM259 1152l5 5-10 23zM250 1170l9-18-5 28zM250 1170l4 10-10-7zM240 1167l10 3-6 3zM240 1167l4 6-9 15zM230 1179l10-12-5 21zM230 1179l5 9-10 39zM220 1209l10-30-5 48zM220 1209l-5-32 10 50zM210 1234l5-57 5 32zM210 1234l-5 13 10-70z"/>
<path fill="url(#b52)" d="M669 1016l5-16 5 3zM669 1016l-5-25 10 9zM659 1019l5-28 5 25zM659 1019l-5 22 10-50zM650 1015l9 4-5 22zM650 1015l4 26-10 7zM640 1040l10-25-6 33zM640 1040l-5-16 9 24zM630 1041l5-17 5 16zM630 1041l-5-15 10-2zM620 1051l5-25 5 15zM620 1051l-5-25 10 0zM610 1093l5-67 5 25zM610 1093l-5-36 10-31zM600 1077l5-20 5 36zM600 1077l5-20-10 54zM590 1071l10 6-5 34zM590 1071l5 40-10 21zM580 1093l10-22-5 61zM580 1093l5 39-10-46zM571 1075l9 18-5-7zM571 1075l4 11-10-26zM561 1077l4-17 6 15zM561 1077l-5-21 9 4zM551 1096l5-40 5 21zM551 1096l-5-6 10-34zM541 1121l5-31 5 6zM541 1121l-5-24 10-7zM531 1072l10 49-5-24zM531 1072l5 25-10-22zM521 1045l10 27-5 3zM521 1045l5 30-10-9zM511 1069l10-24-5 21zM511 1069l5-3-10 15zM501 1092l10-23-5 12zM501 1092l-5-50 10 39zM492 1056l4-14 5 50zM492 1056l4-14-10 49zM482 1116l4-25 6-35zM482 1116l-5 11 9-36zM472 1053l10 63-5 11zM472 1053l5 74-10-18zM462 1106l10-53-5 56zM462 1106l-5-22 10 25zM452 1138l5-54 5 22zM452 1138l-5-31 10-23zM442 1113l5-6 5 31zM442 1113l-5 1 10-7zM432 1066l10 47-5 1zM432 1066l5 48-10 3zM422 1091l10-25-5 51zM422 1091l5 26-10-3zM413 1124l9-33-5 23zM413 1124l-5 7 9-17zM403 1123l10 1-5 7zM403 1123l5 8-10-8zM393 1104l10 19-5 0zM393 1104l5 19-10 10zM383 1084l10 20-5 29zM383 1084l5 49-10-50zM373 1128l5-45 5 1zM373 1128l-5-33 10-12zM363 1097l5-2 5 33zM363 1097l-5-8 10 6zM353 1157l5-68 5 8zM353 1157l-5-43 10-25zM344 1160l4-46 5 43zM344 1160l-6-3 10-43zM334 1137l10 23-6-3zM334 1137l4 20-9-30zM324 1120l5 7 5 10zM324 1120l5 7-10 8zM314 1126l10-6-5 15zM314 1126l5 9-10-15zM304 1112l10 14-5-6zM304 1112l5 8-10 39zM294 1112l10 0-5 47zM294 1112l5 47-10 29zM284 1168l10-56-5 76zM284 1168l5 20-10-16zM274 1162l10 6-5 4zM274 1162l5 10-10-10zM265 1123l9 39-5 0zM265 1123l4 39-10-10zM255 1183l4-31 6-29zM255 1183l-5-13 9-18zM245 1181l5-11 5 13zM245 1181l-5-14 10 3zM235 1182l5-15 5 14zM235 1182l-5-3 10-12zM225 1177l5 2 5 3zM225 1177l5 2-10 30zM215 1234l10-57-5 32zM215 1234l-5 0 10-25z"/>
<path fill="url(#b51)" d="M674 1051l5-48 5 2zM674 1051l-5-35 10-13zM664 1021l5-5 5 35zM664 1021l-5-2 10-3zM655 1044l4-25 5 2zM655 1044l-5-29 9 4zM645 1048l5-33 5 29zM645 1048l-5-8 10-25zM635 1074l5-34 5 8zM635 1074l-5-33 10-1zM625 1087l5-46 5 33zM625 1087l-5-36 10-10zM615 1064l5-13 5 36zM615 1064l5-13-10 42zM605 1045l10 19-5 29zM605 1045l5 48-10-16zM595 1053l10-8-5 32zM595 1053l5 24-10-6zM586 1080l9-27-5 18zM586 1080l-6 13 10-22zM576 1075l10 5-6 13zM576 1075l4 18-9-18zM566 1083l5-8 5 0zM566 1083l-5-6 10-2zM556 1112l5-35 5 6zM556 1112l-5-16 10-19zM546 1116l5-20 5 16zM546 1116l-5 5 10-25zM536 1087l10 29-5 5zM536 1087l5 34-10-49zM526 1087l5-15 5 15zM526 1087l-5-42 10 27zM516 1125l5-80 5 42zM516 1125l-5-56 10-24zM507 1100l4-31 5 56zM507 1100l-6-8 10-23zM497 1078l10 22-6-8zM497 1078l-5-22 9 36zM487 1093l5-37 5 22zM487 1093l-5 23 10-60zM477 1092l10 1-5 23zM477 1092l-5-39 10 63zM467 1107l5-54 5 39zM467 1107l-5-1 10-53zM457 1117l5-11 5 1zM457 1117l5-11-10 32zM447 1107l10 10-5 21zM447 1107l5 31-10-25zM437 1103l10 4-5 6zM437 1103l-5-37 10 47zM428 1112l4-46 5 37zM428 1112l-6-21 10-25zM418 1142l4-51 6 21zM418 1142l-5-18 9-33zM408 1143l5-19 5 18zM408 1143l-5-20 10 1zM398 1109l5 14 5 20zM398 1109l5 14-10-19zM388 1097l10 12-5-5zM388 1097l-5-13 10 20zM378 1133l5-49 5 13zM378 1133l-5-5 10-44zM368 1129l5-1 5 5zM368 1129l-5-32 10 31zM358 1151l5-54 5 32zM358 1151l-5 6 10-60zM349 1167l4-10 5-6zM349 1167l-5-7 9-3zM339 1156l5 4 5 7zM339 1156l-5-19 10 23zM329 1154l5-17 5 19zM329 1154l-5-34 10 17zM319 1126l5-6 5 34zM319 1126l-5 0 10-6zM309 1124l10 2-5 0zM309 1124l-5-12 10 14zM299 1177l5-65 5 12zM299 1177l-5-65 10 0zM289 1171l5-59 5 65zM289 1171l-5-3 10-56zM280 1166l4 2 5 3zM280 1166l-6-4 10 6zM270 1177l4-15 6 4zM270 1177l-5-54 9 39zM260 1180l5-57 5 54zM260 1180l-5 3 10-60zM250 1182l10-2-5 3zM240 1191l5-10 5 1zM240 1191l-5-9 10-1zM230 1177l5 5 5 9zM230 1177l5 5-10-5zM220 1249l5-72 5 0zM220 1249l-5-15 10-57z"/>
<path fill="url(#b50)" d="M679 1072l5-67 5 10zM679 1072l-5-21 10-46zM670 1076l4-25 5 21zM670 1076l-6-55 10 30zM660 1042l4-21 6 55zM660 1042l-5 2 9-23zM650 1047l5-3 5-2zM650 1047l-5 1 10-4zM640 1082l5-34 5-1zM640 1082l-5-8 10-26zM630 1091l5-17 5 8zM630 1091l-5-4 10-13zM620 1035l10 56-5-4zM620 1035l5 52-10-23zM610 1028l10 7-5 29zM610 1028l5 36-10-19zM601 1053l9-25-5 17zM601 1053l-6 0 10-8zM591 1072l4-19 6 0zM591 1072l-5 8 9-27zM581 1058l10 14-5 8zM581 1058l5 22-10-5zM571 1064l10-6-5 17zM571 1064l5 11-10 8zM561 1116l5-33 5-19zM561 1116l-5-4 10-29zM551 1095l10 21-5-4zM551 1095l5 17-10 4zM541 1102l10-7-5 21zM541 1102l-5-15 10 29zM531 1124l5-37 5 15zM531 1124l-5-37 10 0zM522 1110l4-23 5 37zM522 1110l-6 15 10-38zM512 1107l10 3-6 15zM512 1107l4 18-9-25zM502 1103l5-3 5 7zM502 1103l-5-25 10 22zM492 1117l5-39 5 25zM492 1117l-5-24 10-15zM482 1093l5 0 5 24zM482 1093l-5-1 10 1zM472 1114l5-22 5 1zM472 1114l-5-7 10-15zM462 1118l5-11 5 7zM462 1118l-5-1 10-10zM452 1132l5-15 5 1zM452 1132l-5-25 10 10zM443 1136l4-29 5 25zM443 1136l-6-33 10 4zM433 1134l4-31 6 33zM433 1134l-5-22 9-9zM423 1173l5-61 5 22zM423 1173l-5-31 10-30zM413 1146l5-4 5 31zM413 1146l-5-3 10-1zM403 1112l10 34-5-3zM403 1112l5 31-10-34zM393 1138l5-29 5 3zM393 1138l-5-41 10 12zM383 1157l5-60 5 41zM383 1157l-5-24 10-36zM373 1136l5-3 5 24zM373 1136l-5-7 10 4zM364 1150l4-21 5 7zM364 1150l-6 1 10-22zM354 1155l4-4 6-1zM354 1155l4-4-9 16zM344 1153l10 2-5 12zM344 1153l5 14-10-11zM334 1143l10 10-5 3zM334 1143l5 13-10-2zM324 1162l10-19-5 11zM324 1162l-5-36 10 28zM314 1152l5-26 5 36zM314 1152l-5-28 10 2zM304 1206l5-82 5 28zM304 1206l-5-29 10-53zM294 1191l5-14 5 29zM294 1191l-5-20 10 6zM285 1193l4-22 5 20zM285 1193l-5-27 9 5zM275 1196l5-30 5 27zM275 1196l-5-19 10-11zM265 1159l5 18 5 19zM265 1159l5 18-10 3zM255 1180l10-21-5 21zM255 1180l5 0-10 2zM245 1187l5-5 5-2zM245 1187l-5 4 10-9zM235 1206l5-15 5-4zM235 1206l-5-29 10 14zM225 1255l5-78 5 29zM225 1255l-5-6 10-72z"/>
<path fill="url(#b49)" d="M685 1051l4-36 5 9zM685 1051l-6 21 10-57zM675 1059l10-8-6 21zM675 1059l4 13-9 4zM665 1039l10 20-5 17zM665 1039l5 37-10-34zM655 1053l5-11 5-3zM655 1053l-5-6 10-5zM645 1094l5-47 5 6zM645 1094l-5-12 10-35zM635 1065l10 29-5-12zM635 1065l5 17-10 9zM625 1063l10 2-5 26zM615 1058l5-23 5 28zM615 1058l-5-30 10 7zM606 1070l4-42 5 30zM606 1070l-5-17 9-25zM596 1108l5-55 5 17zM596 1108l-5-36 10-19zM586 1091l5-19 5 36zM586 1091l-5-33 10 14zM576 1103l5-45 5 33zM576 1103l-5-39 10-6zM566 1096l5-32 5 39zM566 1096l-5 20 10-52zM556 1077l10 19-5 20zM556 1077l5 39-10-21zM546 1108l10-31-5 18zM546 1108l-5-6 10-7zM537 1129l4-27 5 6zM537 1129l-6-5 10-22zM527 1110l10 19-6-5zM527 1110l4 14-9-14zM517 1091l10 19-5 0zM517 1091l5 19-10-3zM507 1122l10-31-5 16zM507 1122l-5-19 10 4zM497 1120l5-17 5 19zM497 1120l-5-3 10-14zM487 1102l10 18-5-3zM487 1102l5 15-10-24zM477 1092l5 1 5 9zM477 1092l5 1-10 21zM467 1120l10-28-5 22zM467 1120l-5-2 10-4zM458 1115l9 5-5-2zM458 1115l4 3-10 14zM448 1125l10-10-6 17zM448 1125l4 7-9 4zM438 1142l10-17-5 11zM438 1142l-5-8 10 2zM428 1166l5-32 5 8zM428 1166l-5 7 10-39zM418 1144l10 22-5 7zM418 1144l5 29-10-27zM408 1139l10 5-5 2zM408 1139l-5-27 10 34zM398 1150l5-38 5 27zM398 1150l-5-12 10-26zM388 1155l5-17 5 12zM388 1155l-5 2 10-19zM379 1143l9 12-5 2zM379 1143l4 14-10-21zM369 1152l4-16 6 7zM369 1152l-5-2 9-14zM359 1195l5-45 5 2zM359 1195l-5-40 10-5zM349 1136l5 19 5 40zM349 1136l5 19-10-2zM339 1140l10-4-5 17zM339 1140l5 13-10-10zM329 1175l5-32 5-3zM329 1175l-5-13 10-19zM319 1165l5-3 5 13zM319 1165l-5-13 10 10zM309 1205l5-53 5 13zM309 1205l-5 1 10-54zM300 1184l9 21-5 1zM300 1184l4 22-10-15zM290 1178l10 6-6 7zM290 1178l4 13-9 2zM280 1179l10-1-5 15zM280 1179l5 14-10 3zM270 1162l10 17-5 17zM270 1162l5 34-10-37zM260 1184l5-25 5 3zM260 1184l-5-4 10-21zM250 1185l5-5 5 4zM250 1185l-5 2 10-7zM240 1187l10-2-5 2zM240 1187l5 0-10 19zM230 1245l5-39 5-19zM230 1245l-5 10 10-49z"/>
<path fill="url(#b48)" d="M690 1052l4-28 6 9zM690 1052l-5-1 9-27zM680 1047l10 5-5-1zM680 1047l5 4-10 8zM670 1057l10-10-5 12zM670 1057l-5-18 10 20zM660 1063l5-24 5 18zM660 1063l-5-10 10-14zM650 1115l5-62 5 10zM650 1115l-5-21 10-41zM640 1072l10 43-5-21zM640 1072l5 22-10-29zM630 1100l5-35 5 7zM630 1100l-5-37 10 2zM621 1084l4-21 5 37zM621 1084l-6-26 10 5zM611 1023l10 61-6-26zM611 1023l4 35-9 12zM601 1081l10-58-5 47zM601 1081l5-11-10 38zM591 1081l10 0-5 27zM591 1081l5 27-10-17zM581 1096l10-15-5 10zM581 1096l5-5-10 12zM571 1067l10 29-5 7zM571 1067l5 36-10-7zM561 1079l10-12-5 29zM561 1079l5 17-10-19zM551 1095l5-18 5 2zM551 1095l-5 13 10-31zM542 1127l4-19 5-13zM542 1127l-5 2 9-21zM532 1097l10 30-5 2zM532 1097l5 32-10-19zM522 1076l10 21-5 13zM522 1076l5 34-10-19zM512 1113l5-22 5-15zM512 1113l-5 9 10-31zM502 1118l10-5-5 9zM502 1118l5 4-10-2zM492 1120l10-2-5 2zM492 1120l-5-18 10 18zM482 1096l5 6 5 18zM482 1096l5 6-10-10zM473 1094l4-2 5 4zM473 1094l4-2-10 28zM463 1118l10-24-6 26zM463 1118l-5-3 9 5zM453 1121l5-6 5 3zM453 1121l-5 4 10-10zM443 1168l5-43 5-4zM443 1168l-5-26 10-17zM433 1159l5-17 5 26zM433 1159l-5 7 10-24zM423 1173l-5-29 10 22zM413 1175l5-31 5 29zM413 1175l-5-36 10 5zM403 1153l5-14 5 36zM403 1153l-5-3 10-11zM394 1146l9 7-5-3zM394 1146l4 4-10 5zM384 1127l10 19-6 9zM384 1127l4 28-9-12zM374 1107l10 20-5 16zM374 1107l5 36-10 9zM364 1149l10-42-5 45zM364 1149l5 3-10 43zM354 1136l10 13-5 46zM354 1136l5 59-10-59zM344 1156l5-20 5 0zM344 1156l-5-16 10-4zM334 1173l5-33 5 16zM334 1173l-5 2 10-35zM324 1135l10 38-5 2zM324 1135l5 40-10-10zM315 1151l9-16-5 30zM315 1151l4 14-10 40zM305 1162l10-11-6 54zM305 1162l4 43-9-21zM295 1172l10-10-5 22zM295 1172l5 12-10-6zM285 1166l10 6-5 6zM285 1166l5 12-10 1zM275 1155l10 11-5 13zM275 1155l5 24-10-17zM265 1161l10-6-5 7zM265 1161l5 1-10 22zM255 1201l10-40-5 23zM255 1201l-5-16 10-1zM245 1205l5-20 5 16zM245 1205l-5-18 10-2zM236 1243l4-56 5 18zM236 1243l-6 2 10-58z"/>
<path fill="url(#b47)" d="M695 1065l5-32 5 8zM695 1065l-5-13 10-19zM685 1061l5-9 5 13zM685 1061l-5-14 10 5zM675 1075l5-28 5 14zM675 1075l-5-18 10-10zM665 1114l5-57 5 18zM665 1114l-5-51 10-6zM655 1070l5-7 5 51zM655 1070l5-7-10 52zM645 1071l10-1-5 45zM645 1071l5 44-10-43zM636 1095l4-23 5-1zM636 1095l-6 5 10-28zM626 1071l10 24-6 5zM626 1071l4 29-9-16zM616 1063l10 8-5 13zM616 1063l-5-40 10 61zM606 1091l5-68 5 40zM606 1091l-5-10 10-58zM596 1087l5-6 5 10zM596 1087l-5-6 10 0zM586 1090l5-9 5 6zM586 1090l-5 6 10-15zM576 1088l10 2-5 6zM576 1088l-5-21 10 29zM566 1074l5-7 5 21zM566 1074l-5 5 10-12zM557 1087l4-8 5-5zM557 1087l-6 8 10-16zM547 1099l10-12-6 8zM547 1099l4-4-9 32zM537 1108l10-9-5 28zM537 1108l5 19-10-30zM527 1085l10 23-5-11zM527 1085l5 12-10-21zM517 1118l5-42 5 9zM517 1118l-5-5 10-37zM507 1090l10 28-5-5zM507 1090l5 23-10 5zM497 1130l10-40-5 28zM497 1130l-5-10 10-2zM487 1136l5-16 5 10zM487 1136l-5-40 10 24zM478 1142l4-46 5 40zM478 1142l-5-48 9 2zM468 1138l5-44 5 48zM468 1138l-5-20 10-24zM458 1131l5-13 5 20zM458 1131l-5-10 10-3zM448 1161l5-40 5 10zM448 1161l-5 7 10-47zM438 1137l10 24-5 7zM438 1137l5 31-10-9zM428 1129l10 8-5 22zM428 1129l5 30-10 14zM418 1147l10-18-5 44zM418 1147l5 26-10 2zM409 1166l9-19-5 28zM409 1166l4 9-10-22zM399 1147l4 6 6 13zM399 1147l4 6-9-7zM389 1120l10 27-5-1zM389 1120l5 26-10-19zM379 1123l10-3-5 7zM379 1123l-5-16 10 20zM369 1149l5-42 5 16zM369 1149l-5 0 10-42zM359 1167l5-18 5 0zM359 1167l-5-31 10 13zM349 1195l5-59 5 31zM349 1195l-5-39 10-20zM339 1163l5-7 5 39zM339 1163l5-7-10 17zM330 1163l9 0-5 10zM330 1163l-6-28 10 38zM320 1171l4-36 6 28zM320 1171l-5-20 9-16zM310 1184l5-33 5 20zM310 1184l-5-22 10-11zM300 1203l5-41 5 22zM300 1203l-5-31 10-10zM290 1194l5-22 5 31zM290 1194l-5-28 10 6zM280 1188l5-22 5 28zM280 1188l-5-33 10 11zM270 1185l5-30 5 33zM270 1185l-5-24 10-6zM260 1174l5-13 5 24zM260 1174l5-13-10 40zM251 1185l9-11-5 27zM251 1185l4 16-10 4zM241 1250l4-45 6-20zM241 1250l-5-7 9-38z"/>
<path fill="url(#b46)" d="M700 1083l5-42 5 6zM700 1083l-5-18 10-24zM690 1087l5-22 5 18zM690 1087l-5-26 10 4zM680 1082l5-21 5 26zM680 1082l-5-7 10-14zM670 1074l5 1 5 7zM670 1074l5 1-10 39zM660 1083l10-9-5 40zM660 1083l5 31-10-44zM651 1099l4-29 5 13zM651 1099l-6-28 10-1zM641 1101l4-30 6 28zM641 1101l-5-6 9-24zM631 1058l10 43-5-6zM631 1058l5 37-10-24zM621 1075l10-17-5 13zM621 1075l-5-12 10 8zM611 1099l5-36 5 12zM611 1099l-5-8 10-28zM601 1061l10 38-5-8zM601 1061l5 30-10-4zM591 1087l10-26-5 26zM591 1087l5 0-10 3zM581 1133l5-43 5-3zM581 1133l-5-45 10 2zM572 1120l4-32 5 45zM572 1120l-6-46 10 14zM562 1104l4-30 6 46zM562 1104l-5-17 9-13zM552 1109l5-22 5 17zM552 1109l-5-10 10-12zM542 1149l5-50 5 10zM542 1149l-5-41 10-9zM532 1130l5-22 5 41zM532 1130l-5-45 10 23zM522 1139l5-54 5 45zM522 1139l-5-21 10-33zM512 1168l5-50 5 21zM512 1168l-5-78 10 28zM502 1158l5-68 5 78zM502 1158l-5-28 10-40zM493 1149l4-19 5 28zM493 1149l-6-13 10-6zM483 1143l4-7 6 13zM483 1143l-5-1 9-6zM473 1127l10 16-5-1zM473 1127l5 15-10-4zM463 1155l5-17 5-11zM463 1155l-5-24 10 7zM453 1121l5 10 5 24zM453 1121l5 10-10 30zM443 1125l10-4-5 40zM443 1125l5 36-10-24zM433 1142l10-17-5 12zM433 1142l-5-13 10 8zM423 1153l5-24 5 13zM423 1153l-5-6 10-18zM414 1151l4-4 5 6zM414 1151l4-4-9 19zM404 1138l10 13-5 15zM404 1138l5 28-10-19zM394 1145l10-7-5 9zM394 1145l-5-25 10 27zM384 1136l5-16 5 25zM384 1136l-5-13 10-3zM374 1137l5-14 5 13zM374 1137l-5 12 10-26zM364 1162l5-13 5-12zM364 1162l-5 5 10-18zM354 1151l10 11-5 5zM354 1151l5 16-10 28zM345 1150l9 1-5 44zM345 1150l4 45-10-32zM335 1153l10-3-6 13zM335 1153l4 10-9 0zM325 1168l10-15-5 10zM325 1168l-5 3 10-8zM315 1199l5-28 5-3zM315 1199l-5-15 10-13zM305 1233l5-49 5 15zM305 1233l-5-30 10-19zM295 1202l5 1 5 30zM295 1202l-5-8 10 9zM285 1218l5-24 5 8zM285 1218l-5-30 10 6zM275 1187l5 1 5 30zM275 1187l-5-2 10 3zM266 1166l9 21-5-2zM266 1166l4 19-10-11zM256 1199l4-25 6-8zM256 1199l-5-14 9-11zM246 1258l5-73 5 14zM246 1258l-5-8 10-65z"/>
<path fill="url(#b45)" d="M705 1063l5-16 5 6zM705 1063l5-16-10 36zM695 1060l10 3-5 20zM695 1060l5 23-10 4zM685 1030l10 30-5 27zM685 1030l5 57-10-5zM675 1032l10-2-5 52zM675 1032l5 50-10-8zM665 1073l10-41-5 42zM665 1073l5 1-10 9zM656 1130l4-47 5-10zM656 1130l-5-31 9-16zM646 1135l5-36 5 31zM646 1135l-5-34 10-2zM636 1101l5 0 5 34zM636 1101l-5-43 10 43zM626 1105l5-47 5 43zM626 1105l-5-30 10-17zM616 1115l5-40 5 30zM616 1115l-5-16 10-24zM606 1069l10 46-5-16zM606 1069l5 30-10-38zM596 1117l5-56 5 8zM596 1117l-5-30 10-26zM587 1161l4-74 5 30zM587 1161l-6-28 10-46zM577 1150l4-17 6 28zM577 1150l-5-30 9 13zM567 1133l5-13 5 30zM567 1133l-5-29 10 16zM557 1115l5-11 5 29zM557 1115l-5-6 10-5zM547 1136l5-27 5 6zM547 1136l-5 13 10-40zM537 1125l10 11-5 13zM537 1125l5 24-10-19zM527 1126l10-1-5 5zM527 1126l5 4-10 9zM517 1155l5-16 5-13zM517 1155l-5 13 10-29zM508 1110l9 45-5 13zM508 1110l4 58-10-10zM498 1158l10-48-6 48zM498 1158l-5-9 9 9zM488 1149l5 0 5 9zM488 1149l-5-6 10 6zM478 1130l10 19-5-6zM478 1130l5 13-10-16zM468 1143l5-16 5 3zM468 1143l-5 12 10-28zM458 1136l10 7-5 12zM458 1136l5 19-10-34zM448 1139l5-18 5 15zM448 1139l-5-14 10-4zM438 1123l5 2 5 14zM438 1123l5 2-10 17zM429 1135l9-12-5 19zM429 1135l4 7-10 11zM419 1180l4-27 6-18zM419 1180l-5-29 9 2zM409 1151l5 0 5 29zM409 1151l-5-13 10 13zM399 1157l5-19 5 13zM399 1157l-5-12 10-7zM389 1147l5-2 5 12zM389 1147l-5-11 10 9zM379 1130l5 6 5 11zM379 1130l5 6-10 1zM369 1144l5-7-10 25zM359 1146l10-2-5 18zM359 1146l5 16-10-11zM350 1169l4-18 5-5zM350 1169l-5-19 9 1zM340 1213l5-63 5 19zM340 1213l-5-60 10-3zM330 1171l5-18 5 60zM330 1171l-5-3 10-15zM320 1196l5-28 5 3zM320 1196l-5 3 10-31zM310 1228l5-29 5-3zM310 1228l-5 5 10-34zM300 1219l10 9-5 5zM300 1219l-5-17 10 31zM290 1205l5-3 5 17zM290 1205l5-3-10 16zM281 1193l9 12-5 13zM281 1193l4 25-10-31zM271 1219l4-32 6 6zM271 1219l-5-53 9 21zM261 1230l5-64 5 53zM261 1230l-5-31 10-33zM251 1266l5-67 5 31zM251 1266l-5-8 10-59z"/>
<path fill="url(#b44)" d="M710 1055l5-2 5 4zM710 1055l5-2-10 10zM700 1055l10 0-5 8zM700 1055l5 8-10-3zM690 1056l10-1-5 5zM690 1056l-5-26 10 30zM680 1074l5-44 5 26zM680 1074l-5-42 10-2zM671 1068l4-36 5 42zM671 1068l-6 5 10-41zM661 1126l4-53 6-5zM661 1126l-5 4 9-57zM651 1135l5-5 5-4zM651 1135l-5 0 10-5zM641 1087l10 48-5 0zM641 1087l5 48-10-34zM631 1120l5-19 5-14zM631 1120l-5-15 10-4zM621 1117l5-12 5 15zM621 1117l-5-2 10-10zM611 1084l10 33-5-2zM611 1084l5 31-10-46zM602 1100l4-31 5 15zM602 1100l-6 17 10-48zM592 1104l10-4-6 17zM592 1104l4 13-9 44zM582 1084l10 20-5 57zM582 1084l5 77-10-11zM572 1134l10-50-5 66zM572 1134l5 16-10-17zM562 1106l10 28-5-1zM562 1106l5 27-10-18zM552 1120l10-14-5 9zM552 1120l5-5-10 21zM542 1157l5-21 5-16zM542 1157l-5-32 10 11zM532 1147l5-22 5 32zM532 1147l-5-21 10-1zM523 1132l4-6 5 21zM523 1132l4-6-10 29zM513 1108l10 24-6 23zM513 1108l4 47-9-45zM503 1147l5-37 5-2zM503 1147l-5 11 10-48zM493 1142l10 5-5 11zM493 1142l5 16-10-9zM483 1137l10 5-5 7zM483 1137l5 12-10-19zM473 1156l5-26 5 7zM473 1156l-5-13 10-13zM463 1169l5-26 5 13zM463 1169l-5-33 10 7zM453 1149l5-13 5 33zM453 1149l-5-10 10-3zM444 1161l4-22 5 10zM444 1161l-6-38 10 16zM434 1150l4-27 6 38zM434 1150l-5-15 9-12zM424 1172l5-37 5 15zM424 1172l-5 8 10-45zM414 1185l10-13-5 8zM414 1185l-5-34 10 29zM404 1165l5-14 5 34zM404 1165l-5-8 10-6zM394 1206l5-49 5 8zM394 1206l-5-59 10 10zM384 1173l5-26 5 59zM384 1173l-5-43 10 17zM374 1180l5-50 5 43zM374 1180l-5-36 10-14zM365 1150l4-6 5 36zM365 1150l-6-4 10-2zM355 1186l4-40 6 4zM355 1186l-5-17 9-23zM345 1222l5-53 5 17zM345 1222l-5-9 10-44zM335 1175l10 47-5-9zM335 1175l5 38-10-42zM325 1193l5-22 5 4zM325 1193l-5 3 10-25zM315 1179l10 14-5 3zM315 1179l5 17-10 32zM305 1156l10 23-5 49zM305 1156l5 72-10-9zM295 1189l10-33-5 63zM295 1189l5 30-10-14zM286 1215l9-26-5 16zM286 1215l-5-22 9 12zM276 1240l5-47 5 22zM276 1240l-5-21 10-26zM266 1233l5-14 5 21zM266 1233l-5-3 10-11zM256 1271l5-41 5 3zM256 1271l-5-5 10-36z"/>
<path fill="url(#b43)" d="M715 1055l5 2-10-2zM705 1039l10 16-5 0zM705 1039l5 16-10 0zM695 1050l10-11-5 16zM695 1050l5 5-10 1zM686 1054l9-4-5 6zM686 1054l4 2-10 18zM676 1090l4-16 6-20zM676 1090l-5-22 9 6zM666 1073l5-5 5 22zM666 1073l5-5-10 58zM656 1067l10 6-5 53zM656 1067l5 59-10 9zM646 1103l10-36-5 68zM646 1103l5 32-10-48zM636 1119l5-32 5 16zM636 1119l-5 1 10-33zM626 1132l5-12 5-1zM626 1132l-5-15 10 3zM616 1116l5 1 5 15zM616 1116l-5-32 10 33zM607 1104l4-20 5 32zM607 1104l-5-4 9-16zM597 1083l10 21-5-4zM597 1083l5 17-10 4zM587 1090l10-7-5 21zM587 1090l5 14-10-20zM577 1111l5-27 5 6zM577 1111l-5 23 10-50zM567 1103l10 8-5 23zM567 1103l5 31-10-28zM557 1089l10 14-5 3zM557 1089l5 17-10 14zM547 1124l10-35-5 31zM547 1124l5-4-10 37zM538 1100l9 24-5 33zM538 1100l4 57-10-10zM528 1098l10 2-6 47zM528 1098l4 49-9-15zM518 1105l10-7-5 34zM518 1105l5 27-10-24zM508 1143l5-35 5-3zM508 1143l-5 4 10-39zM498 1105l10 38-5 4zM498 1105l5 42-10-5zM488 1098l10 7-5 37zM488 1098l5 44-10-5zM478 1131l10-33-5 39zM478 1131l5 6-10 19zM468 1144l10-13-5 25zM468 1144l5 12-10 13zM459 1165l9-21-5 25zM459 1165l-6-16 10 20zM449 1172l4-23 6 16zM449 1172l-5-11 9-12zM439 1175l5-14 5 11zM439 1175l-5-25 10 11zM429 1174l5-24 5 25zM429 1174l-5-2 10-22zM419 1221l5-49 5 2zM419 1221l-5-36 10-13zM409 1209l5-24 5 36zM409 1209l-5-44 10 20zM399 1187l5-22 5 44zM399 1187l-5 19 10-41zM389 1181l10 6-5 19zM389 1181l5 25-10-33zM380 1173l4 0 5 8zM380 1173l4 0-10 7zM370 1166l10 7-6 7zM370 1166l4 14-9-30zM360 1196l5-46 5 16zM360 1196l-5-10 10-36zM350 1219l5-33 5 10zM350 1219l-5 3 10-36zM340 1208l10 11-5 3zM340 1208l-5-33 10 47zM330 1218l5-43 5 33zM330 1218l-5-25 10-18zM320 1198l5-5 5 25zM320 1198l-5-19 10 14zM310 1176l5 3 5 19zM310 1176l-5-20 10 23zM301 1205l4-49 5 20zM301 1205l-6-16 10-33zM291 1217l4-28 6 16zM291 1217l-5-2 9-26zM281 1250l5-35 5 2zM281 1250l-5-10 10-25zM271 1256l5-16 5 10zM271 1256l-5-23 10 7zM261 1269l5-36 5 23zM261 1269l-5 2 10-38z"/>
<path fill="url(#b42)" d="M720 1061l5-2 5 2zM720 1061l-5-6 10 4zM710 1080l5-25 5 6zM710 1080l-5-41 10 16zM701 1054l4-15 5 41zM701 1054l-6-4 10-11zM691 1072l4-22 6 4zM691 1072l-5-18 9-4zM681 1082l5-28 5 18zM681 1082l-5 8 10-36zM671 1063l10 19-5 8zM671 1063l5 27-10-17zM661 1085l5-12 5-10zM661 1085l-5-18 10 6zM651 1076l5-9 5 18zM651 1076l5-9-10 36zM641 1072l10 4-5 27zM641 1072l5 31-10 16zM631 1136l10-64-5 47zM631 1136l-5-4 10-13zM622 1145l4-13 5 4zM622 1145l-6-29 10 16zM612 1141l4-25 6 29zM612 1141l-5-37 9 12zM602 1106l5-2 5 37zM602 1106l-5-23 10 21zM592 1099l5-16 5 23zM592 1099l-5-9 10-7zM582 1162l5-72 5 9zM582 1162l-5-51 10-21zM572 1083l5 28 5 51zM572 1083l5 28-10-8zM562 1117l10-34-5 20zM562 1117l-5-28 10 14zM552 1142l5-53 5 28zM552 1142l-5-18 10-35zM543 1121l4 3 5 18zM543 1121l-5-21 9 24zM533 1106l5-6 5 21zM533 1106l-5-8 10 2zM523 1144l5-46 5 8zM523 1144l-5-39 10-7zM513 1140l5-35 5 39zM513 1140l-5 3 10-38zM503 1100l10 40-5 3zM503 1100l5 43-10-38zM493 1091l10 9-5 5zM493 1091l5 14-10-7zM483 1122l5-24 5-7zM483 1122l-5 9 10-33zM474 1136l9-14-5 9zM474 1136l4-5-10 13zM464 1133l10 3-6 8zM464 1133l4 11-9 21zM454 1143l10-10-5 32zM454 1143l5 22-10 7zM444 1160l10-17-5 29zM444 1160l5 12-10 3zM434 1167l10-7-5 15zM434 1167l5 8-10-1zM424 1194l5-20 5-7zM424 1194l5-20-10 47zM414 1201l10-7-5 27zM414 1201l5 20-10-12zM404 1174l10 27-5 8zM404 1174l5 35-10-22zM395 1172l9 2-5 13zM395 1172l4 15-10-6zM385 1210l4-29 6-9zM385 1210l-5-37 9 8zM375 1214l5-41 5 37zM375 1214l-5-48 10 7zM365 1195l5-29 5 48zM365 1195l-5 1 10-30zM355 1232l5-36 5-1zM355 1232l-5-13 10-23zM345 1254l5-35 5 13zM345 1254l-5-46 10 11zM335 1238l5-30 5 46zM335 1238l-5-20 10-10zM325 1217l5 1 5 20zM325 1217l-5-19 10 20zM316 1203l4-5 5 19zM316 1203l-6-27 10 22zM306 1171l4 5 6 27zM306 1171l4 5-9 29zM296 1221l10-50-5 34zM296 1221l-5-4 10-12zM286 1257l5-40 5 4zM286 1257l-5-7 10-33zM276 1229l10 28-5-7zM276 1229l5 21-10 6zM266 1277l10-48-5 27zM266 1277l-5-8 10-13z"/>
<path fill="url(#b41)" d="M725 1103l5-42 5 11zM725 1103l-5-42 10 0zM716 1085l4-24 5 42zM716 1085l-6-5 10-19zM706 1065l10 20-6-5zM706 1065l4 15-9-26zM696 1084l5-30 5 11zM696 1084l-5-12 10-18zM686 1075l5-3 5 12zM686 1075l5-3-10 10zM676 1092l5-10 5-7zM676 1092l-5-29 10 19zM666 1120l5-57 5 29zM666 1120l-5-35 10-22zM656 1049l10 71-5-35zM656 1049l5 36-10-9zM646 1070l10-21-5 27zM646 1070l5 6-10-4zM637 1132l4-60 5-2zM637 1132l-6 4 10-64zM627 1179l4-43 6-4zM627 1179l-5-34 9-9zM617 1161l5-16 5 34zM617 1161l-5-20 10 4zM607 1094l10 67-5-20zM607 1094l5 47-10-35zM597 1091l10 3-5 12zM597 1091l5 15-10-7zM587 1119l5-20 5-8zM587 1119l5-20-10 63zM577 1130l10-11-5 43zM577 1130l-5-47 10 79zM567 1160l5-77 5 47zM567 1160l-5-43 10-34zM558 1138l4-21 5 43zM558 1138l-6 4 10-25zM548 1134l10 4-6 4zM548 1134l-5-13 9 21zM538 1130l5-9 5 13zM538 1130l-5-24 10 15zM528 1136l5-30 5 24zM528 1136l-5 8 10-38zM518 1148l10-12-5 8zM518 1148l-5-8 10 4zM508 1114l10 34-5-8zM508 1114l5 26-10-40zM498 1098l5 2 5 14zM498 1098l-5-7 10 9zM488 1128l5-37 5 7zM488 1128l-5-6 10-31zM479 1169l4-47 5 6zM479 1169l-5-33 9-14zM469 1176l5-40 5 33zM469 1176l-5-43 10 3zM459 1190l5-57 5 43zM459 1190l-5-47 10-10zM449 1180l5-37 5 47zM449 1180l-5-20 10-17zM439 1210l5-50 5 20zM439 1210l-5-43 10-7zM429 1200l5-33 5 43zM429 1200l-5-6 10-27zM419 1187l10 13-5-6zM419 1187l5 7-10 7zM410 1219l4-18 5-14zM410 1219l-6-45 10 27zM400 1180l4-6 6 45zM400 1180l-5-8 9 2zM390 1193l5-21 5 8zM390 1193l-5 17 10-38zM380 1210l10-17-5 17zM380 1210l5 0-10 4zM370 1220l5-6 5-4zM370 1220l-5-25 10 19zM360 1226l5-31 5 25zM360 1226l-5 6 10-37zM350 1207l10 19-5 6zM350 1207l5 25-10 22zM340 1211l10-4-5 47zM340 1211l5 43-10-16zM331 1191l9 20-5 27zM331 1191l4 47-10-21zM321 1206l10-15-6 26zM321 1206l4 11-9-14zM311 1216l5-13 5 3zM311 1216l-5-45 10 32zM301 1198l5-27 5 45zM301 1198l-5 23 10-50zM291 1257l5-36 5-23zM291 1257l-5 0 10-36zM281 1228l10 29-5 0zM281 1228l5 29-10-28zM271 1293l5-64 5-1zM271 1293l-5-16 10-48z"/>
<path fill="url(#b40)" d="M730 1074l5-2 5 20zM730 1074l5-2-10 31zM721 1091l9-17-5 29zM721 1091l4 12-9-18zM711 1087l5-2 5 6zM711 1087l-5-22 10 20zM701 1075l5-10 5 22zM701 1075l-5 9 10-19zM691 1096l5-12 5-9zM691 1096l-5-21 10 9zM681 1105l5-30 5 21zM681 1105l-5-13 10-17zM671 1119l5-27 5 13zM671 1119l-5 1 10-28zM661 1090l10 29-5 1zM661 1090l-5-41 10 71zM652 1083l4-34 5 41zM652 1083l-6-13 10-21zM642 1113l4-43 6 13zM642 1113l-5 19 9-62zM632 1129l10-16-5 19zM632 1129l5 3-10 47zM622 1167l10-38-5 50zM622 1167l5 12-10-18zM612 1100l10 67-5-6zM612 1100l5 61-10-67zM602 1120l5-26 5 6zM602 1120l-5-29 10 3zM592 1167l5-76 5 29zM592 1167l-5-48 10-28zM582 1138l5-19 5 48zM582 1138l-5-8 10-11zM573 1131l4-1 5 8zM573 1131l4-1-10 30zM563 1146l10-15-6 29zM563 1146l4 14-9-22zM553 1132l5 6 5 8zM553 1132l5 6-10-4zM543 1116l10 16-5 2zM543 1116l5 18-10-4zM533 1152l5-22 5-14zM533 1152l-5-16 10-6zM523 1163l5-27 5 16zM523 1163l-5-15 10-12zM513 1131l10 32-5-15zM503 1174l5-60 5 17zM503 1174l-5-76 10 16zM494 1180l4-82 5 76zM494 1180l-6-52 10-30zM484 1185l4-57 6 52zM484 1185l-5-16 9-41zM474 1187l5-18 5 16zM474 1187l-5-11 10-7zM464 1200l5-24 5 11zM464 1200l-5-10 10-14zM454 1189l5 1 5 10zM454 1189l-5-9 10 10zM444 1195l5-15 5 9zM434 1234l5-24 5-15zM434 1234l-5-34 10 10zM424 1221l5-21 5 34zM424 1221l-5-34 10 13zM415 1200l4-13 5 34zM415 1200l4-13-9 32zM405 1165l10 35-5 19zM405 1165l5 54-10-39zM395 1188l10-23-5 15zM395 1188l-5 5 10-13zM385 1218l5-25 5-5zM385 1218l-5-8 10-17zM375 1229l5-19 5 8zM375 1229l-5-9 10-10zM365 1223l5-3 5 9zM355 1186l10 37-5 3zM355 1186l5 40-10-19zM346 1176l9 10-5 21zM346 1176l4 31-10 4zM336 1178l10-2-6 35zM336 1178l4 33-9-20zM326 1255l5-64 5-13zM326 1255l-5-49 10-15zM316 1218l5-12 5 49zM316 1218l-5-2 10-10zM306 1177l10 41-5-2zM306 1177l5 39-10-18zM296 1205l10-28-5 21zM296 1205l5-7-10 59zM286 1246l10-41-5 52zM286 1246l-5-18 10 29zM276 1310l5-82 5 18zM276 1310l-5-17 10-65z"/>
<path fill="url(#b39)" d="M736 1076l9 15-5 1zM736 1076l4 16-10-18zM726 1098l4-24 6 2zM726 1098l-5-7 9-17zM716 1094l5-3 5 7zM716 1094l-5-7 10 4zM706 1124l5-37 5 7zM706 1124l-5-49 10 12zM696 1121l5-46 5 49zM696 1121l-5-25 10-21zM686 1103l5-7 5 25zM686 1103l-5 2 10-9zM676 1126l5-21 5-2zM676 1126l-5-7 10-14zM666 1098l10 28-5-7zM666 1098l5 21-10-29zM657 1049l9 49-5-8zM657 1049l4 41-9-7zM647 1087l10-38-5 34zM647 1087l5-4-10 30zM637 1123l10-36-5 26zM637 1123l-5 6 10-16zM627 1126l10-3-5 6zM627 1126l5 3-10 38zM617 1109l10 17-5 41zM617 1109l5 58-10-67zM607 1118l5-18 5 9zM607 1118l-5 2 10-20zM597 1158l5-38 5-2zM597 1158l-5 9 10-47zM588 1136l9 22-5 9zM588 1136l4 31-10-29zM578 1126l10 10-6 2zM578 1126l4 12-9-7zM568 1153l5-22 5-5zM568 1153l-5-7 10-15zM558 1164l5-18 5 7zM558 1164l-5-32 10 14zM548 1153l5-21 5 32zM548 1153l-5-37 10 16zM538 1183l5-67 5 37zM538 1183l-5-31 10-36zM528 1161l5-9 5 31zM528 1161l-5 2 10-11zM518 1138l10 23-5 2zM518 1138l5 25-10-32zM509 1157l4-26 5 7zM509 1157l-6 17 10-43zM499 1166l10-9-6 17zM499 1166l4 8-9 6zM489 1155l10 11-5 14zM489 1155l5 25-10 5zM479 1148l10 7-5 30zM479 1148l5 37-10 2zM469 1170l10-22-5 39zM469 1170l5 17-10 13zM459 1165l10 5-5 30zM459 1165l5 35-10-11zM449 1172l10-7-5 24zM449 1172l5 17-10 6zM439 1224l5-29 5-23zM439 1224l-5 10 10-39zM430 1211l9 13-5 10zM430 1211l4 23-10-13zM420 1177l10 34-6 10zM420 1177l4 44-9-21zM410 1216l10-39-5 23zM410 1216l-5-51 10 35zM400 1241l5-76 5 51zM400 1241l-5-53 10-23zM390 1210l5-22 5 53zM390 1210l-5 8 10-30zM380 1219l10-9-5 8zM380 1219l5-1-10 11zM370 1207l10 12-5 10zM370 1207l5 22-10-6zM360 1215l10-8-5 16zM360 1215l-5-29 10 37zM351 1221l4-35 5 29zM351 1221l-5-45 9 10zM341 1234l5-58 5 45zM341 1234l-5-56 10-2zM331 1252l5-74 5 56zM331 1252l-5 3 10-77zM321 1217l10 35-5 3zM321 1217l5 38-10-37zM311 1202l10 15-5 1zM311 1202l-5-25 10 41zM301 1195l5-18 5 25zM301 1195l-5 10 10-28zM291 1221l5-16 5-10zM291 1221l5-16-10 41zM282 1326l4-80 5-25zM282 1326l-6-16 10-64z"/>
<path fill="url(#b38)" d="M741 1104l4-13 6-7zM741 1104l-5-28 9 15zM731 1114l5-38 5 28zM731 1114l-5-16 10-22zM721 1101l5-3 5 16zM721 1101l-5-7 10 4zM711 1152l5-58 5 7zM711 1152l-5-28 10-30zM701 1133l5-9 5 28zM701 1133l-5-12 10 3zM691 1101l10 32-5-12zM691 1101l5 20-10-18zM681 1095l10 6-5 2zM681 1095l5 8-10 23zM672 1093l9 2-5 31zM672 1093l4 33-10-28zM662 1109l4-11 6-5zM662 1109l-5-60 9 49zM652 1106l5-57 5 60zM652 1106l-5-19 10-38zM642 1096l5-9 5 19zM642 1096l5-9-10 36zM632 1108l10-12-5 27zM632 1108l5 15-10 3zM622 1121l10-13-5 18zM622 1121l-5-12 10 17zM612 1133l5-24 5 12zM612 1133l-5-15 10-9zM603 1126l4-8 5 15zM603 1126l4-8-10 40zM593 1126l10 0-6 32zM593 1126l4 32-9-22zM583 1143l10-17-5 10zM583 1143l-5-17 10 10zM573 1137l5-11 5 17zM573 1137l5-11-10 27zM563 1169l-5-5 10-11zM553 1176l5-12 5 5zM553 1176l-5-23 10 11zM543 1165l5-12 5 23zM543 1165l5-12-10 30zM533 1169l10-4-5 18zM533 1169l5 14-10-22zM524 1161l4 0 5 8zM524 1161l-6-23 10 23zM514 1166l4-28 6 23zM514 1166l-5-9 9-19zM504 1159l5-2 5 9zM504 1159l5-2-10 9zM494 1122l10 37-5 7zM494 1122l5 44-10-11zM484 1154l10-32-5 33zM484 1154l-5-6 10 7zM474 1178l5-30 5 6zM474 1178l-5-8 10-22zM464 1190l5-20 5 8zM464 1190l-5-25 10 5zM454 1170l5-5 5 25zM454 1170l-5 2 10-7zM445 1206l4-34 5-2zM445 1206l-6 18 10-52zM435 1204l10 2-6 18zM435 1204l4 20-9-13zM425 1204l10 0-5 7zM425 1204l-5-27 10 34zM415 1204l5-27 5 27zM415 1204l-5 12 10-39zM405 1244l5-28 5-12zM405 1244l-5-3 10-25zM395 1222l10 22-5-3zM395 1222l5 19-10-31zM385 1211l5-1 5 12zM385 1211l5-1-10 9zM375 1198l10 13-5 8zM375 1198l5 21-10-12zM366 1219l4-12 5-9zM366 1219l-6-4 10-8zM356 1224l4-9 6 4zM356 1224l-5-3 9-6zM346 1235l5-14 5 3zM346 1235l-5-1 10-13zM336 1240l5-6 5 1zM336 1240l5-6-10 18zM326 1241l10-1-5 12zM326 1241l-5-24 10 35zM316 1197l5 20 5 24zM316 1197l5 20-10-15zM306 1221l5-19 5-5zM306 1221l-5-26 10 7zM296 1232l5-37 5 26zM296 1232l-5-11 10-26zM287 1330l4-109 5 11zM287 1330l-5-4 9-105z"/>
<path fill="url(#b37)" d="M746 1090l5-6 5 7zM746 1090l5-6-10 20zM736 1118l-5-4 10-10zM726 1104l10 14-5-4zM726 1104l5 10-10-13zM716 1117l5-16 5 3zM716 1117l5-16-10 51zM706 1127l10-10-5 35zM706 1127l5 25-10-19zM696 1095l10 32-5 6zM696 1095l5 38-10-32zM687 1060l9 35-5 6zM687 1060l4 41-10-6zM677 1097l10-37-6 35zM677 1097l-5-4 9 2zM667 1081l10 16-5-4zM667 1081l5 12-10 16zM657 1124l10-43-5 28zM657 1124l-5-18 10 3zM647 1127l5-21 5 18zM647 1127l-5-31 10 10zM637 1116l5-20 5 31zM637 1116l-5-8 10-12zM627 1137l5-29 5 8zM627 1137l-5-16 10-13zM617 1118l5 3 5 16zM617 1118l5 3-10 12zM608 1139l9-21-5 15zM608 1139l-5-13 9 7zM598 1146l5-20 5 13zM598 1146l-5-20 10 0zM588 1175l5-49 5 20zM588 1175l-5-32 10-17zM578 1164l5-21 5 32zM578 1164l-5-27 10 6zM568 1174l5-37 5 27zM568 1174l-5-5 10-32zM558 1145l10 29-5-5zM558 1145l5 24-10 7zM548 1151l10-6-5 31zM548 1151l5 25-10-11zM539 1163l9-12-5 14zM539 1163l4 2-10 4zM529 1178l4-9 6-6zM529 1178l-5-17 9 8zM519 1168l5-7 5 17zM519 1168l-5-2 10-5zM509 1204l5-38 5 2zM509 1204l-5-45 10 7zM499 1186l5-27 5 45zM499 1186l-5-64 10 37zM489 1180l5-58 5 64zM489 1180l-5-26 10-32zM479 1194l5-40 5 26zM479 1194l-5-16 10-24zM469 1182l5-4 5 16zM469 1182l5-4-10 12zM460 1168l9 14-5 8zM460 1168l4 22-10-20zM450 1183l4-13 6-2zM450 1183l4-13-9 36zM440 1174l10 9-5 23zM440 1174l5 32-10-2zM430 1206l10-32-5 30zM430 1206l-5-2 10 0zM420 1179l10 27-5-2zM420 1179l5 25-10 0zM410 1192l10-13-5 25zM410 1192l5 12-10 40zM400 1200l10-8-5 52zM400 1200l5 44-10-22zM390 1206l10-6-5 22zM390 1206l5 16-10-11zM381 1186l9 20-5 5zM381 1186l4 25-10-13zM371 1190l10-4-6 12zM371 1190l4 8-9 21zM361 1256l5-37 5-29zM361 1256l-5-32 10-5zM351 1246l5-22 5 32zM351 1246l-5-11 10-11zM341 1212l10 34-5-11zM341 1212l5 23-10 5zM331 1212l10 0-5 28zM331 1212l5 28-10 1zM321 1227l10-15-5 29zM321 1227l-5-30 10 44zM311 1251l5-54 5 30zM311 1251l-5-30 10-24zM302 1284l4-63 5 30zM302 1284l-6-52 10-11zM292 1321l4-89 6 52zM292 1321l-5 9 9-98z"/>
<path fill="url(#b36)" d="M751 1099l5-8 5 6zM751 1099l-5-9 10 1zM741 1123l5-33 5 9zM741 1123l-5-5 10-28zM731 1100l10 23-5-5zM731 1100l5 18-10-14zM721 1106l10-6-5 4zM721 1106l5-2-10 13zM711 1153l5-36 5-11zM711 1153l-5-26 10-10zM702 1126l4 1 5 26zM702 1126l-6-31 10 32zM692 1107l4-12 6 31zM692 1107l-5-47 9 35zM682 1121l5-61 5 47zM682 1121l-5-24 10-37zM672 1100l5-3 5 24zM672 1100l-5-19 10 16zM662 1107l5-26 5 19zM662 1107l-5 17 10-43zM652 1127l10-20-5 17zM652 1127l-5 0 10-3zM642 1168l5-41 5 0zM642 1168l-5-52 10 11zM632 1178l5-62 5 52zM632 1178l-5-41 10-21zM623 1154l4-17 5 41zM623 1154l-6-36 10 19zM613 1154l4-36 6 36zM613 1154l-5-15 9-21zM603 1138l5 1 5 15zM603 1138l5 1-10 7zM593 1131l10 7-5 8zM593 1131l5 15-10 29zM583 1155l10-24-5 44zM583 1155l5 20-10-11zM573 1169l10-14-5 9zM563 1140l10 29-5 5zM563 1140l5 34-10-29zM553 1156l5-11 5-5zM553 1156l-5-5 10-6zM544 1132l9 24-5-5zM544 1132l4 19-9 12zM534 1152l10-20-5 31zM534 1152l5 11-10 15zM524 1148l10 4-5 26zM524 1148l5 30-10-10zM514 1191l5-23 5-20zM514 1191l-5 13 10-36zM504 1172l10 19-5 13zM504 1172l5 32-10-18zM494 1165l10 7-5 14zM494 1165l5 21-10-6zM484 1162l10 3-5 15zM484 1162l5 18-10 14zM475 1199l9-37-5 32zM475 1199l-6-17 10 12zM465 1176l4 6 6 17zM465 1176l-5-8 9 14zM455 1164l5 4 5 8zM455 1164l5 4-10 15zM445 1204l5-21 5-19zM445 1204l-5-30 10 9zM435 1213l5-39 5 30zM435 1213l-5-7 10-32zM425 1188l10 25-5-7zM425 1188l5 18-10-27zM415 1215l5-36 5 9zM415 1215l-5-23 10-13zM405 1260l5-68 5 23zM405 1260l-5-60 10-8zM396 1233l4-33 5 60zM396 1233l-6-27 10-6zM386 1206l4 0 6 27zM386 1206l-5-20 9 20zM376 1214l5-28 5 20zM376 1214l-5-24 10-4zM366 1243l5-53 5 24zM366 1243l-5 13 10-66zM356 1241l10 2-5 13zM356 1241l5 15-10-10zM346 1213l10 28-5 5zM346 1213l5 33-10-34zM336 1213l5-1 5 1zM336 1213l-5-1 10 0zM326 1223l5-11 5 1zM326 1223l-5 4 10-15zM317 1249l4-22 5-4zM317 1249l-6 2 10-24zM307 1270l4-19 6-2zM307 1270l-5 14 9-33zM297 1312l5-28 5-14zM297 1312l-5 9 10-37z"/>
<path fill="url(#b35)" d="M756 1091l5 6-10 2zM746 1100l10-9-5 8zM746 1100l5-1-10 24zM736 1097l10 3-5 23zM736 1097l5 26-10-23zM726 1154l5-54 5-3zM726 1154l-5-48 10-6zM717 1163l4-57 5 48zM717 1163l-6-10 10-47zM707 1131l10 32-6-10zM707 1131l4 22-9-27zM697 1133l5-7 5 5zM697 1133l-5-26 10 19zM687 1128l5-21 5 26zM687 1128l-5-7 10-14zM677 1149l5-28 5 7zM677 1149l-5-49 10 21zM667 1131l5-31 5 49zM667 1131l-5-24 10-7zM657 1146l5-39 5 24zM657 1146l-5-19 10-20zM647 1156l5-29 5 19zM647 1156l-5 12 10-41zM638 1151l9 5-5 12zM638 1151l4 17-10 10zM628 1173l10-22-6 27zM628 1173l-5-19 9 24zM618 1150l5 4 5 19zM618 1150l5 4-10 0zM608 1134l10 16-5 4zM608 1134l5 20-10-16zM598 1128l10 6-5 4zM598 1128l5 10-10-7zM588 1158l5-27 5-3zM588 1158l-5-3 10-24zM578 1198l5-43 5 3zM578 1198l-5-29 10-14zM568 1181l5-12 5 29zM568 1181l-5-41 10 29zM559 1169l4-29 5 41zM559 1169l-6-13 10-16zM549 1145l10 24-6-13zM549 1145l4 11-9-24zM539 1156l5-24 5 13zM539 1156l-5-4 10-20zM529 1201l5-49 5 4zM529 1201l-5-53 10 4zM519 1197l5-49 5 53zM519 1197l-5-6 10-43zM509 1199l5-8 5 6zM509 1199l-5-27 10 19zM499 1187l5-15 5 27zM499 1187l-5-22 10 7zM489 1198l5-33 5 22zM489 1198l-5-36 10 3zM480 1164l4-2 5 36zM480 1164l4-2-9 37zM470 1178l10-14-5 35zM470 1178l5 21-10-23zM460 1192l5-16 5 2zM460 1192l-5-28 10 12zM450 1183l5-19 5 28zM450 1183l5-19-10 40zM440 1205l10-22-5 21zM440 1205l5-1-10 9zM430 1201l10 4-5 8zM430 1201l-5-13 10 25zM420 1193l5-5 5 13zM420 1193l5-5-10 27zM411 1209l9-16-5 22zM411 1209l4 6-10 45zM401 1224l10-15-6 51zM401 1224l4 36-9-27zM391 1222l10 2-5 9zM391 1222l-5-16 10 27zM381 1238l5-32 5 16zM381 1238l-5-24 10-8zM371 1251l5-37 5 24zM371 1251l-5-8 10-29zM361 1258l5-15 5 8zM361 1258l-5-17 10 2zM351 1231l5 10 5 17zM351 1231l-5-18 10 28zM341 1255l5-42 5 18zM341 1255l-5-42 10 0zM332 1253l4-40 5 42zM332 1253l-6-30 10-10zM322 1269l4-46 6 30zM322 1269l-5-20 9-26zM312 1247l5 2 5 20zM312 1247l5 2-10 21zM302 1303l5-33 5-23zM302 1303l-5 9 10-42z"/>
<path fill="url(#b34)" d="M761 1108l5-5 5 9zM761 1108l-5-17 10 12zM751 1096l5-5 5 17zM751 1096l-5 4 10-9zM741 1107l5-7 5-4zM741 1107l-5-10 10 3zM731 1143l5-46 5 10zM731 1143l-5 11 10-57zM722 1126l9 17-5 11zM722 1126l4 28-9 9zM712 1141l10-15-5 37zM712 1141l5 22-10-32zM702 1136l5-5 5 10zM702 1136l-5-3 10-2zM692 1135l5-2 5 3zM692 1135l-5-7 10 5zM682 1171l5-43 5 7zM682 1171l-5-22 10-21zM672 1150l5-1 5 22zM672 1150l-5-19 10 18zM662 1122l5 9 5 19zM662 1122l5 9-10 15zM653 1153l9-31-5 24zM653 1153l-6 3 10-10zM643 1147l10 6-6 3zM643 1147l4 9-9-5zM633 1169l5-18 5-4zM633 1169l-5 4 10-22zM623 1157l10 12-5 4zM623 1157l5 16-10-23zM613 1137l10 20-5-7zM613 1137l5 13-10-16zM603 1118l10 19-5-3zM603 1118l5 16-10-6zM593 1147l5-19 5-10zM593 1147l-5 11 10-30zM583 1164l10-17-5 11zM583 1164l5-6-10 40zM574 1159l9 5-5 34zM574 1159l4 39-10-17zM564 1177l10-18-6 22zM564 1177l-5-8 9 12zM554 1163l5 6 5 8zM554 1163l-5-18 10 24zM544 1183l5-38 5 18zM544 1183l-5-27 10-11zM534 1194l5-38 5 27zM534 1194l-5 7 10-45zM524 1218l5-17 5-7zM524 1218l-5-21 10 4zM514 1201l5-4 5 21zM514 1201l-5-2 10-2zM504 1193l10 8-5-2zM495 1190l4-3 5 6zM495 1190l4-3-10 11zM485 1206l4-8 6-8zM485 1206l-5-42 9 34zM475 1190l5-26 5 42zM475 1190l-5-12 10-14zM465 1183l5-5 5 12zM465 1183l5-5-10 14zM455 1206l5-14 5-9zM455 1206l-5-23 10 9zM445 1217l5-34 5 23zM445 1217l-5-12 10-22zM435 1198l5 7 5 12zM435 1198l5 7-10-4zM425 1202l10-4-5 3zM425 1202l-5-9 10 8zM416 1187l4 6 5 9zM416 1187l4 6-9 16zM406 1207l10-20-5 22zM406 1207l5 2-10 15zM396 1225l10-18-5 17zM396 1225l-5-3 10 2zM386 1246l5-24 5 3zM386 1246l-5-8 10-16zM376 1270l5-32 5 8zM376 1270l-5-19 10-13zM366 1264l5-13 5 19zM366 1264l-5-6 10-7zM356 1237l10 27-5-6zM356 1237l5 21-10-27zM347 1244l4-13 5 6zM347 1244l-6 11 10-24zM337 1258l10-14-6 11zM337 1258l-5-5 9 2zM327 1252l5 1 5 5zM327 1252l5 1-10 16zM317 1270l10-18-5 17zM317 1270l-5-23 10 22zM307 1315l5-68 5 23zM307 1315l-5-12 10-56z"/>
<path fill="url(#b33)" d="M766 1156l5-44 5 20zM766 1156l-5-48 10 4zM756 1102l5 6 5 48zM746 1093l5 3 5 6zM746 1093l5 3-10 11zM737 1112l9-19-5 14zM737 1112l4-5-10 36zM727 1153l10-41-6 31zM727 1153l-5-27 9 17zM717 1125l5 1 5 27zM717 1125l5 1-10 15zM707 1140l10-15-5 16zM707 1140l-5-4 10 5zM697 1159l5-23 5 4zM697 1159l-5-24 10 1zM687 1187l5-52 5 24zM687 1187l-5-16 10-36zM677 1142l10 45-5-16zM677 1142l5 29-10-21zM667 1104l10 38-5 8zM667 1104l5 46-10-28zM658 1157l4-35 5-18zM658 1157l-5-4 9-31zM648 1148l10 9-5-4zM648 1148l5 5-10-6zM638 1165l5-18 5 1zM638 1165l-5 4 10-22zM628 1180l5-11 5-4zM628 1180l-5-23 10 12zM618 1160l5-3 5 23zM618 1160l-5-23 10 20zM608 1150l5-13 5 23zM608 1150l-5-32 10 19zM598 1110l5 8 5 32zM598 1110l5 8-10 29zM589 1147l9-37-5 37zM589 1147l4 0-10 17zM579 1147l10 0-6 17zM579 1147l4 17-9-5zM569 1166l10-19-5 12zM569 1166l5-7-10 18zM559 1198l5-21 5-11zM559 1198l-5-35 10 14zM549 1205l5-42 5 35zM549 1205l-5-22 10-20zM539 1196l5-13 5 22zM539 1196l-5-2 10-11zM529 1208l5-14 5 2zM529 1208l-5 10 10-24zM519 1192l10 16-5 10zM519 1192l5 26-10-17zM510 1196l9-4-5 9zM510 1196l4 5-10-8zM500 1218l4-25 6 3zM500 1218l-5-28 9 3zM490 1234l5-44 5 28zM490 1234l-5-28 10-16zM480 1218l5-12 5 28zM480 1218l-5-28 10 16zM470 1204l5-14 5 28zM470 1204l-5-21 10 7zM460 1183l5 0 5 21zM460 1183l5 0-10 23zM450 1191l10-8-5 23zM450 1191l5 15-10 11zM440 1213l10-22-5 26zM440 1213l-5-15 10 19zM431 1208l4-10 5 15zM431 1208l-6-6 10-4zM421 1220l4-18 6 6zM421 1220l-5-33 9 15zM411 1238l5-51 5 33zM411 1238l-5-31 10-20zM401 1243l5-36 5 31zM401 1243l-5-18 10-18zM391 1251l5-26 5 18zM391 1251l-5-5 10-21zM381 1252l5-6 5 5zM381 1252l5-6-10 24zM371 1267l10-15-5 18zM361 1237l10 30-5-3zM361 1237l5 27-10-27zM352 1272l4-35 5 0zM352 1272l-5-28 9-7zM342 1282l5-38 5 28zM342 1282l-5-24 10-14zM332 1253l5 5 5 24zM332 1253l5 5-10-6zM322 1267l5-15 5 1zM322 1267l-5 3 10-18zM312 1340l5-70 5-3zM312 1340l-5-25 10-45z"/>
<path fill="url(#b32)" d="M771 1154l5-22 5 11zM771 1154l-5 2 10-24zM761 1144l10 10-5 2zM761 1144l-5-42 10 54zM752 1093l4 9 5 42zM752 1093l4 9-10-9zM742 1138l4-45 6 0zM742 1138l-5-26 9-19zM732 1173l5-61 5 26zM732 1173l-5-20 10-41zM722 1139l5 14 5 20zM712 1137l5-12 5 14zM712 1137l-5 3 10-15zM702 1105l10 32-5 3zM702 1105l5 35-10 19zM692 1119l10-14-5 54zM692 1119l5 40-10 28zM682 1119l10 0-5 68zM682 1119l5 68-10-45zM673 1124l9-5-5 23zM673 1124l4 18-10-38zM663 1130l4-26 6 20zM663 1130l-5 27 9-53zM653 1134l10-4-5 27zM653 1134l5 23-10-9zM643 1160l10-26-5 14zM643 1160l-5 5 10-17zM633 1169l10-9-5 5zM633 1169l5-4-10 15zM623 1130l10 39-5 11zM623 1130l5 50-10-20zM613 1135l10-5-5 30zM613 1135l5 25-10-10zM603 1120l10 15-5 15zM603 1120l5 30-10-40zM594 1164l4-54 5 10zM594 1164l-5-17 9-37zM584 1211l5-64 5 17zM584 1211l-5-64 10 0zM574 1207l5-60 5 64zM574 1207l-5-41 10-19zM564 1219l5-53 5 41zM564 1219l-5-21 10-32zM554 1215l5-17 5 21zM554 1215l-5-10 10-7zM544 1226l5-21 5 10zM544 1226l-5-30 10 9zM534 1219l5-23 5 30zM534 1219l-5-11 10-12zM525 1201l4 7 5 11zM525 1201l4 7-10-16zM515 1176l10 25-6-9zM515 1176l4 16-9 4zM505 1195l10-19-5 20zM505 1195l5 1-10 22zM495 1228l10-33-5 23zM495 1228l-5 6 10-16zM485 1209l10 19-5 6zM485 1209l5 25-10-16zM475 1197l10 12-5 9zM475 1197l5 21-10-14zM465 1191l10 6-5 7zM465 1191l5 13-10-21zM455 1210l5-27 5 8zM455 1210l-5-19 10-8zM446 1224l4-33 5 19zM446 1224l-6-11 10-22zM436 1229l4-16 6 11zM436 1229l-5-21 9 5zM426 1213l5-5 5 21zM426 1213l5-5-10 12zM416 1244l5-24 5-7zM416 1244l-5-6 10-18zM406 1261l5-23 5 6zM406 1261l-5-18 10-5zM396 1265l5-22 5 18zM396 1265l-5-14 10-8zM386 1254l5-3 5 14zM386 1254l-5-2 10-1zM376 1217l10 37-5-2zM376 1217l5 35-10 15zM367 1228l9-11-5 50zM367 1228l4 39-10-30zM357 1243l4-6-9 35zM347 1278l10-35-5 29zM347 1278l-5 4 10-10zM337 1285l10-7-5 4zM337 1285l-5-32 10 29zM327 1265l5-12 5 32zM327 1265l-5 2 10-14zM317 1350l5-83 5-2zM317 1350l-5-10 10-73z"/>
<path fill="url(#b31)" d="M776 1138l10-5-5 10zM776 1138l5 5-10 11zM767 1152l9-14-5 16zM767 1152l-6-8 10 10zM757 1120l10 32-6-8zM757 1120l4 24-9-51zM747 1144l5-51 5 27zM747 1144l-5-6 10-45zM737 1145l5-7 5 6zM737 1145l5-7-10 35zM727 1131l10 14-5 28zM727 1131l5 42-10-34zM717 1130l10 1-5 8zM717 1130l5 9-10-2zM707 1117l10 13-5 7zM707 1117l5 20-10-32zM697 1111l5-6 5 12zM697 1111l5-6-10 14zM688 1098l9 13-5 8zM688 1098l4 21-10 0zM678 1119l10-21-6 21zM678 1119l4 0-9 5zM668 1115l10 4-5 5zM668 1115l5 9-10 6zM658 1147l5-17 5-15zM658 1147l-5-13 10-4zM648 1180l5-46 5 13zM648 1180l-5-20 10-26zM638 1170l5-10 5 20zM638 1170l-5-1 10-9zM628 1169l5 0 5 1zM628 1169l-5-39 10 39zM618 1154l5-24 5 39zM618 1154l-5-19 10-5zM609 1151l4-16 5 19zM609 1151l-6-31 10 15zM599 1179l4-59 6 31zM599 1179l-5-15 9-44zM589 1217l5-53 5 15zM589 1217l-5-6 10-47zM579 1210l5 1 5 6zM579 1210l-5-3 10 4zM569 1206l5 1 5 3zM569 1206l5 1-10 12zM559 1184l10 22-5 13zM559 1184l5 35-10-4zM549 1233l10-49-5 31zM549 1233l-5-7 10-11zM540 1236l4-10 5 7zM540 1236l-6-17 10 7zM530 1258l4-39 6 17zM530 1258l-5-57 9 18zM520 1224l5-23 5 57zM520 1224l-5-48 10 25zM510 1220l5-44 5 48zM510 1220l-5-25 10-19zM500 1195l5 0 5 25zM500 1195l5 0-10 33zM490 1216l10-21-5 33zM490 1216l5 12-10-19zM480 1219l5-10 5 7zM480 1219l-5-22 10 12zM470 1235l5-38 5 22zM470 1235l-5-44 10 6zM461 1257l4-66 5 44zM461 1257l-6-47 10-19zM451 1244l4-34 6 47zM451 1244l-5-20 9-14zM441 1240l5-16 5 20zM441 1240l-5-11 10-5zM431 1224l5 5 5 11zM431 1224l-5-11 10 16zM421 1248l5-35 5 11zM421 1248l-5-4 10-31zM411 1283l5-39 5 4zM411 1283l-5-22 10-17zM401 1280l5-19 5 22zM401 1280l-5-15 10-4zM391 1252l5 13 5 15zM391 1252l5 13-10-11zM382 1238l9 14-5 2zM382 1238l4 16-10-37zM372 1232l4-15 6 21zM372 1232l-5-4 9-11zM362 1274l5-46 5 4zM362 1274l-5-31 10-15zM352 1319l5-76 5 31zM352 1319l-5-41 10-35zM342 1298l5-20 5 41zM342 1298l-5-13 10-7zM332 1306l5-21 5 13zM332 1306l-5-41 10 20zM322 1368l5-103 5 41zM322 1368l-5-18 10-85z"/>
<path fill="url(#b30)" d="M782 1148l4-15 5-15zM782 1148l-6-10 10-5zM772 1124l10 24-6-10zM772 1124l4 14-9 14zM762 1157l10-33-5 28zM762 1157l-5-37 10 32zM752 1141l5-21 5 37zM752 1141l-5 3 10-24zM742 1151l5-7 5-3zM742 1151l-5-6 10-1zM732 1149l5-4 5 6zM732 1149l-5-18 10 14zM722 1131l5 0 5 18zM722 1131l-5-1 10 1zM712 1130l5 0 5 1zM712 1130l-5-13 10 13zM703 1124l4-7 5 13zM703 1124l-6-13 10 6zM693 1113l4-2 6 13zM693 1113l-5-15 9 13zM683 1126l5-28 5 15zM683 1126l-5-7 10-21zM673 1157l5-38 5 7zM673 1157l-5-42 10 4zM663 1170l5-55 5 42zM663 1170l-5-23 10-32zM653 1185l5-38 5 23zM653 1185l-5-5 10-33zM643 1193l5-13 5 5zM643 1193l-5-23 10 10zM633 1201l5-31 5 23zM633 1201l-5-32 10 1zM624 1177l4-8 5 32zM624 1177l-6-23 10 15zM614 1184l4-30 6 23zM614 1184l-5-33 9 3zM604 1178l5-27 5 33zM604 1178l-5 1 10-28zM594 1189l5-10 5-1zM594 1189l5-10-10 38zM584 1237l10-48-5 28zM584 1237l-5-27 10 7zM574 1224l5-14 5 27zM574 1224l-5-18 10 4zM564 1207l5-1 5 18zM564 1207l-5-23 10 22zM554 1203l5-19 5 23zM554 1203l5-19-10 49zM545 1214l9-11-5 30zM545 1214l4 19-9 3zM535 1245l10-31-5 22zM535 1245l5-9-10 22zM525 1220l10 25-5 13zM525 1220l5 38-10-34zM515 1204l10 16-5 4zM515 1204l5 20-10-4zM505 1194l10 10-5 16zM505 1194l5 26-10-25zM495 1203l5-8 5-1zM495 1203l5-8-10 21zM485 1238l5-22 5-13zM485 1238l-5-19 10-3zM476 1269l4-50 5 19zM476 1269l-6-34 10-16zM466 1238l4-3 6 34zM466 1238l4-3-9 22zM456 1262l10-24-5 19zM456 1262l-5-18 10 13zM446 1252l5-8 5 18zM446 1252l-5-12 10 4zM436 1272l5-32 5 12zM436 1272l-5-48 10 16zM426 1273l5-49 5 48zM426 1273l-5-25 10-24zM416 1237l5 11 5 25zM416 1237l5 11-10 35zM406 1220l10 17-5 46zM406 1220l5 63-10-3zM397 1269l9-49-5 60zM397 1269l-6-17 10 28zM387 1270l4-18 6 17zM387 1270l-5-32 9 14zM377 1253l5-15 5 32zM377 1253l-5-21 10 6zM367 1310l5-78 5 21zM367 1310l-5-36 10-42zM357 1319l5-45 5 36zM357 1319l-5 0 10-45zM347 1314l10 5-5 0zM347 1314l-5-16 10 21zM337 1303l5-5 5 16zM337 1303l-5 3 10-8zM327 1393l5-87 5-3zM327 1393l-5-25 10-62z"/>
<path fill="url(#b29)" d="M787 1131l4-13 5 9zM787 1131l4-13-9 30zM777 1145l10-14-5 17zM777 1145l-5-21 10 24zM767 1132l5-8 5 21zM767 1132l5-8-10 33zM757 1132l10 0-5 25zM757 1132l5 25-10-16zM747 1155l5-14 5-9zM747 1155l-5-4 10-10zM737 1159l5-8 5 4zM737 1159l-5-10 10 2zM727 1162l5-13 5 10zM727 1162l-5-31 10 18zM718 1140l4-9 5 31zM718 1140l-6-10 10 1zM708 1120l10 20-6-10zM708 1120l4 10-9-6zM698 1141l5-17 5-4zM698 1141l-5-28 10 11zM688 1138l5-25 5 28zM688 1138l-5-12 10-13zM678 1150l5-24 5 12zM678 1150l-5 7 10-31zM668 1191l5-34 5-7zM668 1191l-5-21 10-13zM658 1232l5-62 5 21zM658 1232l-5-47 10-15zM648 1230l5-45 5 47zM648 1230l-5-37 10-8zM639 1184l4 9 5 37zM639 1184l4 9-10 8zM629 1196l10-12-6 17zM629 1196l-5-19 9 24zM619 1175l5 2 5 19zM619 1175l5 2-10 7zM609 1201l5-17 5-9zM609 1201l-5-23 10 6zM599 1206l5-28 5 23zM599 1206l-5-17 10-11zM589 1205l5-16 5 17zM589 1205l5-16-10 48zM579 1224l10-19-5 32zM579 1224l5 13-10-13zM569 1194l10 30-5 0zM569 1194l5 30-10-17zM560 1193l9 1-5 13zM560 1193l4 14-10-4zM550 1230l4-27 6-10zM550 1230l-5-16 9-11zM540 1225l5-11 5 16zM540 1225l5-11-10 31zM530 1231l10-6-5 20zM530 1231l5 14-10-25zM520 1221l5-1 5 11zM520 1221l-5-17 10 16zM510 1273l5-69 5 17zM510 1273l-5-79 10 10zM500 1226l5-32 5 79zM500 1226l-5-23 10-9zM490 1289l5-86 5 23zM490 1289l-5-51 10-35zM481 1271l4-33 5 51zM481 1271l-5-2 9-31zM471 1250l10 21-5-2zM471 1250l5 19-10-31zM461 1272l5-34 5 12zM461 1272l-5-10 10-24zM451 1268l5-6 5 10zM451 1268l-5-16 10 10zM441 1256l5-4 5 16zM441 1256l5-4-10 20zM431 1274l10-18-5 16zM431 1274l-5-1 10-1zM421 1237l10 37-5-1zM421 1237l5 36-10-36zM412 1261l4-24 5 0zM412 1261l-6-41 10 17zM402 1317l4-97 6 41zM402 1317l-5-48 9-49zM392 1316l5-47 5 48zM392 1316l-5-46 10-1zM382 1295l5-25 5 46zM382 1295l-5-42 10 17zM372 1295l5-42 5 42zM372 1295l-5 15 10-57zM362 1311l10-16-5 15zM362 1311l5-1-10 9zM352 1319l10-8-5 8zM352 1319l-5-5 10 5zM342 1293l10 26-5-5zM342 1293l5 21-10-11zM333 1411l4-108 5-10zM333 1411l-6-18 10-90z"/>
<path fill="url(#b28)" d="M792 1138l4-11 6 14zM792 1138l-5-7 9-4zM782 1143l5-12 5 7zM782 1143l-5 2 10-14zM772 1133l10 10-5 2zM772 1133l5 12-10-13zM762 1147l5-15 5 1zM762 1147l-5-15 10 0zM752 1161l5-29 5 15zM752 1161l-5-6 10-23zM742 1178l5-23 5 6zM742 1178l-5-19 10-4zM732 1173l5-14 5 19zM732 1173l-5-11 10-3zM723 1183l4-21 5 11zM723 1183l-5-43 9 22zM713 1167l5-27 5 43zM713 1167l-5-47 10 20zM703 1159l5-39 5 47zM703 1159l-5-18 10-21zM693 1157l5-16 5 18zM693 1157l-5-19 10 3zM683 1215l5-77 5 19zM683 1215l-5-65 10-12zM673 1223l5-73 5 65zM673 1223l-5-32 10-41zM663 1215l5-24 5 32zM663 1215l-5 17 10-41zM654 1214l9 1-5 17zM654 1214l4 18-10-2zM644 1193l10 21-6 16zM644 1193l4 37-9-46zM634 1194l5-10 5 9zM634 1194l-5 2 10-12zM624 1201l5-5 5-2zM624 1201l-5-26 10 21zM614 1261l5-86 5 26zM614 1261l-5-60 10-26zM604 1223l5-22 5 60zM604 1223l-5-17 10-5zM594 1186l10 37-5-17zM594 1186l5 20-10-1zM584 1233l5-28 5-19zM584 1233l-5-9 10-19zM575 1218l4 6 5 9zM575 1218l-6-24 10 30zM565 1235l4-41 6 24zM565 1235l-5-42 9 1zM555 1221l5-28 5 42zM555 1221l-5 9 10-37zM545 1261l5-31 5-9zM545 1261l-5-36 10 5zM535 1269l5-44 5 36zM535 1269l-5-38 10-6zM525 1239l5-8 5 38zM525 1239l-5-18 10 10zM515 1284l5-63 5 18zM515 1284l-5-11 10-52zM505 1259l10 25-5-11zM505 1259l-5-33 10 47zM496 1267l4-41 5 33zM496 1267l-6 22 10-63zM486 1278l10-11-6 22zM486 1278l4 11-9-18zM476 1266l5 5 5 7zM476 1266l-5-16 10 21zM466 1289l5-39 5 16zM466 1289l-5-17 10-22zM456 1201l10 88-5-17zM456 1201l5 71-10-4zM446 1229l10-28-5 67zM446 1229l5 39-10-12zM436 1270l10-41-5 27zM436 1270l-5 4 10-18zM426 1254l10 16-5 4zM426 1254l5 20-10-37zM417 1300l4-63 5 17zM417 1300l-5-39 9-24zM407 1299l5-38 5 39zM407 1299l-5 18 10-56zM397 1306l10-7-5 18zM397 1306l5 11-10-1zM387 1288l10 18-5 10zM387 1288l5 28-10-21zM377 1280l10 8-5 7zM377 1280l5 15-10 0zM367 1271l10 9-5 15zM367 1271l5 24-10 16zM357 1283l10-12-5 40zM357 1283l5 28-10 8zM348 1306l9-23-5 36zM348 1306l4 13-10-26zM338 1419l4-126 6 13zM338 1419l-5-8 9-118z"/>
<path fill="url(#b27)" d="M797 1138l5 3 5 13zM797 1138l5 3-10-3zM787 1144l5-6 5 0zM787 1144l-5-1 10-5zM777 1160l5-17 5 1zM777 1160l-5-27 10 10zM767 1143l5-10 5 27zM767 1143l-5 4 10-14zM757 1185l5-38 5-4zM757 1185l-5-24 10-14zM747 1186l5-25 5 24zM747 1186l-5-8 10-17zM738 1167l9 19-5-8zM738 1167l4 11-10-5zM728 1168l10-1-6 6zM728 1168l4 5-9 10zM718 1178l10-10-5 15zM718 1178l-5-11 10 16zM708 1162l5 5 5 11zM708 1162l5 5-10-8zM698 1170l5-11 5 3zM698 1170l-5-13 10 2zM688 1215l5-58 5 13zM688 1215l-5 0 10-58zM678 1218l5-3 5 0zM678 1218l5-3-10 8zM668 1198l10 20-5 5zM668 1198l5 25-10-8zM659 1181l9 17-5 17zM659 1181l4 34-9-1zM649 1167l10 14-5 33zM649 1167l5 47-10-21zM639 1219l-5-25 10-1zM629 1223l5-29 5 25zM629 1223l-5-22 10-7zM619 1274l5-73 5 22zM619 1274l-5-13 10-60zM609 1222l10 52-5-13zM609 1222l5 39-10-38zM599 1205l10 17-5 1zM599 1205l-5-19 10 37zM590 1253l4-67 5 19zM590 1253l-6-20 10-47zM580 1247l4-14 6 20zM580 1247l-5-29 9 15zM570 1257l5-39 5 29zM570 1257l-5-22 10-17zM560 1236l5-1 5 22zM560 1236l-5-15 10 14zM550 1214l5 7 5 15zM550 1214l5 7-10 40zM540 1253l10-39-5 47zM540 1253l5 8-10 8zM530 1279l10-26-5 16zM530 1279l-5-40 10 30zM520 1288l5-49 5 40zM520 1288l-5-4 10-45zM511 1247l9 41-5-4zM511 1247l4 37-10-25zM501 1278l4-19 6-12zM501 1278l-5-11 9-8zM491 1281l5-14 5 11zM491 1281l-5-3 10-11zM481 1287l5-9 5 3zM481 1287l-5-21 10 12zM471 1258l5 8 5 21zM471 1258l5 8-10 23zM461 1233l10 25-5 31zM461 1233l5 56-10-88zM451 1259l5-58 5 32zM451 1259l-5-30 10-28zM441 1261l5-32 5 30zM441 1261l-5 9 10-41zM432 1280l4-10 5-9zM432 1280l-6-26 10 16zM422 1270l4-16 6 26zM422 1270l4-16-9 46zM412 1300l10-30-5 30zM412 1300l-5-1 10 1zM402 1292l10 8-5-1zM402 1292l5 7-10 7zM392 1295l10-3-5 14zM392 1295l5 11-10-18zM382 1284l5 4 5 7zM372 1294l5-14 5 4zM372 1294l-5-23 10 9zM362 1286l5-15 5 23zM362 1286l-5-3 10-12zM353 1296l4-13 5 3zM353 1296l-5 10 9-23zM343 1423l5-117 5-10zM343 1423l-5-4 10-113z"/>
<path fill="url(#b26)" d="M802 1145l10 15-5-6zM802 1145l5 9-10-16zM792 1138l5 0 5 7zM792 1138l5 0-10 6zM782 1161l5-17 5-6zM782 1161l-5-1 10-16zM772 1167l5-7 5 1zM772 1167l-5-24 10 17zM762 1188l5-45 5 24zM762 1188l-5-3 10-42zM753 1174l9 14-5-3zM753 1174l4 11-10 1zM743 1134l10 40-6 12zM743 1134l4 52-9-19zM733 1131l10 3-5 33zM733 1131l5 36-10 1zM723 1165l10-34-5 37zM723 1165l5 3-10 10zM713 1173l10-8-5 13zM713 1173l-5-11 10 16zM703 1145l10 28-5-11zM703 1145l5 17-10 8zM693 1171l10-26-5 25zM693 1171l5-1-10 45zM683 1212l10-41-5 44zM683 1212l5 3-10 3zM674 1233l4-15 5-6zM674 1233l-6-35 10 20zM664 1177l4 21 6 35zM664 1177l4 21-9-17zM654 1203l5-22 5-4zM654 1203l-5-36 10 14zM644 1164l5 3 5 36zM644 1164l5 3-10 52zM634 1191l10-27-5 55zM634 1191l5 28-10 4zM624 1242l10-51-5 32zM624 1242l5-19-10 51zM614 1203l10 39-5 32zM614 1203l5 71-10-52zM604 1239l10-36-5 19zM604 1239l-5-34 10 17zM595 1259l4-54 5 34zM595 1259l-5-6 9-48zM585 1225l10 34-5-6zM585 1225l5 28-10-6zM575 1253l10-28-5 22zM575 1253l-5 4 10-10zM565 1248l10 5-5 4zM565 1248l-5-12 10 21zM555 1204l10 44-5-12zM555 1204l5 32-10-22zM545 1216l10-12-5 10zM545 1216l5-2-10 39zM535 1251l10-35-5 37zM535 1251l5 2-10 26zM526 1249l9 2-5 28zM526 1249l4 30-10 9zM516 1294l10-45-6 39zM516 1294l-5-47 9 41zM506 1275l5-28 5 47zM506 1275l-5 3 10-31zM496 1295l5-17 5-3zM496 1295l-5-14 10-3zM486 1301l5-20 5 14zM486 1301l-5-14 10-6zM476 1234l10 67-5-14zM476 1234l5 53-10-29zM466 1268l10-34-5 24zM466 1268l-5-35 10 25zM456 1261l5-28 5 35zM456 1261l-5-2 10-26zM447 1270l4-11 5 2zM447 1270l-6-9 10-2zM437 1266l4-5 6 9zM437 1266l4-5-9 19zM427 1305l5-25 5-14zM427 1305l-5-35 10 10zM417 1332l5-62 5 35zM417 1332l-5-32 10-30zM407 1287l5 13 5 32zM407 1287l5 13-10-8zM397 1318l5-26 5-5zM397 1318l-5-23 10-3zM387 1316l5-21 5 23zM387 1316l-5-32 10 11zM377 1307l5-23 5 32zM377 1307l-5-13 10-10zM368 1332l4-38 5 13zM368 1332l-6-46 10 8zM358 1332l4-46 6 46zM358 1332l-5-36 9-10zM348 1409l5-113 5 36zM348 1409l-5 14 10-127z"/>
<path fill="url(#b25)" d="M807 1166l5-6 5 1zM807 1166l-5-21 10 15zM797 1140l5 5 5 21zM797 1140l5 5-10-7zM787 1168l5-30 5 2zM787 1168l-5-7 10-23zM777 1174l5-13 5 7zM777 1174l-5-7 10-6zM768 1162l4 5 5 7zM768 1162l4 5-10 21zM758 1167l10-5-6 26zM758 1167l4 21-9-14zM748 1167l10 0-5 7zM748 1167l-5-33 10 40zM738 1154l5-20 5 33zM738 1154l-5-23 10 3zM728 1166l5-35 5 23zM728 1166l-5-1 10-34zM718 1205l5-40 5 1zM718 1205l-5-32 10-8zM708 1190l5-17 5 32zM708 1190l-5-45 10 28zM698 1169l5-24 5 45zM698 1169l-5 2 10-26zM689 1178l4-7 5-2zM689 1178l4-7-10 41zM679 1211l10-33-6 34zM679 1211l4 1-9 21zM669 1211l10 0-5 22zM669 1211l-5-34 10 56zM659 1229l5-52 5 34zM659 1229l-5-26 10-26zM649 1195l5 8 5 26zM649 1195l-5-31 10 39zM639 1204l5-40 5 31zM639 1204l-5-13 10-27zM629 1232l5-41 5 13zM629 1232l-5 10 10-51zM619 1168l10 64-5 10zM619 1168l5 74-10-39zM610 1211l9-43-5 35zM610 1211l4-8-10 36zM600 1205l10 6-6 28zM600 1205l4 34-9 20zM590 1213l10-8-5 54zM590 1213l5 46-10-34zM580 1246l5-21 5-12zM580 1246l-5 7 10-28zM570 1274l5-21 5-7zM570 1274l-5-26 10 5zM560 1283l5-35 5 26zM560 1283l-5-79 10 44zM550 1255l5-51 5 79zM550 1255l-5-39 10-12zM541 1254l4-38 5 39zM541 1254l-6-3 10-35zM531 1227l10 27-6-3zM531 1227l4 24-9-2zM521 1238l10-11-5 22zM521 1238l5 11-10 45zM511 1263l10-25-5 56zM511 1263l5 31-10-19zM501 1274l10-11-5 12zM501 1274l5 1-10 20zM491 1266l10 8-5 21zM491 1266l5 29-10 6zM481 1246l10 20-5 35zM481 1246l5 55-10-67zM471 1270l5-36 5 12zM471 1270l-5-2 10-34zM462 1293l4-25 5 2zM462 1293l-6-32 10 7zM452 1247l4 14 6 32zM452 1247l4 14-9 9zM442 1290l10-43-5 23zM442 1290l-5-24 10 4zM432 1321l5-55 5 24zM432 1321l-5-16 10-39zM422 1304l5 1 5 16zM422 1304l5 1-10 27zM412 1291l10 13-5 28zM412 1291l5 41-10-45zM402 1315l5-28 5 4zM402 1315l-5 3 10-31zM392 1308l10 7-5 3zM392 1308l5 10-10-2zM383 1328l4-12 5-8zM383 1328l-6-21 10 9zM373 1348l4-41 6 21zM373 1348l-5-16 9-25zM363 1337l5-5 5 16zM363 1337l-5-5 10 0zM353 1392l5-60 5 5zM353 1392l-5 17 10-77z"/>
<path fill="url(#b24)" d="M812 1171l5-10 5 0zM812 1171l-5-5 10-5zM802 1146l10 25-5-5zM802 1146l5 20-10-26zM792 1164l5-24 5 6zM792 1164l-5 4 10-28zM783 1173l4-5 5-4zM783 1173l-6 1 10-6zM773 1199l4-25 6-1zM773 1199l-5-37 9 12zM763 1157l5 5 5 37zM763 1157l5 5-10 5zM753 1166l10-9-5 10zM753 1166l5 1-10 0zM743 1188l5-21 5-1zM743 1188l-5-34 10 13zM733 1212l5-58 5 34zM733 1212l-5-46 10-12zM723 1203l5-37 5 46zM723 1203l-5 2 10-39zM713 1188l10 15-5 2zM713 1188l5 17-10-15zM704 1187l9 1-5 2zM704 1187l-6-18 10 21zM694 1194l4-25 6 18zM694 1194l-5-16 9-9zM684 1221l5-43 5 16zM684 1221l-5-10 10-33zM674 1239l5-28 5 10zM674 1239l-5-28 10 0zM664 1244l5-33 5 28zM664 1244l-5-15 10-18zM654 1246l5-17 5 15zM654 1246l-5-51 10 34zM644 1216l5-21 5 51zM644 1216l-5-12 10-9zM634 1230l5-26 5 12zM634 1230l-5 2 10-28zM625 1221l9 9-5 2zM625 1221l-6-53 10 64zM615 1235l4-67 6 53zM615 1235l-5-24 9-43zM605 1233l5-22 5 24zM605 1233l-5-28 10 6zM595 1229l5-24 5 28zM595 1229l-5-16 10-8zM585 1227l5-14 5 16zM585 1227l5-14-10 33zM575 1253l10-26-5 19zM575 1253l5-7-10 28zM565 1289l10-36-5 21zM565 1289l-5-6 10-9zM555 1256l10 33-5-6zM555 1256l5 27-10-28zM546 1273l4-18 5 1zM546 1273l-5-19 9 1zM536 1243l5 11 5 19zM536 1243l-5-16 10 27zM526 1231l5-4 5 16zM526 1231l5-4-10 11zM516 1240l10-9-5 7zM516 1240l5-2-10 25zM506 1265l10-25-5 23zM506 1265l5-2-10 11zM496 1270l10-5-5 9zM486 1267l5-1 5 4zM486 1267l-5-21 10 20zM477 1280l4-34 5 21zM477 1280l-6-10 10-24zM467 1310l4-40 6 10zM467 1310l-5-17 9-23zM457 1265l10 45-5-17zM457 1265l5 28-10-46zM447 1309l5-62 5 18zM447 1309l-5-19 10-43zM437 1304l5-14 5 19zM437 1304l5-14-10 31zM427 1277l10 27-5 17zM427 1277l5 44-10-17zM417 1297l10-20-5 27zM417 1297l5 7-10-13zM407 1315l5-24 5 6zM407 1315l-5 0 10-24zM398 1347l4-32 5 0zM398 1347l-6-39 10 7zM388 1327l4-19 6 39zM388 1327l-5 1 9-20zM378 1322l10 5-5 1zM378 1322l5 6-10 20zM368 1345l10-23-5 26zM368 1345l-5-8 10 11zM358 1385l5-48 5 8zM358 1385l-5 7 10-55z"/>
<path fill="url(#b23)" d="M817 1194l5-33 5 1zM817 1194l-5-23 10-10zM807 1165l5 6 5 23zM807 1165l-5-19 10 25zM797 1211l5-65 5 19zM797 1211l-5-47 10-18zM788 1187l4-23 5 47zM788 1187l-5-14 9-9zM778 1174l5-1 5 14zM778 1174l5-1-10 26zM768 1201l10-27-5 25zM768 1201l-5-44 10 42zM758 1165l5-8 5 44zM758 1165l-5 1 10-9zM748 1219l5-53 5-1zM748 1219l-5-31 10-22zM738 1195l5-7 5 31zM738 1195l5-7-10 24zM728 1199l10-4-5 17zM728 1199l5 13-10-9zM719 1195l9 4-5 4zM719 1195l4 8-10-15zM709 1199l4-11 6 7zM709 1199l-5-12 9 1zM699 1217l5-30 5 12zM699 1217l-5-23 10-7zM689 1204l5-10 5 23zM689 1204l5-10-10 27zM679 1213l10-9-5 17zM679 1213l5 8-10 18zM669 1240l10-27-5 26zM669 1240l5-1-10 5zM659 1242l10-2-5 4zM659 1242l5 2-10 2zM649 1250l-5-34 10 30zM640 1233l4-17 5 34zM640 1233l-6-3 10-14zM630 1221l10 12-6-3zM630 1221l4 9-9-9zM620 1252l5-31 5 0zM620 1252l-5-17 10-14zM610 1256l5-21 5 17zM610 1256l-5-23 10 2zM600 1244l5-11 5 23zM600 1244l-5-15 10 4zM590 1231l5-2 5 15zM590 1231l-5-4 10 2zM580 1271l5-44 5 4zM580 1271l-5-18 10-26zM570 1273l5-20 5 18zM570 1273l-5 16 10-36zM561 1255l9 18-5 16zM561 1255l4 34-10-33zM551 1263l4-7 6-1zM551 1263l4-7-9 17zM541 1313l5-40 5-10zM541 1313l-5-70 10 30zM531 1291l5-48 5 70zM531 1291l-5-60 10 12zM521 1278l5-47 5 60zM521 1278l-5-38 10-9zM511 1299l5-59 5 38zM511 1299l-5-34 10-25zM501 1291l5-26 5 34zM501 1291l-5-21 10-5zM491 1300l5-30 5 21zM491 1300l-5-33 10 3zM482 1327l4-60 5 33zM482 1327l-5-47 9-13zM472 1269l5 11 5 47zM472 1269l5 11-10 30zM462 1283l10-14-5 41zM462 1283l5 27-10-45zM452 1312l5-47 5 18zM452 1312l-5-3 10-44zM442 1303l10 9-5-3zM442 1303l5 6-10-5zM432 1266l10 37-5 1zM432 1266l5 38-10-27zM422 1294l5-17 5-11zM422 1294l-5 3 10-20zM413 1302l4-5 5-3zM413 1302l4-5-10 18zM403 1325l4-10 6-13zM403 1325l4-10-9 32zM393 1353l10-28-5 22zM393 1353l-5-26 10 20zM383 1328l5-1 5 26zM383 1328l-5-6 10 5zM373 1370l5-48 5 6zM373 1370l-5-25 10-23zM363 1406l5-61 5 25zM363 1406l-5-21 10-40z"/>
<path fill="url(#b22)" d="M822 1187l5-25 5 1zM822 1187l-5 7 10-32zM812 1162l10 25-5 7zM812 1162l5 32-10-29zM803 1195l4-30 5-3zM803 1195l-6 16 10-46zM793 1215l10-20-6 16zM793 1215l-5-28 9 24zM783 1206l5-19 5 28zM783 1206l-5-32 10 13zM773 1224l5-50 5 32zM773 1224l-5-23 10-27zM763 1169l10 55-5-23zM763 1169l5 32-10-36zM753 1173l5-8 5 4zM753 1173l5-8-10 54zM743 1199l10-26-5 46zM743 1199l5 20-10-24zM733 1189l10 10-5-4zM733 1189l5 6-10 4zM724 1209l4-10 5-10zM724 1209l-5-14 9 4zM714 1233l5-38 5 14zM714 1233l-5-34 10-4zM704 1200l5-1 5 34zM704 1200l5-1-10 18zM694 1212l10-12-5 17zM694 1212l-5-8 10 13zM684 1215l5-11 5 8zM684 1215l-5-2 10-9zM674 1229l5-16 5 2zM674 1229l-5 11 10-27zM664 1258l5-18 5-11zM664 1258l-5-16 10-2zM655 1247l4-5 5 16zM655 1247l-6 3 10-8zM645 1229l10 18-6 3zM645 1229l4 21-9-17zM635 1246l5-13 5-4zM635 1246l-5-25 10 12zM625 1273l5-52 5 25zM625 1273l-5-21 10-31zM615 1251l5 1 5 21zM615 1251l5 1-10 4zM605 1260l10-9-5 5zM605 1260l-5-16 10 12zM595 1266l5-22 5 16zM595 1266l-5-35 10 13zM585 1266l5-35 5 35zM585 1266l-5 5 10-40zM576 1282l4-11 5-5zM576 1282l-6-9 10-2zM566 1282l4-9 6 9zM566 1282l-5-27 9 18zM556 1277l5-22 5 27zM556 1277l-5-14 10-8zM546 1306l5-43 5 14zM546 1306l-5 7 10-50zM536 1326l5-13 5-7zM536 1326l-5-35 10 22zM526 1283l5 8 5 35zM526 1283l5 8-10-13zM516 1313l5-35 5 5zM516 1313l-5-14 10-21zM506 1303l5-4 5 14zM506 1303l-5-12 10 8zM497 1311l4-20 5 12zM497 1311l-6-11 10-9zM487 1304l4-4 6 11zM487 1304l4-4-9 27zM477 1292l10 12-5 23zM477 1292l5 35-10-58zM467 1343l5-74 5 23zM467 1343l-5-60 10-14zM457 1344l5-61 5 60zM457 1344l-5-32 10-29zM447 1306l5 6 5 32zM447 1306l5 6-10-9zM437 1295l10 11-5-3zM437 1295l-5-29 10 37zM427 1306l5-40 5 29zM427 1306l-5-12 10-28zM418 1324l4-30 5 12zM418 1324l-5-22 9-8zM408 1318l5-16 5 22zM408 1318l-5 7 10-23zM398 1367l5-42 5-7zM398 1367l-5-14 10-28zM388 1366l5-13 5 14zM388 1366l-5-38 10 25zM378 1381l5-53 5 38zM378 1381l-5-11 10-42zM368 1433l5-63 5 11zM368 1433l-5-27 10-36z"/>
<path fill="url(#b21)" d="M827 1174l5-11 5 1zM827 1174l5-11-10 24zM818 1181l9-7-5 13zM818 1181l-6-19 10 25zM808 1205l4-43 6 19zM808 1205l-5-10 9-33zM798 1216l5-21 5 10zM798 1216l-5-1 10-20zM788 1228l5-13 5 1zM788 1228l-5-22 10 9zM778 1217l5-11 5 22zM778 1217l-5 7 10-18zM768 1177l10 40-5 7zM768 1177l5 47-10-55zM758 1163l5 6 5 8zM758 1163l5 6-10 4zM748 1197l5-24 5-10zM748 1197l-5 2 10-26zM739 1215l4-16 5-2zM739 1215l-6-26 10 10zM729 1228l4-39 6 26zM729 1228l-5-19 9-20zM719 1221l5-12 5 19zM709 1253l5-20 5-12zM709 1253l-5-53 10 33zM699 1230l5-30 5 53zM699 1230l-5-18 10-12zM689 1230l5-18 5 18zM689 1230l-5-15 10-3zM679 1243l5-28 5 15zM679 1243l-5-14 10-14zM669 1257l5-28 5 14zM669 1257l-5 1 10-29zM660 1253l9 4-5 1zM660 1253l4 5-9-11zM650 1246l5 1 5 6zM650 1246l-5-17 10 18zM640 1269l5-40 5 17zM640 1269l-5-23 10-17zM630 1253l5-7 5 23zM630 1253l5-7-10 27zM620 1243l10 10-5 20zM620 1243l5 30-10-22zM610 1272l5-21 5-8zM610 1272l-5-12 10-9zM600 1252l5 8 5 12zM600 1252l5 8-10 6zM591 1262l9-10-5 14zM591 1262l4 4-10 0zM581 1272l4-6 6-4zM581 1272l4-6-9 16zM571 1288l10-16-5 10zM571 1288l-5-6 10 0zM561 1314l5-32 5 6zM561 1314l-5-37 10 5zM551 1321l5-44 5 37zM551 1321l-5-15 10-29zM541 1284l10 37-5-15zM541 1284l5 22-10 20zM531 1253l10 31-5 42zM531 1253l5 73-10-43zM521 1304l10-51-5 30zM521 1304l-5 9 10-30zM512 1311l9-7-5 9zM512 1311l-6-8 10 10zM502 1314l4-11 6 8zM502 1314l-5-3 9-8zM492 1312l5-1 5 3zM492 1312l-5-8 10 7zM482 1300l5 4 5 8zM482 1300l-5-8 10 12zM472 1334l5-42 5 8zM472 1334l-5 9 10-51zM462 1328l10 6-5 9zM462 1328l5 15-10 1zM452 1319l10 9-5 16zM452 1319l5 25-10-38zM442 1296l5 10 5 13zM442 1296l5 10-10-11zM433 1283l9 13-5-1zM433 1283l4 12-10 11zM423 1311l10-28-6 23zM423 1311l4-5-9 18zM413 1319l10-8-5 13zM413 1319l5 5-10-6zM403 1344l5-26 5 1zM403 1344l-5 23 10-49zM393 1371l10-27-5 23zM393 1371l-5-5 10 1zM383 1363l5 3 5 5zM383 1363l5 3-10 15zM373 1450l5-69 5-18zM373 1450l-5-17 10-52z"/>
<path fill="url(#b20)" d="M833 1178l4-14 5 1zM833 1178l-6-4 10-10zM823 1180l4-6 6 4zM823 1180l-5 1 9-7zM813 1196l5-15 5-1zM813 1196l-5 9 10-24zM803 1198l10-2-5 9zM803 1198l5 7-10 11zM793 1232l10-34-5 18zM793 1232l-5-4 10-12zM783 1251l5-23 5 4zM783 1251l-5-34 10 11zM773 1173l10 78-5-34zM773 1173l5 44-10-40zM763 1158l10 15-5 4zM763 1158l5 19-10-14zM754 1200l4-37 5-5zM754 1200l-6-3 10-34zM744 1192l10 8-6-3zM744 1192l4 5-9 18zM734 1217l10-25-5 23zM734 1217l5-2-10 13zM724 1229l10-12-5 11zM724 1229l-5-8 10 7zM714 1243l5-22 5 8zM714 1243l-5 10 10-32zM704 1220l10 23-5 10zM704 1220l5 33-10-23zM694 1213l10 7-5 10zM694 1213l5 17-10 0zM684 1215l10-2-5 17zM684 1215l5 15-10 13zM675 1259l9-44-5 28zM675 1259l-6-2 10-14zM665 1242l10 17-6-2zM665 1242l4 15-9-4zM655 1254l10-12-5 11zM655 1254l-5-8 10 7zM645 1251l5-5 5 8zM645 1251l5-5-10 23zM635 1258l10-7-5 18zM635 1258l5 11-10-16zM625 1273l5-20 5 5zM625 1273l-5-30 10 10zM615 1270l5-27 5 30zM615 1270l-5 2 10-29zM605 1281l5-9 5-2zM605 1281l-5-29 10 20zM596 1294l4-42 5 29zM596 1294l-5-32 9-10zM586 1265l5-3 5 32zM586 1265l5-3-10 10zM576 1259l10 6-5 7zM576 1259l5 13-10 16zM566 1276l10-17-5 29zM566 1276l5 12-10 26zM556 1307l10-31-5 38zM556 1307l5 7-10 7zM546 1290l10 17-5 14zM546 1290l5 31-10-37zM536 1324l5-40 5 6zM536 1324l-5-71 10 31zM527 1312l4-59 5 71zM527 1312l-6-8 10-51zM517 1332l4-28 6 8zM517 1332l-5-21 9-7zM507 1331l5-20 5 21zM507 1331l-5-17 10-3zM497 1324l5-10 5 17zM497 1324l-5-12 10 2zM487 1288l10 36-5-12zM487 1288l5 24-10-12zM477 1332l5-32 5-12zM477 1332l-5 2 10-34zM467 1338l5-4 5-2zM467 1338l-5-10 10 6zM457 1340l5-12 5 10zM457 1340l-5-21 10 9zM448 1330l4-11 5 21zM448 1330l-6-34 10 23zM438 1310l4-14 6 34zM438 1310l-5-27 9 13zM428 1356l5-73 5 27zM428 1356l-5-45 10-28zM418 1331l5-20 5 45zM418 1331l-5-12 10-8zM408 1350l5-31 5 12zM408 1350l-5-6 10-25zM398 1355l5-11 5 6zM398 1355l5-11-10 27zM388 1346l10 9-5 16zM388 1346l5 25-10-8zM378 1434l5-71 5-17zM378 1434l-5 16 10-87z"/>
<path fill="url(#b19)" d="M838 1228l4-63 6 1zM838 1228l-5-50 9-13zM828 1174l5 4 5 50zM828 1174l5 4-10 2zM818 1193l5-13 5-6zM818 1193l-5 3 10-16zM808 1194l10-1-5 3zM808 1194l5 2-10 2zM798 1253l5-55 5-4zM798 1253l-5-21 10-34zM788 1250l5-18 5 21zM788 1250l-5 1 10-19zM778 1154l10 96-5 1zM778 1154l5 97-10-78zM769 1172l9-18-5 19zM769 1172l-6-14 10 15zM759 1212l4-54 6 14zM759 1212l-5-12 9-42zM749 1233l5-33 5 12zM749 1233l-5-41 10 8zM739 1217l5-25 5 41zM739 1217l-5 0 10-25zM729 1242l5-25 5 0zM729 1242l-5-13 10-12zM719 1241l5-12 5 13zM719 1241l-5 2 10-14zM709 1257l5-14 5-2zM709 1257l-5-37 10 23zM699 1225l5-5 5 37zM699 1225l-5-12 10 7zM690 1224l4-11 5 12zM690 1224l-6-9 10-2zM680 1279l4-64 6 9zM680 1279l-5-20 9-44zM670 1246l5 13 5 20zM670 1246l5 13-10-17zM660 1221l10 25-5-4zM660 1221l5 21-10 12zM650 1250l10-29-5 33zM650 1250l5 4-10-3zM640 1272l5-21 5-1zM640 1272l-5-14 10-7zM630 1290l5-32 5 14zM630 1290l-5-17 10-15zM620 1343l5-70 5 17zM620 1343l-5-73 10 3zM611 1295l4-25 5 73zM611 1295l-6-14 10-11zM601 1271l10 24-6-14zM601 1271l4 10-9 13zM591 1276l10-5-5 23zM591 1276l5 18-10-29zM581 1246l10 30-5-11zM581 1246l5 19-10-6zM571 1266l10-20-5 13zM571 1266l5-7-10 17zM561 1324l5-48 5-10zM561 1324l-5-17 10-31zM551 1326l5-19 5 17zM551 1326l-5-36 10 17zM542 1322l4-32 5 36zM542 1322l-6 2 10-34zM532 1344l4-20 6-2zM532 1344l-5-32 9 12zM522 1347l5-35 5 32zM522 1347l-5-15 10-20zM512 1347l5-15 5 15zM512 1347l-5-16 10 1zM502 1348l5-17 5 16zM502 1348l-5-24 10 7zM492 1311l5 13 5 24zM492 1311l-5-23 10 36zM482 1337l5-49 5 23zM482 1337l-5-5 10-44zM472 1339l5-7 5 5zM472 1339l-5-1 10-6zM463 1321l9 18-5-1zM463 1321l4 17-10 2zM453 1323l10-2-6 19zM453 1323l4 17-9-10zM443 1331l10-8-5 7zM443 1331l-5-21 10 20zM433 1355l5-45 5 21zM433 1355l-5 1 10-46zM423 1361l5-5 5-1zM423 1361l-5-30 10 25zM413 1333l5-2 5 30zM413 1333l5-2-10 19zM403 1384l5-34 5-17zM403 1384l-5-29 10-5zM393 1360l5-5 5 29zM393 1360l-5-14 10 9zM384 1423l4-77 5 14zM384 1423l-6 11 10-88z"/>
<path fill="url(#b18)" d="M843 1196l5-30 5 0zM843 1196l5-30-10 62zM833 1178l10 18-5 32zM833 1178l5 50-10-54zM823 1169l10 9-5-4zM823 1169l5 5-10 19zM813 1210l10-41-5 24zM813 1210l-5-16 10-1zM803 1223l5-29 5 16zM803 1223l5-29-10 59zM793 1231l10-8-5 30zM793 1231l5 22-10-3zM784 1203l9 28-5 19zM784 1203l4 47-10-96zM774 1189l4-35 6 49zM774 1189l-5-17 9-18zM764 1200l5-28 5 17zM764 1200l-5 12 10-40zM754 1221l10-21-5 12zM754 1221l5-9-10 21zM744 1246l5-13 5-12zM744 1246l-5-29 10 16zM734 1261l5-44 5 29zM734 1261l-5-19 10-25zM724 1269l5-27 5 19zM724 1269l-5-28 10 1zM714 1259l5-18 5 28zM714 1259l-5-2 10-16zM705 1260l4-3 5 2zM705 1260l-6-35 10 32zM695 1246l4-21 6 35zM695 1246l-5-22 9 1zM685 1256l5-32 5 22zM685 1256l-5 23 10-55zM675 1266l10-10-5 23zM675 1266l-5-20 10 33zM665 1251l5-5 5 20zM665 1251l-5-30 10 25zM655 1264l5-43 5 30zM655 1264l-5-14 10-29zM645 1281l5-31 5 14zM645 1281l-5-9 10-22zM635 1267l5 5 5 9zM635 1267l5 5-10 18zM626 1320l4-30 5-23zM626 1320l-6 23 10-53zM616 1327l10-7-6 23zM616 1327l-5-32 9 48zM606 1296l5-1 5 32zM606 1296l-5-25 10 24zM596 1277l5-6 5 25zM596 1277l-5-1 10-5zM586 1233l10 44-5-1zM586 1233l5 43-10-30zM576 1268l5-22 5-13zM576 1268l-5-2 10-20zM566 1315l5-49 5 2zM566 1315l-5 9 10-58zM556 1307l10 8-5 9zM556 1307l5 17-10 2zM547 1267l9 40-5 19zM547 1267l4 59-9-4zM537 1286l10-19-5 55zM537 1286l5 36-10 22zM527 1349l10-63-5 58zM527 1349l-5-2 10-3zM517 1305l10 44-5-2zM517 1305l5 42-10 0zM507 1317l10-12-5 42zM507 1317l5 30-10 1zM497 1311l10 6-5 31zM497 1311l5 37-10-37zM487 1323l5-12 5 0zM487 1323l5-12-10 26zM478 1314l9 9-5 14zM478 1314l4 23-10 2zM468 1315l10-1-6 25zM468 1315l4 24-9-18zM458 1344l5-23 5-6zM458 1344l-5-21 10-2zM448 1363l5-40 5 21zM448 1363l-5-32 10-8zM438 1365l5-34 5 32zM438 1365l-5-10 10-24zM428 1371l5-16 5 10zM428 1371l-5-10 10-6zM418 1393l5-32 5 10zM418 1393l-5-60 10 28zM408 1437l5-104 5 60zM408 1437l-5-53 10-51zM399 1374l4 10 5 53zM399 1374l4 10-10-24zM389 1431l4-71 6 14zM389 1431l-5-8 9-63z"/>
<path fill="url(#b17)" d="M848 1198l5-32 5 41zM848 1198l-5-2 10-30zM838 1190l10 8-5-2zM838 1190l-5-12 10 18zM828 1199l5-21 5 12zM828 1199l-5-30 10 9zM818 1194l5-25 5 30zM818 1194l-5 16 10-41zM808 1229l5-19 5-16zM808 1229l-5-6 10-13zM798 1225l5-2 5 6zM798 1225l5-2-10 8zM789 1249l4-18 5-6zM789 1249l-5-46 9 28zM779 1213l5-10 5 46zM779 1213l-5-24 10 14zM769 1204l5-15 5 24zM769 1204l-5-4 10-11zM759 1216l5-16 5 4zM759 1216l-5 5 10-21zM749 1225l10-9-5 5zM749 1225l5-4-10 25zM739 1233l10-8-5 21zM739 1233l5 13-10 15zM729 1266l10-33-5 28zM729 1266l-5 3 10-8zM720 1283l4-14 5-3zM720 1283l-6-24 10 10zM710 1251l4 8 6 24zM710 1251l4 8-9 1zM700 1256l10-5-5 9zM700 1256l-5-10 10 14zM690 1274l5-28 5 10zM690 1274l-5-18 10-10zM680 1268l5-12 5 18zM680 1268l-5-2 10-10zM670 1269l5-3 5 2zM670 1269l-5-18 10 15zM660 1265l5-14 5 18zM660 1265l-5-1 10-13zM650 1275l5-11 5 1zM650 1275l-5 6 10-17zM641 1269l9 6-5 6zM641 1269l4 12-10-14zM631 1304l4-37 6 2zM631 1304l-5 16 9-53zM621 1331l10-27-5 16zM621 1331l-5-4 10-7zM611 1295l10 36-5-4zM611 1295l5 32-10-31zM601 1280l10 15-5 1zM601 1280l5 16-10-19zM591 1283l5-6 5 3zM591 1283l-5-50 10 44zM581 1304l5-71 5 50zM581 1304l-5-36 10-35zM571 1318l5-50 5 36zM571 1318l-5-3 10-47zM562 1321l4-6 5 3zM562 1321l-6-14 10 8zM552 1305l4 2 6 14zM552 1305l-5-38 9 40zM542 1335l5-68 5 38zM542 1335l-5-49 10-19zM532 1299l5-13 5 49zM532 1299l5-13-10 63zM522 1301l10-2-5 50zM522 1301l5 48-10-44zM512 1336l5-31 5-4zM512 1336l-5-19 10-12zM502 1346l5-29 5 19zM502 1346l-5-35 10 6zM492 1368l5-57 5 35zM492 1368l-5-45 10-12zM483 1333l4-10 5 45zM483 1333l-5-19 9 9zM473 1354l5-40 5 19zM473 1354l-5-39 10-1zM463 1380l5-65 5 39zM463 1380l-5-36 10-29zM453 1368l5-24 5 36zM453 1368l-5-5 10-19zM443 1357l10 11-5-5zM443 1357l5 6-10 2zM433 1378l5-13 5-8zM433 1378l-5-7 10-6zM423 1369l5 2 5 7zM423 1369l5 2-10 22zM414 1387l9-18-5 24zM414 1387l4 6-10 44zM404 1379l10 8-6 50zM404 1379l4 58-9-63zM394 1433l5-59 5 5zM394 1433l-5-2 10-57z"/>
<path fill="url(#b16)" d="M853 1195l5 12 5 17zM853 1195l5 12-10-9zM843 1210l5-12 5-3zM843 1210l-5-20 10 8zM833 1213l5-23 5 20zM833 1213l-5-14 10-9zM823 1214l5-15 5 14zM823 1214l-5-20 10 5zM813 1194l5 0 5 20zM813 1194l5 0-10 35zM804 1263l4-34 5-35zM804 1263l-6-38 10 4zM794 1273l4-48 6 38zM794 1273l-5-24 9-24zM784 1267l5-18 5 24zM784 1267l-5-54 10 36zM774 1232l5-19 5 54zM774 1232l-5-28 10 9zM764 1216l5-12 5 28zM764 1216l-5 0 10-12zM754 1217l5-1 5 0zM754 1217l5-1-10 9zM744 1217l10 0-5 8zM744 1217l5 8-10 8zM734 1289l5-56 5-16zM734 1289l-5-23 10-33zM725 1289l4-23 5 23zM725 1289l-5-6 9-17zM715 1268l10 21-5-6zM715 1268l-5-17 10 32zM705 1270l5-19 5 17zM705 1270l-5-14 10-5zM695 1287l5-31 5 14zM695 1287l-5-13 10-18zM685 1263l5 11 5 13zM685 1263l5 11-10-6zM675 1257l10 6-5 5zM675 1257l5 11-10 1zM665 1297l5-28 5-12zM665 1297l-5-32 10 4zM656 1279l4-14 5 32zM656 1279l-6-4 10-10zM646 1303l4-28 6 4zM646 1303l-5-34 9 6zM636 1321l5-52 5 34zM636 1321l-5-17 10-35zM626 1284l10 37-5-17zM626 1284l5 20-10 27zM616 1314l10-30-5 47zM616 1314l-5-19 10 36zM606 1342l5-47 5 19zM606 1342l-5-62 10 15zM596 1355l5-75 5 62zM596 1355l-5-72 10-3zM586 1318l5-35 5 72zM586 1318l-5-14 10-21zM577 1327l4-23 5 14zM577 1327l-6-9 10-14zM567 1345l4-27 6 9zM567 1345l-5-24 9-3zM557 1352l5-31 5 24zM557 1352l-5-47 10 16zM547 1308l5-3 5 47zM547 1308l5-3-10 30zM537 1332l10-24-5 27zM537 1332l-5-33 10 36zM527 1343l5-44 5 33zM527 1343l-5-42 10-2zM517 1325l5-24 5 42zM517 1325l-5 11 10-35zM507 1355l5-19 5-11zM507 1355l-5-9 10-10zM498 1380l4-34 5 9zM498 1380l-6-12 10-22zM488 1345l10 35-6-12zM488 1345l4 23-9-35zM478 1398l5-65 5 12zM478 1398l-5-44 10-21zM468 1403l5-49 5 44zM468 1403l-5-23 10-26zM458 1365l5 15 5 23zM458 1365l5 15-10-12zM448 1375l5-7 5-3zM448 1375l-5-18 10 11zM438 1365l5-8 5 18zM438 1365l5-8-10 21zM428 1361l10 4-5 13zM428 1361l5 17-10-9zM419 1365l9-4-5 8zM419 1365l4 4-9 18zM409 1375l10-10-5 22zM409 1375l5 12-10-8zM399 1427l5-48 5-4zM399 1427l-5 6 10-54z"/>
<path fill="url(#b15)" d="M858 1223l10-15-5 16zM858 1223l-5-28 10 29zM848 1232l5-37 5 28zM848 1232l-5-22 10-15zM838 1237l5-27 5 22zM838 1237l-5-24 10-3zM828 1220l5-7 5 24zM828 1220l-5-6 10-1zM819 1203l9 17-5-6zM819 1203l4 11-10-20zM809 1244l4-50 6 9zM809 1244l-5 19 9-69zM799 1293l5-30 5-19zM799 1293l-5-20 10-10zM789 1253l5 20-10-6zM779 1228l10 25-5 14zM779 1228l5 39-10-35zM769 1227l10 1-5 4zM769 1227l-5-11 10 16zM759 1225l5-9 5 11zM759 1225l-5-8 10-1zM749 1225l5-8 5 8zM749 1225l-5-8 10 0zM740 1295l4-78 5 8zM740 1295l-6-6 10-72zM730 1289l4 0 6 6zM720 1248l10 41-5 0zM720 1248l5 41-10-21zM710 1259l10-11-5 20zM710 1259l5 9-10 2zM700 1263l10-4-5 11zM700 1263l5 7-10 17zM690 1276l10-13-5 24zM690 1276l-5-13 10 24zM680 1294l5-31 5 13zM680 1294l-5-37 10 6zM670 1307l5-50 5 37zM670 1307l-5-10 10-40zM661 1305l4-8 5 10zM661 1305l-5-26 9 18zM651 1298l5-19 5 26zM651 1298l-5 5 10-24zM641 1298l10 0-5 5zM641 1298l5 5-10 18zM631 1321l10-23-5 23zM631 1321l-5-37 10 37zM621 1352l5-68 5 37zM621 1352l-5-38 10-30zM611 1359l5-45 5 38zM611 1359l-5-17 10-28zM601 1329l5 13 5 17zM601 1329l5 13-10 13zM592 1338l9-9-5 26zM592 1338l4 17-10-37zM582 1352l4-34 6 20zM582 1352l-5-25 9-9zM572 1345l5-18 5 25zM572 1345l-5 0 10-18zM562 1320l10 25-5 0zM562 1320l5 25-10 7zM552 1326l10-6-5 32zM552 1326l5 26-10-44zM542 1352l5-44 5 18zM542 1352l-5-20 10-24zM532 1361l5-29 5 20zM532 1361l-5-18 10-11zM522 1363l5-20 5 18zM522 1363l-5-38 10 18zM513 1376l4-51 5 38zM513 1376l-6-21 10-30zM503 1375l4-20 6 21zM503 1375l-5 5 9-25zM493 1396l5-16 5-5zM493 1396l-5-51 10 35zM483 1391l5-46 5 51zM483 1391l-5 7 10-53zM473 1396l10-5-5 7zM473 1396l5 2-10 5zM463 1402l10-6-5 7zM463 1402l-5-37 10 38zM453 1425l5-60 5 37zM453 1425l-5-50 10-10zM443 1368l5 7 5 50zM443 1368l5 7-10-10zM434 1407l4-42 5 3zM434 1407l-6-46 10 4zM424 1397l4-36 6 46zM424 1397l-5-32 9-4zM414 1374l5-9 5 32zM414 1374l-5 1 10-10zM404 1431l5-56 5-1zM404 1431l-5-4 10-52z"/>
<path fill="url(#b14)" d="M863 1227l5-19 5-10zM863 1227l-5-4 10-15zM853 1239l5-16 5 4zM853 1239l-5-7 10-9zM843 1224l10 15-5-7zM843 1224l5 8-10 5zM834 1249l4-12 5-13zM834 1249l-6-29 10 17zM824 1251l4-31 6 29zM824 1251l-5-48 9 17zM814 1255l5-52 5 48zM814 1255l-5-11 10-41zM804 1265l5-21 5 11zM804 1265l5-21-10 49zM794 1239l10 26-5 28zM794 1239l5 54-10-40zM784 1239l10 0-5 14zM784 1239l5 14-10-25zM774 1247l5-19 5 11zM774 1247l-5-20 10 1zM764 1258l5-31 5 20zM764 1258l-5-33 10 2zM755 1247l4-22 5 33zM755 1247l-6-22 10 0zM745 1296l4-71 6 22zM745 1296l-5-1 9-70zM735 1298l5-3 5 1zM735 1298l-5-9 10 6zM725 1283l5 6 5 9zM725 1283l-5-35 10 41zM715 1294l5-46 5 35zM715 1294l-5-35 10-11zM705 1243l5 16 5 35zM705 1243l5 16-10 4zM695 1282l10-39-5 20zM695 1282l-5-6 10-13zM685 1291l5-15 5 6zM685 1291l-5 3 10-18zM676 1286l9 5-5 3zM676 1286l4 8-10 13zM666 1320l10-34-6 21zM666 1320l-5-15 9 2zM656 1310l5-5 5 15zM656 1310l-5-12 10 7zM646 1319l5-21 5 12zM646 1319l-5-21 10 0zM636 1334l5-36 5 21zM636 1334l-5-13 10-23zM626 1375l5-54 5 13zM626 1375l-5-23 10-31zM616 1353l5-1 5 23zM616 1353l5-1-10 7zM606 1317l10 36-5 6zM606 1317l5 42-10-30zM597 1346l4-17 5-12zM597 1346l-5-8 9-9zM587 1336l5 2 5 8zM587 1336l5 2-10 14zM577 1342l10-6-5 16zM577 1342l5 10-10-7zM567 1352l5-7 5-3zM567 1352l-5-32 10 25zM557 1305l5 15 5 32zM557 1305l5 15-10 6zM547 1355l5-29 5-21zM547 1355l-5-3 10-26zM537 1351l5 1 5 3zM537 1351l5 1-10 9zM528 1350l9 1-5 10zM528 1350l4 11-10 2zM518 1357l10-7-6 13zM518 1357l4 6-9 13zM508 1365l10-8-5 19zM508 1365l5 11-10-1zM498 1411l5-36 5-10zM498 1411l-5-15 10-21zM488 1400l5-4 5 15zM488 1400l-5-9 10 5zM478 1383l5 8 5 9zM478 1383l5 8-10 5zM468 1395l10-12-5 13zM468 1395l5 1-10 6zM458 1412l5-10 5-7zM458 1412l5-10-10 23zM449 1392l9 20-5 13zM449 1392l4 33-10-57zM439 1441l4-73 6 24zM439 1441l-5-34 9-39zM429 1446l5-39 5 34zM429 1446l-5-49 10 10zM419 1414l5-17 5 49zM419 1414l-5-40 10 23zM409 1448l5-74 5 40zM409 1448l-5-17 10-57z"/>
<path fill="url(#b13)" d="M868 1251l5-53 5 17zM868 1251l-5-24 10-29zM858 1229l5-2 5 24zM858 1229l5-2-10 12zM849 1236l9-7-5 10zM849 1236l-6-12 10 15zM839 1258l4-34 6 12zM839 1258l-5-9 9-25zM829 1239l10 19-5-9zM829 1239l5 10-10 2zM819 1235l10 4-5 12zM819 1235l5 16-10 4zM809 1273l10-38-5 20zM809 1273l-5-8 10-10zM799 1243l10 30-5-8zM799 1243l5 22-10-26zM789 1210l10 33-5-4zM789 1210l5 29-10 0zM779 1256l10-46-5 29zM779 1256l-5-9 10-8zM770 1272l4-25 5 9zM770 1272l-6-14 10-11zM760 1263l4-5 6 14zM760 1263l-5-16 9 11zM750 1253l5-6 5 16zM750 1253l5-6-10 49zM740 1280l10-27-5 43zM740 1280l5 16-10 2zM730 1303l10-23-5 18zM730 1303l-5-20 10 15zM720 1284l5-1 5 20zM720 1284l5-1-10 11zM710 1296l10-12-5 10zM710 1296l-5-53 10 51zM700 1317l5-74 5 53zM700 1317l-5-35 10-39zM691 1311l4-29 5 35zM691 1311l-6-20 10-9zM681 1301l4-10 6 20zM681 1301l-5-15 9 5zM671 1300l5-14 5 15zM671 1300l5-14-10 34zM661 1315l10-15-5 20zM651 1318l5-8 5 5zM651 1318l-5 1 10-9zM641 1300l10 18-5 1zM641 1300l5 19-10 15zM631 1355l10-55-5 34zM631 1355l-5 20 10-41zM621 1369l10-14-5 20zM621 1369l-5-16 10 22zM612 1350l4 3 5 16zM612 1350l-6-33 10 36zM602 1349l4-32 6 33zM602 1349l-5-3 9-29zM592 1345l5 1 5 3zM592 1345l-5-9 10 10zM582 1334l5 2 5 9zM582 1334l5 2-10 6zM572 1325l10 9-5 8zM572 1325l5 17-10 10zM562 1337l10-12-5 27zM562 1337l-5-32 10 47zM552 1336l5-31 5 32zM552 1336l-5 19 10-50zM542 1345l10-9-5 19zM542 1345l5 10-10-4zM533 1364l4-13 5-6zM533 1364l-5-14 9 1zM523 1356l5-6 5 14zM523 1356l-5 1 10-7zM513 1364l5-7 5-1zM513 1364l-5 1 10-8zM503 1358l10 6-5 1zM503 1358l5 7-10 46zM493 1361l10-3-5 53zM493 1361l5 50-10-11zM483 1411l10-50-5 39zM483 1411l-5-28 10 17zM473 1407l5-24 5 28zM473 1407l-5-12 10-12zM464 1430l4-35 5 12zM464 1430l-6-18 10-17zM454 1423l4-11 6 18zM454 1423l-5-31 9 20zM444 1465l5-73 5 31zM444 1465l-5-24 10-49zM434 1417l5 24-10 5zM424 1366l10 51-5 29zM424 1366l5 80-10-32zM414 1465l5-51 5-48zM414 1465l-5-17 10-34z"/>
<path fill="url(#b12)" d="M873 1235l5-20 5 10zM873 1235l-5 16 10-36zM863 1262l10-27-5 16zM863 1262l-5-33 10 22zM854 1248l4-19 5 33zM854 1248l-5-12 9-7zM844 1264l5-28 5 12zM844 1264l-5-6 10-22zM834 1230l10 34-5-6zM834 1230l5 28-10-19zM824 1236l10-6-5 9zM824 1236l5 3-10-4zM814 1279l5-44 5 1zM814 1279l-5-6 10-38zM804 1247l10 32-5-6zM804 1247l5 26-10-30zM794 1238l10 9-5-4zM794 1238l-5-28 10 33zM785 1266l4-56 5 28zM785 1266l-6-10 10-46zM775 1299l4-43 6 10zM775 1299l-5-27 9-16zM765 1264l5 8 5 27zM765 1264l5 8-10-9zM755 1233l10 31-5-1zM755 1233l5 30-10-10zM745 1269l10-36-5 20zM745 1269l-5 11 10-27zM735 1319l5-39 5-11zM735 1319l-5-16 10-23zM725 1319l5-16 5 16zM725 1319l-5-35 10 19zM715 1309l5-25 5 35zM715 1309l-5-13 10-12zM706 1303l4-7 5 13zM706 1303l4-7-10 21zM696 1297l10 6-6 14zM696 1297l4 20-9-6zM686 1320l10-23-5 14zM686 1320l-5-19 10 10zM676 1313l5-12 5 19zM676 1313l-5-13 10 1zM666 1336l5-36 5 13zM666 1336l-5-21 10-15zM656 1322l5-7 5 21zM656 1322l-5-4 10-3zM646 1346l5-28 5 4zM646 1346l-5-46 10 18zM636 1324l5-24 5 46zM636 1324l5-24-10 55zM627 1331l9-7-5 31zM627 1331l4 24-10 14zM617 1349l10-18-6 38zM617 1349l4 20-9-19zM607 1354l5-4 5-1zM607 1354l-5-5 10 1zM597 1374l5-25 5 5zM597 1374l-5-29 10 4zM587 1363l5-18 5 29zM587 1363l-5-29 10 11zM577 1344l5-10 5 29zM577 1344l-5-19 10 9zM567 1327l5-2 5 19zM567 1327l5-2-10 12zM557 1372l5-35 5-10zM557 1372l-5-36 10 1zM548 1341l4-5 5 36zM548 1341l-6 4 10-9zM538 1354l4-9 6-4zM538 1354l-5 10 9-19zM528 1395l5-31 5-10zM528 1395l-5-39 10 8zM518 1367l5-11 5 39zM518 1367l-5-3 10-8zM508 1343l10 24-5-3zM508 1343l5 21-10-6zM498 1354l10-11-5 15zM498 1354l5 4-10 3zM488 1390l5-29 5-7zM488 1390l-5 21 10-50zM479 1389l9 1-5 21zM479 1389l4 22-10-4zM469 1420l4-13 6-18zM469 1420l-5 10 9-23zM459 1426l10-6-5 10zM459 1426l5 4-10-7zM449 1406l10 20-5-3zM449 1406l5 17-10 42zM439 1397l10 9-5 59zM439 1397l5 68-10-48zM429 1425l10-28-5 20zM429 1425l-5-59 10 51zM419 1473l5-107 5 59zM419 1473l-5-8 10-99z"/>
<path fill="url(#b11)" d="M878 1238l5-13 5 9zM878 1238l-5-3 10-10zM869 1218l9 20-5-3zM869 1218l4 17-10 27zM859 1230l10-12-6 44zM859 1230l4 32-9-14zM849 1251l10-21-5 18zM849 1251l5-3-10 16zM839 1231l10 20-5 13zM839 1231l5 33-10-34zM829 1256l5-26 5 1zM829 1256l-5-20 10-6zM819 1242l5-6 5 20zM819 1242l5-6-10 43zM809 1251l10-9-5 37zM809 1251l5 28-10-32zM799 1255l5-8 5 4zM799 1255l-5-17 10 9zM790 1250l4-12 5 17zM790 1250l4-12-9 28zM780 1289l5-23 5-16zM780 1289l-5 10 10-33zM770 1292l10-3-5 10zM770 1292l-5-28 10 35zM760 1303l5-39 5 28zM760 1303l-5-70 10 31zM750 1288l5-55 5 70zM750 1288l-5-19 10-36zM740 1324l5-55 5 19zM740 1324l-5-5 10-50zM730 1308l10 16-5-5zM730 1308l5 11-10 0zM721 1317l9-9-5 11zM721 1317l-6-8 10 10zM711 1322l4-13 6 8zM711 1322l-5-19 9 6zM701 1319l5-16 5 19zM701 1319l-5-22 10 6zM691 1313l5-16 5 22zM691 1313l-5 7 10-23zM681 1321l10-8-5 7zM681 1321l-5-8 10 7zM671 1324l5-11 5 8zM671 1324l5-11-10 23zM661 1330l10-6-5 12zM661 1330l-5-8 10 14zM651 1347l5-25 5 8zM651 1347l-5-1 10-24zM642 1308l9 39-5-1zM642 1308l4 38-10-22zM632 1315l10-7-6 16zM632 1315l4 9-9 7zM622 1363l5-32 5-16zM622 1363l-5-14 10-18zM612 1359l5-10 5 14zM612 1359l-5-5 10-5zM602 1359l5-5 5 5zM602 1359l5-5-10 20zM592 1366l10-7-5 15zM592 1366l5 8-10-11zM582 1370l5-7 5 3zM582 1370l-5-26 10 19zM572 1355l5-11 5 26zM572 1355l-5-28 10 17zM563 1410l4-83 5 28zM563 1410l-6-38 10-45zM553 1384l4-12 6 38zM553 1384l-5-43 9 31zM543 1371l5-30 5 43zM543 1371l-5-17 10-13zM533 1390l5-36 5 17zM533 1390l-5 5 10-41zM523 1364l10 26-5 5zM523 1364l5 31-10-28zM513 1334l10 30-5 3zM513 1334l5 33-10-24zM503 1339l10-5-5 9zM503 1339l5 4-10 11zM493 1357l10-18-5 15zM493 1357l5-3-10 36zM484 1380l9-23-5 33zM484 1380l4 10-9-1zM474 1402l5-13 5-9zM474 1402l5-13-10 31zM464 1447l5-27 5-18zM464 1447l-5-21 10-6zM454 1403l10 44-5-21zM454 1403l5 23-10-20zM444 1403l10 0-5 3zM444 1403l-5-6 10 9zM434 1442l5-45 5 6zM434 1442l-5-17 10-28zM424 1462l5-37 5 17zM424 1462l-5 11 10-48z"/>
<path fill="url(#b10)" d="M884 1273l4-39 5-8zM884 1273l-6-35 10-4zM874 1238l4 0 6 35zM874 1238l-5-20 9 20zM864 1234l5-16 5 20zM864 1234l-5-4 10-12zM854 1232l5-2 5 4zM854 1232l5-2-10 21zM844 1274l5-23 5-19zM844 1274l-5-43 10 20zM834 1305l5-74 5 43zM834 1305l-5-49 10-25zM824 1280l5-24 5 49zM824 1280l-5-38 10 14zM814 1247l5-5 5 38zM814 1247l-5 4 10-9zM805 1268l4-17 5-4zM805 1268l-6-13 10-4zM795 1257l4-2 6 13zM795 1257l-5-7 9 5zM785 1287l5-37 5 7zM785 1287l-5 2 10-39zM775 1295l5-6 5-2zM775 1295l-5-3 10-3zM765 1303l5-11 5 3zM765 1303l-5 0 10-11zM755 1310l5-7 5 0zM755 1310l-5-22 10 15zM745 1322l5-34 5 22zM745 1322l-5 2 10-36zM735 1322l10 0-5 2zM735 1322l-5-14 10 16zM726 1326l4-18 5 14zM726 1326l-5-9 9-9zM716 1333l5-16 5 9zM716 1333l-5-11 10-5zM706 1345l5-23 5 11zM706 1345l-5-26 10 3zM696 1332l5-13 5 26zM696 1332l-5-19 10 6zM686 1297l5 16 5 19zM686 1297l5 16-10 8zM676 1290l10 7-5 24zM676 1290l5 31-10 3zM666 1306l10-16-5 34zM666 1306l5 18-10 6zM657 1331l9-25-5 24zM657 1331l4-1-10 17zM647 1315l10 16-6 16zM647 1315l4 32-9-39zM637 1328l5-20 5 7zM637 1328l-5-13 10-7zM627 1354l5-39 5 13zM627 1354l-5 9 10-48zM617 1367l10-13-5 9zM617 1367l-5-8 10 4zM607 1370l5-11 5 8zM607 1370l-5-11 10 0zM597 1333l10 37-5-11zM597 1333l5 26-10 7zM587 1363l10-30-5 33zM587 1363l5 3-10 4zM578 1376l4-6 5-7zM578 1376l-6-21 10 15zM568 1388l4-33 6 21zM568 1388l-5 22 9-55zM558 1359l10 29-5 22zM558 1359l5 51-10-26zM548 1382l10-23-5 25zM548 1382l-5-11 10 13zM538 1391l5-20 5 11zM538 1391l-5-1 10-19zM528 1371l10 20-5-1zM528 1371l5 19-10-26zM518 1372l5-8 5 7zM518 1372l-5-38 10 30zM508 1384l5-50 5 38zM508 1384l-5-45 10-5zM499 1399l4-60 5 45zM499 1399l-6-42 10-18zM489 1405l4-48 6 42zM489 1405l-5-25 9-23zM479 1401l5-21 5 25zM479 1401l-5 1 10-22zM469 1403l5-1-10 45zM459 1400l10 3-5 44zM459 1400l5 47-10-44zM449 1392l10 8-5 3zM449 1392l5 11-10 0zM439 1423l5-20 5-11zM439 1423l-5 19 10-39zM429 1449l10-26-5 19zM429 1449l5-7-10 20z"/>
<path fill="url(#b9)" d="M889 1284l4-58 6-9zM889 1284l-5-11 9-47zM879 1248l10 36-5-11zM879 1248l5 25-10-35zM869 1231l5 7 5 10zM869 1231l5 7-10-4zM859 1232l10-1-5 3zM859 1232l5 2-10-2zM849 1263l5-31 5 0zM849 1263l-5 11 10-42zM839 1294l5-20 5-11zM839 1294l-5 11 10-31zM829 1257l10 37-5 11zM829 1257l5 48-10-25zM820 1263l9-6-5 23zM820 1263l4 17-10-33zM810 1261l4-14 6 16zM810 1261l-5 7 9-21zM800 1290l5-22 5-7zM800 1290l-5-33 10 11zM790 1285l5-28 5 33zM790 1285l-5 2 10-30zM780 1284l10 1-5 2zM780 1284l5 3-10 8zM770 1288l10-4-5 11zM770 1288l5 7-10 8zM760 1339l5-36 5-15zM760 1339l-5-29 10-7zM750 1293l5 17 5 29zM750 1293l5 17-10 12zM741 1295l9-2-5 29zM741 1295l4 27-10 0zM731 1299l10-4-6 27zM731 1299l4 23-9 4zM721 1303l10-4-5 27zM721 1303l5 23-10 7zM711 1323l10-20-5 30zM711 1323l5 10-10 12zM701 1320l10 3-5 22zM701 1320l5 25-10-13zM691 1305l10 15-5 12zM691 1305l5 27-10-35zM681 1314l5-17 5 8zM681 1314l-5-24 10 7zM671 1326l5-36 5 24zM671 1326l-5-20 10-16zM662 1329l4-23 5 20zM662 1329l-5 2 9-25zM652 1322l10 7-5 2zM652 1322l5 9-10-16zM642 1352l5-37 5 7zM642 1352l-5-24 10-13zM632 1378l5-50 5 24zM632 1378l-5-24 10-26zM622 1334l5 20 5 24zM622 1334l5 20-10 13zM612 1348l10-14-5 33zM612 1348l5 19-10 3zM602 1331l10 17-5 22zM602 1331l5 39-10-37zM593 1379l4-46 5-2zM593 1379l-6-16 10-30zM583 1386l4-23 6 16zM583 1386l-5-10 9-13zM573 1378l5-2 5 10zM573 1378l5-2-10 12zM563 1390l10-12-5 10zM563 1390l-5-31 10 29zM553 1380l5-21 5 31zM553 1380l-5 2 10-23zM543 1390l5-8 5-2zM543 1390l-5 1 10-9zM533 1379l10 11-5 1zM533 1379l5 12-10-20zM523 1347l10 32-5-8zM523 1347l5 24-10 1zM514 1380l9-33-5 25zM514 1380l-6 4 10-12zM504 1372l10 8-6 4zM504 1372l4 12-9 15zM494 1429l5-30 5-27zM494 1429l-5-24 10-6zM484 1417l5-12 5 24zM484 1417l-5-16 10 4zM474 1414l5-13 5 16zM474 1414l-5-11 10-2zM464 1431l5-28 5 11zM464 1431l-5-31 10 3zM454 1381l5 19 5 31zM454 1381l5 19-10-8zM444 1400l10-19-5 11zM444 1400l5-8-10 31zM435 1452l4-29 5-23zM435 1452l-6-3 10-26z"/>
<path fill="url(#b8)" d="M894 1261l5-44 5-10zM894 1261l-5 23 10-67zM884 1237l10 24-5 23zM884 1237l5 47-10-36zM874 1246l10-9-5 11zM874 1246l-5-15 10 17zM864 1243l5-12 5 15zM864 1243l-5-11 10-1zM854 1251l5-19 5 11zM854 1251l-5 12 10-31zM844 1267l10-16-5 12zM844 1267l5-4-10 31zM835 1288l9-21-5 27zM835 1288l-6-31 10 37zM825 1276l4-19 6 31zM825 1276l-5-13 9-6zM815 1264l5-1 5 13zM815 1264l-5-3 10 2zM805 1272l5-11 5 3zM805 1272l5-11-10 29zM795 1294l10-22-5 18zM795 1294l-5-9 10 5zM785 1311l5-26 5 9zM785 1311l-5-27 10 1zM775 1279l5 5 5 27zM775 1279l5 5-10 4zM765 1316l5-28 5-9zM765 1316l-5 23 10-51zM756 1306l9 10-5 23zM756 1306l4 33-10-46zM746 1279l10 27-6-13zM746 1279l4 14-9 2zM736 1295l10-16-5 16zM736 1295l5 0-10 4zM726 1317l5-18 5-4zM726 1317l-5-14 10-4zM716 1325l5-22 5 14zM716 1325l-5-2 10-20zM706 1348l5-25 5 2zM706 1348l-5-28 10 3zM696 1375l5-55 5 28zM696 1375l-5-70 10 15zM686 1328l5-23 5 70zM686 1328l-5-14 10-9zM677 1312l4 2 5 14zM677 1312l4 2-10 12zM667 1344l4-18 6-14zM667 1344l-5-15 9-3zM657 1331l5-2 5 15zM657 1331l-5-9 10 7zM647 1332l5-10 5 9zM647 1332l5-10-10 30zM637 1349l10-17-5 20zM637 1349l5 3-10 26zM627 1360l10-11-5 29zM627 1360l-5-26 10 44zM617 1343l5-9 5 26zM617 1343l-5 5 10-14zM607 1331l10 12-5 5zM607 1331l5 17-10-17zM598 1388l4-57 5 0zM598 1388l-5-9 9-48zM588 1367l10 21-5-9zM588 1367l5 12-10 7zM578 1373l10-6-5 19zM578 1373l5 13-10-8zM568 1411l5-33 5-5zM568 1411l-5-21 10-12zM558 1386l5 4 5 21zM558 1386l-5-6 10 10zM548 1396l5-16 5 6zM548 1396l-5-6 10-10zM538 1393l5-3 5 6zM538 1393l-5-14 10 11zM529 1362l9 31-5-14zM529 1362l4 17-10-32zM519 1338l4 9 6 15zM519 1338l4 9-9 33zM509 1383l10-45-5 42zM509 1383l-5-11 10 8zM499 1420l5-48 5 11zM499 1420l-5 9 10-57zM489 1440l5-11 5-9zM489 1440l-5-23 10 12zM479 1446l5-29 5 23zM479 1446l-5-32 10 3zM469 1438l5-24 5 32zM469 1438l-5-7 10-17zM459 1393l10 45-5-7zM459 1393l5 38-10-50zM450 1409l4-28 5 12zM450 1409l-6-9 10-19zM440 1465l4-65 6 9zM440 1465l-5-13 9-52z"/>
<path fill="url(#b7)" d="M899 1242l5-35 5 12zM899 1242l-5 19 10-54zM889 1251l10-9-5 19zM889 1251l-5-14 10 24zM879 1232l5 5 5 14zM879 1232l5 5-10 9zM869 1263l5-17 5-14zM869 1263l-5-20 10 3zM859 1249l5-6 5 20zM859 1249l-5 2 10-8zM850 1280l4-29 5-2zM850 1280l-6-13 10-16zM840 1274l4-7 6 13zM840 1274l4-7-9 21zM830 1265l10 9-5 14zM830 1265l5 23-10-12zM820 1269l10-4-5 11zM820 1269l5 7-10-12zM810 1321l5-57 5 5zM810 1321l-5-49 10-8zM800 1304l5-32 5 49zM800 1304l-5-10 10-22zM790 1283l10 21-5-10zM790 1283l5 11-10 17zM780 1261l10 22-5 28zM780 1261l5 50-10-32zM771 1288l9-27-5 18zM771 1288l4-9-10 37zM761 1289l10-1-6 28zM761 1289l4 27-9-10zM751 1282l10 7-5 17zM751 1282l5 24-10-27zM741 1306l5-27 5 3zM741 1306l-5-11 10-16zM731 1273l10 33-5-11zM731 1273l5 22-10 22zM721 1319l10-46-5 44zM721 1319l5-2-10 8zM711 1374l5-49 5-6zM711 1374l-5-26 10-23zM701 1339l5 9 5 26zM701 1339l5 9-10 27zM692 1324l9 15-5 36zM692 1324l4 51-10-47zM682 1319l10 5-6 4zM682 1319l4 9-9-16zM672 1346l5-34 5 7zM672 1346l-5-2 10-32zM662 1323l10 23-5-2zM662 1323l5 21-10-13zM652 1308l10 15-5 8zM652 1308l5 23-10 1zM642 1322l10-14-5 24zM642 1322l5 10-10 17zM632 1323l10-1-5 27zM632 1323l5 26-10 11zM622 1326l10-3-5 37zM622 1326l5 34-10-17zM613 1379l4-36 5-17zM613 1379l-6-48 10 12zM603 1363l4-32 6 48zM603 1363l-5 25 9-57zM593 1380l10-17-5 25zM593 1380l-5-13 10 21zM583 1386l5-19 5 13zM583 1386l-5-13 10-6zM573 1390l5-17 5 13zM573 1390l5-17-10 38zM563 1376l10 14-5 21zM563 1376l5 35-10-25zM553 1378l10-2-5 10zM553 1378l5 8-10 10zM543 1401l10-23-5 18zM543 1401l-5-8 10 3zM534 1387l4 6 5 8zM534 1387l-5-25 9 31zM524 1361l5 1 5 25zM524 1361l-5-23 10 24zM514 1425l5-87 5 23zM514 1425l-5-42 10-45zM504 1440l5-57 5 42zM504 1440l-5-20 10-37zM494 1419l5 1 5 20zM494 1419l5 1-10 20zM484 1422l10-3-5 21zM484 1422l5 18-10 6zM474 1445l10-23-5 24zM474 1445l-5-7 10 8zM465 1393l9 52-5-7zM465 1393l4 45-10-45zM455 1430l4-37 6 0zM455 1430l-5-21 9-16zM445 1474l5-65 5 21zM445 1474l-5-9 10-56z"/>
<path fill="url(#b6)" d="M904 1271l5-52 5 7zM904 1271l-5-29 10-23zM894 1244l5-2 5 29zM894 1244l5-2-10 9zM884 1236l10 8-5 7zM884 1236l5 15-10-19zM874 1263l5-31 5 4zM874 1263l-5 0 10-31zM864 1269l5-6 5 0zM864 1269l-5-20 10 14zM855 1287l4-38 5 20zM855 1287l-5-7 9-31zM845 1308l5-28 5 7zM845 1308l-5-34 10 6zM835 1290l5-16 5 34zM835 1290l-5-25 10 9zM825 1263l5 2 5 25zM825 1263l5 2-10 4zM815 1323l5-54 5-6zM815 1323l-5-2 10-52zM805 1330l5-9 5 2zM805 1330l-5-26 10 17zM795 1333l5-29 5 26zM795 1333l-5-50 10 21zM786 1278l4 5 5 50zM786 1278l-6-17 10 22zM776 1266l4-5 6 17zM776 1266l4-5-9 27zM766 1303l10-37-5 22zM766 1303l-5-14 10-1zM756 1274l10 29-5-14zM756 1274l5 15-10-7zM746 1307l5-25 5-8zM746 1307l-5-1 10-24zM736 1332l5-26 5 1zM736 1332l-5-59 10 33zM726 1349l5-76 5 59zM726 1349l-5-30 10-46zM716 1360l5-41 5 30zM716 1360l-5 14 10-55zM707 1346l9 14-5 14zM707 1346l4 28-10-35zM697 1321l10 25-6-7zM697 1321l4 18-9-15zM687 1314l10 7-5 3zM687 1314l5 10-10-5zM677 1330l5-11 5-5zM677 1330l5-11-10 27zM667 1351l10-21-5 16zM667 1351l-5-28 10 23zM657 1345l5-22 5 28zM657 1345l-5-37 10 15zM647 1374l5-66 5 37zM647 1374l-5-52 10-14zM637 1343l5-21 5 52zM637 1343l-5-20 10-1zM628 1336l4-13 5 20zM628 1336l-6-10 10-3zM618 1336l4-10 6 10zM618 1336l4-10-9 53zM608 1345l10-9-5 43zM608 1345l5 34-10-16zM598 1407l5-44 5-18zM598 1407l-5-27 10-17zM588 1391l5-11 5 27zM588 1391l-5-5 10-6zM578 1364l10 27-5-5zM578 1364l5 22-10 4zM568 1370l10-6-5 26zM568 1370l5 20-10-14zM558 1351l10 19-5 6zM558 1351l5 25-10 2zM549 1407l4-29 5-27zM549 1407l-6-6 10-23zM539 1435l4-34 6 6zM539 1435l-5-48 9 14zM529 1413l5-26 5 48zM529 1413l-5-52 10 26zM519 1405l5-44 5 52zM519 1405l-5 20 10-64zM509 1414l10-9-5 20zM509 1414l5 11-10 15zM499 1411l10 3-5 26zM499 1411l5 29-10-21zM489 1445l5-26 5-8zM489 1445l-5-23 10-3zM480 1424l4-2 5 23zM480 1424l4-2-10 23zM470 1426l10-2-6 21zM470 1426l-5-33 9 52zM460 1442l5-49 5 33zM460 1442l-5-12 10-37zM450 1467l5-37 5 12zM450 1467l-5 7 10-44z"/>
<path fill="url(#b5)" d="M909 1297l5-71 5 8zM909 1297l-5-26 10-45zM899 1266l5 5 5 26zM899 1266l-5-22 10 27zM889 1242l5 2 5 22zM889 1242l-5-6 10 8zM879 1261l5-25 5 6zM879 1261l-5 2 10-27zM870 1252l9 9-5 2zM870 1252l4 11-10 6zM860 1302l4-33 6-17zM860 1302l-5-15 9-18zM850 1323l5-36 5 15zM850 1323l-5-15 10-21zM840 1296l5 12 5 15zM840 1296l5 12-10-18zM830 1284l-5-21 10 27zM820 1337l5-74 5 21zM820 1337l-5-14 10-60zM810 1323l5 0 5 14zM810 1323l5 0-10 7zM800 1317l10 6-5 7zM800 1317l5 13-10 3zM791 1283l9 34-5 16zM791 1283l4 50-9-55zM781 1262l10 21-5-5zM781 1262l5 16-10-12zM771 1312l5-46 5-4zM771 1312l-5-9 10-37zM761 1329l5-26 5 9zM761 1329l-5-55 10 29zM751 1343l5-69 5 55zM751 1343l-5-36 10-33zM741 1334l5-27 5 36zM741 1334l-5-2 10-25zM731 1363l5-31 5 2zM731 1363l-5-14 10-17zM722 1344l4 5 5 14zM722 1344l4 5-10 11zM712 1356l10-12-6 16zM712 1356l-5-10 9 14zM702 1375l5-29 5 10zM702 1375l-5-54 10 25zM692 1338l5-17 5 54zM692 1338l-5-24 10 7zM682 1356l5-42 5 24zM682 1356l-5-26 10-16zM672 1373l5-43 5 26zM672 1373l-5-22 10-21zM662 1421l5-70 5 22zM662 1421l-5-76 10 6zM652 1385l5-40 5 76zM652 1385l-5-11 10-29zM643 1358l9 27-5-11zM643 1358l4 16-10-31zM633 1359l4-16 6 15zM633 1359l-5-23 9 7zM623 1348l5-12 5 23zM623 1348l-5-12 10 0zM613 1350l5-14 5 12zM613 1350l-5-5 10-9zM603 1421l5-76 5 5zM603 1421l-5-14 10-62zM593 1398l5 9 5 14zM593 1398l5 9-10-16zM583 1358l10 40-5-7zM583 1358l5 33-10-27zM573 1396l5-32 5-6zM573 1396l-5-26 10-6zM564 1368l4 2 5 26zM564 1368l-6-17 10 19zM554 1412l4-61 6 17zM554 1412l-5-5 9-56zM544 1407l5 0 5 5zM544 1407l5 0-10 28zM534 1409l10-2-5 28zM534 1409l5 26-10-22zM524 1422l5-9 5-4zM524 1422l-5-17 10 8zM514 1419l5-14 5 17zM514 1419l-5-5 10-9zM504 1430l5-16 5 5zM504 1430l-5-19 10 3zM494 1403l5 8 5 19zM494 1403l5 8-10 34zM485 1432l9-29-5 42zM485 1432l4 13-9-21zM475 1467l5-43 5 8zM475 1467l-5-41 10-2zM465 1452l5-26 5 41zM465 1452l-5-10 10-16zM455 1468l5-26 5 10zM455 1468l-5-1 10-25z"/>
<path fill="url(#b4)" d="M914 1287l5-53 5 8zM914 1287l-5 10 10-63zM904 1267l10 20-5 10zM904 1267l5 30-10-31zM894 1288l5-22 5 1zM894 1288l-5-46 10 24zM885 1259l4-17 5 46zM885 1259l-6 2 10-19zM875 1287l4-26 6-2zM875 1287l-5-35 9 9zM865 1289l5-37 5 35zM865 1289l-5 13 10-50zM855 1287l10 2-5 13zM855 1287l5 15-10 21zM845 1282l10 5-5 36zM845 1282l5 41-10-27zM835 1302l10-20-5 14zM835 1302l-5-18 10 12zM825 1332l5-48 5 18zM825 1332l-5 5 10-53zM815 1317l10 15-5 5zM815 1317l5 20-10-14zM806 1334l4-11 5-6zM806 1334l-6-17 10 6zM796 1337l4-20 6 17zM796 1337l-5-54 9 34zM786 1319l5-36 5 54zM786 1319l-5-57 10 21zM776 1321l5-59 5 57zM776 1321l-5-9 10-50zM766 1358l5-46 5 9zM766 1358l-5-29 10-17zM756 1354l5-25 5 29zM756 1354l-5-11 10-14zM746 1344l5-1 5 11zM746 1344l-5-10 10 9zM736 1327l5 7 5 10zM736 1327l5 7-10 29zM727 1362l9-35-5 36zM727 1362l-5-18 9 19zM717 1358l5-14 5 18zM717 1358l-5-2 10-12zM707 1341l10 17-5-2zM707 1341l5 15-10 19zM697 1369l10-28-5 34zM697 1369l-5-31 10 37zM687 1370l5-32 5 31zM687 1370l-5-14 10-18zM677 1368l5-12 5 14zM677 1368l-5 5 10-17zM667 1392l5-19 5-5zM667 1392l5-19-10 48zM658 1373l9 19-5 29zM658 1373l4 48-10-36zM648 1340l10 33-6 12zM648 1340l4 45-9-27zM638 1350l10-10-5 18zM638 1350l5 8-10 1zM628 1329l10 21-5 9zM628 1329l5 30-10-11zM618 1358l10-29-5 19zM618 1358l-5-8 10-2zM608 1428l5-78 5 8zM608 1428l-5-7 10-71zM598 1412l10 16-5-7zM598 1412l-5-14 10 23zM588 1368l10 44-5-14zM588 1368l5 30-10-40zM579 1352l4 6 5 10zM579 1352l4 6-10 38zM569 1393l10-41-6 44zM569 1393l-5-25 9 28zM559 1414l5-46 5 25zM559 1414l-5-2 10-44zM549 1416l5-4 5 2zM549 1416l-5-9 10 5zM539 1419l5-12 5 9zM539 1419l-5-10 10-2zM529 1421l5-12 5 10zM529 1421l-5 1 10-13zM519 1396l10 25-5 1zM519 1396l5 26-10-3zM509 1436l10-40-5 23zM509 1436l-5-6 10-11zM500 1394l9 42-5-6zM500 1394l4 36-10-27zM490 1419l4-16 6-9zM490 1419l-5 13 9-29zM480 1451l5-19 5-13zM480 1451l-5 16 10-35zM470 1441l10 10-5 16zM470 1441l5 26-10-15zM460 1475l5-23 5-11zM460 1475l-5-7 10-16z"/>
<path fill="url(#b3)" d="M919 1254l5-12 5 8zM919 1254l5-12-10 45zM909 1289l10-35-5 33zM909 1289l-5-22 10 20zM900 1272l4-5 5 22zM900 1272l4-5-10 21zM890 1316l4-28 6-16zM890 1316l-5-57 9 29zM880 1298l5-39 5 57zM880 1298l-5-11 10-28zM870 1239l10 59-5-11zM870 1239l5 48-10 2zM860 1295l10-56-5 50zM860 1295l-5-8 10 2zM850 1328l5-41 5 8zM850 1328l-5-46 10 5zM840 1324l5-42 5 46zM840 1324l-5-22 10-20zM830 1319l5-17 5 22zM830 1319l-5 13 10-30zM821 1302l9 17-5 13zM821 1302l4 30-10-15zM811 1305l10-3-6 15zM811 1305l4 12-9 17zM801 1350l10-45-5 29zM801 1350l-5-13 10-3zM791 1357l5-20 5 13zM791 1357l-5-38 10 18zM781 1357l5-38 5 38zM781 1357l-5-36 10-2zM771 1326l5-5 5 36zM771 1326l5-5-10 37zM761 1305l10 21-5 32zM761 1305l5 53-10-4zM751 1340l10-35-5 49zM751 1340l5 14-10-10zM742 1338l9 2-5 4zM742 1338l-6-11 10 17zM732 1350l4-23 6 11zM732 1350l-5 12 9-35zM722 1374l-5-16 10 4zM712 1341l10 33-5-16zM712 1341l5 17-10-17zM702 1348l5-7 5 0zM702 1348l5-7-10 28zM692 1364l10-16-5 21zM692 1364l5 5-10 1zM682 1387l5-17 5-6zM682 1387l-5-19 10 2zM672 1405l5-37 5 19zM672 1405l-5-13 10-24zM663 1369l9 36-5-13zM663 1369l4 23-9-19zM653 1393l5-20 5-4zM653 1393l-5-53 10 33zM643 1382l5-42 5 53zM643 1382l-5-32 10-10zM633 1378l5-28 5 32zM633 1378l-5-49 10 21zM623 1412l5-83 5 49zM623 1412l-5-54 10-29zM613 1418l5-60 5 54zM613 1418l-5 10 10-70zM603 1401l10 17-5 10zM603 1401l5 27-10-16zM594 1384l9 17-5 11zM594 1384l4 28-10-44zM584 1382l4-14 6 16zM584 1382l-5-30 9 16zM574 1430l5-78 5 30zM574 1430l-5-37 10-41zM564 1447l5-54 5 37zM564 1447l-5-33 10-21zM554 1413l5 1 5 33zM554 1413l5 1-10 2zM544 1439l5-23 5-3zM544 1439l-5-20 10-3zM534 1426l5-7 5 20zM534 1426l-5-5 10-2zM524 1448l5-27 5 5zM524 1448l-5-52 10 25zM515 1429l4-33 5 52zM515 1429l-6 7 10-40zM505 1430l10-1-6 7zM505 1430l-5-36 9 42zM495 1438l5-44 5 36zM495 1438l-5-19 10-25zM485 1458l5-39 5 19zM485 1458l-5-7 10-32zM475 1452l5-1 5 7zM475 1452l-5-11 10 10zM465 1482l5-41 5 11zM465 1482l-5-7 10-34z"/>
<path fill="url(#b2)" d="M924 1256l5-6 5 8zM924 1256l-5-2 10-4zM915 1242l9 14-5-2zM915 1242l4 12-10 35zM905 1256l10-14-6 47zM905 1256l4 33-9-17zM895 1304l5-32 5-16zM895 1304l-5 12 10-44zM885 1285l10 19-5 12zM885 1285l5 31-10-18zM875 1251l10 34-5 13zM875 1251l5 47-10-59zM865 1262l5-23 5 12zM865 1262l5-23-10 56zM855 1335l5-40 5-33zM855 1335l-5-7 10-33zM845 1304l10 31-5-7zM845 1304l5 24-10-4zM836 1298l9 6-5 20zM836 1298l4 26-10-5zM826 1306l10-8-6 21zM826 1306l4 13-9-17zM816 1324l5-22 5 4zM816 1324l-5-19 10-3zM806 1329l5-24 5 19zM806 1329l-5 21 10-45zM796 1343l10-14-5 21zM796 1343l5 7-10 7zM786 1334l10 9-5 14zM786 1334l5 23-10 0zM776 1324l10 10-5 23zM776 1324l5 33-10-31zM766 1319l10 5-5 2zM766 1319l-5-14 10 21zM757 1318l4-13 5 14zM757 1318l4-13-10 35zM747 1320l10-2-6 22zM747 1320l4 20-9-2zM737 1337l10-17-5 18zM737 1337l5 1-10 12zM727 1345l10-8-5 13zM727 1345l5 5-10 24zM717 1351l10-6-5 29zM717 1351l5 23-10-33zM707 1356l5-15 5 10zM707 1356l-5-8 10-7zM697 1345l5 3 5 8zM697 1345l5 3-10 16zM687 1346l10-1-5 19zM687 1346l5 18-10 23zM678 1371l9-25-5 41zM678 1371l4 16-10 18zM668 1423l10-52-6 34zM668 1423l-5-54 9 36zM658 1418l5-49 5 54zM658 1418l-5-25 10-24zM648 1399l5-6 5 25zM648 1399l-5-17 10 11zM638 1411l5-29 5 17zM638 1411l-5-33 10 4zM628 1405l5-27 5 33zM628 1405l-5 7 10-34zM618 1419l-5-1 10-6zM608 1396l10 23-5-1zM608 1396l5 22-10-17zM599 1414l4-13 5-5zM599 1414l-5-30 9 17zM589 1406l5-22 5 30zM589 1406l-5-24 10 2zM579 1437l5-55 5 24zM579 1437l-5-7 10-48zM569 1422l10 15-5-7zM569 1422l5 8-10 17zM559 1395l10 27-5 25zM559 1395l5 52-10-34zM549 1392l10 3-5 18zM549 1392l5 21-10 26zM539 1411l10-19-5 47zM539 1411l5 28-10-13zM530 1450l4-24 5-15zM530 1450l-6-2 10-22zM520 1459l4-11 6 2zM520 1459l-5-30 9 19zM510 1450l5-21 5 30zM510 1450l-5-20 10-1zM500 1460l5-30 5 20zM500 1460l-5-22 10-8zM490 1464l5-26 5 22zM490 1464l-5-6 10-20zM480 1458l5 0 5 6zM480 1458l-5-6 10 6zM470 1495l5-43 5 6zM470 1495l-5-13 10-30z"/>
<path fill="url(#b1)" d="M929 1286l5-28 5 3zM929 1286l-5-30 10 2zM920 1286l4-30 5 30zM920 1286l-5-44 9 14zM910 1258l5-16 5 44zM910 1258l-5-2 10-14zM900 1271l5-15 5 2zM900 1271l5-15-10 48zM890 1275l10-4-5 33zM890 1275l5 29-10-19zM880 1274l10 1-5 10zM880 1274l-5-23 10 34zM870 1295l5-44 5 23zM870 1295l-5-33 10-11zM860 1320l5-58 5 33zM860 1320l-5 15 10-73zM851 1307l9 13-5 15zM851 1307l4 28-10-31zM841 1303l4 1 6 3zM841 1303l-5-5 9 6zM831 1321l5-23 5 5zM831 1321l-5-15 10-8zM821 1325l5-19 5 15zM821 1325l-5-1 10-18zM811 1333l5-9 5 1zM811 1333l-5-4 10-5zM801 1358l5-29 5 4zM801 1358l-5-15 10-14zM791 1330l5 13 5 15zM791 1330l5 13-10-9zM781 1330l10 0-5 4zM781 1330l-5-6 10 10zM772 1351l4-27 5 6zM772 1351l-6-32 10 5zM762 1342l4-23 6 32zM762 1342l-5-24 9 1zM752 1375l5-57 5 24zM752 1375l-5-55 10-2zM742 1366l5-46 5 55zM742 1366l-5-29 10-17zM732 1356l5-19 5 29zM732 1356l-5-11 10-8zM722 1354l5-9 5 11zM722 1354l-5-3 10-6zM712 1353l5-2 5 3zM712 1353l5-2-10 5zM702 1345l10 8-5 3zM702 1345l5 11-10-11zM693 1335l9 10-5 0zM693 1335l4 10-10 1zM683 1386l4-40 6-11zM683 1386l-5-15 9-25zM673 1414l5-43 5 15zM673 1414l-5 9 10-52zM663 1425l10-11-5 9zM663 1425l-5-7 10 5zM653 1399l10 26-5-7zM653 1399l5 19-10-19zM643 1398l10 1-5 0zM643 1398l5 1-10 12zM633 1401l10-3-5 13zM633 1401l5 10-10-6zM623 1405l10-4-5 4zM623 1405l5 0-10 14zM614 1381l9 24-5 14zM614 1381l4 38-10-23zM604 1411l4-15 6-15zM604 1411l-5 3 9-18zM594 1408l10 3-5 3zM594 1408l5 6-10-8zM584 1405l5 1 5 2zM584 1405l5 1-10 31zM574 1426l10-21-5 32zM574 1426l5 11-10-15zM564 1439l5-17 5 4zM564 1439l-5-44 10 27zM554 1373l5 22 5 44zM554 1373l5 22-10-3zM544 1403l10-30-5 19zM544 1403l-5 8 10-19zM535 1449l4-38 5-8zM535 1449l-5 1 9-39zM525 1435l10 14-5 1zM525 1435l5 15-10 9zM515 1444l10-9-5 24zM515 1444l5 15-10-9zM505 1485l5-35 5-6zM505 1485l-5-25 10-10zM495 1451l5 9 5 25zM495 1451l5 9-10 4zM485 1438l10 13-5 13zM485 1438l5 26-10-6zM475 1507l5-49 5-20zM475 1507l-5-12 10-37z"/>
<path fill="url(#b0)" d="M935 1330l4-69 5 20zM935 1330l-6-44 10-25zM925 1315l4-29 6 44zM925 1315l-5-29 9 0zM915 1316l5-30 5 29zM915 1316l-5-58 10 28zM905 1302l5-44 5 58zM905 1302l-5-31 10-13zM895 1323l5-52 5 31zM895 1323l-5-48 10-4zM885 1334l5-59 5 48zM885 1334l-5-60 10 1zM875 1334l5-60 5 60zM875 1334l-5-39 10-21zM865 1344l5-49 5 39zM865 1344l-5-24 10-25zM856 1343l4-23 5 24zM856 1343l-5-36 9 13zM846 1340l5-33 5 36zM846 1340l-5-37 10 4zM836 1357l5-54 5 37zM836 1357l-5-36 10-18zM826 1359l5-38 5 36zM826 1359l-5-34 10-4zM816 1357l5-32 5 34zM816 1357l-5-24 10-8zM806 1371l5-38 5 24zM806 1371l-5-13 10-25zM796 1380l5-22 5 13zM796 1380l-5-50 10 28zM787 1373l4-43 5 50zM787 1373l-6-43 10 0zM777 1380l4-50 6 43zM777 1380l-5-29 9-21zM767 1401l5-50 5 29zM767 1401l-5-59 10 9zM757 1419l5-77 5 59zM757 1419l-5-44 10-33zM747 1411l5-36 5 44zM747 1411l-5-45 10 9zM737 1397l5-31 5 45zM737 1397l-5-41 10 10zM727 1395l5-39 5 41zM727 1395l-5-41 10 2zM717 1422l5-68 5 41zM717 1422l-5-69 10 1zM708 1399l4-46 5 69zM708 1399l-6-54 10 8zM698 1401l4-56 6 54zM698 1401l-5-66 9 10zM688 1416l5-81 5 66zM688 1416l-5-30 10-51zM678 1438l5-52 5 30zM678 1438l-5-24 10-28zM668 1456l5-42 5 24zM668 1456l-5-31 10-11zM658 1431l5-6 5 31zM658 1431l-5-32 10 26zM648 1430l5-31 5 32zM648 1430l-5-32 10 1zM638 1447l5-49 5 32zM638 1447l-5-46 10-3zM629 1443l4-42 5 46zM629 1443l-6-38 10-4zM619 1438l4-33 6 38zM619 1438l-5-57 9 24zM609 1447l5-66 5 57zM609 1447l-5-36 10-30zM599 1475l5-64 5 36zM599 1475l-5-67 10 3zM589 1494l5-86 5 67zM589 1494l-5-89 10 3zM579 1480l5-75 5 89zM579 1480l-5-54 10-21zM569 1462l5-36 5 54zM569 1462l-5-23 10-13zM559 1453l5-14 5 23zM559 1453l-5-80 10 66zM550 1466l4-93 5 80zM550 1466l-6-63 10-30zM540 1485l4-82 6 63zM540 1485l-5-36 9-46zM530 1479l5-30 5 36zM530 1479l-5-44 10 14zM520 1481l5-46 5 44zM520 1481l-5-37 10-9zM510 1486l5-42 5 37zM510 1486l-5-1 10-41zM500 1488l5-3 5 1zM500 1488l-5-37 10 34zM490 1482l5-31 5 37zM490 1482l-5-44 10 13zM480 1514l5-76 5 44zM480 1514l-5-7 10-69z"/></g>
<text transform="matrix(1 0 0 1 536.5 38.6)" font-family="Liberation Sans" font-size="36" text-anchor="middle" textLength="580" lengthAdjust="spacingAndGlyphs">BB-SV for detector 1 in VIIRS M15</text>
<rect x="135.8" y="60" width="752.1" height="15.8" fill="url(#jetH1)" stroke="#000" stroke-width="1.8"/>
<line x1="211.01" y1="75.2" x2="211.01" y2="71.8" stroke="#000" stroke-width="1.4"/>
<line x1="361.43" y1="75.2" x2="361.43" y2="71.8" stroke="#000" stroke-width="1.4"/>
<line x1="511.85" y1="75.2" x2="511.85" y2="71.8" stroke="#000" stroke-width="1.4"/>
<line x1="662.27" y1="75.2" x2="662.27" y2="71.8" stroke="#000" stroke-width="1.4"/>
<line x1="812.69" y1="75.2" x2="812.69" y2="71.8" stroke="#000" stroke-width="1.4"/>
<line x1="286.22" y1="75.2" x2="286.22" y2="69.8" stroke="#000" stroke-width="1.4"/>
<line x1="436.64" y1="75.2" x2="436.64" y2="69.8" stroke="#000" stroke-width="1.4"/>
<line x1="587.06" y1="75.2" x2="587.06" y2="69.8" stroke="#000" stroke-width="1.4"/>
<line x1="737.48" y1="75.2" x2="737.48" y2="69.8" stroke="#000" stroke-width="1.4"/>
<text transform="matrix(1.08 0 0 1 137.4 105.38)" font-family="Liberation Sans" font-size="28.4" text-anchor="middle">1382</text>
<text transform="matrix(1.08 0 0 1 288.9 105.38)" font-family="Liberation Sans" font-size="28.4" text-anchor="middle">1384</text>
<text transform="matrix(1.08 0 0 1 440.4 105.38)" font-family="Liberation Sans" font-size="28.4" text-anchor="middle">1386</text>
<text transform="matrix(1.08 0 0 1 591.9 105.38)" font-family="Liberation Sans" font-size="28.4" text-anchor="middle">1388</text>
<text transform="matrix(1.08 0 0 1 743.4 105.38)" font-family="Liberation Sans" font-size="28.4" text-anchor="middle">1390</text>
<text transform="matrix(1.08 0 0 1 894.9 105.38)" font-family="Liberation Sans" font-size="28.4" text-anchor="middle">1392</text>
<line x1="140.1" y1="182.3" x2="140.1" y2="494.7" stroke="#000" stroke-width="2"/>
<line x1="140.1" y1="494.7" x2="148.35" y2="491.1" stroke="#000" stroke-width="1.6"/>
<line x1="140.1" y1="479.08" x2="144.22" y2="477.28" stroke="#000" stroke-width="1.6"/>
<line x1="140.1" y1="463.46" x2="144.22" y2="461.66" stroke="#000" stroke-width="1.6"/>
<line x1="140.1" y1="447.84" x2="144.22" y2="446.04" stroke="#000" stroke-width="1.6"/>
<line x1="140.1" y1="432.22" x2="148.35" y2="428.62" stroke="#000" stroke-width="1.6"/>
<line x1="140.1" y1="416.6" x2="144.22" y2="414.8" stroke="#000" stroke-width="1.6"/>
<line x1="140.1" y1="400.98" x2="144.22" y2="399.18" stroke="#000" stroke-width="1.6"/>
<line x1="140.1" y1="385.36" x2="144.22" y2="383.56" stroke="#000" stroke-width="1.6"/>
<line x1="140.1" y1="369.74" x2="148.35" y2="366.14" stroke="#000" stroke-width="1.6"/>
<line x1="140.1" y1="354.12" x2="144.22" y2="352.32" stroke="#000" stroke-width="1.6"/>
<line x1="140.1" y1="338.5" x2="144.22" y2="336.7" stroke="#000" stroke-width="1.6"/>
<line x1="140.1" y1="322.88" x2="144.22" y2="321.08" stroke="#000" stroke-width="1.6"/>
<line x1="140.1" y1="307.26" x2="148.35" y2="303.66" stroke="#000" stroke-width="1.6"/>
<line x1="140.1" y1="291.64" x2="144.22" y2="289.84" stroke="#000" stroke-width="1.6"/>
<line x1="140.1" y1="276.02" x2="144.22" y2="274.22" stroke="#000" stroke-width="1.6"/>
<line x1="140.1" y1="260.4" x2="144.22" y2="258.6" stroke="#000" stroke-width="1.6"/>
<line x1="140.1" y1="244.78" x2="148.35" y2="241.18" stroke="#000" stroke-width="1.6"/>
<line x1="140.1" y1="229.16" x2="144.22" y2="227.36" stroke="#000" stroke-width="1.6"/>
<line x1="140.1" y1="213.54" x2="144.22" y2="211.74" stroke="#000" stroke-width="1.6"/>
<line x1="140.1" y1="197.92" x2="144.22" y2="196.12" stroke="#000" stroke-width="1.6"/>
<line x1="140.1" y1="182.3" x2="148.35" y2="178.7" stroke="#000" stroke-width="1.6"/>
<text transform="matrix(1.07 -0.33 -0.06 0.86 99 510.73)" font-family="Liberation Sans" font-size="28" text-anchor="middle">1382</text>
<text transform="matrix(1.07 -0.33 -0.06 0.86 99 453.25)" font-family="Liberation Sans" font-size="28" text-anchor="middle">1384</text>
<text transform="matrix(1.07 -0.33 -0.06 0.86 99 390.77)" font-family="Liberation Sans" font-size="28" text-anchor="middle">1386</text>
<text transform="matrix(1.07 -0.33 -0.06 0.86 99 328.29)" font-family="Liberation Sans" font-size="28" text-anchor="middle">1388</text>
<text transform="matrix(1.07 -0.33 -0.06 0.86 99 265.81)" font-family="Liberation Sans" font-size="28" text-anchor="middle">1390</text>
<text transform="matrix(1.07 -0.33 -0.06 0.86 99 199.33)" font-family="Liberation Sans" font-size="28" text-anchor="middle">1392</text>
<line x1="529.3" y1="734.9" x2="140.1" y2="494.7" stroke="#000" stroke-width="1.25"/>
<line x1="529.3" y1="734.9" x2="537.55" y2="731.3" stroke="#000" stroke-width="1.4"/>
<line x1="504.97" y1="719.89" x2="509.1" y2="718.09" stroke="#000" stroke-width="1.4"/>
<line x1="480.65" y1="704.88" x2="484.77" y2="703.08" stroke="#000" stroke-width="1.4"/>
<line x1="456.32" y1="689.86" x2="460.45" y2="688.06" stroke="#000" stroke-width="1.4"/>
<line x1="432" y1="674.85" x2="440.25" y2="671.25" stroke="#000" stroke-width="1.4"/>
<line x1="407.67" y1="659.84" x2="411.8" y2="658.04" stroke="#000" stroke-width="1.4"/>
<line x1="383.35" y1="644.82" x2="387.47" y2="643.03" stroke="#000" stroke-width="1.4"/>
<line x1="359.02" y1="629.81" x2="363.15" y2="628.01" stroke="#000" stroke-width="1.4"/>
<line x1="334.7" y1="614.8" x2="342.95" y2="611.2" stroke="#000" stroke-width="1.4"/>
<line x1="310.37" y1="599.79" x2="314.5" y2="597.99" stroke="#000" stroke-width="1.4"/>
<line x1="286.05" y1="584.77" x2="290.17" y2="582.98" stroke="#000" stroke-width="1.4"/>
<line x1="261.72" y1="569.76" x2="265.85" y2="567.96" stroke="#000" stroke-width="1.4"/>
<line x1="237.4" y1="554.75" x2="245.65" y2="551.15" stroke="#000" stroke-width="1.4"/>
<line x1="213.07" y1="539.74" x2="217.2" y2="537.94" stroke="#000" stroke-width="1.4"/>
<line x1="188.75" y1="524.72" x2="192.87" y2="522.93" stroke="#000" stroke-width="1.4"/>
<line x1="164.42" y1="509.71" x2="168.55" y2="507.91" stroke="#000" stroke-width="1.4"/>
<line x1="140.1" y1="494.7" x2="148.35" y2="491.1" stroke="#000" stroke-width="1.4"/>
<text transform="matrix(0.76 -0.78 0.9 0.35 514.3 741.63)" font-family="Liberation Sans" font-size="29" text-anchor="middle">0</text>
<text transform="matrix(0.76 -0.78 0.9 0.35 420.9 693.23)" font-family="Liberation Sans" font-size="29" text-anchor="middle">20</text>
<text transform="matrix(0.76 -0.78 0.9 0.35 329 633.63)" font-family="Liberation Sans" font-size="29" text-anchor="middle">40</text>
<text transform="matrix(0.76 -0.78 0.9 0.35 231.3 575.63)" font-family="Liberation Sans" font-size="29" text-anchor="middle">60</text>
<text transform="matrix(0.76 -0.78 0.9 0.35 137.3 515.13)" font-family="Liberation Sans" font-size="29" text-anchor="middle">80</text>
<text transform="matrix(-0.85 -0.53 0.47 -0.77 258.84 648.65)" font-family="Liberation Sans" font-size="39" text-anchor="middle">Scan Number</text>
<line x1="529.3" y1="734.9" x2="928.6" y2="560.8" stroke="#000" stroke-width="1.25"/>
<line x1="529.3" y1="734.9" x2="521.64" y2="730.17" stroke="#000" stroke-width="1.3"/>
<line x1="537.29" y1="731.42" x2="533.46" y2="729.05" stroke="#000" stroke-width="1.3"/>
<line x1="545.27" y1="727.94" x2="541.44" y2="725.57" stroke="#000" stroke-width="1.3"/>
<line x1="553.26" y1="724.45" x2="549.43" y2="722.09" stroke="#000" stroke-width="1.3"/>
<line x1="561.24" y1="720.97" x2="557.41" y2="718.61" stroke="#000" stroke-width="1.3"/>
<line x1="569.23" y1="717.49" x2="565.4" y2="715.13" stroke="#000" stroke-width="1.3"/>
<line x1="577.22" y1="714.01" x2="573.39" y2="711.64" stroke="#000" stroke-width="1.3"/>
<line x1="585.2" y1="710.53" x2="581.37" y2="708.16" stroke="#000" stroke-width="1.3"/>
<line x1="593.19" y1="707.04" x2="589.36" y2="704.68" stroke="#000" stroke-width="1.3"/>
<line x1="601.17" y1="703.56" x2="597.34" y2="701.2" stroke="#000" stroke-width="1.3"/>
<line x1="609.16" y1="700.08" x2="601.5" y2="695.35" stroke="#000" stroke-width="1.3"/>
<line x1="617.15" y1="696.6" x2="613.32" y2="694.23" stroke="#000" stroke-width="1.3"/>
<line x1="625.13" y1="693.12" x2="621.3" y2="690.75" stroke="#000" stroke-width="1.3"/>
<line x1="633.12" y1="689.63" x2="629.29" y2="687.27" stroke="#000" stroke-width="1.3"/>
<line x1="641.1" y1="686.15" x2="637.27" y2="683.79" stroke="#000" stroke-width="1.3"/>
<line x1="649.09" y1="682.67" x2="645.26" y2="680.31" stroke="#000" stroke-width="1.3"/>
<line x1="657.08" y1="679.19" x2="653.25" y2="676.82" stroke="#000" stroke-width="1.3"/>
<line x1="665.06" y1="675.71" x2="661.23" y2="673.34" stroke="#000" stroke-width="1.3"/>
<line x1="673.05" y1="672.22" x2="669.22" y2="669.86" stroke="#000" stroke-width="1.3"/>
<line x1="681.03" y1="668.74" x2="677.2" y2="666.38" stroke="#000" stroke-width="1.3"/>
<line x1="689.02" y1="665.26" x2="681.36" y2="660.53" stroke="#000" stroke-width="1.3"/>
<line x1="697.01" y1="661.78" x2="693.18" y2="659.41" stroke="#000" stroke-width="1.3"/>
<line x1="704.99" y1="658.3" x2="701.16" y2="655.93" stroke="#000" stroke-width="1.3"/>
<line x1="712.98" y1="654.81" x2="709.15" y2="652.45" stroke="#000" stroke-width="1.3"/>
<line x1="720.96" y1="651.33" x2="717.13" y2="648.97" stroke="#000" stroke-width="1.3"/>
<line x1="728.95" y1="647.85" x2="725.12" y2="645.49" stroke="#000" stroke-width="1.3"/>
<line x1="736.94" y1="644.37" x2="733.11" y2="642" stroke="#000" stroke-width="1.3"/>
<line x1="744.92" y1="640.89" x2="741.09" y2="638.52" stroke="#000" stroke-width="1.3"/>
<line x1="752.91" y1="637.4" x2="749.08" y2="635.04" stroke="#000" stroke-width="1.3"/>
<line x1="760.89" y1="633.92" x2="757.06" y2="631.56" stroke="#000" stroke-width="1.3"/>
<line x1="768.88" y1="630.44" x2="761.22" y2="625.71" stroke="#000" stroke-width="1.3"/>
<line x1="776.87" y1="626.96" x2="773.04" y2="624.59" stroke="#000" stroke-width="1.3"/>
<line x1="784.85" y1="623.48" x2="781.02" y2="621.11" stroke="#000" stroke-width="1.3"/>
<line x1="792.84" y1="619.99" x2="789.01" y2="617.63" stroke="#000" stroke-width="1.3"/>
<line x1="800.82" y1="616.51" x2="796.99" y2="614.15" stroke="#000" stroke-width="1.3"/>
<line x1="808.81" y1="613.03" x2="804.98" y2="610.67" stroke="#000" stroke-width="1.3"/>
<line x1="816.8" y1="609.55" x2="812.97" y2="607.18" stroke="#000" stroke-width="1.3"/>
<line x1="824.78" y1="606.07" x2="820.95" y2="603.7" stroke="#000" stroke-width="1.3"/>
<line x1="832.77" y1="602.58" x2="828.94" y2="600.22" stroke="#000" stroke-width="1.3"/>
<line x1="840.75" y1="599.1" x2="836.92" y2="596.74" stroke="#000" stroke-width="1.3"/>
<line x1="848.74" y1="595.62" x2="841.08" y2="590.89" stroke="#000" stroke-width="1.3"/>
<line x1="856.73" y1="592.14" x2="852.9" y2="589.77" stroke="#000" stroke-width="1.3"/>
<line x1="864.71" y1="588.66" x2="860.88" y2="586.29" stroke="#000" stroke-width="1.3"/>
<line x1="872.7" y1="585.17" x2="868.87" y2="582.81" stroke="#000" stroke-width="1.3"/>
<line x1="880.68" y1="581.69" x2="876.85" y2="579.33" stroke="#000" stroke-width="1.3"/>
<line x1="888.67" y1="578.21" x2="884.84" y2="575.85" stroke="#000" stroke-width="1.3"/>
<line x1="896.66" y1="574.73" x2="892.83" y2="572.36" stroke="#000" stroke-width="1.3"/>
<line x1="904.64" y1="571.25" x2="900.81" y2="568.88" stroke="#000" stroke-width="1.3"/>
<line x1="912.63" y1="567.76" x2="908.8" y2="565.4" stroke="#000" stroke-width="1.3"/>
<line x1="920.61" y1="564.28" x2="916.78" y2="561.92" stroke="#000" stroke-width="1.3"/>
<line x1="928.6" y1="560.8" x2="920.94" y2="556.07" stroke="#000" stroke-width="1.3"/>
<text transform="matrix(0.92 -0.64 0.62 0.79 560.12 757.83)" font-family="Liberation Sans" font-size="28" text-anchor="middle">0</text>
<text transform="matrix(0.92 -0.64 0.62 0.79 633.82 722.43)" font-family="Liberation Sans" font-size="28" text-anchor="middle">10</text>
<text transform="matrix(0.92 -0.64 0.62 0.79 718.12 687.33)" font-family="Liberation Sans" font-size="28" text-anchor="middle">20</text>
<text transform="matrix(0.92 -0.64 0.62 0.79 793.12 655.83)" font-family="Liberation Sans" font-size="28" text-anchor="middle">30</text>
<text transform="matrix(0.92 -0.64 0.62 0.79 869.12 621.83)" font-family="Liberation Sans" font-size="28" text-anchor="middle">40</text>
<text transform="matrix(0.92 -0.64 0.62 0.79 948.12 582.83)" font-family="Liberation Sans" font-size="28" text-anchor="middle">50</text>
<text transform="matrix(0.9 -0.43 0.62 0.79 830.7 692.22)" font-family="Liberation Sans" font-size="39" text-anchor="middle">Sample Number</text>
<text transform="matrix(1 0 0 1 538.75 866)" font-family="Liberation Sans" font-size="36.5" text-anchor="middle" textLength="572" lengthAdjust="spacingAndGlyphs">SD-SV for detector 1 in VIIRS M15</text>
<rect x="146.5" y="887.6" width="737.3" height="15.2" fill="url(#jetH2)" stroke="#000" stroke-width="1.8"/>
<line x1="280.55" y1="902.2" x2="280.55" y2="897.9" stroke="#000" stroke-width="1.4"/>
<line x1="414.61" y1="902.2" x2="414.61" y2="897.9" stroke="#000" stroke-width="1.4"/>
<line x1="548.66" y1="902.2" x2="548.66" y2="897.9" stroke="#000" stroke-width="1.4"/>
<line x1="682.72" y1="902.2" x2="682.72" y2="897.9" stroke="#000" stroke-width="1.4"/>
<line x1="816.77" y1="902.2" x2="816.77" y2="897.9" stroke="#000" stroke-width="1.4"/>
<line x1="213.53" y1="902.2" x2="213.53" y2="897.9" stroke="#000" stroke-width="1.4"/>
<line x1="347.58" y1="902.2" x2="347.58" y2="897.9" stroke="#000" stroke-width="1.4"/>
<line x1="481.64" y1="902.2" x2="481.64" y2="897.9" stroke="#000" stroke-width="1.4"/>
<line x1="615.69" y1="902.2" x2="615.69" y2="897.9" stroke="#000" stroke-width="1.4"/>
<line x1="749.75" y1="902.2" x2="749.75" y2="897.9" stroke="#000" stroke-width="1.4"/>
<text transform="matrix(1.1 0 0 1 212.6 932.24)" font-family="Liberation Sans" font-size="28" text-anchor="middle">950</text>
<text transform="matrix(1.1 0 0 1 346.84 932.24)" font-family="Liberation Sans" font-size="28" text-anchor="middle">952</text>
<text transform="matrix(1.1 0 0 1 481.08 932.24)" font-family="Liberation Sans" font-size="28" text-anchor="middle">954</text>
<text transform="matrix(1.1 0 0 1 615.32 932.24)" font-family="Liberation Sans" font-size="28" text-anchor="middle">956</text>
<text transform="matrix(1.1 0 0 1 749.56 932.24)" font-family="Liberation Sans" font-size="28" text-anchor="middle">958</text>
<text transform="matrix(1.1 0 0 1 883.8 932.24)" font-family="Liberation Sans" font-size="28" text-anchor="middle">960</text>
<line x1="70.6" y1="1038.8" x2="70.6" y2="1341.2" stroke="#000" stroke-width="2"/>
<line x1="70.6" y1="1341.2" x2="78.9" y2="1337.71" stroke="#000" stroke-width="1.6"/>
<line x1="70.6" y1="1328.6" x2="74.75" y2="1326.86" stroke="#000" stroke-width="1.6"/>
<line x1="70.6" y1="1316" x2="74.75" y2="1314.26" stroke="#000" stroke-width="1.6"/>
<line x1="70.6" y1="1303.4" x2="74.75" y2="1301.66" stroke="#000" stroke-width="1.6"/>
<line x1="70.6" y1="1290.8" x2="78.9" y2="1287.31" stroke="#000" stroke-width="1.6"/>
<line x1="70.6" y1="1278.2" x2="74.75" y2="1276.46" stroke="#000" stroke-width="1.6"/>
<line x1="70.6" y1="1265.6" x2="74.75" y2="1263.86" stroke="#000" stroke-width="1.6"/>
<line x1="70.6" y1="1253" x2="74.75" y2="1251.26" stroke="#000" stroke-width="1.6"/>
<line x1="70.6" y1="1240.4" x2="78.9" y2="1236.91" stroke="#000" stroke-width="1.6"/>
<line x1="70.6" y1="1227.8" x2="74.75" y2="1226.06" stroke="#000" stroke-width="1.6"/>
<line x1="70.6" y1="1215.2" x2="74.75" y2="1213.46" stroke="#000" stroke-width="1.6"/>
<line x1="70.6" y1="1202.6" x2="74.75" y2="1200.86" stroke="#000" stroke-width="1.6"/>
<line x1="70.6" y1="1190" x2="78.9" y2="1186.51" stroke="#000" stroke-width="1.6"/>
<line x1="70.6" y1="1177.4" x2="74.75" y2="1175.66" stroke="#000" stroke-width="1.6"/>
<line x1="70.6" y1="1164.8" x2="74.75" y2="1163.06" stroke="#000" stroke-width="1.6"/>
<line x1="70.6" y1="1152.2" x2="74.75" y2="1150.46" stroke="#000" stroke-width="1.6"/>
<line x1="70.6" y1="1139.6" x2="78.9" y2="1136.11" stroke="#000" stroke-width="1.6"/>
<line x1="70.6" y1="1127" x2="74.75" y2="1125.26" stroke="#000" stroke-width="1.6"/>
<line x1="70.6" y1="1114.4" x2="74.75" y2="1112.66" stroke="#000" stroke-width="1.6"/>
<line x1="70.6" y1="1101.8" x2="74.75" y2="1100.06" stroke="#000" stroke-width="1.6"/>
<line x1="70.6" y1="1089.2" x2="78.9" y2="1085.71" stroke="#000" stroke-width="1.6"/>
<line x1="70.6" y1="1076.6" x2="74.75" y2="1074.86" stroke="#000" stroke-width="1.6"/>
<line x1="70.6" y1="1064" x2="74.75" y2="1062.26" stroke="#000" stroke-width="1.6"/>
<line x1="70.6" y1="1051.4" x2="74.75" y2="1049.66" stroke="#000" stroke-width="1.6"/>
<line x1="70.6" y1="1038.8" x2="78.9" y2="1035.31" stroke="#000" stroke-width="1.6"/>
<text transform="matrix(1.03 -0.2 -0.22 0.92 35.45 1356.28)" font-family="Liberation Sans" font-size="28" text-anchor="middle">948</text>
<text transform="matrix(1.03 -0.2 -0.22 0.92 35.45 1310.38)" font-family="Liberation Sans" font-size="28" text-anchor="middle">950</text>
<text transform="matrix(1.03 -0.2 -0.22 0.92 35.45 1259.48)" font-family="Liberation Sans" font-size="28" text-anchor="middle">952</text>
<text transform="matrix(1.03 -0.2 -0.22 0.92 35.45 1208.48)" font-family="Liberation Sans" font-size="28" text-anchor="middle">954</text>
<text transform="matrix(1.03 -0.2 -0.22 0.92 35.45 1157.58)" font-family="Liberation Sans" font-size="28" text-anchor="middle">956</text>
<text transform="matrix(1.03 -0.2 -0.22 0.92 35.45 1107.18)" font-family="Liberation Sans" font-size="28" text-anchor="middle">958</text>
<text transform="matrix(1.03 -0.2 -0.22 0.92 35.45 1056.88)" font-family="Liberation Sans" font-size="28" text-anchor="middle">960</text>
<line x1="480.5" y1="1585.5" x2="70.6" y2="1341.2" stroke="#000" stroke-width="1.25"/>
<line x1="480.5" y1="1585.5" x2="488.8" y2="1582.01" stroke="#000" stroke-width="1.4"/>
<line x1="454.88" y1="1570.23" x2="459.03" y2="1568.49" stroke="#000" stroke-width="1.4"/>
<line x1="429.26" y1="1554.96" x2="433.41" y2="1553.22" stroke="#000" stroke-width="1.4"/>
<line x1="403.64" y1="1539.69" x2="407.79" y2="1537.95" stroke="#000" stroke-width="1.4"/>
<line x1="378.02" y1="1524.42" x2="386.32" y2="1520.94" stroke="#000" stroke-width="1.4"/>
<line x1="352.41" y1="1509.16" x2="356.55" y2="1507.41" stroke="#000" stroke-width="1.4"/>
<line x1="326.79" y1="1493.89" x2="330.94" y2="1492.14" stroke="#000" stroke-width="1.4"/>
<line x1="301.17" y1="1478.62" x2="305.32" y2="1476.87" stroke="#000" stroke-width="1.4"/>
<line x1="275.55" y1="1463.35" x2="283.85" y2="1459.86" stroke="#000" stroke-width="1.4"/>
<line x1="249.93" y1="1448.08" x2="254.08" y2="1446.34" stroke="#000" stroke-width="1.4"/>
<line x1="224.31" y1="1432.81" x2="228.46" y2="1431.07" stroke="#000" stroke-width="1.4"/>
<line x1="198.69" y1="1417.54" x2="202.84" y2="1415.8" stroke="#000" stroke-width="1.4"/>
<line x1="173.07" y1="1402.28" x2="181.37" y2="1398.79" stroke="#000" stroke-width="1.4"/>
<line x1="147.46" y1="1387.01" x2="151.6" y2="1385.26" stroke="#000" stroke-width="1.4"/>
<line x1="121.84" y1="1371.74" x2="125.99" y2="1369.99" stroke="#000" stroke-width="1.4"/>
<line x1="96.22" y1="1356.47" x2="100.37" y2="1354.72" stroke="#000" stroke-width="1.4"/>
<line x1="70.6" y1="1341.2" x2="78.9" y2="1337.71" stroke="#000" stroke-width="1.4"/>
<text transform="matrix(0.76 -0.78 0.9 0.35 467.7 1595.03)" font-family="Liberation Sans" font-size="29" text-anchor="middle">0</text>
<text transform="matrix(0.76 -0.78 0.9 0.35 369.3 1541.13)" font-family="Liberation Sans" font-size="29" text-anchor="middle">20</text>
<text transform="matrix(0.76 -0.78 0.9 0.35 268.4 1482.53)" font-family="Liberation Sans" font-size="29" text-anchor="middle">40</text>
<text transform="matrix(0.76 -0.78 0.9 0.35 161.8 1420.33)" font-family="Liberation Sans" font-size="29" text-anchor="middle">60</text>
<text transform="matrix(0.76 -0.78 0.9 0.35 73.9 1368.83)" font-family="Liberation Sans" font-size="29" text-anchor="middle">80</text>
<text transform="matrix(-0.85 -0.53 0.47 -0.77 189.64 1485.65)" font-family="Liberation Sans" font-size="39" text-anchor="middle">Scan Number</text>
<line x1="480.5" y1="1585.5" x2="978.3" y2="1376.1" stroke="#000" stroke-width="1.25"/>
<line x1="480.5" y1="1585.5" x2="472.77" y2="1580.89" stroke="#000" stroke-width="1.3"/>
<line x1="490.46" y1="1581.31" x2="486.59" y2="1579.01" stroke="#000" stroke-width="1.3"/>
<line x1="500.41" y1="1577.12" x2="496.55" y2="1574.82" stroke="#000" stroke-width="1.3"/>
<line x1="510.37" y1="1572.94" x2="506.5" y2="1570.63" stroke="#000" stroke-width="1.3"/>
<line x1="520.32" y1="1568.75" x2="516.46" y2="1566.44" stroke="#000" stroke-width="1.3"/>
<line x1="530.28" y1="1564.56" x2="526.41" y2="1562.26" stroke="#000" stroke-width="1.3"/>
<line x1="540.24" y1="1560.37" x2="536.37" y2="1558.07" stroke="#000" stroke-width="1.3"/>
<line x1="550.19" y1="1556.18" x2="546.33" y2="1553.88" stroke="#000" stroke-width="1.3"/>
<line x1="560.15" y1="1552" x2="556.28" y2="1549.69" stroke="#000" stroke-width="1.3"/>
<line x1="570.1" y1="1547.81" x2="566.24" y2="1545.5" stroke="#000" stroke-width="1.3"/>
<line x1="580.06" y1="1543.62" x2="572.33" y2="1539.01" stroke="#000" stroke-width="1.3"/>
<line x1="590.02" y1="1539.43" x2="586.15" y2="1537.13" stroke="#000" stroke-width="1.3"/>
<line x1="599.97" y1="1535.24" x2="596.11" y2="1532.94" stroke="#000" stroke-width="1.3"/>
<line x1="609.93" y1="1531.06" x2="606.06" y2="1528.75" stroke="#000" stroke-width="1.3"/>
<line x1="619.88" y1="1526.87" x2="616.02" y2="1524.56" stroke="#000" stroke-width="1.3"/>
<line x1="629.84" y1="1522.68" x2="625.97" y2="1520.38" stroke="#000" stroke-width="1.3"/>
<line x1="639.8" y1="1518.49" x2="635.93" y2="1516.19" stroke="#000" stroke-width="1.3"/>
<line x1="649.75" y1="1514.3" x2="645.89" y2="1512" stroke="#000" stroke-width="1.3"/>
<line x1="659.71" y1="1510.12" x2="655.84" y2="1507.81" stroke="#000" stroke-width="1.3"/>
<line x1="669.66" y1="1505.93" x2="665.8" y2="1503.62" stroke="#000" stroke-width="1.3"/>
<line x1="679.62" y1="1501.74" x2="671.89" y2="1497.13" stroke="#000" stroke-width="1.3"/>
<line x1="689.58" y1="1497.55" x2="685.71" y2="1495.25" stroke="#000" stroke-width="1.3"/>
<line x1="699.53" y1="1493.36" x2="695.67" y2="1491.06" stroke="#000" stroke-width="1.3"/>
<line x1="709.49" y1="1489.18" x2="705.62" y2="1486.87" stroke="#000" stroke-width="1.3"/>
<line x1="719.44" y1="1484.99" x2="715.58" y2="1482.68" stroke="#000" stroke-width="1.3"/>
<line x1="729.4" y1="1480.8" x2="725.53" y2="1478.5" stroke="#000" stroke-width="1.3"/>
<line x1="739.36" y1="1476.61" x2="735.49" y2="1474.31" stroke="#000" stroke-width="1.3"/>
<line x1="749.31" y1="1472.42" x2="745.45" y2="1470.12" stroke="#000" stroke-width="1.3"/>
<line x1="759.27" y1="1468.24" x2="755.4" y2="1465.93" stroke="#000" stroke-width="1.3"/>
<line x1="769.22" y1="1464.05" x2="765.36" y2="1461.74" stroke="#000" stroke-width="1.3"/>
<line x1="779.18" y1="1459.86" x2="771.45" y2="1455.25" stroke="#000" stroke-width="1.3"/>
<line x1="789.14" y1="1455.67" x2="785.27" y2="1453.37" stroke="#000" stroke-width="1.3"/>
<line x1="799.09" y1="1451.48" x2="795.23" y2="1449.18" stroke="#000" stroke-width="1.3"/>
<line x1="809.05" y1="1447.3" x2="805.18" y2="1444.99" stroke="#000" stroke-width="1.3"/>
<line x1="819" y1="1443.11" x2="815.14" y2="1440.8" stroke="#000" stroke-width="1.3"/>
<line x1="828.96" y1="1438.92" x2="825.09" y2="1436.62" stroke="#000" stroke-width="1.3"/>
<line x1="838.92" y1="1434.73" x2="835.05" y2="1432.43" stroke="#000" stroke-width="1.3"/>
<line x1="848.87" y1="1430.54" x2="845.01" y2="1428.24" stroke="#000" stroke-width="1.3"/>
<line x1="858.83" y1="1426.36" x2="854.96" y2="1424.05" stroke="#000" stroke-width="1.3"/>
<line x1="868.78" y1="1422.17" x2="864.92" y2="1419.86" stroke="#000" stroke-width="1.3"/>
<line x1="878.74" y1="1417.98" x2="871.01" y2="1413.37" stroke="#000" stroke-width="1.3"/>
<line x1="888.7" y1="1413.79" x2="884.83" y2="1411.49" stroke="#000" stroke-width="1.3"/>
<line x1="898.65" y1="1409.6" x2="894.79" y2="1407.3" stroke="#000" stroke-width="1.3"/>
<line x1="908.61" y1="1405.42" x2="904.74" y2="1403.11" stroke="#000" stroke-width="1.3"/>
<line x1="918.56" y1="1401.23" x2="914.7" y2="1398.92" stroke="#000" stroke-width="1.3"/>
<line x1="928.52" y1="1397.04" x2="924.65" y2="1394.74" stroke="#000" stroke-width="1.3"/>
<line x1="938.48" y1="1392.85" x2="934.61" y2="1390.55" stroke="#000" stroke-width="1.3"/>
<line x1="948.43" y1="1388.66" x2="944.57" y2="1386.36" stroke="#000" stroke-width="1.3"/>
<line x1="958.39" y1="1384.48" x2="954.52" y2="1382.17" stroke="#000" stroke-width="1.3"/>
<line x1="968.34" y1="1380.29" x2="964.48" y2="1377.98" stroke="#000" stroke-width="1.3"/>
<line x1="978.3" y1="1376.1" x2="970.57" y2="1371.49" stroke="#000" stroke-width="1.3"/>
<text transform="matrix(0.94 -0.61 0.59 0.81 515.44 1608.24)" font-family="Liberation Sans" font-size="28" text-anchor="middle">0</text>
<text transform="matrix(0.94 -0.61 0.59 0.81 617.34 1569.64)" font-family="Liberation Sans" font-size="28" text-anchor="middle">10</text>
<text transform="matrix(0.94 -0.61 0.59 0.81 715.04 1527.04)" font-family="Liberation Sans" font-size="28" text-anchor="middle">20</text>
<text transform="matrix(0.94 -0.61 0.59 0.81 814.24 1484.44)" font-family="Liberation Sans" font-size="28" text-anchor="middle">30</text>
<text transform="matrix(0.94 -0.61 0.59 0.81 913.34 1444.44)" font-family="Liberation Sans" font-size="28" text-anchor="middle">40</text>
<text transform="matrix(0.94 -0.61 0.59 0.81 998.74 1403.04)" font-family="Liberation Sans" font-size="28" text-anchor="middle">50</text>
<text transform="matrix(0.9 -0.43 0.62 0.79 858.2 1533.72)" font-family="Liberation Sans" font-size="39" text-anchor="middle">Sample Number</text>
</svg></body></html>
